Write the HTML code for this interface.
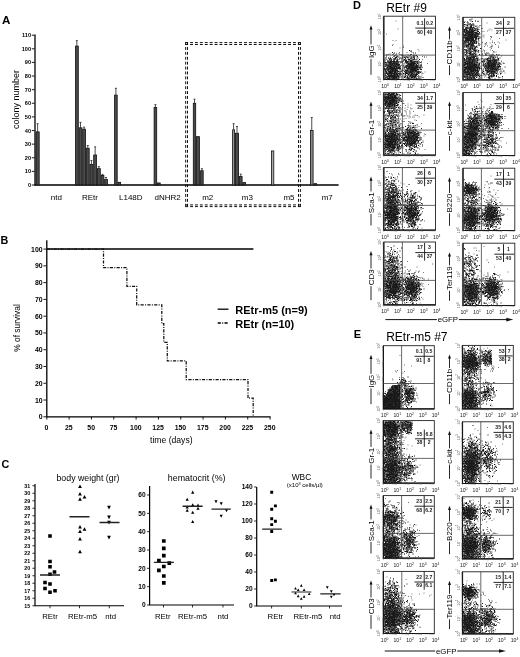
<!DOCTYPE html>
<html><head><meta charset="utf-8"><style>
html,body{margin:0;padding:0;background:#fff;}
body{filter:grayscale(1);}
svg{display:block;font-family:"Liberation Sans",sans-serif;}
</style></head><body>
<svg width="520" height="657" viewBox="0 0 520 657" font-family="Liberation Sans, sans-serif">
<defs><filter id="bl" filterUnits="userSpaceOnUse" x="0" y="0" width="520" height="657"><feGaussianBlur stdDeviation="0.4"/></filter></defs>
<rect width="520" height="657" fill="#fff"/>
<g id="A">
<text x="2" y="23.8" font-size="11.6" font-weight="bold">A</text>
<path d="M35 34.58V185.6" stroke="#000" stroke-width="1.3" fill="none"/>
<path d="M31.8 185h2.8M31.8 171.38h2.8M31.8 157.76h2.8M31.8 144.14h2.8M31.8 130.52h2.8M31.8 116.9h2.8M31.8 103.28h2.8M31.8 89.66h2.8M31.8 76.04h2.8M31.8 62.42h2.8M31.8 48.8h2.8M31.8 35.18h2.8" stroke="#000" stroke-width="0.9"/>
<g font-size="5.6" font-weight="bold" text-anchor="end">
<text x="31" y="187">0</text>
<text x="31" y="173.38">10</text>
<text x="31" y="159.76">20</text>
<text x="31" y="146.14">30</text>
<text x="31" y="132.52">40</text>
<text x="31" y="118.9">50</text>
<text x="31" y="105.28">60</text>
<text x="31" y="91.66">70</text>
<text x="31" y="78.04">80</text>
<text x="31" y="64.42">90</text>
<text x="31" y="50.8">100</text>
<text x="31" y="37.18">110</text>
</g>
<text transform="translate(18.6 99.5) rotate(-90)" font-size="9" text-anchor="middle">colony number</text>
<path d="M34.4 185H338.6" stroke="#000" stroke-width="1.4"/>
<path d="M37.6 131.88V123.71M36.6 123.71h2" stroke="#222" stroke-width="0.8"/>
<rect x="36" y="131.88" width="3.2" height="53.12" fill="#4a4a4a" stroke="#111" stroke-width="0.8"/>
<path d="M76.85 46.08V40.63M75.85 40.63h2" stroke="#222" stroke-width="0.8"/>
<rect x="75.4" y="46.08" width="2.9" height="138.92" fill="#4a4a4a" stroke="#111" stroke-width="0.8"/>
<path d="M80.5 127.8V122.35M79.5 122.35h2" stroke="#222" stroke-width="0.8"/>
<rect x="79.1" y="127.8" width="2.8" height="57.2" fill="#4a4a4a" stroke="#111" stroke-width="0.8"/>
<path d="M84.1 129.16V127.11M83.1 127.11h2" stroke="#222" stroke-width="0.8"/>
<rect x="82.7" y="129.16" width="2.8" height="55.84" fill="#4a4a4a" stroke="#111" stroke-width="0.8"/>
<path d="M87.75 148.23V145.5M86.75 145.5h2" stroke="#222" stroke-width="0.8"/>
<rect x="86.3" y="148.23" width="2.9" height="36.77" fill="#4a4a4a" stroke="#111" stroke-width="0.8"/>
<path d="M91.45 164.57V160.48M90.45 160.48h2" stroke="#222" stroke-width="0.8"/>
<rect x="90" y="164.57" width="2.9" height="20.43" fill="#4a4a4a" stroke="#111" stroke-width="0.8"/>
<path d="M95.15 155.04V146.86M94.15 146.86h2" stroke="#222" stroke-width="0.8"/>
<rect x="93.7" y="155.04" width="2.9" height="29.96" fill="#4a4a4a" stroke="#111" stroke-width="0.8"/>
<path d="M98.85 168.66V166.61M97.85 166.61h2" stroke="#222" stroke-width="0.8"/>
<rect x="97.4" y="168.66" width="2.9" height="16.34" fill="#4a4a4a" stroke="#111" stroke-width="0.8"/>
<path d="M102.5 175.47V174.38M101.5 174.38h2" stroke="#222" stroke-width="0.8"/>
<rect x="101.1" y="175.47" width="2.8" height="9.53" fill="#4a4a4a" stroke="#111" stroke-width="0.8"/>
<path d="M106.05 179.55V177.51M105.05 177.51h2" stroke="#222" stroke-width="0.8"/>
<rect x="104.7" y="179.55" width="2.7" height="5.45" fill="#4a4a4a" stroke="#111" stroke-width="0.8"/>
<path d="M115.9 95.11V88.3M114.9 88.3h2" stroke="#222" stroke-width="0.8"/>
<rect x="114.6" y="95.11" width="2.6" height="89.89" fill="#4a4a4a" stroke="#111" stroke-width="0.8"/>
<rect x="118" y="182.28" width="2.6" height="2.72" fill="#4a4a4a" stroke="#111" stroke-width="0.8"/>
<path d="M155.4 107.37V104.64M154.4 104.64h2" stroke="#222" stroke-width="0.8"/>
<rect x="154.1" y="107.37" width="2.6" height="77.63" fill="#4a4a4a" stroke="#111" stroke-width="0.8"/>
<rect x="157.5" y="182.96" width="2.7" height="2.04" fill="#4a4a4a" stroke="#111" stroke-width="0.8"/>
<path d="M194.5 103.28V99.19M193.5 99.19h2" stroke="#222" stroke-width="0.8"/>
<rect x="193.3" y="103.28" width="2.4" height="81.72" fill="#4a4a4a" stroke="#111" stroke-width="0.8"/>
<rect x="196.5" y="136.65" width="2.9" height="48.35" fill="#4a4a4a" stroke="#111" stroke-width="0.8"/>
<path d="M201.9 170.7V168.66M200.9 168.66h2" stroke="#222" stroke-width="0.8"/>
<rect x="200.6" y="170.7" width="2.6" height="14.3" fill="#4a4a4a" stroke="#111" stroke-width="0.8"/>
<path d="M233.6 129.84V123.71M232.6 123.71h2" stroke="#222" stroke-width="0.8"/>
<rect x="232.6" y="129.84" width="2" height="55.16" fill="#999" stroke="#111" stroke-width="0.8"/>
<path d="M237 133.24V126.43M236 126.43h2" stroke="#222" stroke-width="0.8"/>
<rect x="235.4" y="133.24" width="3.2" height="51.76" fill="#4a4a4a" stroke="#111" stroke-width="0.8"/>
<path d="M240.75 176.42V174.1M239.75 174.1h2" stroke="#222" stroke-width="0.8"/>
<rect x="239.4" y="176.42" width="2.7" height="8.58" fill="#4a4a4a" stroke="#111" stroke-width="0.8"/>
<rect x="242.9" y="182.55" width="2.6" height="2.45" fill="#4a4a4a" stroke="#111" stroke-width="0.8"/>
<rect x="271.4" y="150.95" width="2.4" height="34.05" fill="#aaa" stroke="#111" stroke-width="0.8"/>
<path d="M311.75 130.52V117.58M310.75 117.58h2" stroke="#222" stroke-width="0.8"/>
<rect x="310.4" y="130.52" width="2.7" height="54.48" fill="#888" stroke="#111" stroke-width="0.8"/>
<rect x="313.9" y="183.64" width="2.7" height="1.36" fill="#4a4a4a" stroke="#111" stroke-width="0.8"/>
<path d="M185.2 42.6H301M185.2 44.5H301M185.2 204.9H301M185.2 206.6H301" stroke="#111" stroke-width="1" stroke-dasharray="2.9 2" fill="none"/>
<path d="M185.7 42.1V207M187.5 42.1V207M298.5 42.1V207M300.4 42.1V207" stroke="#111" stroke-width="1" stroke-dasharray="2.9 2" fill="none"/>
<g font-size="8" text-anchor="middle">
<text x="56.3" y="199.5">ntd</text>
<text x="90" y="199.5">REtr</text>
<text x="130.8" y="199.5">L148D</text>
<text x="167.7" y="199.5">dNHR2</text>
<text x="207.7" y="199.5">m2</text>
<text x="247.3" y="199.5">m3</text>
<text x="289" y="199.5">m5</text>
<text x="327.2" y="199.5">m7</text>
</g>
</g>
<g id="B">
<text x="0.6" y="243.6" font-size="10.8" font-weight="bold">B</text>
<path d="M46.8 240.2V416.8H270.55" stroke="#000" stroke-width="1.3" fill="none"/>
<path d="M43.4 416.8h2.8M43.4 400.03h2.8M43.4 383.26h2.8M43.4 366.49h2.8M43.4 349.72h2.8M43.4 332.95h2.8M43.4 316.18h2.8M43.4 299.41h2.8M43.4 282.64h2.8M43.4 265.87h2.8M43.4 249.1h2.8" stroke="#000" stroke-width="0.9"/>
<path d="M46.8 416.8v2.8M69.12 416.8v2.8M91.45 416.8v2.8M113.77 416.8v2.8M136.1 416.8v2.8M158.43 416.8v2.8M180.75 416.8v2.8M203.07 416.8v2.8M225.4 416.8v2.8M247.73 416.8v2.8M270.05 416.8v2.8" stroke="#000" stroke-width="0.9"/>
<g font-size="6.9" font-weight="bold" text-anchor="end">
<text x="42.6" y="419.3">0</text>
<text x="42.6" y="402.53">10</text>
<text x="42.6" y="385.76">20</text>
<text x="42.6" y="368.99">30</text>
<text x="42.6" y="352.22">40</text>
<text x="42.6" y="335.45">50</text>
<text x="42.6" y="318.68">60</text>
<text x="42.6" y="301.91">70</text>
<text x="42.6" y="285.14">80</text>
<text x="42.6" y="268.37">90</text>
<text x="42.6" y="251.6">100</text>
</g>
<g font-size="6.9" font-weight="bold" text-anchor="middle">
<text x="46.5" y="430">0</text>
<text x="68.83" y="430">25</text>
<text x="91.15" y="430">50</text>
<text x="113.47" y="430">75</text>
<text x="135.8" y="430">100</text>
<text x="158.12" y="430">125</text>
<text x="180.45" y="430">150</text>
<text x="202.77" y="430">175</text>
<text x="225.1" y="430">200</text>
<text x="247.43" y="430">225</text>
<text x="269.75" y="430">250</text>
</g>
<text x="171.3" y="443.3" font-size="8.6" text-anchor="middle">time (days)</text>
<text transform="translate(19.9 328) rotate(-90)" font-size="8.4" text-anchor="middle">% of survival</text>
<path d="M46.8 249.1H253.4" stroke="#000" stroke-width="1.5"/>
<path d="M46.8 249.1H103.5V267.71H126.9V286.33H136.7V304.94H161.8V323.56H163.8V342.34H167.3V360.96H186.2V379.57H248V398.19H253.2V416.8" stroke="#111" stroke-width="1.25" fill="none" stroke-dasharray="3.2 1.3 1 1.3"/>
<path d="M217.7 309.2H228.5" stroke="#000" stroke-width="1.3"/>
<path d="M217.7 323H228.5" stroke="#000" stroke-width="1.3" stroke-dasharray="3.2 1.3 1 1.3"/>
<g font-size="11" font-weight="bold">
<text x="235.3" y="313.6">REtr-m5 (n=9)</text>
<text x="235.3" y="327.6">REtr (n=10)</text>
</g>
</g>
<g id="C">
<text x="1.5" y="468" font-size="10.8" font-weight="bold">C</text>
<path d="M35 484V605.75H124" stroke="#000" stroke-width="1.2" fill="none"/>
<path d="M32.4 605.75h2.5M32.4 598.25h2.5M32.4 590.75h2.5M32.4 583.25h2.5M32.4 575.75h2.5M32.4 568.25h2.5M32.4 560.75h2.5M32.4 553.25h2.5M32.4 545.75h2.5M32.4 538.25h2.5M32.4 530.75h2.5M32.4 523.25h2.5M32.4 515.75h2.5M32.4 508.25h2.5M32.4 500.75h2.5M32.4 493.25h2.5M32.4 485.75h2.5" stroke="#000" stroke-width="0.8"/>
<path d="M50 605.75v2.5M79.5 605.75v2.5M109.3 605.75v2.5" stroke="#000" stroke-width="0.8"/>
<g font-size="5.3" font-weight="bold" text-anchor="end">
<text x="30.2" y="607.65">15</text>
<text x="30.2" y="600.15">16</text>
<text x="30.2" y="592.65">17</text>
<text x="30.2" y="585.15">18</text>
<text x="30.2" y="577.65">19</text>
<text x="30.2" y="570.15">20</text>
<text x="30.2" y="562.65">21</text>
<text x="30.2" y="555.15">22</text>
<text x="30.2" y="547.65">23</text>
<text x="30.2" y="540.15">24</text>
<text x="30.2" y="532.65">25</text>
<text x="30.2" y="525.15">26</text>
<text x="30.2" y="517.65">27</text>
<text x="30.2" y="510.15">28</text>
<text x="30.2" y="502.65">29</text>
<text x="30.2" y="495.15">30</text>
<text x="30.2" y="487.65">31</text>
</g>
<text x="88" y="480.6" font-size="8.8" text-anchor="middle">body weight (gr)</text>
<g font-size="7.8" text-anchor="middle">
<text x="50" y="618.6">REtr</text>
<text x="82.5" y="618.6">REtr-m5</text>
<text x="110.6" y="618.6">ntd</text>
</g>
<path d="M48.2 534.2h3.6v3.6h-3.6zM48.2 559.7h3.6v3.6h-3.6zM48.2 564.95h3.6v3.6h-3.6zM52.7 570.2h3.6v3.6h-3.6zM48.2 572.45h3.6v3.6h-3.6zM43.2 580.7h3.6v3.6h-3.6zM48.2 582.2h3.6v3.6h-3.6zM43.2 586.7h3.6v3.6h-3.6zM48.2 590.45h3.6v3.6h-3.6zM53.2 588.95h3.6v3.6h-3.6zM80 484.45l1.9 3.61h-3.8zM80 491.95l1.9 3.61h-3.8zM80 497.2l1.9 3.61h-3.8zM84.5 494.95l1.9 3.61h-3.8zM80 524.95l1.9 3.61h-3.8zM84.5 527.2l1.9 3.61h-3.8zM80 529.45l1.9 3.61h-3.8zM80 536.95l1.9 3.61h-3.8zM80 549.7l1.9 3.61h-3.8zM109 509.4l1.9 -3.61h-3.8zM109 519.15l1.9 -3.61h-3.8zM109 524.4l1.9 -3.61h-3.8zM109 539.4l1.9 -3.61h-3.8z" fill="#000"/>
<path d="M40 575.1H60M69.5 516.8H89.5M99.5 522.5H119.5" stroke="#222" stroke-width="1.5"/>
<path d="M149.6 486V605H234" stroke="#000" stroke-width="1.2" fill="none"/>
<path d="M147 605h2.5M147 586.67h2.5M147 568.34h2.5M147 550.01h2.5M147 531.68h2.5M147 513.35h2.5M147 495.02h2.5" stroke="#000" stroke-width="0.8"/>
<path d="M163.5 605v2.5M192.5 605v2.5M223 605v2.5" stroke="#000" stroke-width="0.8"/>
<g font-size="6.6" font-weight="bold" text-anchor="end">
<text x="145.6" y="607.3">0</text>
<text x="145.6" y="588.97">10</text>
<text x="145.6" y="570.64">20</text>
<text x="145.6" y="552.31">30</text>
<text x="145.6" y="533.98">40</text>
<text x="145.6" y="515.65">50</text>
<text x="145.6" y="497.32">60</text>
</g>
<text x="196.7" y="480.7" font-size="8.9" text-anchor="middle">hematocrit (%)</text>
<g font-size="7.8" text-anchor="middle">
<text x="162.7" y="619.4">REtr</text>
<text x="192.5" y="619.4">REtr-m5</text>
<text x="223" y="619.4">ntd</text>
</g>
<path d="M161.95 539.15h3.7v3.7h-3.7zM161.95 546.45h3.7v3.7h-3.7zM161.95 553.75h3.7v3.7h-3.7zM157.05 558.85h3.7v3.7h-3.7zM167.45 561.25h3.7v3.7h-3.7zM161.95 564.65h3.7v3.7h-3.7zM157.05 568.55h3.7v3.7h-3.7zM161.95 574.15h3.7v3.7h-3.7zM161.95 581.05h3.7v3.7h-3.7zM192.7 490.6l1.6 3.04h-3.2zM187.2 497.8l1.6 3.04h-3.2zM192.7 503.3l1.6 3.04h-3.2zM198 503.6l1.6 3.04h-3.2zM187.2 505.4l1.6 3.04h-3.2zM187.2 508.8l1.6 3.04h-3.2zM198 506.7l1.6 3.04h-3.2zM192.7 510.7l1.6 3.04h-3.2zM192.7 520l1.6 3.04h-3.2zM216 503.2l1.6 -3.04h-3.2zM221.2 505.3l1.6 -3.04h-3.2zM226.5 512.2l1.6 -3.04h-3.2zM221.2 517.8l1.6 -3.04h-3.2z" fill="#000"/>
<path d="M153.9 562.4H173.9M182.6 506.2H202.7M211.5 509.1H230.8" stroke="#222" stroke-width="1.4"/>
<path d="M256.7 487V606H342" stroke="#000" stroke-width="1.2" fill="none"/>
<path d="M254.1 606h2.5M254.1 589h2.5M254.1 572h2.5M254.1 555h2.5M254.1 538h2.5M254.1 521h2.5M254.1 504h2.5M254.1 487h2.5" stroke="#000" stroke-width="0.8"/>
<path d="M271.6 606v2.5M301.3 606v2.5M329.5 606v2.5" stroke="#000" stroke-width="0.8"/>
<g font-size="6.6" font-weight="bold" text-anchor="end">
<text x="252.7" y="608.3">0</text>
<text x="252.7" y="591.3">20</text>
<text x="252.7" y="574.3">40</text>
<text x="252.7" y="557.3">60</text>
<text x="252.7" y="540.3">80</text>
<text x="252.7" y="523.3">100</text>
<text x="252.7" y="506.3">120</text>
<text x="252.7" y="489.3">140</text>
</g>
<text x="301.5" y="479.8" font-size="8.4" text-anchor="middle">WBC</text>
<text x="304.8" y="487.4" font-size="6" text-anchor="middle">(x10<tspan font-size="3.8" dy="-2">3</tspan><tspan dy="2"> cells/µl)</tspan></text>
<g font-size="7.8" text-anchor="middle">
<text x="275.4" y="619">REtr</text>
<text x="307.9" y="619">REtr-m5</text>
<text x="335.1" y="619">ntd</text>
</g>
<path d="M270.25 490.75h2.9v2.9h-2.9zM273.95 504.45h2.9v2.9h-2.9zM270.25 507.75h2.9v2.9h-2.9zM270.25 517.25h2.9v2.9h-2.9zM273.95 519.85h2.9v2.9h-2.9zM270.25 523.15h2.9v2.9h-2.9zM270.25 530.05h2.9v2.9h-2.9zM270.25 579.05h2.9v2.9h-2.9zM273.95 578.45h2.9v2.9h-2.9zM301.3 584l1.4 2.66h-2.8zM295.5 586.9l1.4 2.66h-2.8zM298.2 588.4l1.4 2.66h-2.8zM304.1 588.4l1.4 2.66h-2.8zM309.2 592.4l1.4 2.66h-2.8zM298.2 594.6l1.4 2.66h-2.8zM301.3 597.2l1.4 2.66h-2.8zM304.1 595l1.4 2.66h-2.8zM295.5 591.7l1.4 2.66h-2.8zM327.3 589l1.4 -2.66h-2.8zM331.3 593l1.4 -2.66h-2.8zM334 596.3l1.4 -2.66h-2.8zM331.3 598.5l1.4 -2.66h-2.8z" fill="#000"/>
<path d="M262.2 529.2H281.8M291.5 592H311.4M320.3 593.8H340.6" stroke="#222" stroke-width="1.2"/>
</g>
<g id="D">
<text x="353" y="9.2" font-size="11" font-weight="bold">D</text>
<text x="386.2" y="11.8" font-size="12">REtr #9</text>
<text x="353.8" y="338.3" font-size="11" font-weight="bold">E</text>
<text x="386.2" y="341" font-size="12">REtr-m5 #7</text>
<path d="M395.5 21h1M397.5 29h1M386 34h1M392.5 40.5h1m2 0h1M392.5 44.5h1M392 45.5h1M403 46h1M403 47.5h1M399.5 48h1M417.5 49.5h1M410.5 50.5h1M411 51h1m6.5 0h1M399 52.5h1m6.5 0h1m4 0h1M398.5 53.5h1M392 54.5h1m14.5 0h1m1.5 0h1M395 55h1m6 0h1m2.5 0h1m9 0h1M404.5 55.5h1m4 0h1M406 56.5h1m7 0h1m7 0h1M389.5 57h1m4 0h1m2 0h1m3 0h1m2.5 0h1m4 0h1.5m2 0h1.5m11 0h1M392 57.5h1m15 0h1M400 58h1M410 58.5h1.5M386 59h1m20 0h1m3 0h1m0 0h1m1 0h1M384.5 59.5h1m0.5 0h1m2.5 0h1m1 0h1m1 0h1m19.5 0h1m1.5 0h1m4.5 0h1M384.5 60h1m1.5 0h1m6 0h1m1 0h1m7.5 0h1M418 60.5h1M397.5 61h1m12 0h1m3.5 0h1M387 61.5h1m0 0h1m0.5 0h1m7 0h1m10 0h1m1 0h1m3.5 0h1m5 0h1M384.5 62h1m15.5 0h1M384.5 62.5h1m1 0h1m5 0h1m1 0h1m5 0h1m9 0h1m8.5 0h1M387 63h1m4 0h1m3.5 0h1m2.5 0h1m1 0h1m8 0h1.5m0 0h1M385.5 63.5h1.5m2 0h1m0 0h1m2 0h1m3 0h1m11 0h1m0 0h1m6.5 0h1m8.5 0h1M384.5 64h1m6 0h1m3.5 0h1m0.5 0h1m0.5 0h1m11 0h1m6 0h1m0 0h1m1 0h1M384.5 64.5h1.5m0 0h1m20 0h1m7.5 0h1M387 65h1m3.5 0h1m9 0h1m3 0h1m2 0h1M386 65.5h2m1.5 0h1.5m1 0h1m8 0h1m1 0h1m10.5 0h1m0 0h1M385.5 66h1m0.5 0h1m0.5 0h1m7.5 0h1m8.5 0h1m10.5 0h1M386 66.5h1m0 0h1m5 0h1m0 0h1m3.5 0h1m3 0h1m1 0h1m1 0h1m3.5 0h1m0.5 0h1m0 0h1m3.5 0h1M398 67h1m0 0h1m5 0h1m9 0h1m5.5 0h1M392 67.5h1m0.5 0h1m13.5 0h1m8 0h1m2 0h1m1 0h1M386.5 68h1m13 0h1m2.5 0h1m10 0h1M387.5 68.5h1m11 0h1m5.5 0h1m0 0h1m0.5 0h1m3 0h1m1 0h1m0 0h1.5M386 69h1.5m5.5 0h1m1 0h1m0 0h1m0 0h1m14.5 0h1m6.5 0h1M387.5 69.5h1m4 0h1m2.5 0h1.5m2.5 0h1m6 0h1m7.5 0h1M391 70h1m5 0h1m0.5 0h1m1 0h1.5m6 0h1M388.5 70.5h1m13.5 0h1m0.5 0h1m0 0h1m1.5 0h1.5M392.5 71h1m5 0h1m11 0h1m3.5 0h1m1.5 0h1M386 71.5h1m6.5 0h1m2.5 0h1.5m2.5 0h1m5.5 0h1m8 0h1.5M386.5 72h1m4 0h1m9 0h1m16 0h1m5 0h1M397 72.5h1m11.5 0h1m3 0h1.5m3.5 0h1M385 73h1.5m8 0h1m0.5 0h1m11 0h1.5m0.5 0h1.5M393 73.5h1m3.5 0h1m0.5 0h1m0 0h1m4 0h1m16.5 0h1M387.5 74h1m4 0h1m4.5 0h1.5m13.5 0h1M393 74.5h1m0.5 0h1m8 0h1M394 75h1.5m5 0h1m14.5 0h1m4.5 0h1M389 75.5h1m2.5 0h1m2 0h1m3.5 0h1m3.5 0h1m0.5 0h1m1.5 0h1m4.5 0h1m3 0h1M386.5 76h1m0.5 0h1m11.5 0h1m12 0h1M387 76.5h1m0.5 0h1m1.5 0h1m9 0h1m2 0h1m4 0h1m0 0h1m0 0h1m3.5 0h1m0 0h2m2 0h1M388.5 77h1m0.5 0h1m1 0h1.5m4 0h1m2.5 0h1m2 0h1m7 0h1m5 0h1M387.5 77.5h1m4 0h1m1 0h1m0 0h1m18 0h1M385 78h1m3.5 0h1m7.5 0h1m2 0h1m1 0h1m1 0h1m1 0h1m3 0h1m1.5 0h1m6.5 0h1M389 78.5h1m2 0h1m14.5 0h1m0.5 0h1.5m8 0h1M387 79h1m18 0h1m6 0h1m3.5 0h1" stroke="#777" stroke-width="1" fill="none"/>
<path d="M409 50.5h1M410.5 51.5h1M392 52.5h1M394 53h1m18 0h1m1 0h1M389.5 54h1m2.5 0h1m2 0h1M387.5 54.5h1m11 0h1m10.5 0h1M386 55h1m14.5 0h1m0 0h1m6.5 0h1m2.5 0h1M394.5 55.5h1m6 0h1m11 0h1m1.5 0h1M393.5 56h1m2 0h1m5 0h1m4 0h1m0 0h1m3 0h1m0 0h1m1 0h1M393.5 56.5h1m2 0h1m19.5 0h1M386 57h1m9.5 0h1m1 0h1m2.5 0h1m0.5 0h2m0.5 0h1.5m2 0h1m0.5 0h1m0.5 0h1.5m10 0h1M395 57.5h1m0 0h1m7 0h1.5m1.5 0h1m5 0h1.5M385 58h1m2 0h1m1 0h1m4.5 0h1m3 0h1m1 0h1m0 0h1m7.5 0h1.5m1 0h1.5m1.5 0h1m0 0h1M388.5 58.5h1m0.5 0h1m2.5 0h1m0 0h1.5m5.5 0h1m2.5 0h1m8 0h1M389.5 59h2.5m2 0h1.5m1.5 0h1m1 0h1m8 0h1m0.5 0h1m0 0h1M389 59.5h1m4.5 0h1m2 0h1m5.5 0h1.5m2.5 0h2m3 0h1.5m1 0h1m2.5 0h1M391 60h1m1 0h1m2.5 0h1m3.5 0h1m1 0h1m2 0h1m1 0h1m3 0h1m0.5 0h1M389.5 60.5h1m0.5 0h1m1.5 0h1m2.5 0h1m5.5 0h1m0.5 0h1m0 0h1m2.5 0h1.5m0 0h1M384.5 61h1m1.5 0h1m0 0h1m0.5 0h1m0 0h1.5m1 0h1.5m1.5 0h1m12.5 0h1m0.5 0h1.5m0 0h1m3 0h1M390 61.5h1.5m0.5 0h3m0.5 0h2.5m1.5 0h1m1 0h1m0 0h1m1.5 0h1m0 0h1m0 0h1.5m1.5 0h1m0 0h1m0.5 0h1m0.5 0h1.5m0 0h1m0.5 0h1m0.5 0h1M388 62h1m0 0h1m0 0h1m0 0h1m1 0h1m0 0h2m0 0h1m1 0h1m0.5 0h1m4.5 0h1m0 0h1m0.5 0h1m0 0h1m1 0h1.5m0.5 0h1m0 0h1m0.5 0h1.5m0 0h1M385 62.5h1.5m1.5 0h1m0 0h1m0 0h2m1 0h1.5m1 0h1m1 0h1m3 0h1m3 0h1m0.5 0h1.5m1 0h1m0.5 0h1m0 0h1m0 0h1m0 0h1m1.5 0h1m0 0h1m1 0h1m0 0h1M384.5 63h1m1 0h1m1 0h1m0.5 0h1m0 0h1.5m0.5 0h1m0 0h1m0 0h1.5m0.5 0h1.5m6 0h1m0.5 0h1m3.5 0h1m0.5 0h1m0 0h2m2.5 0h1M388.5 63.5h1m0 0h1m0 0h1m0.5 0h1.5m0 0h2m0.5 0h1.5m0 0h1m8 0h1m0 0h1.5m0.5 0h1m0 0h3.5m0 0h2m0.5 0h1.5M389 64h1.5m0.5 0h1m0 0h2m0 0h2m1 0h1m5.5 0h1m4 0h1.5m0 0h1.5m1 0h1m0 0h1.5M386.5 64.5h1m1 0h1m0 0h1.5m0.5 0h1.5m1 0h1.5m0.5 0h1m0 0h1m0 0h2m8 0h5m0 0h1.5m1.5 0h1M385 65h1m0 0h1m0.5 0h1.5m0 0h2m0 0h1m0.5 0h1.5m0 0h1m0 0h1.5m0.5 0h1m9 0h2m0 0h1.5m0 0h1m0 0h3m0 0h1m0 0h1m1 0h1.5m1 0h1m0 0h1M387.5 65.5h1m0 0h1m1.5 0h1m1 0h1m0.5 0h1m0 0h1m0 0h1m0 0h2m6.5 0h2m1 0h3m0 0h2.5m1.5 0h1m0 0h1M385 66h1m1.5 0h1.5m0 0h2.5m0 0h1m0 0h1m0 0h1.5m0 0h1m3 0h1m0 0h1m2.5 0h1m0.5 0h1m0 0h1m0.5 0h1m0 0h1m0 0h1.5m1.5 0h2.5m0.5 0h1.5m2 0h1m0 0h2M384.5 66.5h1m3 0h3m0 0h1m2 0h1.5m0 0h1m0.5 0h1m7 0h1m1 0h1.5m0 0h2.5m0 0h1.5m0 0h1m0.5 0h1.5m0 0h1m0 0h1.5M387.5 67h1m0 0h1.5m0.5 0h1m0 0h1m0 0h2m0 0h2.5m0.5 0h1m1 0h1.5m4.5 0h2m1 0h1m0 0h2m0 0h1m0 0h1.5m0.5 0h1m0.5 0h1m0 0h1m2.5 0h1M387 67.5h1m0.5 0h1m0 0h1.5m0 0h1.5m0 0h1m0.5 0h1m1 0h1m0.5 0h2.5m3.5 0h1m0 0h1m0.5 0h1m1.5 0h2m0 0h1.5m0 0h1.5m0 0h1.5m0 0h1m0 0h1.5m0 0h1m0 0h2M386 68h1m0 0h1.5m0 0h3m0.5 0h1m0 0h1.5m0 0h1m0.5 0h2m1 0h1m6 0h1m0 0h1m0 0h1.5m0 0h4.5m0.5 0h1m1.5 0h1m0.5 0h2m0 0h1M384 68.5h1m0.5 0h1m2 0h1m0 0h1.5m0 0h3m0 0h2.5m0 0h3.5m0 0h1m6.5 0h1.5m0 0h1.5m0.5 0h2m0 0h1m0 0h1m0 0h1m0.5 0h1M384.5 69h1m1.5 0h1.5m0 0h1m0 0h4m0 0h1m1 0h1m0 0h1m1.5 0h1m2.5 0h1m0.5 0h1m2 0h2m0.5 0h2m0 0h1.5m0.5 0h1m0 0h1.5m0 0h1m0 0h1m0.5 0h1M384.5 69.5h1m0 0h1m0 0h1m0.5 0h1.5m1 0h2.5m0 0h1.5m0 0h2m9 0h1m3 0h1.5m0 0h3m0 0h1m0 0h1m1 0h1m0 0h1m1 0h1m0 0h1M384.5 70h1m1.5 0h1m0.5 0h1m0 0h2m0.5 0h5m5 0h1m4 0h1m0.5 0h1m0.5 0h1.5m0 0h1.5m0 0h1m0.5 0h2m0 0h2M385 70.5h1m1.5 0h1m1.5 0h1.5m0.5 0h1.5m0 0h1m0.5 0h1m0 0h1m0 0h1m4 0h1m2 0h1m0 0h1m0 0h1m2 0h1.5m0 0h2.5m0 0h1m0 0h1m0 0h1M385 71h1m0 0h1m0.5 0h1m1.5 0h1.5m0 0h1.5m0 0h1m0 0h3m0 0h1m2.5 0h1m4.5 0h2.5m1 0h1.5m0 0h1m1 0h1m1.5 0h1.5M385.5 71.5h1m1.5 0h1m0 0h3m0 0h1.5m0.5 0h2m0.5 0h1m0.5 0h1.5m1 0h1m2.5 0h1m0.5 0h1m2 0h1m0.5 0h1.5m0 0h2m0 0h1m0.5 0h1.5m1.5 0h1.5m1 0h1M385 72h1m2 0h1.5m1 0h1.5m0 0h1m0.5 0h2m4 0h1m4 0h1.5m0 0h2m0 0h2.5m0 0h4.5m0 0h1m0 0h2m1 0h1M386 72.5h1m2 0h2m0 0h1.5m1.5 0h2.5m8.5 0h1.5m0 0h1m1 0h1m0.5 0h2.5m4 0h1.5m0 0h1m1 0h1M386 73h1m0 0h3.5m0 0h1.5m0 0h1m0 0h2m0 0h1.5m0 0h1m0 0h1m0.5 0h1m0 0h1m4 0h1m0 0h1m2.5 0h1m0.5 0h1.5m1 0h1.5m3 0h1m2.5 0h1M384.5 73.5h1m0.5 0h1m0.5 0h1m0.5 0h1m0 0h1m0 0h1m0 0h1.5m0 0h2m0.5 0h1m1 0h1m4 0h1m0.5 0h1m0.5 0h1m0 0h1m0.5 0h1m1.5 0h2m3 0h1.5m0.5 0h1.5M385 74h1m1 0h1m0 0h4m0 0h1m0.5 0h2m0 0h1m0.5 0h1m1 0h1m0 0h1m0 0h1m3 0h1m2 0h1.5m0 0h1m1 0h1m0 0h1m0 0h1m0 0h1.5m0.5 0h1M387 74.5h1.5m0 0h1m1 0h1.5m2 0h1m0.5 0h2.5m1.5 0h1m4.5 0h1m2 0h1m1.5 0h1.5m0.5 0h1m0 0h1m0 0h1.5m0 0h1m0 0h1M385 75h1m3.5 0h1m0 0h1.5m1 0h1.5m0.5 0h1m0.5 0h1.5m0.5 0h1m7.5 0h2m0 0h1m0 0h1.5m0.5 0h1.5M384.5 75.5h1m0 0h1m1.5 0h1m0.5 0h2.5m0 0h1m0 0h2.5m1.5 0h1m0.5 0h1m10.5 0h1.5m0 0h1m1 0h1m0.5 0h2M385.5 76h1m1 0h1m0.5 0h1.5m0.5 0h1.5m0 0h1m0 0h2.5m0 0h1.5m0.5 0h1.5m3 0h1m1.5 0h1m4.5 0h1.5m0 0h2m1 0h1m2.5 0h1M386.5 76.5h1m0.5 0h1m0 0h1m0 0h1.5m0 0h3.5m0 0h1m0 0h1m0 0h1m0 0h1m6 0h1m1 0h1m1.5 0h1m1.5 0h2m0 0h1m0 0h1M384.5 77h1.5m5.5 0h1m1 0h1m1 0h1m2 0h2m4 0h1m1 0h1m0 0h1m2.5 0h1.5m2 0h1m4 0h1M385.5 77.5h1m0 0h1m1.5 0h1m0.5 0h1m0 0h1m0.5 0h1m0 0h1m0 0h1m0 0h1m0.5 0h1m5.5 0h1m2 0h1.5m1 0h1m0.5 0h1m0 0h1m1 0h1m0.5 0h1m6 0h1M385.5 78h1.5m0.5 0h1m0.5 0h1m1 0h2m0 0h1m1 0h1.5m2 0h1m7 0h1m1 0h1m3.5 0h1m4 0h1m0.5 0h1M384.5 78.5h1m1.5 0h1m0 0h1m0.5 0h1m2 0h1.5m0 0h1m0.5 0h1m0 0h1m0 0h1m9.5 0h1m5.5 0h1m0.5 0h1.5M388 79h2.5m0 0h1.5m0 0h1.5m1 0h1m0.5 0h1m0.5 0h1m8.5 0h1m1.5 0h1m0 0h1.5m0 0h1m0.5 0h1m5 0h1" stroke="#1a1a1a" stroke-width="1" fill="none"/>
<rect x="383.8" y="16.2" width="51.7" height="63.3" fill="none" stroke="#222" stroke-width="0.9"/>
<path d="M383.8 16.2V79.5H435.5" fill="none" stroke="#111" stroke-width="1.2"/>
<path d="M402.7 16.2V79.5M383.8 55.1H435.5" stroke="#444" stroke-width="0.8"/>
<path d="M424.6 18.3V35.5M415.3 28.1H434.9" stroke="#111" stroke-width="0.9"/>
<g font-size="5.1" font-weight="bold" text-anchor="middle" fill="#222">
<text x="420" y="24.8">0.1</text>
<text x="429.5" y="24.8">0.2</text>
<text x="420" y="33.5">60</text>
<text x="429.5" y="33.5">40</text>
</g>
<g font-size="4" fill="#555">
<text transform="translate(380.8 79.5) rotate(-90)" text-anchor="middle">10<tspan font-size="2.6" dy="-1.2">0</tspan></text>
<text transform="translate(380.8 63.67) rotate(-90)" text-anchor="middle">10<tspan font-size="2.6" dy="-1.2">1</tspan></text>
<text transform="translate(380.8 47.85) rotate(-90)" text-anchor="middle">10<tspan font-size="2.6" dy="-1.2">2</tspan></text>
<text transform="translate(380.8 32.03) rotate(-90)" text-anchor="middle">10<tspan font-size="2.6" dy="-1.2">3</tspan></text>
<text transform="translate(380.8 16.2) rotate(-90)" text-anchor="middle">10<tspan font-size="2.6" dy="-1.2">4</tspan></text>
</g>
<path d="M382.6 79.5h1.8M383.8 79.5v1.8M382.6 74.74h1.2M387.69 79.5v1.2M382.6 71.95h1.2M389.97 79.5v1.2M382.6 69.97h1.2M391.58 79.5v1.2M382.6 68.44h1.2M392.83 79.5v1.2M382.6 67.19h1.2M393.86 79.5v1.2M382.6 66.13h1.2M394.72 79.5v1.2M382.6 65.21h1.2M395.47 79.5v1.2M382.6 64.4h1.2M396.13 79.5v1.2M382.6 63.67h1.8M396.73 79.5v1.8M382.6 58.91h1.2M400.62 79.5v1.2M382.6 56.12h1.2M402.89 79.5v1.2M382.6 54.15h1.2M404.51 79.5v1.2M382.6 52.61h1.2M405.76 79.5v1.2M382.6 51.36h1.2M406.78 79.5v1.2M382.6 50.3h1.2M407.65 79.5v1.2M382.6 49.38h1.2M408.4 79.5v1.2M382.6 48.57h1.2M409.06 79.5v1.2M382.6 47.85h1.8M409.65 79.5v1.8M382.6 43.09h1.2M413.54 79.5v1.2M382.6 40.3h1.2M415.82 79.5v1.2M382.6 38.32h1.2M417.43 79.5v1.2M382.6 36.79h1.2M418.68 79.5v1.2M382.6 35.54h1.2M419.71 79.5v1.2M382.6 34.48h1.2M420.57 79.5v1.2M382.6 33.56h1.2M421.32 79.5v1.2M382.6 32.75h1.2M421.98 79.5v1.2M382.6 32.03h1.8M422.57 79.5v1.8M382.6 27.26h1.2M426.47 79.5v1.2M382.6 24.47h1.2M428.74 79.5v1.2M382.6 22.5h1.2M430.36 79.5v1.2M382.6 20.96h1.2M431.61 79.5v1.2M382.6 19.71h1.2M432.63 79.5v1.2M382.6 18.65h1.2M433.5 79.5v1.2M382.6 17.73h1.2M434.25 79.5v1.2M382.6 16.92h1.2M434.91 79.5v1.2" stroke="#555" stroke-width="0.4"/>
<g font-size="5.1" fill="#1a1a1a" text-anchor="middle">
<text x="385" y="87.8">10<tspan font-size="3.4" dy="-1.8">0</tspan></text>
<text x="397.93" y="87.8">10<tspan font-size="3.4" dy="-1.8">1</tspan></text>
<text x="410.85" y="87.8">10<tspan font-size="3.4" dy="-1.8">2</tspan></text>
<text x="423.77" y="87.8">10<tspan font-size="3.4" dy="-1.8">3</tspan></text>
<text x="436.7" y="87.8">10<tspan font-size="3.4" dy="-1.8">4</tspan></text>
</g>
<path d="M371 28.2V44.4M371 58.9V74.8" stroke="#111" stroke-width="0.9"/>
<path d="M371 25.2l1.5 4.2h-3z" fill="#111"/>
<text transform="translate(373.9 51.65) rotate(-90)" font-size="8" text-anchor="middle">IgG</text>
<path d="M469.5 19.5h1M469 20h1.5M475 20.5h1M477.5 21h1M464.5 21.5h1m1.5 0h1m2.5 0h1m3.5 0h1M466.5 22.5h1M486.5 23h1M465 24.5h1M469 25h1m1.5 0h1M470 25.5h1m1 0h1M475 26h1M464 26.5h1M473 27h1M465.5 27.5h1M465 28h1m2 0h1m2 0h1M469 28.5h1M464.5 29h1m5.5 0h1m17.5 0h1M470 29.5h1m0 0h1m3 0h1m2 0h1.5M472 30h1m2 0h1m12.5 0h1m2 0h1M466.5 30.5h1M467 31h1m8 0h1m10 0h1M465 31.5h1m3 0h1m2.5 0h1m8 0h1m1 0h1M466 32h1m1 0h1m3.5 0h1M464 32.5h1m1 0h1m1 0h1m0.5 0h1m1 0h1M465 33h1m0.5 0h1.5m2 0h1m1.5 0h1m4 0h1M465 33.5h1m3.5 0h1m1 0h1.5m2 0h1.5m1.5 0h1M466 34h1.5m10 0h1M464.5 34.5h1m0.5 0h1m7 0h1m2 0h1m0 0h1M464.5 35h1.5m3.5 0h1m2 0h1m3 0h1m6 0h1M466.5 35.5h1m7.5 0h1M464 36h1m17.5 0h1M466.5 36.5h1m5.5 0h1m16 0h1m0 0h1M464 37h1m5 0h1.5m4.5 0h1m3 0h1m2.5 0h1M464 37.5h1m1 0h1m24 0h1M466 38h1m4.5 0h1m2.5 0h1m3 0h1M463.5 38.5h1m6 0h1m7.5 0h1m19 0h1M464.5 39h1m3.5 0h1m0.5 0h1m18.5 0h1M465 39.5h1m4 0h1m7 0h1M464.5 40h1m40 0h1M475 40.5h1M469 41h1m0.5 0h1m2 0h1m4 0h1m12.5 0h1M466.5 41.5h1M469 42h1m0 0h2m6 0h1m18.5 0h1M482 42.5h1m3 0h1m5 0h1m1 0h1M464 43h1m2 0h1m21.5 0h1m3.5 0h1m4 0h1M468 43.5h1m0 0h1m4 0h1m1 0h1m8 0h1M464 44h1m5.5 0h1m13 0h1m0.5 0h1M464 44.5h1m1 0h1m0.5 0h1m3 0h1m7 0h1m14.5 0h1M463.5 45h1m0.5 0h1m0 0h1m0.5 0h1m1.5 0h1m8 0h1m5 0h1m5.5 0h1M468 45.5h1m1 0h1M465 46h1m4.5 0h1.5m0 0h1m0 0h1m13 0h1m3.5 0h1.5m5 0h1M466.5 46.5h1m2.5 0h1m2 0h1m1 0h1m8 0h1m5.5 0h1.5M466 47h1m24 0h1.5M465.5 47.5h1.5m5 0h1m0.5 0h1m15 0h1m7.5 0h1M473.5 48h1M481 48.5h1m9 0h1M470.5 49h1M466.5 49.5h1m2 0h1m0 0h1M467.5 50h1m2 0h1m11.5 0h1m6 0h1M492 50.5h1M464 51h1m1.5 0h1.5m1.5 0h1m1 0h1m7 0h1M469.5 51.5h1m1.5 0h1m8.5 0h1m10.5 0h1.5M471 52h1m2.5 0h1m2.5 0h1m16.5 0h1M467 52.5h1m5 0h1m0.5 0h1m2.5 0h1m14.5 0h1M466 53h1m0 0h1.5m8 0h1m6.5 0h1m7.5 0h1M472.5 53.5h1m14 0h1M471.5 54h1m2.5 0h1m13 0h1M470 54.5h1m0 0h1m2.5 0h1m16 0h1M466 55h1m5 0h1m2.5 0h1m4.5 0h1m3.5 0h1m1 0h1m0.5 0h1M469.5 55.5h1.5m2.5 0h1M465.5 56h1m16 0h1m8.5 0h1m1 0h1m6 0h1M463.5 56.5h1m28.5 0h1M465.5 57h1m4.5 0h1m4 0h1m11.5 0h1m0.5 0h1m0 0h1m0.5 0h1m1.5 0h1M468 57.5h1m21 0h1m4 0h1M463.5 58h1m6.5 0h1m6 0h1m12.5 0h1m4.5 0h1M463.5 58.5h1m4.5 0h1m1 0h1m9 0h1m0.5 0h1m5 0h1m0.5 0h1M466.5 59h1m6 0h1m1 0h1m1 0h1m0 0h1m1 0h1m3.5 0h1m7.5 0h1M467.5 59.5h1m5.5 0h1m3 0h1m5.5 0h1m4 0h1m1 0h1.5m1 0h1M479 60h1m0.5 0h1m0 0h1m13 0h1M465.5 60.5h1m3.5 0h1m3.5 0h1m9 0h1m12.5 0h1.5M464.5 61h1m0.5 0h1m3.5 0h1m4.5 0h1m19.5 0h1m3.5 0h1M464 61.5h2.5m3.5 0h1.5m13 0h1m2.5 0h1m8.5 0h1m2.5 0h1M468 62h1m2 0h1.5m6 0h1m2.5 0h1m0 0h1m11 0h1m0.5 0h1M466.5 62.5h1m1 0h1m4 0h1m1.5 0h1m0.5 0h1m1 0h1m2 0h1m3 0h1m12 0h1M474 63h1m5.5 0h1m2 0h1m0 0h1m1.5 0h1m10 0h1m2.5 0h1m0.5 0h1M464.5 63.5h1m23.5 0h1m3 0h1m6 0h1M464 64h1m4.5 0h1m3 0h1m1 0h1m2.5 0h1m7 0h1m1 0h1m1.5 0h1m3.5 0h1M465.5 64.5h1m4.5 0h1.5m11.5 0h1m8.5 0h1m0.5 0h1.5m2.5 0h1M470 65h1m0 0h1m0 0h1m10 0h1m1.5 0h1m3 0h1.5m4.5 0h1M463.5 65.5h1m3 0h1.5m2 0h1m1.5 0h1m3.5 0h1m4.5 0h1m0 0h1m7.5 0h1M463.5 66h1m3.5 0h1m0.5 0h1m4.5 0h1m3.5 0h1m5 0h1M480.5 66.5h1m11 0h1m1 0h1m0 0h1M466.5 67h1m3 0h1m14.5 0h1M467 67.5h1m0.5 0h1m4 0h1m15.5 0h1m0.5 0h1M466 68h1m0 0h1m6.5 0h1m8.5 0h1m5 0h1m3 0h1m5 0h1M474.5 68.5h1m2 0h1.5m11 0h1m4.5 0h1m0 0h1M464.5 69h1m7.5 0h1m15 0h1m10.5 0h1m0.5 0h1M467 69.5h1m11 0h1m7.5 0h1M466 70h1m11 0h1m3.5 0h1m1.5 0h1m7 0h1m4 0h1M465 70.5h1m4 0h1m1 0h1.5m1 0h1m7 0h1m6.5 0h1.5M482 71h1m8.5 0h1m2 0h1M463.5 71.5h1m0.5 0h1.5m20 0h1M465.5 72h1m9 0h1.5m5.5 0h1m1 0h1M466 72.5h1m5.5 0h1m17 0h1M487 73h1m0.5 0h1m4.5 0h1m9.5 0h1M467 73.5h2m4 0h1m0.5 0h1m3 0h1m3.5 0h1m2 0h1m8 0h1M469.5 74h1m0 0h1m2.5 0h1m0 0h1.5m0 0h1m0 0h1m1 0h1m4 0h1m7.5 0h1m2.5 0h1M470 74.5h1m1.5 0h1.5m2 0h1m2 0h1M464 75h1m4.5 0h1m0.5 0h1m1.5 0h1m9.5 0h1m5.5 0h1M466 75.5h1m2 0h1m3 0h2m7.5 0h1M470 76h1.5m0.5 0h1m8 0h1m3 0h1m5.5 0h1M465.5 76.5h1m8.5 0h1m14 0h1m1.5 0h1.5M465 77h1m5 0h1m1 0h1m10 0h1M470 77.5h1.5m0 0h1m14 0h1m11 0h2M470 78h1m3 0h1m6.5 0h1m9 0h1m9.5 0h1M469.5 78.5h1m2 0h1.5m0 0h1m3.5 0h1m10.5 0h1M468 79h1m1.5 0h1m6.5 0h1m19.5 0h1M468 79.5h1" stroke="#777" stroke-width="1" fill="none"/>
<path d="M471.5 19h1M470.5 20h1M472 21.5h1m4.5 0h1M464 22.5h1M467 23h1m0 0h1M469.5 23.5h1M470 24h1m1 0h2M464 24.5h1m1.5 0h1m1 0h1m1 0h1M464.5 25h1m2 0h1m2.5 0h1m1 0h1.5M466.5 25.5h1.5m3 0h1m7.5 0h1M471 26h1m1.5 0h1m2 0h1M470 26.5h1m0 0h1m3.5 0h1M465.5 27h1m0.5 0h1m0.5 0h1m1 0h1m7 0h1M466 27.5h1.5m2 0h1.5m0 0h1m0.5 0h1.5M465.5 28h1.5m0 0h1m0.5 0h1m2.5 0h1m0.5 0h1.5m1.5 0h1.5M465.5 28.5h1m1 0h1m1 0h1.5m0.5 0h1.5m1.5 0h1m0 0h1m5 0h1M465.5 29h1m0 0h1m2 0h1m1.5 0h1m0.5 0h2m2 0h1M463.5 29.5h1.5m0 0h2m2 0h1.5m0 0h1m0.5 0h1.5m2 0h1m0.5 0h1M465.5 30h1.5m0.5 0h1m0.5 0h1.5m0 0h1.5m0.5 0h1m3.5 0h1M464 30.5h1m0.5 0h1.5m0 0h1m1 0h1m0.5 0h2m0 0h1m0 0h2m0 0h1M464 31h1m1.5 0h1m0 0h1m0.5 0h1.5m1 0h2m3.5 0h1.5M463.5 31.5h1.5m1 0h1m1 0h1.5m0 0h1m0 0h2.5m0 0h1m3 0h1m0 0h1M465.5 32h1m0.5 0h1.5m0 0h4.5m0 0h2.5M464.5 32.5h1.5m1 0h1.5m0 0h1.5m0 0h2m0 0h1m0.5 0h1m0 0h1.5m0 0h1m2 0h1M466 33h1m0.5 0h1.5m0 0h1.5m0 0h2.5m1 0h2m0.5 0h1.5M466 33.5h2m0.5 0h1.5m1 0h1m0.5 0h1.5m2 0h1m0 0h1m0.5 0h1M463.5 34h1m0.5 0h1m1.5 0h3.5m0 0h1.5m0 0h1m0 0h1m0.5 0h2m0 0h1m0 0h1m0.5 0h1M463.5 34.5h1m0.5 0h1m1.5 0h4.5m0 0h1.5m0 0h1m0.5 0h1.5m2 0h1M465.5 35h3m0 0h1.5m0 0h1.5m0 0h1.5m0 0h4M464 35.5h1.5m0 0h1.5m0.5 0h1m0 0h2m0 0h1.5m0 0h1.5m0.5 0h1.5m1 0h1m0 0h1M463.5 36h1m0 0h2m0.5 0h5.5m0 0h1m0.5 0h1.5m1 0h1.5M467.5 36.5h1m0 0h1.5m0 0h3m1 0h2m0 0h1m0 0h1m0.5 0h1M464.5 37h2m0 0h3m0 0h1m0.5 0h1m0 0h2m0 0h2.5m1.5 0h1M463.5 37.5h1m0.5 0h1m0.5 0h2m0 0h1m0 0h4m0 0h2.5m0 0h1M464.5 38h2m0 0h3m0 0h1m0.5 0h1m1.5 0h1m2 0h1m2 0h1M465 38.5h1.5m0 0h3m0 0h1.5m0 0h2m0 0h1m1 0h1m0 0h1m1 0h1M465 39h1m0 0h1.5m1 0h1m0 0h1m0.5 0h1.5m0 0h1.5m1.5 0h1m0 0h1M466 39.5h2m0 0h1m0 0h1m1 0h3m1 0h1.5M465 40h3.5m0 0h2m0 0h3m0 0h1m3.5 0h1M463.5 40.5h1m0.5 0h5.5m0 0h1.5m0 0h3M465.5 41h1m1.5 0h1m1 0h1m0.5 0h2.5m0 0h2m0 0h1M464 41.5h1m0.5 0h1m1 0h1m1.5 0h1m0 0h1m1 0h1m0.5 0h1m0.5 0h1M465 42h1m0 0h1.5m0.5 0h1m2.5 0h1.5m0.5 0h1.5m1.5 0h1M464.5 42.5h1.5m0.5 0h1m0.5 0h1m1 0h1.5m0.5 0h1m0.5 0h1.5m0.5 0h1.5M464.5 43h1m5 0h1m1.5 0h2m1 0h1M463.5 43.5h1m1 0h1m2 0h1m0 0h2m0.5 0h1.5m1 0h1m0 0h1m2 0h1M468.5 44h1.5m0 0h1m0.5 0h2.5m4 0h1M468 44.5h2.5m0.5 0h1m0.5 0h1M464.5 45h1m0 0h1m0.5 0h1m3.5 0h1.5m0 0h1M466 45.5h1.5m0 0h1m1 0h1m0 0h1.5m0 0h1m0.5 0h1m4 0h1M464 46h1m0.5 0h1m1 0h1m3 0h1m0 0h1m3 0h1M466 46.5h1m0.5 0h2m1 0h1m2 0h1m1.5 0h1M464 47h1m2.5 0h1.5m1.5 0h1m0.5 0h1m1 0h1M469.5 47.5h1m0 0h1m3.5 0h1m0.5 0h1M467 48h1m0.5 0h1m0.5 0h1m0 0h2m2 0h1M468.5 48.5h1m0 0h1m0 0h1m0.5 0h1m1 0h1m5 0h1M468.5 49h1.5m0 0h1m1 0h1m0 0h1m0.5 0h1.5M464 49.5h1m0.5 0h1m2 0h1m0.5 0h1m1.5 0h1m0 0h1M465 50h1.5m7.5 0h1m0.5 0h1m0 0h1M465.5 50.5h1m0 0h1m0 0h1m1 0h1m3 0h1.5m0 0h1m2 0h1M466 51h1m1.5 0h1.5m0.5 0h1m1.5 0h1m0 0h1.5m0.5 0h1m7 0h1M466 51.5h1m1.5 0h1m2 0h1m2.5 0h1m1.5 0h1M465.5 52h1m0 0h1m2.5 0h1M464.5 52.5h1m1 0h1m2 0h1.5M464 53h1m3.5 0h1.5m0 0h1m0 0h1m3 0h1m10 0h1m0.5 0h1M466 53.5h1m1.5 0h1.5m0 0h1m3 0h1M466.5 54h1m2 0h1m1.5 0h1m0 0h1m8 0h1m2 0h1M464.5 54.5h1.5m3.5 0h1m0 0h1m0 0h1m0.5 0h1m1 0h1.5m2.5 0h1m5.5 0h1m6 0h1m2.5 0h1M469.5 55h1m0.5 0h1m0.5 0h1m1.5 0h1m14.5 0h1m6 0h1m0 0h1M465.5 55.5h1m0 0h1m4 0h1m0 0h1m12 0h1m5 0h1m1 0h1M468.5 56h1.5m1.5 0h2m0.5 0h2m13.5 0h1.5m0 0h1M467 56.5h1m2.5 0h1m1 0h2m0 0h1.5m0.5 0h1m14 0h1M466 57h1m1.5 0h1m1 0h1m0 0h1m0.5 0h1m15.5 0h1m4 0h1m1 0h1.5M466.5 57.5h1m1 0h1m0 0h1.5m0.5 0h2.5m0 0h1m17.5 0h1.5M467 58h1.5m0.5 0h1m0 0h1m2.5 0h1.5m1 0h1m0 0h1m10 0h1m0.5 0h1m0 0h1m1 0h1m0 0h1m5 0h1M464 58.5h1m1 0h1.5m0.5 0h1m1 0h1.5m1.5 0h1.5m1.5 0h1.5m4 0h1m4.5 0h2m0.5 0h1m2 0h1m4.5 0h1M466 59h1m0 0h1.5m0.5 0h1.5m0 0h1m0 0h1.5m2 0h1m0 0h1.5m7 0h1m0.5 0h1m3 0h1m3 0h1.5m1.5 0h1M464 59.5h1m0.5 0h1m2 0h2.5m0.5 0h1m0 0h2m2.5 0h1m8.5 0h1.5m5 0h1m1.5 0h1m1.5 0h1M465 60h1.5m1.5 0h1m0 0h2m0 0h1m0.5 0h1m0 0h1m0.5 0h1m7 0h1m0 0h1m1.5 0h1m0 0h1.5m0.5 0h1m0 0h1m1 0h1m0.5 0h1.5m0.5 0h1.5M464 60.5h1m1.5 0h1m0 0h1m0 0h1m0 0h1m1.5 0h1.5m0 0h1m1 0h1m0.5 0h1.5m8.5 0h2m0 0h1m0 0h1.5m0.5 0h1.5m0.5 0h1m0 0h1m0.5 0h1M468 61h2.5m0.5 0h1.5m1 0h1.5m8 0h1m5 0h1m0.5 0h2.5m0 0h1.5m0.5 0h2M466 61.5h1.5m0 0h1m0.5 0h1m2 0h1.5m0 0h1m0 0h1m1 0h1m3.5 0h1m0 0h1m1 0h1m2.5 0h1m0 0h2.5m1.5 0h1m0 0h1.5m0.5 0h1M465.5 62h1m0.5 0h1.5m0 0h1.5m0 0h1.5m1 0h1.5m0.5 0h1.5m0.5 0h1m8.5 0h1m0.5 0h4m0 0h2m0.5 0h1m0.5 0h1.5M464 62.5h1m0 0h1m1 0h1m1 0h1m0 0h1m0 0h2m1.5 0h1m1 0h1.5m9.5 0h2m0.5 0h2m1 0h1.5m0 0h1m0.5 0h1m1.5 0h1M464 63h2m0.5 0h1.5m0 0h1m0 0h4m0.5 0h1m8.5 0h1m3.5 0h2m0 0h1m1.5 0h2m0 0h2m0.5 0h1m0 0h1M465 63.5h2m0 0h1m0 0h1.5m0 0h1m0 0h2m0 0h1m0 0h2m1 0h1m1.5 0h1m5 0h1m1 0h1m0 0h1.5m0 0h1m0 0h1m0 0h2m0 0h2m0 0h1m2.5 0h1m3.5 0h1M465.5 64h2m1 0h1.5m1 0h1m0 0h1.5m0.5 0h1.5m1 0h1m0.5 0h1m4 0h1m1.5 0h1.5m1 0h1.5m0 0h1.5m0 0h1m0.5 0h1.5m0 0h2.5m1 0h1.5M464 64.5h2m0.5 0h2m0 0h2.5m1.5 0h2.5m0 0h1m0 0h1m2 0h1m7.5 0h2.5m0.5 0h3.5m0 0h1.5m2 0h1.5m1.5 0h1M463.5 65h1.5m2 0h1.5m1 0h1m0 0h1m0 0h1m1 0h1m0 0h1m0 0h1m0.5 0h1m0 0h1.5m3 0h1m0 0h1m0.5 0h1m0.5 0h2m0 0h1.5m0.5 0h1.5m0 0h1m0 0h3m0.5 0h1.5M464 65.5h1.5m1 0h1.5m0.5 0h3m0 0h2.5m0 0h1.5m0.5 0h1.5m1 0h1m3.5 0h1m1.5 0h1m0 0h1m0.5 0h5.5m0 0h1.5m0 0h1m3 0h1M464 66h1m4 0h1m0 0h3m0 0h1.5m0 0h1m0 0h1.5m8 0h1m1 0h1m0.5 0h1m0 0h3m0 0h2m0 0h1.5m1 0h1m0 0h1M465.5 66.5h1m0 0h2m0 0h4.5m0.5 0h3m0 0h1m0 0h1m0 0h1m4 0h1m1 0h1.5m1 0h1m0 0h1.5m0 0h2m0.5 0h2m1.5 0h1.5m0 0h1m0 0h1m0 0h1M464.5 67h1m0 0h1m1.5 0h1m0 0h1m0 0h1m0 0h2m0 0h1m0 0h2.5m0 0h1m0.5 0h1m5 0h1m2 0h1m0.5 0h1.5m0 0h3.5m0 0h1m0 0h1.5m0.5 0h1m1 0h1m5 0h1M464 67.5h1m0 0h1m0 0h1.5m0 0h1.5m0 0h1m0 0h2m0 0h2m0 0h1.5m0 0h1.5m0 0h2m0 0h1m4.5 0h1m1 0h2.5m0.5 0h1m0.5 0h1m0 0h1.5m0 0h1m0 0h1m1 0h1m0.5 0h1M464.5 68h2m0 0h1m0 0h3.5m0 0h2m0 0h2m0.5 0h2m0 0h1m2 0h1m4 0h2.5m0 0h1m0 0h1.5m0 0h1m0 0h2.5m0.5 0h2.5m0.5 0h1m1 0h1M464.5 68.5h3m0.5 0h1m0 0h1m0 0h2.5m0 0h2m1 0h1m0.5 0h1m1 0h1m0.5 0h1m3.5 0h1m0.5 0h1m1 0h1m0 0h1m0 0h1m0 0h1.5m0 0h1m0.5 0h1.5m1 0h1.5M465.5 69h1m0 0h5.5m0 0h1.5m0 0h1.5m0 0h1m0.5 0h1m3.5 0h1m1 0h1m3 0h1m0 0h1m2 0h1m1 0h2.5m0 0h1M464 69.5h1m0 0h1.5m1.5 0h2m0 0h2.5m0 0h1.5m0 0h2m1 0h1m7.5 0h1m1.5 0h1m1 0h2m0 0h1m0.5 0h2m0 0h1.5m0.5 0h1m0 0h1m0 0h1M467 70h2.5m0.5 0h2m0 0h5m0 0h1m0.5 0h1.5m5.5 0h1.5m0.5 0h1m1 0h2m0.5 0h1.5m0 0h1m0 0h1.5m0 0h1.5m0 0h1M463.5 70.5h2m1.5 0h1.5m1 0h1m0.5 0h1.5m0.5 0h1.5m0.5 0h1m0 0h2.5m6.5 0h1.5m0 0h2m0 0h1.5m1.5 0h1m2 0h1m0.5 0h1.5M464 71h1m0 0h1m0.5 0h2m0 0h3.5m0 0h1m0.5 0h2.5m0.5 0h1m11.5 0h1.5m0.5 0h1m0 0h2m6.5 0h1m1.5 0h1.5M464.5 71.5h1m1 0h2.5m1 0h4.5m0.5 0h1m1 0h2m4 0h1m3 0h1m0 0h1m0 0h1.5m0 0h3.5m0 0h1.5m1 0h1M463.5 72h1m0.5 0h1m0 0h2.5m0 0h1.5m0.5 0h1m0 0h2.5m2.5 0h1.5m8 0h1.5m0.5 0h1m1 0h1m1.5 0h1m0.5 0h1m0 0h1m1 0h1m1.5 0h1m1 0h1M464 72.5h2.5m0 0h2m0 0h2m0.5 0h1m2 0h1m1 0h1.5m0 0h1m3.5 0h1m4 0h1m0.5 0h1m1.5 0h1m0.5 0h1m0 0h1.5m0.5 0h1M465.5 73h1m1 0h1m1 0h2.5m0.5 0h1.5m1 0h1.5m0 0h1m0 0h1m11.5 0h1.5m0.5 0h1M463.5 73.5h1m0 0h1m1 0h1m1 0h1.5m0.5 0h1m0.5 0h1.5m0 0h1m1 0h1m0 0h1m0 0h1m4 0h1m5.5 0h1m0.5 0h1m0 0h1m0.5 0h1.5m1.5 0h1m3 0h1.5M464.5 74h1m0 0h1m0 0h1m0.5 0h2m0 0h1m0 0h2m1.5 0h1m7.5 0h1m0 0h1m1.5 0h1m1.5 0h1m1 0h1.5m0 0h1m4 0h1m1.5 0h1M465.5 74.5h2.5m0 0h2.5m1.5 0h1m2 0h1m1 0h1.5m9 0h1m0 0h1m3.5 0h1.5M463.5 75h1m0 0h1m1.5 0h1m2.5 0h1m0.5 0h2m0 0h1m0.5 0h1.5m0.5 0h1m7 0h1m1.5 0h1m2 0h1.5M466.5 75.5h1m2.5 0h1.5m0 0h1m0 0h1m1 0h1m0.5 0h1.5m0.5 0h1m0.5 0h1m0.5 0h1m7.5 0h1m0 0h1m1.5 0h1m0 0h1m1 0h1M463.5 76h1m0.5 0h1m1.5 0h1m0 0h1.5m2.5 0h1m0 0h1m0 0h2m0 0h1m2 0h1m7.5 0h1m2 0h1m0 0h1M464 76.5h1m1.5 0h1.5m1.5 0h1m2 0h1m0 0h1m4.5 0h1m9 0h1m1 0h1m1.5 0h1m1.5 0h1m5 0h1M463.5 77h1m0 0h1m0.5 0h1.5m1 0h1m0 0h2m0.5 0h1m4.5 0h1m12 0h1m0 0h1m5.5 0h1M464.5 77.5h1m2 0h1m1 0h1m2.5 0h1m0 0h1m1 0h1m11 0h1m0 0h1M465 78h1m0 0h1m0 0h1m0.5 0h1.5m1 0h1.5m0.5 0h1m5 0h1m0 0h1M467 78.5h1m0.5 0h1m1.5 0h1m2.5 0h1m13 0h1.5M466.5 79h1m2 0h1.5m1.5 0h1m1 0h1m19 0h1" stroke="#1a1a1a" stroke-width="1" fill="none"/>
<rect x="463" y="17.3" width="51.8" height="62.5" fill="none" stroke="#222" stroke-width="0.9"/>
<path d="M463 17.3V79.8H514.8" fill="none" stroke="#111" stroke-width="1.2"/>
<path d="M481.7 17.3V79.8M463 55.3H514.8" stroke="#444" stroke-width="0.8"/>
<path d="M503.5 18.3V36.1M494.3 28.3H514.2" stroke="#111" stroke-width="0.9"/>
<g font-size="5.1" font-weight="bold" text-anchor="middle" fill="#222">
<text x="498.9" y="25">34</text>
<text x="508.4" y="25">2</text>
<text x="498.9" y="33.7">27</text>
<text x="508.4" y="33.7">37</text>
</g>
<g font-size="4" fill="#555">
<text transform="translate(460 79.8) rotate(-90)" text-anchor="middle">10<tspan font-size="2.6" dy="-1.2">0</tspan></text>
<text transform="translate(460 64.17) rotate(-90)" text-anchor="middle">10<tspan font-size="2.6" dy="-1.2">1</tspan></text>
<text transform="translate(460 48.55) rotate(-90)" text-anchor="middle">10<tspan font-size="2.6" dy="-1.2">2</tspan></text>
<text transform="translate(460 32.92) rotate(-90)" text-anchor="middle">10<tspan font-size="2.6" dy="-1.2">3</tspan></text>
<text transform="translate(460 17.3) rotate(-90)" text-anchor="middle">10<tspan font-size="2.6" dy="-1.2">4</tspan></text>
</g>
<path d="M461.8 79.8h1.8M463 79.8v1.8M461.8 75.1h1.2M466.9 79.8v1.2M461.8 72.34h1.2M469.18 79.8v1.2M461.8 70.39h1.2M470.8 79.8v1.2M461.8 68.88h1.2M472.05 79.8v1.2M461.8 67.64h1.2M473.08 79.8v1.2M461.8 66.6h1.2M473.94 79.8v1.2M461.8 65.69h1.2M474.7 79.8v1.2M461.8 64.89h1.2M475.36 79.8v1.2M461.8 64.17h1.8M475.95 79.8v1.8M461.8 59.47h1.2M479.85 79.8v1.2M461.8 56.72h1.2M482.13 79.8v1.2M461.8 54.77h1.2M483.75 79.8v1.2M461.8 53.25h1.2M485 79.8v1.2M461.8 52.02h1.2M486.03 79.8v1.2M461.8 50.97h1.2M486.89 79.8v1.2M461.8 50.06h1.2M487.65 79.8v1.2M461.8 49.26h1.2M488.31 79.8v1.2M461.8 48.55h1.8M488.9 79.8v1.8M461.8 43.85h1.2M492.8 79.8v1.2M461.8 41.09h1.2M495.08 79.8v1.2M461.8 39.14h1.2M496.7 79.8v1.2M461.8 37.63h1.2M497.95 79.8v1.2M461.8 36.39h1.2M498.98 79.8v1.2M461.8 35.35h1.2M499.84 79.8v1.2M461.8 34.44h1.2M500.6 79.8v1.2M461.8 33.64h1.2M501.26 79.8v1.2M461.8 32.92h1.8M501.85 79.8v1.8M461.8 28.22h1.2M505.75 79.8v1.2M461.8 25.47h1.2M508.03 79.8v1.2M461.8 23.52h1.2M509.65 79.8v1.2M461.8 22h1.2M510.9 79.8v1.2M461.8 20.77h1.2M511.93 79.8v1.2M461.8 19.72h1.2M512.79 79.8v1.2M461.8 18.81h1.2M513.55 79.8v1.2M461.8 18.01h1.2M514.21 79.8v1.2" stroke="#555" stroke-width="0.4"/>
<g font-size="5.1" fill="#1a1a1a" text-anchor="middle">
<text x="464.2" y="88.1">10<tspan font-size="3.4" dy="-1.8">0</tspan></text>
<text x="477.15" y="88.1">10<tspan font-size="3.4" dy="-1.8">1</tspan></text>
<text x="490.1" y="88.1">10<tspan font-size="3.4" dy="-1.8">2</tspan></text>
<text x="503.05" y="88.1">10<tspan font-size="3.4" dy="-1.8">3</tspan></text>
<text x="516" y="88.1">10<tspan font-size="3.4" dy="-1.8">4</tspan></text>
</g>
<path d="M449.5 29.3V39.4M449.5 65.3V75.1" stroke="#111" stroke-width="0.9"/>
<path d="M449.5 26.3l1.5 4.2h-3z" fill="#111"/>
<text transform="translate(452.4 52.35) rotate(-90)" font-size="8" text-anchor="middle">CD11b</text>
<path d="M385.5 93.5h1m2 0h1m1 0h1.5m0 0h1.5m0.5 0h1M390 94h1m4 0h1.5M385 94.5h1m9.5 0h1M384.5 95h1.5m6.5 0h1m5 0h1M387.5 96h1m0 0h1m1 0h1m3 0h1M387 96.5h1.5m7 0h1M384.5 97h1.5m2.5 0h1m3.5 0h1.5m1.5 0h1M386 97.5h1m2.5 0h1m3 0h1M389.5 98.5h1m3.5 0h1m4.5 0h1m0 0h1M385.5 99h1m6 0h1.5m0 0h1m3.5 0h1M384 99.5h1m0 0h1m2 0h1m7.5 0h1m1 0h1M386 100h1M388.5 100.5h1m9.5 0h1M396.5 101h1m5.5 0h1M385 101.5h1m4 0h1m0.5 0h1.5m5.5 0h1M396 102h1m1 0h1M387 102.5h1m1 0h1m3 0h1m0 0h1M397.5 103h1M386 103.5h1.5m3 0h1m0.5 0h1m9 0h1m0 0h1.5M386 104h1m2.5 0h1m4.5 0h1.5m11 0h1M388 104.5h1m3 0h1m0 0h1m3 0h1m0 0h1M388.5 105h1m1 0h1m19 0h1M391.5 105.5h1m3 0h1m1 0h1m1.5 0h1m4 0h1M391.5 106h1m0 0h1m4 0h1m9 0h1M387 107h1m0 0h1m3.5 0h1.5m0 0h2.5m0 0h1m1 0h1.5M388 107.5h1m0.5 0h1m4.5 0h1m4 0h1m1 0h1m4.5 0h1M384.5 108h1m2 0h1m6 0h1m4 0h1m4 0h1m4.5 0h1M387 108.5h1m1 0h1m1 0h1m0.5 0h1m18 0h1M385 109h1m7 0h1m1 0h1m14.5 0h1M395.5 109.5h1m0 0h1.5m8.5 0h1M387.5 110h1.5m10.5 0h1M388 110.5h1m0 0h1m0 0h1m3 0h1m1 0h1m7.5 0h1M387.5 111h1m0.5 0h1m14.5 0h1m3.5 0h1M396 111.5h1.5m2 0h1m12.5 0h1M390.5 112h1m2.5 0h1m1.5 0h1m8 0h1.5m2.5 0h1M389 112.5h1m0 0h1m5.5 0h1m0.5 0h1M396.5 113h1m12 0h1M388 113.5h1.5m0 0h1m1 0h1m0.5 0h1m4.5 0h1m1.5 0h1M388.5 114h1m3.5 0h1m7.5 0h1m3.5 0h1m2.5 0h1M394 114.5h1M391.5 115h1.5m0.5 0h1m1.5 0h1m3.5 0h1m13 0h1m8 0h1M385.5 115.5h1m0.5 0h1m0 0h1.5m15 0h1m10 0h1m0.5 0h1M384 116h1m0 0h1m1 0h1m4 0h1m6 0h1m2.5 0h1m3 0h1m0 0h1m0.5 0h1m3.5 0h1M390.5 116.5h1M395 117h1m14 0h1m1 0h1m5.5 0h1M392.5 117.5h1m0 0h2m18 0h1M386 118h1m3 0h1m17.5 0h1M397.5 118.5h1m7 0h1M385.5 119h1m6.5 0h1m4 0h1.5m0.5 0h1m2.5 0h1M387.5 119.5h1m2 0h1m0 0h1M385 120h1m7 0h1m3.5 0h1.5m15.5 0h1M390 120.5h1m25 0h1M387.5 121h1m0.5 0h1m5 0h1m1.5 0h1m3 0h1M385 121.5h1m5.5 0h1m0 0h1m2.5 0h1m11 0h1M388 122h1m0 0h1m8.5 0h1M390.5 122.5h1.5m0.5 0h1m1.5 0h1m1 0h1m13.5 0h1M391 123h1m0.5 0h1m2.5 0h1m1.5 0h1m10 0h1M388.5 123.5h1m0 0h1m3 0h1m2.5 0h1m12 0h1m10 0h1M386.5 124h2m2.5 0h1m0 0h1m0 0h1m4 0h1.5m8.5 0h1M385 124.5h1m0 0h1m1 0h1m3.5 0h1m2 0h1m20 0h1M386 125h1m14.5 0h1m14.5 0h1M395.5 125.5h1m1.5 0h1m10.5 0h1m4.5 0h1M386 126h1m0.5 0h1m3 0h1m0.5 0h1m17.5 0h1m4 0h1M387 126.5h1m5.5 0h1m1.5 0h1m0.5 0h1m3.5 0h1m15.5 0h1M389 127h1.5m2 0h1M386.5 127.5h1m5 0h1m3 0h1m1 0h1m2.5 0h1m7 0h1m3.5 0h1m1 0h1M398 128h1m11 0h1m0 0h1M397 128.5h1m1.5 0h1m11.5 0h1M385.5 129h1m3.5 0h1m6 0h1m12.5 0h1M387.5 129.5h1m9 0h1m6.5 0h1m7.5 0h1M387.5 130h1m2.5 0h1m9.5 0h1m10 0h1M390.5 130.5h1m15.5 0h1m3.5 0h1m0.5 0h1m1 0h1M391 131h1m2 0h1m0.5 0h1m2.5 0h1m1.5 0h1m3 0h1m1.5 0h1m2.5 0h1m1.5 0h1M389 131.5h1m1 0h1m1 0h1m11.5 0h1m0 0h1m2.5 0h1m2.5 0h1m2 0h1.5M389 132h1.5m1 0h1m1.5 0h1m6 0h1m6 0h1M390.5 132.5h1m16.5 0h1m4.5 0h1m2 0h1M388.5 133h1m4 0h1m5 0h1m6 0h1m6.5 0h1m2.5 0h1M389 133.5h1m19.5 0h1m0.5 0h1M386 134h1m7 0h1.5m3 0h1m5.5 0h1m1.5 0h1m6.5 0h1.5m0 0h1m1.5 0h1.5m3.5 0h1M384.5 134.5h1m5 0h1.5m11.5 0h1m5.5 0h1m0 0h1m13 0h1M385.5 135h1m16.5 0h1m6 0h1M387.5 135.5h1.5m7 0h1m5 0h1m0.5 0h1.5m1.5 0h1m1.5 0h1m6.5 0h1m1.5 0h1M393 136h1m4 0h1m0.5 0h1m4 0h1m18 0h1M387.5 136.5h1m0 0h1m6.5 0h1m0 0h1m0.5 0h1m2 0h1m2 0h1m0.5 0h1m6 0h1M385.5 137h1m8 0h1m10.5 0h1m4.5 0h1M384.5 137.5h1m8 0h1m1.5 0h1m2 0h1m7 0h1m6 0h1m0.5 0h1M385 138h1m12.5 0h1m4.5 0h1.5m8.5 0h1.5m0.5 0h1m1.5 0h1M386.5 138.5h1m2 0h1m11.5 0h2m6.5 0h1m3 0h1M388.5 139h1m0 0h1m1 0h1.5m0 0h1m16 0h1m2 0h1m1 0h1M384.5 139.5h1.5m13 0h1m1 0h1m2 0h1m1.5 0h1m4 0h1m1 0h1M385 140h1m0.5 0h1m0.5 0h1m1.5 0h1m1.5 0h1m2 0h1m8.5 0h1m8 0h1M387.5 140.5h1m9.5 0h1m5.5 0h1m4 0h2m7 0h1M386.5 141h1m6.5 0h1m6.5 0h1m13.5 0h1M386.5 141.5h1m3 0h1m4.5 0h1m0 0h1m9 0h1m3.5 0h1m2 0h1M384.5 142h1m2 0h1m1.5 0h1m9 0h1.5m10.5 0h1M390.5 142.5h1m2 0h1m1 0h1m20 0h1m5 0h1M387.5 143h1m5.5 0h1m1.5 0h1m0 0h1m1.5 0h1m6.5 0h1m12.5 0h1M385.5 143.5h1m20 0h1m6 0h1m1 0h1M387 144h1m6.5 0h1m0.5 0h1m4 0h1m5.5 0h1m3 0h1M386.5 144.5h1m9.5 0h1m4 0h1m9 0h1m7 0h1m1 0h1M386.5 145h1m1.5 0h1m0 0h1m2 0h1m2 0h1m1.5 0h1m12.5 0h1m5.5 0h1M391.5 145.5h1m0.5 0h1m0.5 0h1m1.5 0h1m14 0h1M390 146h1.5m1.5 0h1m0 0h1m3 0h1m9.5 0h1m0 0h1m0 0h1M387.5 146.5h1m1.5 0h1m9.5 0h1m2 0h1m9 0h1.5m4.5 0h1M388.5 147h1m23 0h1M394.5 147.5h1m5.5 0h1m7.5 0h1m7 0h1M398 148h1M384.5 148.5h1m1 0h1m1 0h1m2.5 0h1m4 0h1m2 0h1.5m16 0h1M384.5 149h1m6 0h1m4 0h1m15 0h1m5.5 0h1M387 149.5h1m1 0h1m2 0h1m0 0h1m2 0h1m8 0h1m4 0h1m13.5 0h1M385.5 150h1.5m4 0h1m5 0h1m0.5 0h1M384.5 150.5h1m0 0h1m2 0h1m0.5 0h1m0.5 0h1m4 0h1m12.5 0h1M384.5 151h1m20 0h1m2 0h1m6.5 0h1M385 151.5h1m1 0h1m6 0h1m11 0h1m5.5 0h1M398 152h1m0 0h1m8.5 0h1M390 152.5h1m3.5 0h1m19 0h1.5M384.5 153h1.5m2.5 0h2m3.5 0h1m1 0h1m11 0h1m1 0h1M388.5 153.5h1m1.5 0h1m1.5 0h1m9 0h1m13 0h1M391 154h1m0 0h1m5 0h1M395.5 154.5h1" stroke="#777" stroke-width="1" fill="none"/>
<path d="M388 93.5h1m0 0h1m1.5 0h1m0.5 0h1.5m1.5 0h1M385 94h1m0.5 0h1m0 0h1m0 0h1.5m1 0h2m0 0h2m1.5 0h1M384.5 94.5h1m0 0h1m0 0h1.5m0 0h1.5m0.5 0h3m0 0h1m2 0h1m0 0h1m0.5 0h1M388 95h1m1 0h2m0 0h1m0 0h1.5m1.5 0h1m0 0h1M387.5 95.5h1m0.5 0h2.5m0 0h1m1 0h1.5m0 0h1m4 0h1M384.5 96h2m0 0h1m0.5 0h1m1 0h1m0.5 0h1m1 0h1.5m0 0h1m0.5 0h1m1.5 0h1M385.5 96.5h1m0 0h1m0.5 0h1.5m1 0h1.5m0 0h1.5m0.5 0h2M384 97h1m0.5 0h1.5m0.5 0h1.5m0 0h4.5m0.5 0h1m0 0h1m2 0h1M384.5 97.5h2m0.5 0h1m0 0h2m0 0h1.5m0.5 0h2m0 0h2m0 0h1.5M384.5 98h1m0 0h1m0 0h8m0 0h2m0 0h1m0 0h1m0 0h1.5m0 0h1M385 98.5h2.5m0 0h2.5m0 0h2m0 0h2m1 0h1.5m0 0h1.5M384.5 99h1.5m0.5 0h2m1 0h3.5m0.5 0h1m0 0h2m3 0h1M384.5 99.5h1m1.5 0h1.5m0 0h1m1 0h1m0 0h3m0 0h1m2 0h1m2 0h1M384.5 100h2m0 0h1.5m0 0h1m0 0h1m0.5 0h2m0 0h1m0 0h1.5m1 0h1m0.5 0h1m0 0h1.5M384.5 100.5h1m0.5 0h1m2 0h5m0 0h2.5m2 0h1M384 101h1m0 0h8m0 0h2m0.5 0h1m0.5 0h1m2 0h1m0 0h1M385.5 101.5h2.5m1 0h1m0.5 0h1.5m0.5 0h3m0.5 0h1m4 0h1M385 102h1m0.5 0h2m0 0h1.5m0 0h4m0.5 0h2m2 0h1M385 102.5h2m1.5 0h1m0 0h2m0 0h2m0 0h1m1.5 0h1.5m0.5 0h1M385 103h1.5m0 0h1m0.5 0h2.5m0.5 0h1m0 0h2m1 0h1.5M384.5 103.5h1.5m1.5 0h3.5m0 0h1.5m1.5 0h1.5m0 0h1.5M384 104h1m1.5 0h1.5m0 0h1m0 0h1m0 0h1.5m0.5 0h2m3 0h1M385 104.5h1m1.5 0h1m0 0h3m0 0h1m0 0h1m0.5 0h1m2.5 0h1M385 105h1.5m0 0h1m0 0h1.5m1 0h1m0 0h1.5m0 0h1m0.5 0h1m0 0h1M385 105.5h1m1 0h1.5m0.5 0h1m2 0h1m1 0h1m1 0h2M386.5 106h2.5m0 0h1m0 0h2m0 0h1m0 0h1m0.5 0h1.5M386 106.5h1m0.5 0h1m0.5 0h1m0 0h1m3 0h1M389 107h1m0 0h1.5m0 0h1M385.5 107.5h1m7 0h1m1.5 0h1m1 0h1M386 108h2m0.5 0h1.5m1 0h1m0 0h1.5m5 0h1M385 108.5h1.5m1.5 0h1m1.5 0h1m0 0h1m1 0h1m0 0h1M388 109h1m1.5 0h1m2 0h1m4 0h1m1 0h1M388.5 110h1m3.5 0h1m0 0h1M387 110.5h1m3.5 0h1m0 0h1m2 0h1m0 0h1m1 0h1M388.5 111h1m2 0h1m6.5 0h1.5M384.5 111.5h1m1.5 0h1m0.5 0h1m2.5 0h1m1.5 0h1M388 112h1m0 0h1.5m0.5 0h1.5m0 0h1m2 0h1M384 112.5h1m3.5 0h1m1 0h1m2 0h1m0 0h1m0.5 0h1m2.5 0h1M389 113h1.5m2 0h1.5M389 113.5h1M386.5 114h1m3 0h1M389 114.5h1m5.5 0h1M385 115h1m10.5 0h1m0.5 0h1m2 0h1M390.5 115.5h1.5m1 0h1m1.5 0h1M386.5 116h1m0.5 0h1m0 0h1m7 0h1m5.5 0h1M392 116.5h1m1.5 0h1m2 0h1M388 117h1m1 0h1m1.5 0h1m0 0h1m0 0h1M391 117.5h1m3 0h1M385 118h1m4.5 0h1m0 0h1m0 0h1m1 0h1m2.5 0h1M387 118.5h1m2 0h1.5m4 0h1M393.5 119h1M385 119.5h1.5m6 0h1M386 120h1m4.5 0h1m2.5 0h1.5m0 0h1M389.5 120.5h1m1 0h1m1 0h1m0 0h1.5M387 121h1m10.5 0h1M387 121.5h1m2 0h1m0 0h1m2.5 0h1m8 0h1M393 122h1m15.5 0h1M393.5 122.5h1.5m2.5 0h1M391.5 123h1M387.5 123.5h1m1.5 0h1m9.5 0h1m10.5 0h1m0 0h1M386 124h1m1.5 0h1m2 0h1m2.5 0h1M395 124.5h1M385 125h1m4 0h1.5m1 0h1m0.5 0h1m1 0h1m2 0h1.5M384.5 125.5h1m4 0h1m1.5 0h1m14.5 0h1M390.5 126h1m0.5 0h1m2 0h1m12 0h1m0.5 0h1m2.5 0h1m0.5 0h1M388 126.5h1m10 0h1m5 0h1M384 127h1m2.5 0h1m0 0h1m2.5 0h1m16.5 0h1M384.5 127.5h1m4.5 0h1m2.5 0h1m6 0h1m1 0h1m4.5 0h1m3 0h2M385 128h1m4.5 0h1m0.5 0h1.5m1.5 0h1m1.5 0h1m3.5 0h1.5m3.5 0h1m6 0h1.5M387 128.5h1.5m1 0h1.5m5 0h1m1.5 0h1.5m7 0h1m13 0h1M389.5 129h1m1 0h1.5m2.5 0h1m0 0h1m2 0h1m0 0h1m5 0h1m1 0h1.5m0 0h1M389 129.5h1m1.5 0h1m0.5 0h1m1 0h1m10 0h1m0 0h1m1 0h1m4.5 0h1M386 130h1m0 0h1m1 0h1m0 0h1m1 0h1m0.5 0h1.5m1.5 0h1m11 0h1m0 0h1.5m0.5 0h1m0.5 0h1m1 0h2M387 130.5h1m4.5 0h1m0.5 0h1.5m0.5 0h1m9.5 0h1m0.5 0h1.5m0 0h1m0 0h1m1 0h1M389 131h1m0.5 0h1m0 0h1m0.5 0h1.5m1.5 0h1m0 0h1.5m0 0h1m7.5 0h1.5m2.5 0h1m1 0h1.5m1 0h1m0 0h1M384.5 131.5h1m1.5 0h1m1.5 0h1m0 0h1m1 0h1m0.5 0h1m1 0h2m11 0h1m1.5 0h1m0 0h1.5M386 132h1m3.5 0h1.5m0 0h1m0 0h1.5m0.5 0h1m6 0h1m1.5 0h1m0 0h1m0.5 0h1.5m1 0h1m1 0h2m1 0h1.5m2 0h1m0.5 0h1M385 132.5h1m2 0h1m4.5 0h2m0 0h1m6.5 0h1m1.5 0h1m0.5 0h1.5m0.5 0h2m0 0h1.5m0 0h1m0.5 0h1m0 0h1m2.5 0h1m1 0h1M388 133h1m1 0h3m0 0h1m0.5 0h1.5m1 0h1.5m0.5 0h1m1.5 0h1m1 0h1m3 0h1m0.5 0h1.5m0 0h3.5m0.5 0h1m1.5 0h1m0 0h1M384.5 133.5h1.5m1.5 0h1m1 0h1.5m0 0h2m0 0h1m1 0h1.5m1 0h1m1 0h1m1 0h1m2.5 0h1m1 0h1.5m0 0h1m0.5 0h1.5m0 0h2.5m0.5 0h1m0.5 0h1m0 0h2M388.5 134h1m0.5 0h1m0 0h1.5m0 0h1m2 0h1m0.5 0h1m5 0h1m0 0h1.5m1 0h1.5m0 0h1.5m0.5 0h2.5m1 0h2m1.5 0h1m0 0h1.5M385.5 134.5h1.5m1 0h1.5m2.5 0h3m0 0h1m1.5 0h1.5m0.5 0h1m2.5 0h1m0.5 0h1m1.5 0h1m0 0h1.5m3.5 0h1m0 0h1m0 0h1.5m0 0h1M384.5 135h1m0.5 0h1m0 0h1m1 0h1.5m0 0h4m0 0h1.5m0.5 0h1m1.5 0h1m4 0h1m2.5 0h1.5m0 0h1.5m0 0h1m0.5 0h3m0 0h2m0 0h1m0 0h1M385 135.5h1m0.5 0h1.5m1 0h1.5m0 0h2.5m0.5 0h1.5m0 0h1.5m0 0h1m1 0h1m0 0h1m0 0h1m4 0h1m1.5 0h1.5m1 0h1m0.5 0h3m0.5 0h1m1.5 0h1M384.5 136h1m0 0h1m0 0h1m0.5 0h1.5m0 0h1m0 0h1m0 0h2m0 0h3m0 0h1.5m4.5 0h1m1.5 0h2m0.5 0h1m0 0h1m0 0h1m0 0h4.5m0 0h1.5m0.5 0h1.5M384.5 136.5h1.5m0 0h2m0 0h1m0 0h4.5m0.5 0h1m4.5 0h1m5 0h1m0 0h1m0.5 0h1m0 0h1.5m0.5 0h2m0.5 0h1m0 0h1m0 0h1.5m0 0h1M385 137h1m0 0h1m0 0h1m0.5 0h1.5m0 0h1m0 0h3m0 0h1m0 0h1.5m0 0h1.5m0.5 0h1.5m5.5 0h1m0.5 0h2m0 0h3m0 0h1.5m0 0h2.5m0.5 0h1m2 0h1M385 137.5h1m2.5 0h2m0 0h2m0 0h1.5m0.5 0h1m0 0h1m0 0h1m3.5 0h1m0.5 0h1m0.5 0h1m0 0h1m0 0h1m1 0h1m0 0h1.5m0 0h2m0.5 0h1m1 0h1m0 0h1m0 0h2m1.5 0h1M387 138h3m0 0h1.5m0.5 0h1.5m0.5 0h3m0 0h1.5m0.5 0h1m2.5 0h1m0 0h1m2.5 0h3m0 0h2.5m0 0h1.5m1 0h1m0.5 0h2m1 0h1M385 138.5h2m0.5 0h2.5m1 0h2m0.5 0h1.5m0.5 0h1m0.5 0h1m0.5 0h1m4 0h1.5m1.5 0h2.5m0 0h1m0 0h1m0 0h1m0.5 0h2.5m0.5 0h1m0.5 0h1M386.5 139h2.5m0 0h1m0 0h2m0.5 0h1m0 0h2.5m0 0h1m0 0h1m2 0h1m3 0h1.5m1 0h4m0.5 0h2.5m0 0h2m0 0h1m3 0h1m0.5 0h1M385.5 139.5h1m0.5 0h1.5m0 0h1m0 0h4m0 0h3m0.5 0h1m0 0h1m0.5 0h1m2.5 0h1m1.5 0h1m0.5 0h1.5m0 0h1m1 0h1.5m0.5 0h1m0.5 0h1m1 0h1.5m2 0h1M386 140h1m0 0h1.5m0.5 0h2m0 0h1m0 0h1.5m0 0h1m0 0h2m1.5 0h1.5m4.5 0h1m0 0h1m0.5 0h1m0 0h2m0 0h2m0 0h3.5m0 0h3M385 140.5h2m0 0h1m0.5 0h1m0.5 0h1.5m0 0h1m0 0h2m0 0h2.5m1.5 0h1m0 0h1m2 0h1.5m1.5 0h1.5m0 0h1.5m0 0h1.5m1 0h1m0.5 0h2m0 0h1m0 0h3m1 0h1M387 141h1m0 0h1m0.5 0h4m1.5 0h1m0.5 0h1.5m1.5 0h1m3 0h2m0.5 0h1.5m1 0h1.5m0 0h2m0 0h2m1.5 0h1m0 0h1m0 0h1.5m3.5 0h1M385.5 141.5h1.5m0 0h2m0 0h2m0 0h1m0 0h1m0 0h3m1.5 0h1m6 0h1m1 0h1m0 0h1m0 0h2m0 0h1m0.5 0h1.5m0 0h1.5m0 0h1m2 0h1M385.5 142h1m0.5 0h1m0 0h1m0.5 0h1m0 0h3.5m0 0h1m2 0h1m0.5 0h1.5m1 0h1m4 0h1m0 0h1m0.5 0h2m1 0h1m0 0h1.5m0.5 0h1M384.5 142.5h1m1 0h1m0.5 0h1m0 0h2m0 0h2.5m1 0h1.5m0.5 0h1.5m1.5 0h1.5m4 0h1m1 0h1m0.5 0h1.5m0.5 0h2m0 0h1.5m0 0h1m0 0h1m1.5 0h1m2.5 0h1M385.5 143h1m1.5 0h2.5m0 0h1m0 0h1.5m1.5 0h1m14 0h2m0 0h1.5m0 0h1.5m0.5 0h1m2 0h1M385 143.5h1m0.5 0h1m0 0h1m0 0h1.5m0 0h2m0 0h1m0.5 0h1m0 0h1m0 0h1m0 0h1m1 0h1m0 0h1.5m2 0h1m0 0h1.5m0 0h1m0.5 0h1m0.5 0h1.5m0 0h1m0 0h3m0 0h1m1.5 0h1m2 0h1M384.5 144h1m0 0h1m1 0h1.5m0 0h4m0.5 0h1.5m0 0h1m0.5 0h1m8 0h1m0.5 0h1m0 0h1m0 0h1m0 0h1.5m0.5 0h1.5m0 0h1m0 0h1m0 0h1M384 144.5h1.5m0.5 0h1m0 0h1m0 0h1m0 0h4m0 0h1m0 0h2m0.5 0h1m0 0h1m0 0h1m4.5 0h1m1 0h1m0.5 0h1m0.5 0h1m0 0h2.5m2 0h1m0 0h1M385 145h1.5m1 0h1m0 0h1m1 0h3m0 0h2m1.5 0h1.5m3.5 0h1m5.5 0h1m0 0h1m0.5 0h1m4 0h1M385 145.5h1.5m0.5 0h1m0 0h2m0 0h1m1 0h1m0.5 0h1m1 0h1m2.5 0h1m1 0h1m0 0h1m2 0h2m0.5 0h1m1.5 0h1m0 0h1m2 0h1m1 0h1m1 0h1M385 146h1m2 0h1.5m0 0h1m0.5 0h1.5m1 0h1m2 0h1m10 0h1m3.5 0h1m0 0h1m0 0h1m7 0h1M384.5 146.5h1.5m0.5 0h1m1 0h2m0 0h1m0.5 0h1m0 0h2.5m1.5 0h1m0.5 0h1.5m1.5 0h1m3.5 0h1m2 0h1.5m5 0h1.5M386 147h2.5m1.5 0h2m1 0h1m0 0h1m0.5 0h1m1.5 0h1.5m0.5 0h1m14 0h1M385 147.5h1m0 0h1m0 0h1m0 0h1m0.5 0h1m0 0h2.5m0 0h1m0 0h1m0 0h1m1 0h1m0.5 0h1m14.5 0h1m1.5 0h1M386.5 148h1m1.5 0h1m1.5 0h1m1 0h1m0 0h1m1 0h2m4 0h1m5.5 0h1.5m0 0h1.5M384 148.5h1m2.5 0h1m0.5 0h1.5m2 0h2.5m1.5 0h1m0.5 0h1.5m12 0h1.5M385.5 149h1m1 0h1m2 0h1.5m0 0h2m4 0h1m0.5 0h1M385.5 149.5h1m0 0h1m1 0h1m1 0h1m0 0h1m6 0h1m9 0h1.5m1 0h1m1.5 0h1M389 150h1.5m0 0h1m2 0h2m1 0h1m8.5 0h1m7 0h1M388 150.5h1m0 0h1m1 0h1m0 0h1m0 0h1m4 0h1m11.5 0h1M385 151h1m2.5 0h1m1 0h1m0 0h1m2 0h1m2 0h1m17 0h1M387.5 151.5h1m1.5 0h1m2.5 0h1m18.5 0h1M389 152h1m0.5 0h1m0.5 0h1M390.5 152.5h1m8.5 0h1M386.5 153h1m19.5 0h1M385 153.5h1m1.5 0h1m4.5 0h1m15.5 0h1m4.5 0h1M387.5 154h2m3.5 0h1M392.5 154.5h1m3 0h1m17 0h1M393.5 155h1m4.5 0h1m16.5 0h1" stroke="#1a1a1a" stroke-width="1" fill="none"/>
<rect x="383.8" y="92.6" width="51.7" height="62.6" fill="none" stroke="#222" stroke-width="0.9"/>
<path d="M383.8 92.6V155.2H435.5" fill="none" stroke="#111" stroke-width="1.2"/>
<path d="M402.4 92.6V155.2M383.8 130.1H435.5" stroke="#444" stroke-width="0.8"/>
<path d="M424.6 93.4V111.2M415.3 103.2H434.9" stroke="#111" stroke-width="0.9"/>
<g font-size="5.1" font-weight="bold" text-anchor="middle" fill="#222">
<text x="420" y="99.9">34</text>
<text x="429.5" y="99.9">1.7</text>
<text x="420" y="108.6">25</text>
<text x="429.5" y="108.6">39</text>
</g>
<g font-size="4" fill="#555">
<text transform="translate(380.8 155.2) rotate(-90)" text-anchor="middle">10<tspan font-size="2.6" dy="-1.2">0</tspan></text>
<text transform="translate(380.8 139.55) rotate(-90)" text-anchor="middle">10<tspan font-size="2.6" dy="-1.2">1</tspan></text>
<text transform="translate(380.8 123.9) rotate(-90)" text-anchor="middle">10<tspan font-size="2.6" dy="-1.2">2</tspan></text>
<text transform="translate(380.8 108.25) rotate(-90)" text-anchor="middle">10<tspan font-size="2.6" dy="-1.2">3</tspan></text>
<text transform="translate(380.8 92.6) rotate(-90)" text-anchor="middle">10<tspan font-size="2.6" dy="-1.2">4</tspan></text>
</g>
<path d="M382.6 155.2h1.8M383.8 155.2v1.8M382.6 150.49h1.2M387.69 155.2v1.2M382.6 147.73h1.2M389.97 155.2v1.2M382.6 145.78h1.2M391.58 155.2v1.2M382.6 144.26h1.2M392.83 155.2v1.2M382.6 143.02h1.2M393.86 155.2v1.2M382.6 141.97h1.2M394.72 155.2v1.2M382.6 141.07h1.2M395.47 155.2v1.2M382.6 140.27h1.2M396.13 155.2v1.2M382.6 139.55h1.8M396.73 155.2v1.8M382.6 134.84h1.2M400.62 155.2v1.2M382.6 132.08h1.2M402.89 155.2v1.2M382.6 130.13h1.2M404.51 155.2v1.2M382.6 128.61h1.2M405.76 155.2v1.2M382.6 127.37h1.2M406.78 155.2v1.2M382.6 126.32h1.2M407.65 155.2v1.2M382.6 125.42h1.2M408.4 155.2v1.2M382.6 124.62h1.2M409.06 155.2v1.2M382.6 123.9h1.8M409.65 155.2v1.8M382.6 119.19h1.2M413.54 155.2v1.2M382.6 116.43h1.2M415.82 155.2v1.2M382.6 114.48h1.2M417.43 155.2v1.2M382.6 112.96h1.2M418.68 155.2v1.2M382.6 111.72h1.2M419.71 155.2v1.2M382.6 110.67h1.2M420.57 155.2v1.2M382.6 109.77h1.2M421.32 155.2v1.2M382.6 108.97h1.2M421.98 155.2v1.2M382.6 108.25h1.8M422.57 155.2v1.8M382.6 103.54h1.2M426.47 155.2v1.2M382.6 100.78h1.2M428.74 155.2v1.2M382.6 98.83h1.2M430.36 155.2v1.2M382.6 97.31h1.2M431.61 155.2v1.2M382.6 96.07h1.2M432.63 155.2v1.2M382.6 95.02h1.2M433.5 155.2v1.2M382.6 94.12h1.2M434.25 155.2v1.2M382.6 93.32h1.2M434.91 155.2v1.2" stroke="#555" stroke-width="0.4"/>
<g font-size="5.1" fill="#1a1a1a" text-anchor="middle">
<text x="385" y="163.5">10<tspan font-size="3.4" dy="-1.8">0</tspan></text>
<text x="397.93" y="163.5">10<tspan font-size="3.4" dy="-1.8">1</tspan></text>
<text x="410.85" y="163.5">10<tspan font-size="3.4" dy="-1.8">2</tspan></text>
<text x="423.77" y="163.5">10<tspan font-size="3.4" dy="-1.8">3</tspan></text>
<text x="436.7" y="163.5">10<tspan font-size="3.4" dy="-1.8">4</tspan></text>
</g>
<path d="M371 104.6V118.9M371 136.5V150.5" stroke="#111" stroke-width="0.9"/>
<path d="M371 101.6l1.5 4.2h-3z" fill="#111"/>
<text transform="translate(373.9 127.7) rotate(-90)" font-size="8" text-anchor="middle">Gr-1</text>
<path d="M480.5 100h1M481.5 101.5h1M477.5 102h1M478.5 104.5h1m11 0h1M465 105h1M479 107h1m1 0h1M471.5 108.5h1m7.5 0h1m6.5 0h1m0.5 0h1M477 109h1m4.5 0h1m3 0h1M487 110h1M465.5 110.5h1m19.5 0h1M472.5 111h1m5.5 0h1m1 0h1M482.5 111.5h1m1.5 0h1M473.5 112h1m1.5 0h1m0 0h1m7.5 0h1M470 112.5h1m18.5 0h1M478.5 113.5h1m3 0h1m6.5 0h1M481 114h1m5 0h1m7 0h1m1 0h1M477 114.5h1m8 0h1m5.5 0h1M467 115h1m14 0h1m12.5 0h1m4 0h1M468 115.5h1m16 0h1m0.5 0h1m10.5 0h1M474 116h1m4.5 0h1m2.5 0h1m5 0h1m3.5 0h1M469.5 116.5h1m16.5 0h1m0.5 0h1m6 0h1m4.5 0h1m0 0h1M471 117h1m1.5 0h1m0.5 0h1m3.5 0h1m15 0h1M473 117.5h1m0 0h1m0 0h1m2 0h1m5 0h1m5.5 0h1M475.5 118h1m6 0h1m9 0h1m3.5 0h1M468.5 118.5h1m7.5 0h1m0 0h1m0.5 0h1m3.5 0h1.5m1 0h1m9.5 0h1.5m6 0h1M475 119h1m19.5 0h1.5m3 0h1m0.5 0h1M471.5 119.5h1m9.5 0h1m4.5 0h1m3 0h1m2 0h1.5m1 0h1M471.5 120h1m1.5 0h1m1.5 0h1m6 0h1m5 0h1m6 0h1m0 0h1M476.5 120.5h1m8 0h1m7.5 0h1m2.5 0h1.5m1 0h1M468.5 121h1m0.5 0h1m7 0h1m1 0h1m2.5 0h1m0 0h1m0 0h1.5m0.5 0h1m0 0h1.5m4.5 0h1m2 0h1m1.5 0h1M484.5 121.5h1.5m10 0h1M468.5 122h1m3.5 0h1m2.5 0h1m6.5 0h1m2 0h1m0 0h1m4.5 0h1m4.5 0h1M468 122.5h1m0.5 0h1m0.5 0h1m10 0h1m1.5 0h1m2 0h1m0.5 0h1m6 0h1m3 0h1M466.5 123h1m10.5 0h1m4.5 0h1m6.5 0h1m3 0h1M465 123.5h1.5m0.5 0h1m2.5 0h1m2 0h1m1.5 0h1m9.5 0h1m2 0h1m0.5 0h1.5m7 0h1M470 124h1m6.5 0h1m1 0h1m6 0h1m5 0h1M468.5 124.5h1m3.5 0h1.5m4.5 0h1m4 0h1m1 0h1m0.5 0h1.5m14 0h1M463.5 125h1m3 0h1m0 0h1m1 0h1m7.5 0h1m7.5 0h1m8.5 0h1M482.5 125.5h1m6 0h1m3.5 0h1M463.5 126h1m5.5 0h1m18 0h2m0 0h1M471.5 126.5h1m5 0h1m2.5 0h1m0.5 0h1m9.5 0h1m1.5 0h1M464.5 127h1m10 0h1m11 0h1m2.5 0h1.5m0 0h1m5.5 0h1M466 127.5h1m6 0h1m3.5 0h1m4.5 0h1m1.5 0h1m2 0h1m0.5 0h1m3.5 0h1M466.5 128h1m4.5 0h1m8.5 0h1m4.5 0h1m4.5 0h1M467.5 128.5h1m0 0h1m1.5 0h1m0 0h1m8.5 0h1.5m0.5 0h1m0.5 0h1m0.5 0h1m20.5 0h1M475 129h1m2 0h1m6 0h1m1.5 0h1m7.5 0h1M464 129.5h1m16.5 0h1m1 0h1m8 0h1m1 0h1m2.5 0h1M473 130h1m14.5 0h1m1.5 0h1m1 0h1M470 130.5h1m3 0h1m6.5 0h1M464.5 131h1m10 0h1m0.5 0h1m7 0h1m4.5 0h1M468.5 131.5h1m12.5 0h1m4.5 0h1m2.5 0h1M471 132h1m1 0h1m2 0h1m0.5 0h1m2 0h1M467.5 132.5h1m1 0h1m1.5 0h1m12.5 0h1m8.5 0h1M466 133h1m2 0h1m10.5 0h1m1 0h1m8.5 0h1M467.5 133.5h1m8.5 0h1m3 0h1M465.5 134h1m21 0h1M468.5 134.5h1m3 0h1m13.5 0h1M466.5 135h1m0 0h1.5m1 0h1m2 0h1m11 0h1M468.5 136h1m2.5 0h1.5m2.5 0h1m1.5 0h1m0 0h1m15 0h1M463.5 136.5h1m13.5 0h1m2.5 0h1m4 0h1M468 137h1m7.5 0h1m19 0h1M464.5 137.5h1m1.5 0h1m7 0h1m19 0h1.5m3.5 0h1m0 0h1m0.5 0h1M466.5 138h1m3 0h1m6.5 0h1m7.5 0h1m1.5 0h1.5M463.5 138.5h1m0.5 0h1m0 0h1m0.5 0h1m1 0h1m4.5 0h1m4 0h1.5m9.5 0h1m7 0h1M467 139h1m1 0h1m1.5 0h1m5 0h1m1 0h1M465.5 139.5h1m3 0h1m1.5 0h1m3 0h1m1.5 0h1m5.5 0h1m3.5 0h1M465 140h1m2 0h1m4 0h1m1.5 0h1m0 0h1m0.5 0h1m8.5 0h1.5m0 0h1M468 140.5h1m3.5 0h1m2 0h1m0 0h1m0 0h1m11 0h1M465 141h1m6 0h1m2 0h1m7 0h1m16.5 0h1M468 141.5h1m1 0h1m3.5 0h1M465 142h1m3 0h1m13.5 0h1.5M467.5 142.5h1m3 0h1m2.5 0h1m0.5 0h1m10.5 0h1m4 0h1M465 143h1m9.5 0h1m1.5 0h1m1 0h1m5.5 0h1m6.5 0h1m11 0h1M463.5 143.5h1m0.5 0h1m4.5 0h1m20 0h1M464 144h1m0 0h1m22.5 0h1M464 144.5h1m4 0h1m4.5 0h1m0 0h1m9 0h1M467.5 145h1m0.5 0h2m6.5 0h1m7.5 0h1M464 145.5h1m1.5 0h1m6 0h1m0.5 0h1m23.5 0h1M463.5 146h1m1 0h1.5m3 0h1m0 0h1m6 0h1m13 0h1m5.5 0h1M470.5 146.5h1m0.5 0h1m2.5 0h1m7 0h1m6.5 0h1m6.5 0h1M464 147h1m8.5 0h1M466 147.5h1.5M464 148h1m2 0h1.5m29 0h1M466 148.5h1m2.5 0h1M466 149h1m0 0h1m0 0h1m1 0h1m19 0h1M465.5 149.5h1m2.5 0h1m1.5 0h1m1 0h1m0 0h1m2 0h1m0 0h1m3 0h1M475 150h1m3.5 0h1m0 0h1m12.5 0h1m0.5 0h1M465 150.5h1m1 0h1m1 0h1m1.5 0h1m15 0h1M464 151h1m1.5 0h1m1.5 0h1m16.5 0h1m1 0h1M479 151.5h1m0 0h1m6.5 0h1m3.5 0h1M467 152h1m13 0h1m12 0h1M464.5 152.5h1m2.5 0h1m5 0h1m0.5 0h1m5 0h1m5.5 0h1m5.5 0h1M463.5 154h1m9 0h1m2 0h1m18.5 0h1M463.5 154.5h1m3.5 0h1m2 0h1m14.5 0h1M465 155h1m6 0h1m14 0h1" stroke="#777" stroke-width="1" fill="none"/>
<path d="M476 106.5h1M474 107h1m8.5 0h1m5 0h1M476.5 108h1m3 0h1M476 108.5h1m1.5 0h1m13 0h1M472 109h1m2 0h1m14.5 0h1M474 109.5h1M472 110h1M489 110.5h1M474.5 111h1.5m11.5 0h1M475 111.5h1m1 0h1m0.5 0h1m11.5 0h1m0 0h1M482 112h1m5 0h1m2 0h1M491 112.5h1m0 0h1M471 113h1m2 0h1m2 0h1m7.5 0h1m3 0h1m0.5 0h1m0 0h1.5M469.5 113.5h1m5 0h1m4 0h1m4 0h1m0 0h1m3 0h1m0 0h1M469.5 114h1m1 0h1m6 0h1m5 0h1m3.5 0h3m0 0h1.5m0 0h1.5m0.5 0h1M473 114.5h1m1 0h1m0 0h1.5m11 0h1m0 0h1.5m0.5 0h1m1 0h1m1.5 0h1m1.5 0h1m2 0h1M474 115h1m0.5 0h1m11 0h1m0 0h1.5m0 0h1m1 0h1.5m1 0h1m1 0h2.5m0 0h1M474 115.5h1m0 0h1m1.5 0h1m2 0h1m1.5 0h1m4 0h1m0 0h1m0 0h1m0 0h1.5m0 0h1m0 0h1.5M470 116h1.5m2 0h1m0 0h1m1.5 0h1m0 0h1m0 0h1m5.5 0h1m0.5 0h2.5m0.5 0h2m0 0h1m0 0h1m1 0h2m0.5 0h1.5m0 0h1M468.5 116.5h1m4.5 0h1.5m10.5 0h1m2 0h1m0 0h1m0 0h2m0.5 0h1m0 0h1m2 0h1m1 0h1.5m3.5 0h1M476.5 117h1m0 0h1m0.5 0h1m2.5 0h2m1 0h1.5m0.5 0h1.5m0.5 0h1m0 0h1m0 0h1.5m0 0h1.5m0 0h1.5m0.5 0h1m0.5 0h1m0 0h2m0 0h1m0 0h1M469 117.5h1.5m0 0h1m2 0h1m1 0h1m0 0h1m3 0h1m4 0h1m3 0h1.5m0 0h1m0 0h4.5M467.5 118h1m4 0h1m2.5 0h1m0 0h1m1.5 0h1m6 0h3.5m2 0h1m0 0h2.5m0.5 0h1.5m1 0h1m1 0h1M467.5 118.5h1.5m0.5 0h1m0.5 0h2m0.5 0h1m0 0h2.5m0.5 0h1m5 0h1m2.5 0h3m0 0h3m1 0h1m0 0h1m0 0h1m1.5 0h1.5m2 0h1M470 119h1.5m0 0h1.5m0 0h1m1.5 0h1m0.5 0h1m0.5 0h2m1.5 0h1m3 0h2m0.5 0h1.5m1 0h3m0 0h1m0 0h1m2 0h1M468.5 119.5h1m1.5 0h1m1.5 0h1.5m0.5 0h1m8 0h1.5m0 0h1m3.5 0h1.5m0 0h1m0 0h1m1.5 0h2m0 0h1m0 0h1.5M465.5 120h1m7 0h1m0 0h1m0 0h1m1 0h1m2.5 0h1m4.5 0h2m0 0h1.5m0.5 0h3m0 0h1.5m0.5 0h1.5m1 0h1m0 0h1M468.5 120.5h1m0 0h1.5m1 0h1m0 0h1m0.5 0h2m0.5 0h1m1 0h1.5m3.5 0h1m0 0h1m0 0h1m0.5 0h2m0 0h4m0 0h1m1 0h1M472.5 121h1m1.5 0h2m1.5 0h1m0 0h1m0.5 0h1m0.5 0h1m4.5 0h1m0.5 0h1m0 0h1m0 0h2m1.5 0h1m0 0h1m1 0h1M464 121.5h1m1.5 0h1m0.5 0h1.5m0.5 0h1m0.5 0h2.5m0 0h1.5m0.5 0h1.5m2.5 0h1m0 0h1m4 0h1m0.5 0h1.5m0 0h1m0 0h2.5m0 0h4m0.5 0h1.5M470.5 122h2m0 0h1m0 0h1.5m2 0h1m3 0h1m5.5 0h1m0.5 0h1.5m0 0h1.5m0 0h1.5m0.5 0h2m0 0h1M470 122.5h1m0.5 0h1m0 0h1m1 0h1m0.5 0h3m0.5 0h1m5 0h1.5m1 0h1.5m0 0h2.5m0 0h1.5m0 0h1m1 0h1m0 0h1m1 0h1.5m1 0h1M469 123h1m0 0h1m0 0h1.5m0 0h1m0 0h1.5m0.5 0h1.5m0 0h1m3 0h1.5m5 0h2m0 0h1m0 0h1m0 0h1m0 0h2.5m2 0h1M464.5 123.5h1m0.5 0h1m0.5 0h1m0.5 0h1m1 0h1m1 0h1m0 0h1m0 0h1.5m1.5 0h1.5m0.5 0h1m3 0h1m2 0h1.5m0.5 0h1m0.5 0h1m0.5 0h1m0 0h2.5m1.5 0h1M464.5 124h1m2.5 0h1m0.5 0h1m1.5 0h2.5m1 0h1m0.5 0h1m6.5 0h1m0 0h1m1 0h1m0.5 0h1m0 0h3m0.5 0h1m0 0h1.5m1 0h2.5M469.5 124.5h2.5m2.5 0h2m2 0h1m9 0h1m0.5 0h5m0.5 0h1.5M468 125h1m0.5 0h1.5m0.5 0h1.5m0.5 0h1.5m0 0h1m0 0h2m0 0h1m1.5 0h1m0.5 0h1m0.5 0h1m1 0h1.5m1 0h1m0.5 0h2.5m0 0h1.5m1.5 0h1m0 0h1.5m1 0h1m1.5 0h1M466.5 125.5h1m1 0h1m0.5 0h1m0 0h1m0.5 0h2m1.5 0h2m0 0h1m0 0h1.5m7 0h1m2.5 0h1m1 0h1m1 0h1.5m1 0h1m1 0h1M465 126h1m0.5 0h1m0.5 0h1m0.5 0h1m0.5 0h1m0 0h1.5m0 0h1m0 0h1m0 0h3m4.5 0h1m0.5 0h1.5m1 0h1.5m2 0h1m0.5 0h1m0.5 0h1.5m2.5 0h1M464 126.5h1m1.5 0h1m0 0h2m0 0h1.5m0 0h1m0.5 0h2m0.5 0h3m2 0h1m4.5 0h1m0 0h1.5m0.5 0h1m1.5 0h1m5 0h1.5M467 127h1m0 0h3m0 0h2m0 0h1m0 0h1.5m0.5 0h2m0.5 0h1m2 0h1m13 0h1m0 0h1M464 127.5h1m0 0h1m3.5 0h3.5m0.5 0h2.5m0 0h1.5m9 0h1m1.5 0h1m2 0h2m1 0h1m0 0h1m1 0h1M468.5 128h1.5m0 0h1.5m0 0h1m0.5 0h1.5m0 0h2.5m0 0h1m0.5 0h1.5m9 0h1m3 0h1m3 0h1.5M463.5 128.5h1m1 0h2.5m0 0h1m0.5 0h1.5m1.5 0h2.5m0 0h2m0 0h1m0.5 0h1m0 0h1m5 0h1m2 0h1m0 0h1m4.5 0h1m0.5 0h1m4 0h1M466.5 129h1.5m0.5 0h1m0 0h6m0.5 0h1m0 0h1.5m2 0h1m2 0h1m4 0h1.5m2.5 0h1m0 0h1M468.5 129.5h1m1 0h2m0 0h4.5m1 0h1m3.5 0h1.5m6 0h1m0.5 0h1M465 130h1m1 0h1.5m0 0h1m0 0h2.5m0 0h1.5m0 0h1.5m0 0h1m1 0h1m0 0h1.5m5.5 0h1m11 0h1M466.5 130.5h1.5m0 0h1m0 0h1m0.5 0h1.5m0 0h1.5m0 0h1m0 0h1m0.5 0h1m1 0h1m0 0h1.5m2 0h1m8.5 0h1M468.5 131h1.5m0 0h3.5m0 0h1m0 0h1.5m0.5 0h1m0.5 0h1.5m8.5 0h1m1 0h1m1 0h1M467.5 131.5h1.5m0 0h2m0 0h4m2.5 0h1m0 0h1m0 0h1m2 0h1m0 0h1m4.5 0h1M464 132h1.5m0.5 0h1.5m1 0h3m0 0h2m0.5 0h1m0 0h1m0.5 0h1m1 0h1m8 0h1m3.5 0h1M463.5 132.5h1m1 0h1m1.5 0h2m0.5 0h1m1 0h1m0.5 0h1.5m0 0h1m4 0h1m2 0h1m3.5 0h1m0.5 0h1m0 0h1m1.5 0h1M463.5 133h1m0 0h1m1.5 0h1.5m0 0h1m0 0h3m0 0h2m0 0h2.5m0 0h1m3.5 0h1m10.5 0h1m5 0h1M465 133.5h1m0.5 0h1.5m0 0h1m0 0h4m0 0h1.5m0.5 0h2m1.5 0h1m9 0h1M465 134h1m0 0h2.5m0 0h2m0.5 0h1m0 0h3.5m0 0h2m0 0h1m1.5 0h1m2.5 0h1m0 0h1m7 0h1.5M465 134.5h1m0 0h3m0 0h2m0 0h2m0 0h1m0 0h3m0 0h1m2.5 0h1m0 0h1m0 0h1m5 0h1m1 0h1m4 0h1M463.5 135h1m1.5 0h1m2 0h1.5m0 0h1.5m1.5 0h2m4 0h1m3.5 0h1.5m1 0h1.5m0 0h1m0.5 0h1m0 0h1.5m4 0h1M464.5 135.5h1m0 0h1m0 0h1m0 0h1m0.5 0h2m0 0h1m0 0h4.5m1 0h1m0.5 0h1m2.5 0h1m0 0h1m3.5 0h1.5m0 0h1m1.5 0h1.5M465 136h1m1 0h1.5m0.5 0h1m1.5 0h1m1 0h3m0 0h1m5.5 0h1m0 0h1m0.5 0h1m1.5 0h1m2 0h1.5M464 136.5h2m0 0h1.5m1 0h2m0 0h4m0.5 0h1m3.5 0h1m0 0h1m6.5 0h1m1 0h1.5m1 0h1M464 137h1m0.5 0h1.5m0 0h1.5m0 0h2.5m0 0h1.5m0 0h2.5m0.5 0h1m1 0h1m0 0h1m0.5 0h1m0 0h1m6.5 0h1M464 137.5h1m0 0h1.5m0 0h1m0 0h2.5m0.5 0h2m0 0h1m0 0h1m0 0h1m0.5 0h1m4 0h1.5m2 0h1m1 0h1m0.5 0h1m0 0h1m1.5 0h1M463.5 138h1m0 0h1m1.5 0h1m0.5 0h2.5m0 0h1.5m3 0h1m0 0h1m1.5 0h1m7 0h1.5m4 0h1m3 0h1.5M464.5 138.5h1m0 0h1m2 0h1.5m0 0h1.5m0 0h2.5m0 0h1.5m0 0h2m8 0h1m4 0h1m1 0h1m1 0h1m0.5 0h1M465 139h1m0.5 0h1m0.5 0h1.5m0 0h2.5m0 0h2m0.5 0h1.5m2.5 0h1.5m4 0h1m1 0h1m3.5 0h1m0.5 0h1.5M463.5 139.5h1m0.5 0h1m0.5 0h2m0 0h1.5m0 0h1m0.5 0h1m1.5 0h1.5m0 0h1m1 0h1m5 0h1.5m2 0h1m2 0h2m0.5 0h1.5m0.5 0h1M463.5 140h1.5m1 0h1m0 0h1m0.5 0h1.5m2 0h1m0.5 0h1m0 0h1.5m0 0h1m0.5 0h1m3 0h1m2.5 0h2m8 0h1m2.5 0h1M464 140.5h1m1 0h1m0 0h1.5m1 0h3.5m3 0h1m11.5 0h1m1.5 0h1m0 0h1m3.5 0h1M463.5 141h2m1 0h5m1.5 0h2m1.5 0h1m9 0h3m1.5 0h1m0.5 0h1.5M465 141.5h1.5m1 0h1m0 0h1m1 0h3m2.5 0h1.5m0 0h1m5 0h1m1 0h1m1 0h1m3.5 0h1m2 0h1M463.5 142h1m0 0h1m0 0h3.5m1 0h1.5m0 0h2.5m0 0h1.5m0 0h1.5m9 0h1m0 0h1m0.5 0h1.5m0 0h2m0 0h1m1 0h1M463.5 142.5h1m1.5 0h1m0 0h1m0 0h1.5m0 0h1m0 0h1.5m0 0h1m1 0h1m0.5 0h1m7 0h1m0 0h1.5m3 0h1m0 0h1m0.5 0h1m0 0h1m1 0h1M464.5 143h1m0.5 0h2m0.5 0h2.5m0 0h4m0 0h1m0.5 0h1m3.5 0h1.5m5 0h1m7.5 0h1M464 143.5h1m2 0h1.5m0 0h1m3 0h1.5m0 0h1.5m10.5 0h1m0 0h2m1 0h1.5m1.5 0h1m1 0h1m0.5 0h1M464.5 144h1m0 0h3m0.5 0h1.5m1 0h1.5m0 0h1m0 0h1m0.5 0h1m3 0h1m6 0h1m1.5 0h1m1.5 0h1M464.5 144.5h2.5m1.5 0h1m0 0h2m0.5 0h1.5m0 0h1m0.5 0h1m8.5 0h1m2.5 0h1.5m0 0h1m7 0h1M464 145h1m1 0h1.5m1 0h1m1 0h1.5m0 0h1m0.5 0h1.5m0.5 0h1m0.5 0h1m0.5 0h1m2.5 0h1m0 0h1m4 0h1m2.5 0h1M466 145.5h1m1.5 0h1m0 0h2m0 0h1m0 0h1.5m4.5 0h1m0 0h1m2.5 0h1.5m0 0h1.5m1 0h1m2.5 0h1m0.5 0h1M465 146h1m1 0h2m0 0h1.5m1 0h1m3 0h1m2.5 0h1m1 0h1m2 0h1m1 0h1m3.5 0h1m0 0h1m1.5 0h1M465 146.5h2.5m0 0h2m1.5 0h1.5m0 0h1m0 0h1m11 0h1m1.5 0h1m0.5 0h1m2 0h1M464.5 147h1m0.5 0h1.5m0.5 0h1m0 0h2m0 0h1.5m2 0h1m11.5 0h1m3.5 0h1m0 0h1m7.5 0h1M463.5 147.5h3m0.5 0h1m0 0h1m0 0h1m1 0h1.5m0 0h1m1.5 0h1m7 0h1m1 0h1.5m8 0h1m3 0h1M463.5 148h1m0.5 0h1m0 0h1m2.5 0h1m1 0h1m1.5 0h1m0 0h1m0 0h1m3 0h1m1.5 0h1m1 0h1m6.5 0h1m1.5 0h1m0 0h1M465.5 148.5h1m0.5 0h1.5m2 0h1m0 0h1m0 0h1m1 0h1.5m10.5 0h1M463.5 149h1m2 0h1m0 0h1m1 0h1m1 0h1.5m10.5 0h1m1 0h1m1.5 0h1M463.5 149.5h1.5m5 0h1m1.5 0h1m5.5 0h1m6.5 0h1m5 0h1M465 150h1m0 0h1m0 0h1m0 0h1m1 0h1m2 0h1m16.5 0h1m3.5 0h1m1 0h1m0 0h1M463.5 150.5h2m0.5 0h1m0.5 0h2m16 0h1m0 0h1m2 0h1M464.5 151h2m1 0h1m2.5 0h2.5m11 0h1m5.5 0h1m0 0h1M463.5 151.5h1m0.5 0h1m0 0h1m2 0h1.5m0.5 0h1.5m1 0h1m2 0h1m14 0h1M465.5 152h1.5m1.5 0h1m2.5 0h1m7 0h1m0.5 0h1m2 0h1m6 0h1M465.5 152.5h1.5m2.5 0h1m21.5 0h1M464 153h1m0 0h1m0.5 0h1m7.5 0h1m17 0h1M463.5 153.5h1m1.5 0h1m0 0h1m0 0h2.5m0.5 0h1m17 0h1M464 154h2m0 0h1m2 0h1.5m3.5 0h1m12 0h1m2.5 0h1m2 0h1M464 154.5h1.5m0 0h1m2 0h1.5m20 0h1M466 155h2.5m0 0h1" stroke="#1a1a1a" stroke-width="1" fill="none"/>
<rect x="463" y="92.6" width="51.8" height="62.9" fill="none" stroke="#222" stroke-width="0.9"/>
<path d="M463 92.6V155.5H514.8" fill="none" stroke="#111" stroke-width="1.2"/>
<path d="M481.4 92.6V155.5M463 130.7H514.8" stroke="#444" stroke-width="0.8"/>
<path d="M503.5 93.6V111.4M494.3 103.6H514.2" stroke="#111" stroke-width="0.9"/>
<g font-size="5.1" font-weight="bold" text-anchor="middle" fill="#222">
<text x="498.9" y="100.3">30</text>
<text x="508.4" y="100.3">35</text>
<text x="498.9" y="109">29</text>
<text x="508.4" y="109">6</text>
</g>
<g font-size="4" fill="#555">
<text transform="translate(460 155.5) rotate(-90)" text-anchor="middle">10<tspan font-size="2.6" dy="-1.2">0</tspan></text>
<text transform="translate(460 139.78) rotate(-90)" text-anchor="middle">10<tspan font-size="2.6" dy="-1.2">1</tspan></text>
<text transform="translate(460 124.05) rotate(-90)" text-anchor="middle">10<tspan font-size="2.6" dy="-1.2">2</tspan></text>
<text transform="translate(460 108.32) rotate(-90)" text-anchor="middle">10<tspan font-size="2.6" dy="-1.2">3</tspan></text>
<text transform="translate(460 92.6) rotate(-90)" text-anchor="middle">10<tspan font-size="2.6" dy="-1.2">4</tspan></text>
</g>
<path d="M461.8 155.5h1.8M463 155.5v1.8M461.8 150.77h1.2M466.9 155.5v1.2M461.8 148h1.2M469.18 155.5v1.2M461.8 146.03h1.2M470.8 155.5v1.2M461.8 144.51h1.2M472.05 155.5v1.2M461.8 143.26h1.2M473.08 155.5v1.2M461.8 142.21h1.2M473.94 155.5v1.2M461.8 141.3h1.2M474.7 155.5v1.2M461.8 140.49h1.2M475.36 155.5v1.2M461.8 139.78h1.8M475.95 155.5v1.8M461.8 135.04h1.2M479.85 155.5v1.2M461.8 132.27h1.2M482.13 155.5v1.2M461.8 130.31h1.2M483.75 155.5v1.2M461.8 128.78h1.2M485 155.5v1.2M461.8 127.54h1.2M486.03 155.5v1.2M461.8 126.49h1.2M486.89 155.5v1.2M461.8 125.57h1.2M487.65 155.5v1.2M461.8 124.77h1.2M488.31 155.5v1.2M461.8 124.05h1.8M488.9 155.5v1.8M461.8 119.32h1.2M492.8 155.5v1.2M461.8 116.55h1.2M495.08 155.5v1.2M461.8 114.58h1.2M496.7 155.5v1.2M461.8 113.06h1.2M497.95 155.5v1.2M461.8 111.81h1.2M498.98 155.5v1.2M461.8 110.76h1.2M499.84 155.5v1.2M461.8 109.85h1.2M500.6 155.5v1.2M461.8 109.04h1.2M501.26 155.5v1.2M461.8 108.32h1.8M501.85 155.5v1.8M461.8 103.59h1.2M505.75 155.5v1.2M461.8 100.82h1.2M508.03 155.5v1.2M461.8 98.86h1.2M509.65 155.5v1.2M461.8 97.33h1.2M510.9 155.5v1.2M461.8 96.09h1.2M511.93 155.5v1.2M461.8 95.04h1.2M512.79 155.5v1.2M461.8 94.12h1.2M513.55 155.5v1.2M461.8 93.32h1.2M514.21 155.5v1.2" stroke="#555" stroke-width="0.4"/>
<g font-size="5.1" fill="#1a1a1a" text-anchor="middle">
<text x="464.2" y="163.8">10<tspan font-size="3.4" dy="-1.8">0</tspan></text>
<text x="477.15" y="163.8">10<tspan font-size="3.4" dy="-1.8">1</tspan></text>
<text x="490.1" y="163.8">10<tspan font-size="3.4" dy="-1.8">2</tspan></text>
<text x="503.05" y="163.8">10<tspan font-size="3.4" dy="-1.8">3</tspan></text>
<text x="516" y="163.8">10<tspan font-size="3.4" dy="-1.8">4</tspan></text>
</g>
<path d="M449.5 104.6V119.72M449.5 135.98V150.8" stroke="#111" stroke-width="0.9"/>
<path d="M449.5 101.6l1.5 4.2h-3z" fill="#111"/>
<text transform="translate(452.4 127.85) rotate(-90)" font-size="8" text-anchor="middle">c-kit</text>
<path d="M389 173.5h1m8 0h1M391 174h1M398.5 174.5h1M392 175h1M397 176.5h1M385 177h1M386 177.5h1m4 0h1M384.5 178h1m11.5 0h1M392.5 180h1M388 181h1.5m5 0h1M390.5 182.5h1M388.5 183h1m2 0h1m1 0h1m6 0h1M395.5 183.5h1M403.5 184h1M394.5 185h1M391 185.5h1m6.5 0h1M392 186h1m2 0h1.5M406.5 186.5h1M398 187.5h1M388.5 188h1m2 0h1m3.5 0h1M392 188.5h1M384.5 189.5h1m0.5 0h1M385 190h1m5.5 0h1M395.5 190.5h1m2.5 0h1m11.5 0h1M389 191h1m0.5 0h1m8 0h1m18 0h1M395.5 191.5h1m13.5 0h1M389.5 192h1M387 192.5h1m1.5 0h1m0 0h1M400 193h1m9.5 0h1m2 0h1m0 0h1M386.5 193.5h1m4 0h1m0.5 0h1.5m1.5 0h1m5.5 0h1M393.5 194h2.5m2.5 0h1M392 194.5h1M390 195h1m4.5 0h1m0.5 0h1m10 0h1m3.5 0h1m1.5 0h1m1 0h1M384.5 195.5h1.5m7.5 0h1m10.5 0h1M394.5 196h1m0 0h1m4.5 0h1m15 0h1M387 196.5h1.5m6 0h1m8 0h1.5m12.5 0h1M391 197h1m1.5 0h1m0 0h1.5m14 0h1M386.5 197.5h1m0.5 0h1m11.5 0h1m9.5 0h1m0 0h1M393 198h1.5m0.5 0h1M395.5 198.5h1m0.5 0h1m19 0h1M388 199h1m0 0h1m4.5 0h1m0 0h1m1 0h1m4 0h1m4 0h1m2 0h1M390 199.5h1m5.5 0h1m0 0h1m6 0h1m1.5 0h1m0 0h1M391 200h1m4 0h1.5m0.5 0h1m10 0h1m1 0h1M385.5 200.5h2m1 0h1m1 0h1m0.5 0h1m5.5 0h1m15 0h1m0 0h1M386.5 201h1m0.5 0h1m2 0h1m23 0h1M389 201.5h1m6.5 0h1m12 0h1m2 0h1M386.5 202h1m1.5 0h1m5 0h1m12 0h1M393 202.5h1m21 0h1m2 0h1M387.5 203h1m3.5 0h1m0 0h1m3.5 0h1m6 0h1m2 0h1m2.5 0h1m0.5 0h1m2.5 0h1M387.5 203.5h1m1.5 0h1m18 0h1m5 0h1M397 204h1m0.5 0h1m2.5 0h1m0.5 0h1m2 0h1m3.5 0h1m0.5 0h1m3 0h1M385 204.5h1m0.5 0h1.5m2.5 0h1m2.5 0h1m0.5 0h1m4.5 0h1m8.5 0h1M386.5 205h1m3 0h1m1.5 0h1m0 0h1m0 0h1m2.5 0h1.5m0 0h1m3.5 0h1m5 0h1m0 0h1m2.5 0h1M384.5 205.5h1m0 0h1.5m3.5 0h1m8.5 0h1m6 0h1m3 0h1m8.5 0h1M396 206h1m11.5 0h1m0.5 0h1m3.5 0h1m2 0h1M386.5 206.5h1m20 0h1.5M385 207h1m3.5 0h1m3 0h1m3.5 0h1m10 0h1.5m2.5 0h1m0.5 0h1M401.5 207.5h1m2 0h1m1 0h1m1.5 0h1m8 0h1m1 0h1M389 208h1m3.5 0h1m7 0h1m11 0h1m3 0h1M385.5 208.5h1m2.5 0h1m7 0h1m1 0h1m8.5 0h1m0.5 0h1m3 0h1M393.5 209h1m3.5 0h1m6 0h1M386.5 209.5h1m5 0h1m1 0h1m2.5 0h1M387 210h1m1.5 0h1m1.5 0h1m0 0h1m1 0h1.5m3.5 0h1m3 0h1.5m8.5 0h1m0.5 0h1m1 0h1M385.5 210.5h1m1 0h1m11.5 0h1m15 0h1M386 211h1m4 0h1.5m1.5 0h1m12.5 0h1m1 0h1m7.5 0h1M384 211.5h1m3.5 0h1m2 0h1m11.5 0h1m2 0h1m5.5 0h1m1 0h1m5.5 0h1M398.5 212h1m2.5 0h1m6 0h1m7 0h1M388 212.5h1m8 0h1m10 0h1m1 0h1m3.5 0h1m2 0h1M394 213h1.5m1 0h1.5m0.5 0h1.5m14 0h1m6.5 0h1M387 213.5h1m13 0h1m1 0h1m0 0h1M388.5 214h1m1 0h1m4.5 0h1m6.5 0h1m2.5 0h1m1 0h1m5 0h1M394.5 214.5h1m10.5 0h1.5m4.5 0h1m3 0h1M386.5 215h1m1 0h1.5m16.5 0h1m2.5 0h1.5m1 0h1m3 0h1M413.5 215.5h1M404.5 216h1.5m3 0h1m0 0h1M390.5 216.5h1m1 0h1m0 0h1m10 0h1m7 0h1M385 217h1m5.5 0h1.5m3 0h1m3 0h1m1 0h1m7 0h1m0 0h1m3.5 0h1m0.5 0h1m0.5 0h1M384.5 217.5h1m10.5 0h1m2.5 0h1m5 0h1m2 0h1M391 218h1m1 0h1m1.5 0h1m0 0h1m3.5 0h1m0 0h1m6 0h1M385.5 218.5h1m7.5 0h1m5.5 0h1m3.5 0h1m3 0h2M385 219h1m8 0h1m13.5 0h1m3 0h1m5.5 0h1M389.5 219.5h1m0.5 0h1m4 0h1m18 0h1M386 220h1m1 0h1m6 0h1m16 0h1m3 0h1M385.5 220.5h1m4 0h1m1 0h1m1.5 0h1m6.5 0h1m7 0h1m2.5 0h1.5m5 0h1m0 0h1M395 221h1m0.5 0h1m5 0h1m1 0h1m1.5 0h1m4 0h1m1.5 0h1m1.5 0h1m6 0h1M394 221.5h1m4.5 0h1m1 0h1m5 0h1m0.5 0h1m4 0h1M388.5 222h1m4.5 0h1m2.5 0h1m8 0h1m5.5 0h1m2.5 0h1M393 222.5h1m0 0h1m16.5 0h1.5m0.5 0h1M395.5 223h1m3.5 0h1m6.5 0h1M384.5 223.5h1m8.5 0h1m2 0h1m14.5 0h1.5M385 224h1m10.5 0h1m1.5 0h1m0.5 0h1m6 0h1M385.5 224.5h1.5m6.5 0h1m1 0h1m5 0h1m8 0h1M384.5 225h1m0 0h1m28.5 0h1M384.5 225.5h1m2.5 0h1m4.5 0h1m13.5 0h1M388.5 226h1m1 0h1m3.5 0h1.5m0.5 0h1m0 0h1m11.5 0h1M388 226.5h1m0 0h1m0 0h1m7.5 0h1M394.5 227h1m13.5 0h1M387.5 227.5h1m3 0h1m0 0h1m0.5 0h1m1.5 0h1m6.5 0h1M399 228h1.5m11.5 0h1m8.5 0h1M388 228.5h1m5 0h1m4 0h1M387.5 229h1m0 0h1m0.5 0h1m4 0h1m19 0h1M391.5 229.5h1m6.5 0h1" stroke="#777" stroke-width="1" fill="none"/>
<path d="M386.5 171.5h1M388 177h1m1.5 0h1M393 177.5h1M391 178h1m2.5 0h1M390.5 178.5h1M386 179.5h1m0 0h1m7.5 0h1M385.5 180.5h1m5 0h1m1 0h1M391 181h1m2 0h1m3 0h1M388.5 181.5h1m4 0h1M386.5 182h1m1 0h1M391 183h1M385.5 183.5h1m4.5 0h1m0.5 0h1.5M385.5 184h1m1.5 0h1m0.5 0h1m1.5 0h1M384.5 184.5h1m2 0h1m1 0h1m0 0h1m2 0h1m14 0h1M390 185h1m0.5 0h1m1.5 0h1M386.5 185.5h1m4.5 0h1m0 0h1m0.5 0h1M386 186h1.5m0 0h1M387 186.5h1m2 0h1m4 0h1M388.5 187h1m0 0h1m5.5 0h1M385.5 187.5h1m3.5 0h1.5m0 0h1m0.5 0h2m6 0h1M385 188h1m5 0h1m1.5 0h1m0.5 0h1M387.5 188.5h1m0 0h1m0 0h1m6 0h1M385.5 189h1m2.5 0h1m1 0h1m0 0h1m0 0h1m1 0h1m0 0h1M385.5 189.5h1m1 0h1m3.5 0h1.5m0 0h1m1 0h1m0 0h1m9.5 0h1M387 190h1m0 0h2m4.5 0h1m0 0h1m2 0h1m3 0h1M389 190.5h1m1.5 0h1m0.5 0h1m2.5 0h1M387.5 191h1m0 0h1m2 0h1.5m0.5 0h1m1 0h1m4 0h1m9 0h1M386.5 191.5h1m2 0h1m0.5 0h1.5m0 0h1m1 0h1m2 0h1m8 0h1M384.5 192h1m3.5 0h1m1.5 0h1m0.5 0h1m0 0h1m1 0h1m1 0h1m8 0h1M385.5 192.5h1m0 0h1m0.5 0h1m1 0h1m0.5 0h1m0 0h1m0 0h1.5m0 0h1.5m1 0h1m3.5 0h1m12 0h1.5M384.5 193h1m4.5 0h1.5m0 0h1m1 0h1m11.5 0h1M388 193.5h1.5m1.5 0h1m5 0h1m0 0h1m0.5 0h1.5m6 0h1m6.5 0h1M386.5 194h1m0.5 0h1m7 0h1.5m10 0h1m2.5 0h1m1 0h1m0 0h1M385.5 194.5h2m0.5 0h1m0 0h1.5m2.5 0h1m2.5 0h1.5m6 0h1m0.5 0h1.5M389.5 195h1m1.5 0h1.5m1.5 0h1m4 0h1m3.5 0h1m5 0h1M388 195.5h1m0.5 0h1m1 0h1m0.5 0h1m0.5 0h1m0 0h1.5m1 0h1m1 0h1m11 0h1.5M385 196h1m0.5 0h1m1 0h1.5m0 0h1m0.5 0h1m0.5 0h1m0 0h1m2 0h1m9 0h1m2.5 0h1m1 0h1M386.5 196.5h1m1 0h1m1 0h3.5m0 0h1m0 0h1m1 0h1m1 0h1m1 0h1m5 0h1m4 0h1.5m1 0h1m3.5 0h1M385 197h1.5m1.5 0h1.5m0 0h1m0 0h1m0 0h1.5m0 0h1m0 0h1m1.5 0h1m1 0h1.5m4 0h1m7 0h1.5m1 0h1M387.5 197.5h1m0 0h1m0 0h2m0 0h3.5m2 0h1m0.5 0h1m2.5 0h1m6.5 0h1m0 0h1m2 0h1.5m4.5 0h1M385 198h1m2.5 0h1m0.5 0h1m0.5 0h1.5m1.5 0h1m12 0h1m2.5 0h1.5m0 0h1m0.5 0h1m6 0h1M384.5 198.5h1m1 0h1m0 0h3.5m1 0h1m1.5 0h1.5m5 0h1m9.5 0h1m1 0h1M386 199h1m0 0h1m2 0h1m1 0h1m0 0h1m1 0h1m9 0h1m3.5 0h1.5m4.5 0h1m4 0h1.5M387 199.5h1m0 0h1m1.5 0h1m0 0h1m1 0h1m0 0h1m2.5 0h1m2.5 0h1m6.5 0h1m5 0h1M384.5 200h1m0 0h1m2 0h2.5m0.5 0h1m1 0h1m0.5 0h1m1.5 0h1m0 0h1m3 0h1m3.5 0h1m2 0h1m0.5 0h1.5m3 0h1m3 0h1M387 200.5h1.5m0.5 0h1m1 0h1.5m0 0h1m0 0h1m0 0h1.5m9 0h1m0.5 0h1.5m2 0h1m0 0h2m1 0h1M386 201h1m1.5 0h1m0 0h2m1 0h1.5m1 0h1m0 0h1m0 0h1m1 0h1m0.5 0h1m1 0h1m3.5 0h1m3.5 0h1M385.5 201.5h1m1 0h1m2 0h1m0 0h1m0 0h1m0 0h1m1.5 0h1m7.5 0h1m0 0h1m2 0h1.5m0.5 0h1.5m1 0h1.5m3 0h1M388 202h1m1 0h1m0 0h2m0.5 0h1m2 0h1m0.5 0h1m3.5 0h1m1 0h1m4 0h1m3.5 0h1M386.5 202.5h1m0 0h1.5m0 0h2m0 0h1m0 0h1.5m0 0h1m0 0h1m0.5 0h2m0.5 0h1m0 0h1m6 0h1m1.5 0h1m1 0h1m5.5 0h1m1 0h1M386.5 203h1m0.5 0h1m1 0h1m0 0h1.5m4 0h1.5m9 0h1m5 0h1m1.5 0h1m0 0h1M388 203.5h1.5m0 0h1m0 0h1m2.5 0h1m0 0h1m4 0h1m6.5 0h1m2.5 0h1.5m1 0h1m0 0h1m5.5 0h1M385 204h1m0 0h1.5m0 0h1m0 0h1m1 0h1.5m0 0h2m1 0h1m1.5 0h1m11 0h1m1 0h1.5m9 0h1M389.5 204.5h1m1 0h1.5m0 0h1m0.5 0h1m2 0h1m0 0h1m1 0h1m3 0h1m3 0h1.5m0 0h1m3.5 0h2M388.5 205h1.5m0 0h1m0.5 0h1.5m1.5 0h1m0 0h1m6.5 0h1m2.5 0h1m1.5 0h1m2 0h2m0 0h1m1.5 0h1m2 0h1M386.5 205.5h1.5m0.5 0h1.5m0 0h1m0 0h2.5m0 0h2m0 0h1m0.5 0h1m5.5 0h1m1.5 0h1m1.5 0h2m0 0h1m0 0h1.5m0 0h1m1 0h1m2 0h1m2.5 0h1M384.5 206h1m2 0h1m0.5 0h1.5m0.5 0h1m1 0h1m0 0h2.5m0 0h1m7 0h1m1 0h1m0 0h1m0.5 0h1m1 0h1.5m1.5 0h1m0.5 0h1M387 206.5h1m0 0h1m0 0h1m0 0h1m0 0h1.5m0.5 0h1m0 0h1m0 0h2.5m7 0h1m1.5 0h1m2.5 0h2m1.5 0h1m1.5 0h1.5M384.5 207h1m0 0h1.5m0 0h3m0 0h3m0 0h1m0.5 0h1m1 0h1m3 0h1m2.5 0h1m0 0h1m0.5 0h1.5m3 0h1m0 0h1m1 0h1m0.5 0h1.5m1 0h1M384.5 207.5h1m1 0h1.5m0.5 0h4.5m1 0h2m0.5 0h1m1 0h1m5.5 0h1m0 0h1m0.5 0h1m2 0h1.5m1.5 0h1m0.5 0h1.5m4.5 0h1M386 208h1.5m0 0h1m1 0h2m0 0h2.5m0 0h1m0 0h2m3.5 0h1m2 0h1m1.5 0h1.5m2 0h1.5m0.5 0h1.5m2.5 0h1m0 0h1M385 208.5h1m0 0h1m1.5 0h1m0.5 0h3.5m0 0h1m0 0h1.5m0 0h1m4 0h1m4 0h1m0 0h1m0 0h1m0 0h1m0.5 0h2m0.5 0h1m0.5 0h1.5m0 0h1m0.5 0h1m4 0h1M386.5 209h1.5m0 0h3m0 0h1m0 0h1.5m0.5 0h4.5m5 0h1m0 0h1m0.5 0h1m0.5 0h2.5m0 0h2m0 0h1m2 0h1m0 0h1m3.5 0h1M387.5 209.5h1m1.5 0h1.5m1.5 0h1m0 0h1m0 0h1.5m0 0h1m0 0h1m0 0h1m0.5 0h1m5.5 0h1m0 0h1m0 0h2m0.5 0h1.5m1 0h3M386 210h1.5m0 0h1m1.5 0h1m0 0h1m0.5 0h1m1 0h1m0.5 0h1m0 0h1m0 0h1m3.5 0h1m0 0h1m2.5 0h1m0 0h1m0 0h1.5m0 0h4m0.5 0h1m0 0h1M389 210.5h1m0 0h4m0 0h1m1 0h1m1 0h1.5m4.5 0h1m0 0h1m0.5 0h1m0 0h1m0.5 0h2m0 0h1.5m0 0h1.5m1 0h1.5m0.5 0h1m1 0h1M384 211h1m0.5 0h1m0 0h1m1.5 0h1m0 0h1.5m1 0h2m0.5 0h2m0 0h1.5m3 0h1m4 0h1m0.5 0h2m0 0h2.5m0.5 0h1.5m0 0h1.5m2.5 0h1M386.5 211.5h1m1.5 0h2m0 0h1m0.5 0h1m0 0h1m0 0h1.5m0 0h1m0 0h1m8.5 0h1m0 0h1m0.5 0h3m1 0h1m2.5 0h1M385 212h1m0 0h1m0 0h2.5m0.5 0h1.5m0 0h1m0 0h1m0 0h1m0 0h1.5m0 0h1m0.5 0h1m1 0h1m2 0h1m3.5 0h1m0.5 0h1m0 0h2m0 0h1m0 0h2m4 0h1M384 212.5h1m0.5 0h1.5m0 0h1.5m0 0h1m0 0h3m0 0h1.5m0.5 0h1m0.5 0h1m0.5 0h1.5m4 0h1m1.5 0h1.5m0.5 0h1m0 0h1.5m0.5 0h1m0 0h2m0.5 0h1m0 0h1.5m0.5 0h1m0 0h1M384.5 213h1m1 0h1m1.5 0h1.5m0 0h1.5m0.5 0h2m3 0h1m3.5 0h1m0.5 0h1m1.5 0h1m0.5 0h2m0 0h2.5m0 0h2.5m0 0h1m1.5 0h1.5M384.5 213.5h1m2 0h2.5m0 0h1m1 0h2m0 0h2m0.5 0h1.5m0 0h2m2 0h1m2 0h1m0.5 0h2m0.5 0h2m0.5 0h2m0 0h3m0 0h1.5m0 0h1M385 214h1m0 0h1m0 0h2m0 0h2m0 0h1.5m1.5 0h1.5m0 0h1m0.5 0h1.5m0 0h1m5.5 0h1m1.5 0h1m1.5 0h3m0 0h2m0.5 0h1m0.5 0h1m2.5 0h1M385 214.5h1m0.5 0h6m0 0h1.5m0 0h1m0 0h2m0 0h1m6.5 0h1.5m1 0h1.5m0 0h1m0 0h1m0.5 0h1.5m0.5 0h1m0 0h2.5m0 0h1m2 0h1M385 215h1m0 0h1m0 0h1m0 0h1m1 0h1m0 0h2.5m0 0h1m7 0h1m1.5 0h1m0.5 0h1m1 0h3m2.5 0h1.5m0.5 0h1m1 0h1m1.5 0h1.5M384.5 215.5h1.5m0 0h2m0 0h2m0.5 0h5.5m11.5 0h1m0 0h1m0 0h1m0 0h1.5m0 0h2m0 0h1m0 0h1.5m0.5 0h1m1 0h1M386 216h1.5m1 0h7m0.5 0h1m0.5 0h1m13 0h2m0 0h1.5m1 0h1m1 0h1M387 216.5h1.5m0.5 0h1.5m0.5 0h1.5m0.5 0h1m0 0h1.5m0 0h1.5m0 0h1.5m1.5 0h1m1 0h1m1 0h1m3 0h1.5m0 0h3.5m0.5 0h1.5m1 0h1M388.5 217h3.5m1 0h3m0.5 0h1m5 0h1m0.5 0h1m2.5 0h1m0 0h1.5m0.5 0h1m0.5 0h1.5m0 0h1.5m1 0h1m1 0h1M385 217.5h1m0 0h2m0 0h2m0 0h3.5m0 0h3m0 0h1m1.5 0h1m0 0h1m3 0h1m1 0h1m2 0h2.5m0.5 0h2m1 0h2M385 218h1m0 0h1.5m0 0h1.5m0 0h1m0.5 0h1m0 0h1m0 0h1m0 0h1.5m0 0h1m0 0h1m0 0h1m0 0h1m8 0h1.5m1.5 0h2m1 0h1m0.5 0h1M384.5 218.5h1m1 0h1m0 0h1m0.5 0h1m0.5 0h1.5m0.5 0h1m0 0h1m0.5 0h2.5m4 0h1m3.5 0h1.5m0.5 0h1.5m2.5 0h1.5m2 0h1m1 0h1M387 219h1m0 0h1m0.5 0h2.5m0 0h1m0 0h1.5m0.5 0h1m1 0h1.5m1.5 0h1m1.5 0h1m4.5 0h1m0.5 0h1m0 0h1m0.5 0h1m0 0h1m2.5 0h1m0 0h1m0 0h1M385 219.5h1m4.5 0h1m0 0h2m0 0h1.5m0 0h1m0.5 0h1m2 0h1m4.5 0h1m1.5 0h1.5m0.5 0h1m0.5 0h1.5m3.5 0h1m0 0h1.5m3.5 0h1M384 220h1m0 0h1m1 0h1m1.5 0h1m0 0h2m1 0h1m1 0h1m0 0h1m4 0h1m0.5 0h1m4 0h2.5m0.5 0h1m3 0h1m0.5 0h2.5M388 220.5h1m0 0h1.5m1.5 0h1m0 0h1m0 0h1.5m0.5 0h1.5m4.5 0h1m3 0h1m0 0h1m0 0h1.5m0.5 0h1m2 0h1M385 221h1m2 0h1m1.5 0h5m0 0h1m1 0h1m9 0h2m0.5 0h1.5m0 0h1m8 0h1M387.5 221.5h1.5m0 0h1m0.5 0h1m0 0h3m2.5 0h1m12.5 0h1m1.5 0h1M384.5 222h1m2.5 0h1m1 0h1m0.5 0h1.5m0 0h1.5m5.5 0h1m2.5 0h1m1.5 0h1m3 0h1m0.5 0h1m1 0h1m0 0h1M387.5 222.5h1.5m0.5 0h3m0 0h1m0 0h1m2.5 0h1m9 0h1m4.5 0h1m1.5 0h1M388 223h1m0 0h1m1.5 0h1m1 0h1m2 0h1m0.5 0h1m7.5 0h1m5.5 0h1m0 0h1.5M386 223.5h1m0 0h1m0 0h1m1 0h1m0 0h1m3.5 0h2m11.5 0h1m1.5 0h1.5m1 0h1M385.5 224h1m0.5 0h1m1.5 0h1.5m1.5 0h1.5m0.5 0h1m0.5 0h1m1 0h1m9 0h1m1 0h1m0 0h1m3 0h1M388 224.5h2m0 0h2m0.5 0h1.5m1 0h1m0 0h1.5m0.5 0h1m14.5 0h1.5m0 0h1m3.5 0h1M385 225h1m2.5 0h1m0 0h1m0 0h1m0 0h1m0.5 0h1m2 0h1.5m12 0h1m0.5 0h1m0 0h1m0.5 0h1m1 0h1M387 225.5h1m0.5 0h1m2.5 0h1m0 0h1m2 0h1.5m13.5 0h1m2 0h1M387 226h1m2 0h1M389.5 226.5h1m0 0h1.5m2 0h1.5m6.5 0h1m5.5 0h1.5m1 0h2M391 227h1m5.5 0h1m15 0h1.5m2.5 0h1M385.5 227.5h1m0.5 0h1m1.5 0h1m0 0h1m0.5 0h1m5.5 0h1.5m7.5 0h1M388.5 228h1m6 0h1m1.5 0h1m14 0h1M385 228.5h1m6 0h1.5m2.5 0h1m20 0h1M385 229h1m8 0h1m3 0h1M384.5 229.5h1m4.5 0h1m4 0h1m0.5 0h1m5.5 0h1M412.5 230h1" stroke="#1a1a1a" stroke-width="1" fill="none"/>
<rect x="383.8" y="167.6" width="51.7" height="62.6" fill="none" stroke="#222" stroke-width="0.9"/>
<path d="M383.8 167.6V230.2H435.5" fill="none" stroke="#111" stroke-width="1.2"/>
<path d="M402.4 167.6V230.2M383.8 205.4H435.5" stroke="#444" stroke-width="0.8"/>
<path d="M424.6 168.4V186.2M415.3 178.2H434.9" stroke="#111" stroke-width="0.9"/>
<g font-size="5.1" font-weight="bold" text-anchor="middle" fill="#222">
<text x="420" y="174.9">26</text>
<text x="429.5" y="174.9">6</text>
<text x="420" y="183.6">30</text>
<text x="429.5" y="183.6">37</text>
</g>
<g font-size="4" fill="#555">
<text transform="translate(380.8 230.2) rotate(-90)" text-anchor="middle">10<tspan font-size="2.6" dy="-1.2">0</tspan></text>
<text transform="translate(380.8 214.55) rotate(-90)" text-anchor="middle">10<tspan font-size="2.6" dy="-1.2">1</tspan></text>
<text transform="translate(380.8 198.9) rotate(-90)" text-anchor="middle">10<tspan font-size="2.6" dy="-1.2">2</tspan></text>
<text transform="translate(380.8 183.25) rotate(-90)" text-anchor="middle">10<tspan font-size="2.6" dy="-1.2">3</tspan></text>
<text transform="translate(380.8 167.6) rotate(-90)" text-anchor="middle">10<tspan font-size="2.6" dy="-1.2">4</tspan></text>
</g>
<path d="M382.6 230.2h1.8M383.8 230.2v1.8M382.6 225.49h1.2M387.69 230.2v1.2M382.6 222.73h1.2M389.97 230.2v1.2M382.6 220.78h1.2M391.58 230.2v1.2M382.6 219.26h1.2M392.83 230.2v1.2M382.6 218.02h1.2M393.86 230.2v1.2M382.6 216.97h1.2M394.72 230.2v1.2M382.6 216.07h1.2M395.47 230.2v1.2M382.6 215.27h1.2M396.13 230.2v1.2M382.6 214.55h1.8M396.73 230.2v1.8M382.6 209.84h1.2M400.62 230.2v1.2M382.6 207.08h1.2M402.89 230.2v1.2M382.6 205.13h1.2M404.51 230.2v1.2M382.6 203.61h1.2M405.76 230.2v1.2M382.6 202.37h1.2M406.78 230.2v1.2M382.6 201.32h1.2M407.65 230.2v1.2M382.6 200.42h1.2M408.4 230.2v1.2M382.6 199.62h1.2M409.06 230.2v1.2M382.6 198.9h1.8M409.65 230.2v1.8M382.6 194.19h1.2M413.54 230.2v1.2M382.6 191.43h1.2M415.82 230.2v1.2M382.6 189.48h1.2M417.43 230.2v1.2M382.6 187.96h1.2M418.68 230.2v1.2M382.6 186.72h1.2M419.71 230.2v1.2M382.6 185.67h1.2M420.57 230.2v1.2M382.6 184.77h1.2M421.32 230.2v1.2M382.6 183.97h1.2M421.98 230.2v1.2M382.6 183.25h1.8M422.57 230.2v1.8M382.6 178.54h1.2M426.47 230.2v1.2M382.6 175.78h1.2M428.74 230.2v1.2M382.6 173.83h1.2M430.36 230.2v1.2M382.6 172.31h1.2M431.61 230.2v1.2M382.6 171.07h1.2M432.63 230.2v1.2M382.6 170.02h1.2M433.5 230.2v1.2M382.6 169.12h1.2M434.25 230.2v1.2M382.6 168.32h1.2M434.91 230.2v1.2" stroke="#555" stroke-width="0.4"/>
<g font-size="5.1" fill="#1a1a1a" text-anchor="middle">
<text x="385" y="238.5">10<tspan font-size="3.4" dy="-1.8">0</tspan></text>
<text x="397.93" y="238.5">10<tspan font-size="3.4" dy="-1.8">1</tspan></text>
<text x="410.85" y="238.5">10<tspan font-size="3.4" dy="-1.8">2</tspan></text>
<text x="423.77" y="238.5">10<tspan font-size="3.4" dy="-1.8">3</tspan></text>
<text x="436.7" y="238.5">10<tspan font-size="3.4" dy="-1.8">4</tspan></text>
</g>
<path d="M371 179.6V191.45M371 213.95V225.5" stroke="#111" stroke-width="0.9"/>
<path d="M371 176.6l1.5 4.2h-3z" fill="#111"/>
<text transform="translate(373.9 202.7) rotate(-90)" font-size="8" text-anchor="middle">Sca-1</text>
<path d="M490.5 176h1M464 179.5h1M463.5 180h1M485.5 181.5h1m0.5 0h1M487 182h1M476 182.5h1m13.5 0h1M469 183h1m21.5 0h1.5M465 183.5h1m0 0h1m8 0h1m14.5 0h1M467.5 184h1m19.5 0h1m0.5 0h1M465 184.5h1m0.5 0h1m3 0h1m3 0h1M464.5 185h1m8.5 0h1m9.5 0h1M471 185.5h1M466 186h1M468.5 186.5h1M479 187h1M472.5 187.5h1m4.5 0h1m5 0h1m4 0h1M466 188h1m2 0h1m0 0h1m6.5 0h1m10 0h1M466.5 188.5h1m1 0h1m0.5 0h1m1.5 0h1m0.5 0h1m3.5 0h1M464.5 189h1m7.5 0h1m2 0h1m1 0h1M469 189.5h1M473.5 190h1m1.5 0h1m2 0h1m13.5 0h1M472.5 190.5h1m0 0h1m2 0h1m20 0h1M466 191h1m21.5 0h1M466.5 191.5h1m2.5 0h1m0.5 0h1m2.5 0h1m13 0h1M468.5 192h1m0.5 0h1.5m0.5 0h1m14 0h1m2 0h1M465 192.5h1m4 0h1m17.5 0h1M464.5 193h1m0 0h1m5 0h1m23 0h1M463.5 193.5h1m3 0h1m10 0h1M475.5 194h1m2.5 0h1M466.5 194.5h1m3 0h1m0 0h1m3.5 0h1m1.5 0h1m2 0h1m6 0h1m5.5 0h1M469.5 195h1m0.5 0h1m4 0h1m13 0h1M467 195.5h1m16 0h1M465 196h1m2.5 0h1m8 0h1m12.5 0h1m0.5 0h1M468 196.5h1m23 0h1M470 197h1m16.5 0h1M470 197.5h1.5m0 0h1.5m7.5 0h1m11 0h1m4 0h1M478 198h1m15.5 0h1M470.5 198.5h1m11.5 0h1M464 199h1m6 0h1m9 0h1M464.5 199.5h1m5.5 0h1m13.5 0h1m3 0h1M463.5 200h1m1 0h1m1.5 0h1m2 0h1m4.5 0h1m1 0h1m13 0h1M473.5 200.5h1M466.5 201h1m0.5 0h1m1 0h1m17.5 0h1M476.5 201.5h1m6.5 0h1M468.5 202h1m4.5 0h1m1.5 0h1m10 0h1m2.5 0h1M471.5 202.5h1m1.5 0h1m10.5 0h1.5m0.5 0h1m0.5 0h1M465 203h1m1.5 0h1m18.5 0h1M479.5 203.5h1m8 0h1m1 0h1m5 0h1M463.5 204h1m5.5 0h1m9.5 0h1m6 0h1m13 0h1M489 204.5h1M465.5 205h1m1 0h1m2.5 0h1m3.5 0h1m11 0h1.5m1 0h1m1.5 0h1m7 0h1M468.5 205.5h1m4.5 0h1m4 0h1m0.5 0h1m0.5 0h1m6 0h1m1 0h1m2 0h1M484.5 206h1m9.5 0h1M472 206.5h1m12 0h1m2.5 0h1m0.5 0h1m0.5 0h1M468.5 207h1m0 0h1m4.5 0h1m8.5 0h1m1 0h2m6 0h1m2 0h1M473 207.5h1m1 0h1m10 0h1m10.5 0h1M466.5 208h1.5m2.5 0h1.5m5 0h1m0 0h1m0 0h1m5.5 0h1m0.5 0h1m1.5 0h1m2.5 0h1M470.5 208.5h1m1.5 0h1m19.5 0h1m2.5 0h1M464.5 209h1m4.5 0h1m10 0h1m3 0h1.5m1.5 0h1m4 0h1m6 0h1m6 0h1M471.5 209.5h1m0 0h1m1 0h1m1 0h2m7 0h1m2 0h1m2.5 0h1M465 210h1m0 0h1.5m3.5 0h1m10 0h1m2.5 0h1m2.5 0h1m1.5 0h1m2 0h1M468 210.5h1m4.5 0h1m10 0h1m0.5 0h1m0 0h1.5m9.5 0h1M464 211h1.5m0 0h1m0 0h1m2 0h1m2.5 0h1.5m15.5 0h1M463.5 211.5h1m0 0h1m0.5 0h1m0.5 0h1m0.5 0h1M465 212h1m2.5 0h1m4.5 0h1m4 0h1m6 0h1M465 212.5h1m7.5 0h1m2 0h1m15 0h1m0 0h1.5m1 0h1m2 0h1.5M479.5 213h1m3.5 0h1m10.5 0h1.5m0 0h1M464 213.5h1.5m0 0h1m5 0h1m2 0h1m0 0h1m0 0h1m4.5 0h1m0 0h1m0 0h1m11.5 0h1m1 0h1m1.5 0h1M471.5 214h1.5m1 0h1.5m9.5 0h1m0 0h1m0 0h1m3 0h1M464 214.5h1m6.5 0h1m0.5 0h1m3.5 0h1m0 0h1m5 0h1m14 0h1M465.5 215h1m4.5 0h1m12 0h1m0.5 0h1m2.5 0h1m2 0h1M465 215.5h1m0 0h1m5 0h1m0.5 0h1m0.5 0h1m0.5 0h1m2.5 0h1m2.5 0h1m3.5 0h1m4 0h1M470.5 216h1m10.5 0h1m4 0h1m4 0h1M463.5 216.5h1m15.5 0h1m3.5 0h1m3.5 0h1m4 0h1M470 217h1m6 0h1m0.5 0h1m17 0h1m0.5 0h1m1 0h1M469 217.5h1m5.5 0h1m2.5 0h1m6.5 0h1m1.5 0h1m4.5 0h1m0.5 0h1M466.5 218h1m10 0h1m6.5 0h2m5 0h1m2 0h1M464.5 218.5h1m0.5 0h1m9 0h1m1.5 0h1m11.5 0h1m6.5 0h1M464 219h1m0 0h1m1.5 0h1m2 0h1.5M467 219.5h1m8.5 0h1m4 0h1m1 0h1m5.5 0h1m0 0h1m4 0h1M465.5 220h1m8 0h1m3 0h1m4.5 0h1m0.5 0h1m7.5 0h1m1.5 0h1M467 220.5h1m0.5 0h1m7.5 0h1m12 0h1m0.5 0h1m3.5 0h1m1.5 0h1M468 221h1.5m3.5 0h1m11.5 0h1m9 0h1m4 0h1M476.5 221.5h1m6.5 0h1m3.5 0h1M471.5 222h1m0 0h1m6 0h1m0 0h1M476.5 222.5h1m1.5 0h1m8.5 0h1M464.5 223h1.5m0 0h1m5.5 0h1.5m9 0h1m8.5 0h1M470.5 223.5h1m0 0h1m5 0h1m2 0h1m0.5 0h1m6 0h1m3 0h1m1.5 0h1M469.5 224h1m5 0h1m1 0h1.5m1.5 0h1m1.5 0h1m5.5 0h1m8 0h1M464.5 224.5h1m6 0h1.5m4.5 0h1m7 0h1m7.5 0h1M464.5 225h1m6.5 0h1m3.5 0h1m8 0h1m0 0h1m0.5 0h1m2 0h1m4.5 0h1M469 225.5h1m16.5 0h1m4 0h1M465.5 226h1m2.5 0h1m11 0h1m1.5 0h1M475.5 226.5h1M467 227h1m2.5 0h1m6 0h1M474.5 227.5h1m16.5 0h1m6.5 0h1M465 228h1m0 0h1m1 0h1m10 0h1m15 0h1M466.5 228.5h1m8 0h1m4.5 0h1M474 229h1m1.5 0h1m1 0h1m9.5 0h1M465 229.5h1m2.5 0h1m1.5 0h1m15.5 0h1m4.5 0h1m1.5 0h2M469.5 230h1m0.5 0h1m1.5 0h1m1 0h1m3 0h1" stroke="#777" stroke-width="1" fill="none"/>
<path d="M473 182h1M465 182.5h1m8.5 0h1M464.5 183h1m3 0h1m2.5 0h1M466 184h1m1.5 0h1M467.5 184.5h1.5m2 0h1.5M465 185h1.5m0.5 0h1.5m0.5 0h1m1.5 0h1m2.5 0h1M465 185.5h1m0 0h1m0 0h1m0.5 0h2.5m0.5 0h1m1 0h1M465.5 186h1m0 0h1m0 0h1.5m2 0h2m0 0h1m2.5 0h1M463.5 186.5h1m1.5 0h2m0 0h1m0.5 0h1m0 0h1.5m3.5 0h1M464.5 187h1m0 0h1.5m0 0h1m3 0h1m0.5 0h2m1.5 0h1M464.5 187.5h2m0 0h1.5m0 0h1m0.5 0h1m0 0h1m0 0h1.5m0 0h1m1 0h1M464 188h1m0 0h1m0.5 0h3m0 0h1m0 0h1m0 0h1m0 0h2m0.5 0h1m0 0h1M464.5 188.5h1.5m0 0h1m0.5 0h1.5m0 0h1.5m0 0h1m0 0h1.5m0 0h1.5m0 0h1.5m0 0h1M463.5 189h1.5m1 0h1.5m0.5 0h1.5m0 0h2.5m1.5 0h2m2 0h1M466.5 189.5h3m0 0h3m0 0h2m0 0h1m0 0h2.5m1.5 0h1M463.5 190h1.5m0.5 0h1m0 0h7m0.5 0h1m0 0h1m1 0h1M464 190.5h1m0.5 0h3m0 0h1.5m0 0h1.5m0 0h1.5m0 0h1m0 0h1m1 0h1M464 191h1m1.5 0h1m0 0h2.5m0.5 0h2m1 0h1m1 0h1m1 0h1.5M463.5 191.5h2m0 0h1m0.5 0h3.5m0.5 0h1m0.5 0h1m0 0h1m6.5 0h1M463.5 192h1m0.5 0h3.5m1 0h1m0.5 0h1.5m0 0h1m0.5 0h1.5m0 0h1M466 192.5h1m1 0h1m0 0h1.5m0 0h1m1.5 0h2m0.5 0h1M467.5 193h1m0 0h1m0 0h2.5m0.5 0h2.5m0 0h2M465.5 193.5h1.5m0 0h1m0 0h1.5m0.5 0h1.5m0 0h1m0 0h1.5M465 194h1m1.5 0h1m0.5 0h1m1.5 0h1m1 0h1m0 0h1m3 0h1M464.5 194.5h1m3.5 0h1m4 0h1.5m1 0h1M464 195h1.5m3.5 0h1m2 0h1m0 0h1M464 195.5h1m1 0h1m4.5 0h1m3 0h1M467 196h1m2 0h1m1.5 0h1.5M473 196.5h1.5m0.5 0h1.5M464.5 197h1m4 0h1M465.5 197.5h1m6 0h1.5m0 0h1m4 0h1M468 198h1m0.5 0h1m3.5 0h1M464.5 198.5h1m1.5 0h1m4 0h1M467.5 199h1m7.5 0h1m3.5 0h1m9.5 0h1M467.5 199.5h1m6.5 0h1M472.5 200h1m2.5 0h1m0 0h1m17.5 0h1M466 200.5h1m0 0h1m3.5 0h1.5m1.5 0h1m11 0h1m3 0h1M469 201h1m0.5 0h2m0.5 0h1m4.5 0h1M467.5 201.5h2m5 0h1m16 0h1m1.5 0h1M467.5 202h1m3 0h1m1 0h1m1 0h1M470 202.5h1m0 0h1m0.5 0h1m2.5 0h1m13.5 0h1m3.5 0h1m3.5 0h1M464.5 203h1m2.5 0h1m5 0h1m0 0h1m19.5 0h1M464.5 203.5h1m7 0h1.5m3 0h1m15 0h1M467 204h1.5m2.5 0h1.5m1 0h1m3 0h1m9.5 0h1M471 204.5h1m3.5 0h1m11 0h1m2 0h1m3.5 0h1m0 0h1M464 205h1m1 0h1m0 0h1m4.5 0h1m1.5 0h1m13 0h1M465 205.5h1.5m0 0h1m3.5 0h1m0.5 0h1.5m9 0h1m0.5 0h1m2.5 0h1m0.5 0h1m6.5 0h1M467.5 206h1m0 0h1m0 0h1m1 0h1m18.5 0h1M468.5 206.5h1m1 0h1m15 0h1m0.5 0h1m3 0h1M466 207h1m7 0h1m14 0h1.5m0 0h1m1.5 0h1m1.5 0h1M464 207.5h1.5m1 0h1m0 0h1m0 0h1.5m0 0h1m0.5 0h1m0 0h1m5 0h1m6 0h1m0 0h1m1 0h1.5m0.5 0h1.5m0 0h1m0 0h2.5m0.5 0h1m1 0h1m0 0h1M465.5 208h1.5m0.5 0h2.5m0 0h1m1.5 0h1m0.5 0h1m1.5 0h1m2.5 0h1m4 0h1m0.5 0h1m0.5 0h1m0 0h1m0 0h3.5m1 0h1m0.5 0h1m0 0h1M465.5 208.5h1m1.5 0h2.5m0.5 0h1.5m1.5 0h1m0 0h1m1.5 0h1m1 0h1m6.5 0h1.5m0.5 0h1m0 0h1m0 0h1m0.5 0h1m1 0h1.5M463.5 209h1m3.5 0h1.5m1.5 0h1m0 0h1.5m0 0h1m2 0h1m6 0h2m2 0h1m0 0h1m1 0h1m0 0h1.5m1.5 0h1m0 0h1.5M464 209.5h1m3 0h1m1.5 0h1.5m1.5 0h1.5m0.5 0h1m1.5 0h1m2.5 0h1m4.5 0h2m0.5 0h3m1.5 0h1m0.5 0h1M464 210h1.5m1.5 0h1.5m1 0h1m0 0h1m1.5 0h3m0 0h1m2 0h1m6.5 0h1.5m1.5 0h1m0 0h1m1.5 0h1m2.5 0h1.5M464.5 210.5h1m2 0h1m1.5 0h1m0 0h1.5m0.5 0h1m0 0h1.5m1 0h1m0.5 0h1m0 0h1m3.5 0h1m0.5 0h1m2.5 0h1m0 0h2m0 0h1m0 0h1m0 0h1.5m0 0h2m3 0h1M468 211h1m1 0h1.5m1 0h1m1 0h1m0.5 0h1m4 0h1m4 0h1.5m0 0h2.5m0.5 0h2m1 0h1m0 0h1.5m2.5 0h1M465 211.5h1.5m0.5 0h1m0 0h1.5m0 0h1.5m0 0h1.5m0.5 0h1.5m0 0h2m0 0h1m0 0h1m7 0h1m0 0h1.5m0 0h3m1 0h1.5m0.5 0h2m1 0h1M463.5 212h1.5m0.5 0h1m0 0h1m2 0h1m0 0h2m0 0h2m1.5 0h1.5m4.5 0h1m2 0h1.5m0 0h2.5m1.5 0h2m0 0h2m0 0h1m0 0h1m3 0h1M468 212.5h2.5m0.5 0h2m1.5 0h1.5m7.5 0h1m0.5 0h1m0.5 0h1m0 0h1m0 0h1.5m0.5 0h2.5m0 0h1m0.5 0h1m1 0h1.5M465 213h2m0.5 0h3m0.5 0h2m0 0h2.5m0 0h1m0 0h2m3.5 0h1m2.5 0h1m1 0h2.5m0 0h1.5m0 0h2m0 0h1.5M466 213.5h2m1.5 0h2m0.5 0h2.5m0.5 0h1m1 0h1m0.5 0h1m3 0h1m1.5 0h1m0.5 0h3m0.5 0h2m1 0h1m0 0h1.5m0 0h1m0.5 0h1M466 214h1.5m0 0h3m0.5 0h1m0.5 0h1m4 0h1m2.5 0h1m0.5 0h1m0.5 0h1.5m2 0h2m0 0h1m1 0h1.5m0 0h2m0 0h1m0.5 0h1m3 0h1m1 0h1M465.5 214.5h1m0 0h1m1 0h1m0.5 0h2m0 0h1.5m0 0h1m0 0h1m7.5 0h1m0 0h1m1 0h1m0 0h3.5m0 0h1.5m0 0h2m1.5 0h1.5m6.5 0h1M464 215h2m1 0h1m0 0h1m0 0h1m0 0h1.5m0 0h2m0.5 0h1m0 0h2m0 0h1m4.5 0h1m2.5 0h1m0.5 0h2m0 0h2.5m0.5 0h1.5m1 0h1.5m0 0h1M464.5 215.5h1m0 0h1m1.5 0h1m0.5 0h1.5m0 0h1.5m0.5 0h1m0 0h1.5m0 0h1m0.5 0h1m3.5 0h1m0 0h1m1 0h1m0.5 0h1.5m0 0h1m1 0h2.5m0 0h1.5m0 0h2m0.5 0h1m0.5 0h1m0 0h2m1 0h1m0 0h1M464.5 216h1m0.5 0h3.5m0 0h1.5m0 0h1.5m0 0h1m0 0h2.5m0 0h1m0.5 0h2m0 0h1m0 0h1m0 0h1m2.5 0h1m0 0h1.5m0 0h1m0 0h1.5m0 0h2m0.5 0h3m0 0h1m0.5 0h1m0.5 0h1M465 216.5h1m0 0h1m0.5 0h4m0 0h2.5m0 0h2.5m0 0h1m1.5 0h1m1 0h1m0 0h1m1 0h1m1 0h3.5m0 0h5m0 0h2.5m0.5 0h1m1 0h1M464.5 217h4.5m0 0h1m0.5 0h2m0 0h1.5m1.5 0h2m1.5 0h1m5.5 0h2.5m0.5 0h1m0 0h4.5m0 0h1.5m0.5 0h1M464 217.5h1.5m1.5 0h2.5m0.5 0h1.5m0 0h2m0 0h2.5m1 0h1m1.5 0h1m0.5 0h1m4 0h1m0 0h1.5m1 0h1.5m0 0h4M465 218h1m0 0h1m0 0h2m0 0h1.5m0.5 0h2.5m0 0h2m1.5 0h1m4.5 0h1m0 0h1m0 0h1m1.5 0h3.5m0.5 0h1.5m1 0h1m2.5 0h1m0 0h1M464 218.5h1m0.5 0h1m1 0h5.5m0 0h3.5m0 0h1m0 0h1m0.5 0h1m5 0h1m0 0h1m1.5 0h1m0 0h2m0 0h2m2 0h1m0 0h1m0.5 0h1m0.5 0h1.5M464.5 219h1m1.5 0h1m0 0h2m1.5 0h1.5m1 0h1m0 0h1m0 0h1m0 0h1m0.5 0h1m1 0h1m0.5 0h1.5m0.5 0h1m2.5 0h3.5m0.5 0h1.5m1.5 0h1.5m0 0h1.5m3.5 0h1M464 219.5h1.5m0 0h2m0 0h3m0.5 0h3m1 0h1m1 0h1m1 0h1.5m1.5 0h1m0 0h1m1.5 0h2.5m0 0h2m1.5 0h1.5m0 0h1.5m0 0h2m0 0h2.5m1 0h1M465 220h1m0 0h2m0.5 0h4.5m0 0h1m0 0h1m0 0h1.5m6 0h1m1 0h1m2 0h1.5m0.5 0h1m0 0h1m0 0h1m0.5 0h1.5m0 0h1.5m3 0h1m1 0h1M463.5 220.5h1.5m0 0h1.5m0 0h1m0 0h1.5m0.5 0h2m0 0h1m0 0h1.5m1.5 0h1m1 0h1m5.5 0h1m0.5 0h1.5m0 0h1m0.5 0h2m2 0h1m0.5 0h1M463.5 221h1m0.5 0h2m0.5 0h1m1 0h1.5m0.5 0h2m0.5 0h1m0.5 0h1m0 0h1.5m9 0h1m0 0h1m0 0h2.5m1 0h1.5m0 0h1.5m2 0h1M463.5 221.5h1m1.5 0h1.5m1.5 0h1.5m0 0h1.5m0 0h1m1 0h1.5m0 0h1.5m4 0h1m2.5 0h1.5m3.5 0h1m1.5 0h1m0.5 0h1m2.5 0h1m0.5 0h1M464 222h1m0.5 0h1m1 0h1m0.5 0h3m0 0h1m0 0h1m0 0h1m1 0h1m1.5 0h1m3 0h1m5.5 0h1m1 0h2m5 0h1m0 0h1m0 0h1M464.5 222.5h1.5m1 0h2m0 0h2.5m0.5 0h2m0 0h2.5m0.5 0h1m0 0h1m8 0h1.5m1 0h1m2 0h1.5m0.5 0h1m0.5 0h1m1 0h1M464 223h1m1.5 0h2m1.5 0h2m0 0h1m1.5 0h1.5m1 0h1.5m0.5 0h1m5 0h1.5m2 0h1M464 223.5h1.5m1 0h1m0 0h1m0.5 0h1.5m0.5 0h1m1 0h1.5m0 0h1m0 0h1m0 0h1m14 0h1m0 0h1m6 0h1M464 224h1m1 0h1m1 0h2m1 0h4.5m3.5 0h1m4.5 0h1m0.5 0h1m0 0h1m0.5 0h1.5m1 0h1m1.5 0h1M466 224.5h1.5m0 0h1m0.5 0h1m0 0h1m2 0h1m0 0h1.5m11.5 0h1m1.5 0h1.5m1.5 0h1m3.5 0h1m2 0h1M466.5 225h1m0 0h1.5m2 0h1.5m0.5 0h1.5m8 0h1m0.5 0h1m2.5 0h1m3 0h1M466 225.5h1m0.5 0h2m0.5 0h1m0.5 0h3.5m11 0h1m0.5 0h1m2 0h1.5m0 0h1M464 226h1m1.5 0h1m2.5 0h1m0 0h1m0 0h1m0 0h1m1.5 0h2m11 0h1m0.5 0h1m0 0h1m0.5 0h1M464.5 226.5h1m0 0h1m2.5 0h2m1 0h1.5m1.5 0h1m3 0h1m5.5 0h1m0 0h1m0 0h1m1.5 0h1m0 0h1m2.5 0h1m0 0h1M468 227h1.5m1.5 0h1m1.5 0h1m0.5 0h1m16.5 0h1m2.5 0h1M464.5 227.5h1m0.5 0h1m1 0h1m2 0h1m3 0h1m14 0h1M466.5 228h1m1 0h1m0.5 0h1m0 0h1m2 0h1m0 0h1m12 0h1M464.5 228.5h1m2 0h1m0.5 0h2m0 0h1m1.5 0h1m0.5 0h1m9 0h1m1 0h1m0 0h1m9.5 0h1M466 229h1m0 0h1m0.5 0h1.5m1.5 0h1.5M470 229.5h1m3 0h1m13.5 0h1m4.5 0h1M467.5 230h1m0.5 0h1m0.5 0h1m0.5 0h1m10.5 0h1" stroke="#1a1a1a" stroke-width="1" fill="none"/>
<rect x="463" y="168.2" width="51.8" height="62.3" fill="none" stroke="#222" stroke-width="0.9"/>
<path d="M463 168.2V230.5H514.8" fill="none" stroke="#111" stroke-width="1.2"/>
<path d="M481.4 168.2V230.5M463 205.7H514.8" stroke="#444" stroke-width="0.8"/>
<path d="M503.5 169.2V187M494.3 179.2H514.2" stroke="#111" stroke-width="0.9"/>
<g font-size="5.1" font-weight="bold" text-anchor="middle" fill="#222">
<text x="498.9" y="175.9">17</text>
<text x="508.4" y="175.9">1</text>
<text x="498.9" y="184.6">43</text>
<text x="508.4" y="184.6">39</text>
</g>
<g font-size="4" fill="#555">
<text transform="translate(460 230.5) rotate(-90)" text-anchor="middle">10<tspan font-size="2.6" dy="-1.2">0</tspan></text>
<text transform="translate(460 214.93) rotate(-90)" text-anchor="middle">10<tspan font-size="2.6" dy="-1.2">1</tspan></text>
<text transform="translate(460 199.35) rotate(-90)" text-anchor="middle">10<tspan font-size="2.6" dy="-1.2">2</tspan></text>
<text transform="translate(460 183.77) rotate(-90)" text-anchor="middle">10<tspan font-size="2.6" dy="-1.2">3</tspan></text>
<text transform="translate(460 168.2) rotate(-90)" text-anchor="middle">10<tspan font-size="2.6" dy="-1.2">4</tspan></text>
</g>
<path d="M461.8 230.5h1.8M463 230.5v1.8M461.8 225.81h1.2M466.9 230.5v1.2M461.8 223.07h1.2M469.18 230.5v1.2M461.8 221.12h1.2M470.8 230.5v1.2M461.8 219.61h1.2M472.05 230.5v1.2M461.8 218.38h1.2M473.08 230.5v1.2M461.8 217.34h1.2M473.94 230.5v1.2M461.8 216.43h1.2M474.7 230.5v1.2M461.8 215.64h1.2M475.36 230.5v1.2M461.8 214.93h1.8M475.95 230.5v1.8M461.8 210.24h1.2M479.85 230.5v1.2M461.8 207.49h1.2M482.13 230.5v1.2M461.8 205.55h1.2M483.75 230.5v1.2M461.8 204.04h1.2M485 230.5v1.2M461.8 202.81h1.2M486.03 230.5v1.2M461.8 201.76h1.2M486.89 230.5v1.2M461.8 200.86h1.2M487.65 230.5v1.2M461.8 200.06h1.2M488.31 230.5v1.2M461.8 199.35h1.8M488.9 230.5v1.8M461.8 194.66h1.2M492.8 230.5v1.2M461.8 191.92h1.2M495.08 230.5v1.2M461.8 189.97h1.2M496.7 230.5v1.2M461.8 188.46h1.2M497.95 230.5v1.2M461.8 187.23h1.2M498.98 230.5v1.2M461.8 186.19h1.2M499.84 230.5v1.2M461.8 185.28h1.2M500.6 230.5v1.2M461.8 184.49h1.2M501.26 230.5v1.2M461.8 183.77h1.8M501.85 230.5v1.8M461.8 179.09h1.2M505.75 230.5v1.2M461.8 176.34h1.2M508.03 230.5v1.2M461.8 174.4h1.2M509.65 230.5v1.2M461.8 172.89h1.2M510.9 230.5v1.2M461.8 171.66h1.2M511.93 230.5v1.2M461.8 170.61h1.2M512.79 230.5v1.2M461.8 169.71h1.2M513.55 230.5v1.2M461.8 168.91h1.2M514.21 230.5v1.2" stroke="#555" stroke-width="0.4"/>
<g font-size="5.1" fill="#1a1a1a" text-anchor="middle">
<text x="464.2" y="238.8">10<tspan font-size="3.4" dy="-1.8">0</tspan></text>
<text x="477.15" y="238.8">10<tspan font-size="3.4" dy="-1.8">1</tspan></text>
<text x="490.1" y="238.8">10<tspan font-size="3.4" dy="-1.8">2</tspan></text>
<text x="503.05" y="238.8">10<tspan font-size="3.4" dy="-1.8">3</tspan></text>
<text x="516" y="238.8">10<tspan font-size="3.4" dy="-1.8">4</tspan></text>
</g>
<path d="M449.5 180.2V193.01M449.5 213.29V225.8" stroke="#111" stroke-width="0.9"/>
<path d="M449.5 177.2l1.5 4.2h-3z" fill="#111"/>
<text transform="translate(452.4 203.15) rotate(-90)" font-size="8" text-anchor="middle">B220</text>
<path d="M397 248.5h1M393 250h1.5M384.5 251.5h1M386 252h1m0.5 0h1m8.5 0h1M393.5 253h1M392 253.5h1M389 254.5h1m4 0h1m3 0h1M390 255h1M390 255.5h1M387.5 256h1m2 0h1m0 0h1.5m6 0h1M387 256.5h1m7.5 0h1M389.5 257h1m3 0h1M390 257.5h1m0 0h1M393.5 258.5h1M392 259.5h1m4.5 0h1M393 260.5h1M393 261h1m0 0h1M400 261.5h1m6 0h1M395 262h1m4 0h1M384.5 262.5h2m6.5 0h1M385.5 263h1m0 0h1m5.5 0h1M388 263.5h1M401.5 264h1m29.5 0h1M400.5 264.5h1M389.5 265.5h1m0.5 0h1M390.5 266h1m3.5 0h1m3 0h1M385 266.5h1m0 0h1M384.5 267h1m1.5 0h1.5m0.5 0h1m26.5 0h1M396.5 267.5h1m1 0h1M386 268h1m5.5 0h1M388 268.5h1m0 0h1m5 0h1m3.5 0h1M395 269h1m0 0h1M385.5 269.5h1m1 0h1m3.5 0h1m1 0h1m4.5 0h1m6.5 0h1M388.5 270h1m0.5 0h1m6 0h1m12 0h1M390 270.5h1M384.5 271h1.5m12.5 0h1m5.5 0h1m9.5 0h1m2.5 0h1M386.5 271.5h1m4.5 0h1m7.5 0h1m7 0h1M392 272h1M386.5 272.5h1m6 0h1m0 0h1m27.5 0h1M386 273h1m10.5 0h1M397 273.5h1m13 0h1m0 0h1m0.5 0h1M400.5 274h1m2 0h1M385 274.5h1m7.5 0h1.5M384.5 275h1m2 0h1m0.5 0h1m1 0h1m3.5 0h1m17 0h1M385.5 275.5h1m6.5 0h1m3 0h1M391.5 276h1m4 0h1m1 0h1m10 0h1.5M384.5 276.5h1m10 0h2.5m1.5 0h1m10 0h1m3 0h1m1.5 0h1M392 277h1m2.5 0h1m0 0h1m12 0h1m6.5 0h1M387.5 277.5h1m22 0h1m2 0h1m2 0h1m4 0h1M385.5 278h1m4 0h2m4 0h1m2 0h1m0 0h1.5m7.5 0h1m9.5 0h1M393.5 278.5h1m0 0h1m7 0h1m1.5 0h1m2 0h1m13 0h1M388.5 279h1m0.5 0h1m1 0h1m1.5 0h1.5m1 0h1m0.5 0h1m1.5 0h1m0.5 0h1m24.5 0h1M388 279.5h1m2.5 0h1.5m19.5 0h1m4 0h1M389.5 280h1m0.5 0h2m0.5 0h1m2.5 0h1m1.5 0h1m18 0h1M385.5 280.5h1m5 0h1.5m7 0h1m11 0h1m9 0h1M386 281h1m0 0h1m7.5 0h1m4.5 0h1m1 0h1m1 0h1m9.5 0h1m1.5 0h1m0 0h1M391 281.5h1.5m7.5 0h1m8.5 0h1m6 0h1M387 282h1.5m0 0h1m2.5 0h1m15.5 0h1m4 0h1M392.5 282.5h1m8 0h1m2 0h1m5 0h1m3.5 0h1M385.5 283h1m2 0h1m5 0h1m0.5 0h1m3 0h1m2.5 0h1m6 0h1m1.5 0h1m0 0h1m6 0h1M402 283.5h1m6 0h1m7 0h1m0 0h1m0 0h1m2.5 0h1M390 284h1m8 0h1m0.5 0h1m1.5 0h1m2.5 0h1m0.5 0h1m2 0h1M390.5 284.5h1.5m14 0h1m1 0h1m2.5 0h1m15.5 0h1M386 285h1.5m12 0h1M393 285.5h1m7.5 0h1m16.5 0h1M393.5 286h1m3 0h1m3.5 0h1m2 0h1m0 0h1.5m2 0h1m0 0h1M386 286.5h1m0 0h1m6.5 0h1m11 0h1m1 0h1m6 0h1m6 0h1M388.5 287h1m4.5 0h1m0.5 0h1m3 0h1m13 0h1M388.5 287.5h1m10.5 0h1m4.5 0h1m12.5 0h1M385 288h1m9 0h1m0.5 0h1m0 0h1m1.5 0h1m7 0h1m1.5 0h1m6.5 0h1M388 288.5h1m0.5 0h1m0.5 0h1m1 0h1m13 0h1m12.5 0h1M386 289h1m0 0h1m2.5 0h1m5.5 0h1m3 0h1m0 0h1m11.5 0h1m4.5 0h1M389.5 289.5h1m1.5 0h1m0.5 0h1m11 0h1m5.5 0h1M386.5 290h1m11.5 0h1m6 0h1m1 0h1m6.5 0h1M395.5 290.5h1m13 0h1m7.5 0h1M385.5 291h1m4 0h1m1.5 0h1m2 0h1m6.5 0h1.5m1.5 0h1m0 0h1M384.5 291.5h1.5m8 0h1.5m1.5 0h1m0.5 0h1m12 0h1m0 0h1M395 292h1m2.5 0h1m8 0h1m2.5 0h1m0.5 0h1m0.5 0h1m0.5 0h1M388.5 292.5h1m2.5 0h1.5m8 0h1m2.5 0h1m2.5 0h1m0 0h1m2.5 0h1.5m6.5 0h1M393 293h1m0.5 0h1m2 0h1m4.5 0h2m0 0h1m14 0h1M387.5 293.5h1m6 0h1m2.5 0h1m8.5 0h1m10.5 0h1M404.5 294h1m9 0h1M384.5 294.5h1m2 0h2m1.5 0h1m6 0h1m13.5 0h1m1.5 0h1M386 295h1m0 0h1.5m3 0h1m0.5 0h1m9 0h1m2 0h1m5.5 0h1M390 295.5h1m1 0h1m4 0h1m0.5 0h1m11.5 0h1M389.5 296h1m8.5 0h1m2 0h1m2.5 0h1m7 0h1m0 0h1M386 296.5h1m12 0h1m0 0h1m6 0h1m1 0h1m1 0h1m6.5 0h1M388 297h1m0.5 0h1m3.5 0h1m19 0h1M392.5 297.5h1m8.5 0h1m11 0h1m6 0h1M387.5 298h1m1 0h1m5.5 0h1.5m0 0h1m1.5 0h1m2 0h1m4.5 0h1m6 0h1M386 298.5h1m29.5 0h1M389 299h1m0 0h1m1 0h1m13.5 0h1m0 0h1m6.5 0h1m6.5 0h1M385.5 299.5h1m9 0h1m5 0h1m4 0h1m0 0h1m7 0h1M395.5 300h1m0 0h1m0 0h1m5.5 0h1m14.5 0h1M388 300.5h1m10.5 0h1m3 0h1m2 0h1m3 0h1m5.5 0h1M390 301h1m12.5 0h1M391.5 301.5h1m3.5 0h1M385.5 302h1m0 0h1m9 0h1m0 0h1M404 302.5h1m2.5 0h1m1.5 0h1M392.5 303h1m26 0h1M388.5 303.5h1m6 0h1m8 0h1m10.5 0h1M385 304h1m2 0h1m0.5 0h1m11.5 0h1m8.5 0h1M413 304.5h1" stroke="#777" stroke-width="1" fill="none"/>
<path d="M393.5 246h1M387.5 246.5h1M390.5 247.5h1M391 248h1m9 0h1M391 249.5h1M390 251h1m8.5 0h1M394 251.5h1m0 0h1M392 252h1M388.5 253h1.5m6.5 0h1M387.5 253.5h1m1.5 0h1M387.5 254.5h1m3.5 0h1M389.5 255.5h1M385 256h1m3 0h1m1 0h1m5 0h1M391.5 256.5h1M386.5 257h1m0 0h1m4.5 0h1m0.5 0h1m1.5 0h1M384.5 257.5h1m4 0h1m0 0h1m1.5 0h1m2 0h1m2.5 0h1M392.5 258h1m0 0h1m1 0h1M390 258.5h1m1.5 0h1m2 0h1m0 0h1M389 259h1m0 0h1m0.5 0h1m1.5 0h1m1 0h1M389 259.5h1m0 0h1.5m1 0h1M385 260h1m2 0h1m0.5 0h1m0.5 0h1m4.5 0h1M384.5 260.5h1m3 0h1m0.5 0h1m1 0h1m1 0h1m1.5 0h1m0 0h1M385.5 261h1.5m5 0h1m0.5 0h1m0 0h1.5m1.5 0h1M387 261.5h1m0 0h1m0 0h1m1 0h1m0 0h1m8 0h1M386 262h1.5m0 0h2m2.5 0h1.5m0.5 0h1.5m0 0h1m0 0h2M390 262.5h1.5m0 0h1.5M389 263h1m0.5 0h1M387.5 263.5h1m0 0h1m7 0h1m1 0h1M385 264h1m2.5 0h1m0 0h1m2 0h1.5m1 0h1M391 264.5h1m5.5 0h1M386.5 265h1m0 0h1m1 0h1m1 0h2m0.5 0h1.5m2 0h1m2 0h1.5M385.5 265.5h1m3.5 0h1.5m0 0h1m0 0h1m0.5 0h1M386.5 266h1m1 0h1M387.5 266.5h1m4 0h1m0 0h1.5m0.5 0h2M389.5 267h4m0.5 0h1m0 0h1m0.5 0h1m0 0h1m6 0h1M388 267.5h1m1.5 0h1m1.5 0h1.5m1.5 0h1m0 0h1m3.5 0h1M395.5 268h1m1 0h1m2 0h1m0.5 0h1M384.5 268.5h1m1.5 0h1m0.5 0h1m0 0h1m1 0h1.5m1.5 0h1m1 0h1M384.5 269h1m1 0h1.5m0.5 0h1m2.5 0h1.5m0 0h1m2.5 0h1M385 269.5h1m4.5 0h1m1 0h1.5m0.5 0h1m0 0h1m1 0h1M384.5 270h1m5.5 0h1m1.5 0h1M385 270.5h1m2 0h1.5m0 0h1m1.5 0h1m1 0h1m0 0h1M388.5 271h2m0 0h1m0 0h1m0 0h1m0 0h1m2.5 0h1m10.5 0h1M387.5 271.5h1m0 0h1m2 0h1m2 0h1m2.5 0h1M384.5 272h1.5m2 0h1m0 0h1m1 0h1m2 0h1m2.5 0h1m0 0h1m2.5 0h1m15 0h1M386 272.5h1m2 0h1m0 0h1m0 0h1m0.5 0h1.5m2.5 0h1m17 0h1M387 273h1m0.5 0h1m0.5 0h1.5m0 0h2m1 0h1.5m0 0h1m1 0h1m5.5 0h1M386.5 273.5h1m0.5 0h1m1 0h1.5m0.5 0h1m1.5 0h1m0 0h1m0 0h1m3.5 0h1m6.5 0h1.5M385.5 274h1m0.5 0h1m0.5 0h1m0.5 0h1.5m0.5 0h1m0.5 0h1m0.5 0h1m0.5 0h1m1.5 0h1m6.5 0h1m0 0h1m5 0h1M386.5 274.5h1m1 0h1m1 0h1m4.5 0h1m12 0h1M389.5 275h1m0 0h1m2.5 0h1m0 0h1m0 0h1m1.5 0h1M386 275.5h1m1.5 0h1m4 0h1m0 0h2m0 0h1m0 0h1m14.5 0h1M387 276h1m0.5 0h1m2.5 0h2m3.5 0h1m2 0h1m3 0h1m7 0h1m2.5 0h1M387.5 276.5h3.5m0 0h1.5m1 0h1m0.5 0h1m18 0h1M384.5 277h1m0 0h1m0 0h1m0 0h1.5m1.5 0h1.5m1.5 0h1m0.5 0h1m2 0h1m8 0h1m2.5 0h1m0.5 0h1M392 277.5h1m1 0h2m0.5 0h1m0.5 0h1.5m0.5 0h1.5m0 0h1m3.5 0h1m4 0h1m0.5 0h1.5m4.5 0h1M388 278h1.5m3.5 0h2m2 0h1m4.5 0h1m1 0h1m2.5 0h1m1.5 0h1m2 0h1.5M384.5 278.5h1.5m1 0h1m0 0h1m0 0h1m1 0h2.5m0.5 0h1m0 0h1m0.5 0h1.5m8.5 0h1.5m1.5 0h1m0.5 0h1m1.5 0h1m1.5 0h1M385 279h1m2 0h1m3.5 0h1m0 0h1m3.5 0h1m0 0h1m7 0h2m1 0h1m3.5 0h1.5m7.5 0h1M386.5 279.5h1m0 0h1m0 0h1m1 0h1.5m1.5 0h1m0 0h1m0 0h1m2.5 0h1m2.5 0h1m0 0h1m0.5 0h1m1.5 0h1m0 0h1m0 0h1m1 0h1m0.5 0h1m1 0h1.5m1.5 0h1M384.5 280h1.5m4 0h1.5m1 0h1m1.5 0h1m0 0h1.5m0 0h1m2 0h1m3 0h1m2.5 0h2m0 0h1m0.5 0h1m1 0h1m1.5 0h1m1 0h1M388 280.5h1m0 0h1.5m0 0h1m1 0h1.5m1 0h1m0 0h2.5m6 0h1m1 0h1m1 0h1m0 0h1m0.5 0h1m4 0h1m1.5 0h1M384.5 281h1.5m0.5 0h1m0 0h1m0 0h3.5m0 0h3.5m1 0h1m0 0h1.5m0 0h1m7 0h1m1.5 0h1.5m0 0h1m1 0h1.5M384.5 281.5h1m0.5 0h1m0 0h1m2 0h1.5m0.5 0h4m0.5 0h1.5m0 0h1m4 0h1m1 0h1.5m0.5 0h1.5m0 0h1.5m1.5 0h1m0 0h2M385.5 282h1.5m1 0h1m0 0h1m0 0h2.5m0 0h2.5m0.5 0h1m0 0h1m1.5 0h2m5.5 0h1.5m0 0h1m0.5 0h2m1.5 0h1m2.5 0h1M387 282.5h1m0.5 0h1m0 0h2.5m1.5 0h2m1.5 0h1m2.5 0h1m3.5 0h1.5m2 0h1m0 0h1m0.5 0h1m0 0h1m0 0h1m0.5 0h1m2 0h1.5M384.5 283h1m1.5 0h1m1 0h1m1.5 0h1m0.5 0h1m0 0h1m0 0h1.5m0 0h1m0 0h1.5m0 0h1m4.5 0h1m0.5 0h1.5m1 0h1m0.5 0h1m0 0h1m0.5 0h1m1 0h1m0.5 0h1m0 0h1m1 0h1M385.5 283.5h1.5m1.5 0h3.5m0.5 0h2m0.5 0h2.5m1 0h1.5m6 0h1m1 0h1m2 0h2.5m1 0h1.5M384 284h1m0 0h2m2.5 0h1m1 0h2.5m0 0h1m0 0h1.5m0.5 0h1m4.5 0h1m3.5 0h1m0.5 0h1m0 0h2m0 0h1m0.5 0h1.5m3 0h1m1.5 0h1M385.5 284.5h1m0 0h1m0 0h1m0.5 0h1.5m2 0h3.5m0 0h1.5m0 0h3m0 0h1m2.5 0h1.5m0 0h1m1 0h1m0 0h2.5m0 0h1m0 0h2.5m1 0h2m0 0h1m0 0h1m0 0h1M384.5 285h1m1.5 0h1m2 0h1.5m0.5 0h1.5m0 0h3m0 0h1.5m1 0h1m0.5 0h1m0.5 0h1m1.5 0h1m0 0h1m1 0h1m0.5 0h3.5m0 0h1.5m0.5 0h1m0 0h1.5m0.5 0h1m3 0h1M386 285.5h2m0 0h3.5m0 0h1m0 0h1m0 0h1m0 0h1.5m0 0h1m0.5 0h1m0 0h1m1.5 0h1m5 0h1m0 0h1m0 0h1.5m0 0h3m0 0h1m0 0h1m0.5 0h1.5m0.5 0h1M384.5 286h1.5m0.5 0h1m0 0h1m0 0h2.5m0.5 0h2m0.5 0h2m1 0h1m0.5 0h1m8.5 0h2m1 0h1m0.5 0h3.5m0 0h1m1.5 0h1m0 0h1M384.5 286.5h1m1 0h1m0 0h1m0 0h1m0 0h1.5m0.5 0h3.5m0 0h3.5m0.5 0h2.5m3.5 0h1.5m0.5 0h1m1 0h1m0.5 0h2m0 0h2m1.5 0h1m0 0h2.5M385 287h1m0 0h1m3 0h1.5m1.5 0h1.5m0 0h1.5m0 0h3m0 0h1m1 0h2m2 0h1m0 0h3m0 0h3m0 0h2m0 0h2m0.5 0h1.5M386.5 287.5h1.5m0 0h1m0 0h2.5m0.5 0h5m0 0h1.5m0 0h1m3.5 0h1m2 0h1m0 0h2m0.5 0h1.5m0.5 0h1.5m0 0h2m0 0h2M386.5 288h1m0 0h1.5m0 0h3m0 0h3.5m0 0h1.5m0 0h1m0 0h1.5m3 0h1m0 0h1m1 0h1m0.5 0h1.5m0.5 0h1.5m0.5 0h1m0 0h2m0 0h1.5m0.5 0h1m1.5 0h1M385 288.5h1.5m1 0h1m1.5 0h1.5m0 0h1m0 0h1m1 0h1m0 0h1.5m0.5 0h1.5m0.5 0h1m1 0h1m3.5 0h1m1 0h2m0 0h4m0 0h1.5m0.5 0h1m0 0h1m1 0h1M384.5 289h1m2 0h1m0 0h1m0.5 0h1m0.5 0h1m0 0h3m0 0h1m0 0h1m1 0h2m2 0h1.5m0 0h1m0.5 0h1m0 0h1m0.5 0h2m0 0h5m0 0h1m0.5 0h1m2 0h1m3 0h1M390 289.5h1.5m0 0h1m0.5 0h1m0 0h1m0 0h1.5m1 0h1.5m1 0h1m2 0h1m3 0h1m0 0h3m0.5 0h1m0 0h2m1 0h1.5m2 0h1m1 0h1M388 290h1.5m0 0h1m0 0h2m0 0h4m0 0h1.5m0 0h1m1 0h1.5m1 0h1m0 0h1m2 0h1m3 0h1m0 0h1m0 0h1.5m0 0h1.5m2 0h1.5m1 0h1M385 290.5h1.5m0 0h3m0 0h2m0 0h1m0 0h3m0.5 0h1.5m1.5 0h1.5m1 0h1m2.5 0h1m0 0h1m3 0h1m0 0h2.5m0 0h3M386 291h1m0 0h1m0 0h2m0 0h1m0 0h2m0.5 0h1.5m0 0h1m1 0h1m0.5 0h1m1 0h1m4 0h1m2 0h1m0.5 0h1m0.5 0h3m2 0h1m1 0h1.5M387 291.5h1m1 0h5.5m0.5 0h2.5m0.5 0h1m0 0h1m4 0h1m0 0h1.5m0.5 0h1.5m1.5 0h2m1 0h2m1 0h1m0 0h1M384.5 292h1.5m0.5 0h1m1 0h1m0.5 0h1m0.5 0h1m0 0h1.5m0 0h1m0.5 0h2.5m0 0h1m1.5 0h1m0.5 0h1m5 0h2m0 0h1.5m0 0h1.5m0 0h1.5m0.5 0h1m0 0h1.5m1 0h1M384.5 292.5h1m0 0h1m3 0h3m0.5 0h1m0 0h1m0 0h1.5m1 0h1m1 0h1m3 0h1m1.5 0h2.5m0.5 0h1m0 0h2m0 0h1.5m1 0h2.5m0.5 0h1m1.5 0h1M386 293h1m0 0h1m0 0h1m0 0h1m1 0h1m0 0h1.5m0 0h1m0.5 0h2m2.5 0h1.5m7 0h1m0 0h1m0.5 0h3m1.5 0h2M384.5 293.5h1m1 0h1m2 0h1m1 0h3.5m0 0h1m4 0h1m0 0h2m0.5 0h1m1.5 0h1m1 0h1.5m0 0h1m0 0h1.5m2.5 0h1m1 0h1M384.5 294h1m0.5 0h1m0 0h1m0 0h1.5m1 0h2m0.5 0h1m0.5 0h1m1 0h1m2.5 0h1m4 0h1m1 0h1m1 0h5m1 0h1m3 0h1M385.5 294.5h1m0.5 0h1m1 0h1m0 0h1m2 0h1.5m0 0h1m3.5 0h1.5m3.5 0h1m0.5 0h1.5m1.5 0h2m0.5 0h2m1 0h1.5m0 0h1m0.5 0h1M390.5 295h1m2 0h1m0.5 0h1m2 0h1m5 0h1m2.5 0h1m0 0h1m2 0h1m3 0h1m1 0h1M384.5 295.5h1m0.5 0h1m1 0h1m0 0h1m0.5 0h1.5m0.5 0h3m0 0h2m6 0h1m2.5 0h2m3 0h1m1 0h1m0 0h1M387.5 296h1m4 0h1m0.5 0h1m0 0h1m13 0h1m1.5 0h2.5m2 0h1M384.5 296.5h1.5m0.5 0h1m0.5 0h1m0 0h1m2 0h1m1.5 0h2m1 0h1.5m1.5 0h1m1 0h1m9.5 0h1m0 0h1m0.5 0h1.5M390 297h1m1.5 0h1m3 0h1m0 0h1m3 0h1m5.5 0h1.5m0 0h1m1 0h1m0 0h1m0 0h1M386 297.5h1m0 0h1m0 0h2m0.5 0h1m0 0h1.5m2 0h1m0 0h1m0.5 0h1m0.5 0h1m4.5 0h1m1 0h1m3 0h1m2 0h1m0 0h1m0 0h1m2 0h1M392.5 298h1m0.5 0h1m10.5 0h1.5m0.5 0h1m1.5 0h1m0.5 0h1.5m1 0h1M388.5 298.5h1m0 0h1.5m1.5 0h1m0 0h1m2.5 0h1m0 0h1m1.5 0h1m2 0h1m5.5 0h1.5m1 0h1m3.5 0h1m1 0h1M385.5 299h1m7.5 0h1m3.5 0h1m0 0h1m0.5 0h1m9.5 0h1m0.5 0h1m0.5 0h1M397 299.5h1m6 0h1m0.5 0h1m3.5 0h1m0 0h1m6.5 0h1M386 300h1m16.5 0h1m1.5 0h1m5 0h1.5M398 300.5h1m2.5 0h1m1.5 0h1m4 0h1m0 0h1m1.5 0h1m0.5 0h1m1 0h1M395 301h1m15 0h1m3.5 0h1M393 301.5h1m0 0h1m1.5 0h1M393.5 302h1.5m17 0h1M389 302.5h1m0.5 0h1m3 0h1m10.5 0h1M390 303h1m4.5 0h1m16.5 0h1M392 303.5h1m2 0h1m16 0h1M387 304h1.5m7 0h1m0.5 0h1M392 304.5h2m0.5 0h1" stroke="#1a1a1a" stroke-width="1" fill="none"/>
<rect x="383.8" y="242" width="51.7" height="62.9" fill="none" stroke="#222" stroke-width="0.9"/>
<path d="M383.8 242V304.9H435.5" fill="none" stroke="#111" stroke-width="1.2"/>
<path d="M402.4 242V304.9M383.8 280.4H435.5" stroke="#444" stroke-width="0.8"/>
<path d="M424.6 242.8V260.6M415.3 252.6H434.9" stroke="#111" stroke-width="0.9"/>
<g font-size="5.1" font-weight="bold" text-anchor="middle" fill="#222">
<text x="420" y="249.3">17</text>
<text x="429.5" y="249.3">3</text>
<text x="420" y="258">44</text>
<text x="429.5" y="258">37</text>
</g>
<g font-size="4" fill="#555">
<text transform="translate(380.8 304.9) rotate(-90)" text-anchor="middle">10<tspan font-size="2.6" dy="-1.2">0</tspan></text>
<text transform="translate(380.8 289.17) rotate(-90)" text-anchor="middle">10<tspan font-size="2.6" dy="-1.2">1</tspan></text>
<text transform="translate(380.8 273.45) rotate(-90)" text-anchor="middle">10<tspan font-size="2.6" dy="-1.2">2</tspan></text>
<text transform="translate(380.8 257.73) rotate(-90)" text-anchor="middle">10<tspan font-size="2.6" dy="-1.2">3</tspan></text>
<text transform="translate(380.8 242) rotate(-90)" text-anchor="middle">10<tspan font-size="2.6" dy="-1.2">4</tspan></text>
</g>
<path d="M382.6 304.9h1.8M383.8 304.9v1.8M382.6 300.17h1.2M387.69 304.9v1.2M382.6 297.4h1.2M389.97 304.9v1.2M382.6 295.43h1.2M391.58 304.9v1.2M382.6 293.91h1.2M392.83 304.9v1.2M382.6 292.66h1.2M393.86 304.9v1.2M382.6 291.61h1.2M394.72 304.9v1.2M382.6 290.7h1.2M395.47 304.9v1.2M382.6 289.89h1.2M396.13 304.9v1.2M382.6 289.17h1.8M396.73 304.9v1.8M382.6 284.44h1.2M400.62 304.9v1.2M382.6 281.67h1.2M402.89 304.9v1.2M382.6 279.71h1.2M404.51 304.9v1.2M382.6 278.18h1.2M405.76 304.9v1.2M382.6 276.94h1.2M406.78 304.9v1.2M382.6 275.89h1.2M407.65 304.9v1.2M382.6 274.97h1.2M408.4 304.9v1.2M382.6 274.17h1.2M409.06 304.9v1.2M382.6 273.45h1.8M409.65 304.9v1.8M382.6 268.72h1.2M413.54 304.9v1.2M382.6 265.95h1.2M415.82 304.9v1.2M382.6 263.98h1.2M417.43 304.9v1.2M382.6 262.46h1.2M418.68 304.9v1.2M382.6 261.21h1.2M419.71 304.9v1.2M382.6 260.16h1.2M420.57 304.9v1.2M382.6 259.25h1.2M421.32 304.9v1.2M382.6 258.44h1.2M421.98 304.9v1.2M382.6 257.73h1.8M422.57 304.9v1.8M382.6 252.99h1.2M426.47 304.9v1.2M382.6 250.22h1.2M428.74 304.9v1.2M382.6 248.26h1.2M430.36 304.9v1.2M382.6 246.73h1.2M431.61 304.9v1.2M382.6 245.49h1.2M432.63 304.9v1.2M382.6 244.44h1.2M433.5 304.9v1.2M382.6 243.52h1.2M434.25 304.9v1.2M382.6 242.72h1.2M434.91 304.9v1.2" stroke="#555" stroke-width="0.4"/>
<g font-size="5.1" fill="#1a1a1a" text-anchor="middle">
<text x="385" y="313.2">10<tspan font-size="3.4" dy="-1.8">0</tspan></text>
<text x="397.93" y="313.2">10<tspan font-size="3.4" dy="-1.8">1</tspan></text>
<text x="410.85" y="313.2">10<tspan font-size="3.4" dy="-1.8">2</tspan></text>
<text x="423.77" y="313.2">10<tspan font-size="3.4" dy="-1.8">3</tspan></text>
<text x="436.7" y="313.2">10<tspan font-size="3.4" dy="-1.8">4</tspan></text>
</g>
<path d="M371 254V268.45M371 286.05V300.2" stroke="#111" stroke-width="0.9"/>
<path d="M371 251l1.5 4.2h-3z" fill="#111"/>
<text transform="translate(373.9 277.25) rotate(-90)" font-size="8" text-anchor="middle">CD3</text>
<path d="M483.5 246.5h1M473.5 248h1m1 0h1M476 250.5h1M478.5 251h1M473.5 254h1M465 254.5h1M465.5 255.5h1m1.5 0h1m0.5 0h1M467 257h1M464 259h1m3 0h1m1.5 0h1M466 260h1m7.5 0h1m11 0h1M465 261.5h1m0 0h1M467.5 262h1M488 262.5h1M464 263h1M467 263.5h1m7 0h1M470.5 264h1M469 265h1M470 265.5h1M474.5 266h1M468 267h1m25 0h1M464 267.5h1m7 0h1M471 268.5h1M471 269h1M466.5 269.5h1m10.5 0h1M465.5 270h1m5.5 0h1M479.5 271h1M469.5 271.5h1m1.5 0h1M507.5 272h1M487 273h1.5M466.5 273.5h1m27 0h1M465 274h1M466.5 274.5h1m4.5 0h1M469 275h1m3.5 0h1m9 0h1m9 0h1m5 0h1M477.5 275.5h1m13.5 0h1M469 276.5h1.5m7 0h1m9 0h1M464.5 277h1m21 0h1m11.5 0h1M471.5 277.5h1m20 0h1M472.5 278h1M475.5 278.5h1m8.5 0h1m3.5 0h1M494.5 279h1M465.5 279.5h1m24 0h1m5 0h1m3 0h1M489.5 280h1m2.5 0h1.5m7 0h1M466 280.5h1m2.5 0h1M468.5 281h1m8.5 0h1m0 0h1m8 0h1m0.5 0h1m8 0h1M470.5 281.5h1M465.5 282h1m5 0h1m0.5 0h1m14 0h1m4.5 0h1m1.5 0h1M464 282.5h1m2.5 0h1m2 0h1m19 0h1M478 283h1m11.5 0h1m10.5 0h1M493 283.5h1m0.5 0h1m6.5 0h1M467.5 284h1m0 0h1m3 0h1m0.5 0h1m1.5 0h1m7.5 0h1m3.5 0h1m0.5 0h1m10 0h1M464 284.5h1m1 0h1m1 0h1m2 0h1m6.5 0h1m6 0h1m7 0h1m1 0h1M465.5 285h1m5 0h1m0.5 0h1m2.5 0h1m12 0h1m3.5 0h1m3.5 0h1M473.5 285.5h1m1 0h1m4.5 0h1m0 0h1m3.5 0h1m1.5 0h1m3.5 0h1m1.5 0h1M464.5 286h1m1.5 0h1m3.5 0h1m2 0h1m1.5 0h1m0.5 0h1m3.5 0h1m0.5 0h1.5m2 0h1m5 0h1m0 0h1M467 286.5h1m3.5 0h1m0 0h1m13 0h1m5.5 0h1m5.5 0h1M466.5 287h1m1 0h1m3 0h1m4 0h1m0 0h1m11.5 0h1M476.5 287.5h1m2 0h1m3.5 0h1M466 288h1m0.5 0h1m0 0h1m10.5 0h1m10 0h1m0 0h1m0 0h1m3 0h1m3.5 0h1M464.5 288.5h1m5 0h1m0.5 0h1m5.5 0h1m0.5 0h1m1 0h1.5m6 0h1m2 0h1m0 0h1m1 0h1M471 289h1m2 0h1m8.5 0h1m3 0h1m3 0h1m6.5 0h1M465.5 289.5h1m4 0h1m0.5 0h2m12.5 0h1m0.5 0h1m12 0h1m6 0h1M467.5 290h1m3 0h1m0 0h1m1 0h1m14 0h1.5M469 290.5h1m3.5 0h1.5m0 0h1m8 0h1m7.5 0h1m10 0h1M463.5 291h1m5.5 0h1.5m11.5 0h2m1.5 0h1m2.5 0h1M468 291.5h1m7.5 0h1m1.5 0h1m0 0h1m6 0h1m1 0h1m0 0h1.5m2 0h1m2 0h1m3 0h1M471.5 292h1m0 0h1m0.5 0h1m9.5 0h1m3 0h1m5 0h1m0 0h1m1.5 0h1M464.5 292.5h1m0.5 0h1m4 0h1m3 0h1m2 0h1m0 0h1m15 0h1.5m0.5 0h1M475.5 293h1m7.5 0h1m4.5 0h1m1.5 0h1m1 0h1m0.5 0h1m2 0h1M463.5 293.5h1m3 0h1m3.5 0h1m1.5 0h1m0 0h1m3 0h1m3.5 0h1m12.5 0h1M470.5 294h1m11.5 0h1m4.5 0h1m1 0h1m7.5 0h1M464 294.5h1m2 0h1m2 0h1m2 0h1m5 0h1m0.5 0h1m1.5 0h1m3 0h1m5.5 0h1m4.5 0h1M464 295h1m0.5 0h1m0.5 0h1m6.5 0h1m19 0h1M466 295.5h1m0.5 0h1m1 0h1m5.5 0h1m10 0h1m6 0h1m2 0h1m2.5 0h1M473.5 296h1.5m12 0h1m12 0h1M464 296.5h1m1 0h1m8 0h1m0 0h1m4 0h1m6.5 0h1.5m5.5 0h1M464 297h1m0.5 0h1m6 0h1.5m0 0h1m3 0h1m11.5 0h1M469.5 297.5h1m10 0h1m12.5 0h1m1.5 0h1m1 0h1M477 298h1m10 0h1m4 0h1m2 0h1M467 298.5h1m0.5 0h1.5m4 0h1m1 0h1m11 0h1m6.5 0h1M464.5 299h1m3 0h1m0 0h1m1.5 0h1m16.5 0h1m1 0h1m4 0h1M467 299.5h1m10 0h1m8 0h1m3.5 0h1M464.5 300h1m7.5 0h1.5M470 300.5h1m0.5 0h1m14 0h1m4 0h1M464.5 301h1m4.5 0h1m8.5 0h1m12.5 0h1M463.5 301.5h1m7.5 0h1.5m19 0h1m1 0h1M466 302h1m7.5 0h1m0.5 0h1m1 0h1m11.5 0h1m5 0h1M468.5 302.5h1m1 0h1m0 0h1m2 0h1m18.5 0h1M465 303h1m9 0h1m7 0h1m1.5 0h1m2 0h1m6 0h1M470 303.5h1m3.5 0h1m8.5 0h1M465 304h1m4.5 0h1m21.5 0h1m2 0h1M464.5 304.5h1m1 0h1m1.5 0h1m8 0h1m12 0h1M464.5 305h1m5.5 0h1" stroke="#777" stroke-width="1" fill="none"/>
<path d="M464 248.5h1M464.5 249.5h1M468.5 253h1M476.5 255h1M476.5 255.5h1M471 256.5h1M468 257h1m1 0h1m1 0h1M465.5 257.5h1.5m1.5 0h1.5m7.5 0h1M464.5 258h1m4 0h1m4.5 0h1M464.5 258.5h1m7 0h1m2.5 0h1M465 259h1m2.5 0h1M470 259.5h1m2.5 0h1m0.5 0h1M465.5 260h1m3 0h1m5 0h1M470.5 260.5h1M466.5 261h1m1 0h1m2 0h1m1 0h1m2.5 0h1M469 261.5h1.5m0 0h1M464 262h1m5 0h1m1 0h1M465.5 262.5h1m0 0h1M468.5 263h1m0 0h1.5m2.5 0h1.5M464 263.5h1m0.5 0h1m0 0h1m0 0h1m0 0h1m5 0h1M467 264h1.5m0 0h1m1.5 0h1M464 264.5h1m4 0h1m4 0h1M465.5 265h1m3.5 0h1m4 0h1M468 265.5h1m7.5 0h1m1.5 0h1M463.5 266h1m6.5 0h1M466.5 266.5h1m1.5 0h1m6.5 0h1M471 267h1.5m3.5 0h1M475.5 267.5h1M465.5 268h1m6 0h1M464.5 268.5h1m8 0h1M469 269h1M470.5 269.5h1m4.5 0h1m0 0h1M467 270h1M464 270.5h1m4 0h1m0 0h1m0 0h1m0 0h1m0.5 0h1M464 271h1.5m3 0h2m1 0h2.5M464.5 271.5h1M474 272h1M465.5 272.5h1m6.5 0h1M469.5 273h1m4 0h1M466 273.5h1m1.5 0h1m0 0h1m4 0h1m17.5 0h1m0 0h1M465.5 274h1m0 0h1m1 0h1m1.5 0h1m1 0h1M465.5 274.5h1m0.5 0h1m3 0h1.5m1 0h1m19.5 0h1m0.5 0h1M466 275h1m0 0h1m4 0h1m0 0h1m13.5 0h1M466 275.5h1m1 0h1m2.5 0h1m25 0h1M468.5 276.5h1m16 0h1M465 277h1m0 0h1m1 0h1m4 0h1m16 0h1m1 0h1M493.5 277.5h1m0.5 0h1M464 278h1m0 0h1m0 0h1m9.5 0h1m5 0h1m0 0h1m4.5 0h1m0 0h1M469 278.5h1m1.5 0h1.5m0.5 0h1m12 0h1m0 0h1m4.5 0h1M467.5 279h1m10.5 0h1m2.5 0h1m1.5 0h1m3 0h1m0.5 0h1m3.5 0h1M464 279.5h1.5m6 0h1m1.5 0h1m0 0h1m0 0h1.5m12.5 0h1m0.5 0h1m0 0h1m1 0h1.5M469 280h1m1 0h1m0 0h1.5m2 0h1m1 0h1m1.5 0h1.5m1 0h1m4 0h1m0.5 0h1m1 0h1m2 0h2M463.5 280.5h1m0 0h1m3 0h1m0.5 0h1m1.5 0h1m11 0h1m0.5 0h1m0.5 0h1m0.5 0h1.5m1 0h1M469 281h1m0 0h1.5m15.5 0h1.5m4.5 0h2m2 0h1M465.5 281.5h1.5m0.5 0h1m1.5 0h1m1.5 0h1.5m1 0h1m12.5 0h1m0 0h1m0.5 0h1.5m0 0h1m5.5 0h1m0.5 0h1M470 282h1m2.5 0h1m11 0h1m1 0h1m0 0h1.5m0 0h1m1 0h1m1 0h1m2 0h2M465 282.5h1m0.5 0h1m3.5 0h1m1 0h1.5m16.5 0h1m0.5 0h3.5m2 0h1M464 283h1m0.5 0h1m3 0h1m0 0h1m1.5 0h1.5m1 0h1m2.5 0h1m4 0h1.5m0 0h1m0.5 0h1m0.5 0h1.5m0 0h1m0.5 0h2m0 0h1.5m2 0h1m0 0h1M466 283.5h1m0.5 0h1m0 0h1m4 0h3.5m0 0h1m1.5 0h1m1.5 0h1m3 0h1m0 0h1m0 0h1m0.5 0h1.5m0.5 0h1.5m1 0h1m1 0h1m0.5 0h1M469 284h1.5m0 0h2m1 0h1m0.5 0h1m13 0h1m1.5 0h2m0.5 0h1.5m0.5 0h1m3.5 0h1M469.5 284.5h1.5m0.5 0h1.5m0 0h2m0.5 0h1m4.5 0h1m1 0h1m2 0h1.5m0 0h1.5m0.5 0h1m0.5 0h1m0.5 0h1.5m0.5 0h1m1 0h1.5M464 285h1m0 0h1m1 0h1m0.5 0h1m0 0h1.5m0 0h1m0 0h1m1 0h1.5m0 0h1m1.5 0h1m3 0h1m4 0h1.5m0.5 0h1m0 0h2m1 0h1.5m0.5 0h2m1 0h1m0 0h1m0.5 0h1M463.5 285.5h1m0 0h1.5m0 0h2.5m1 0h3m0 0h1m2.5 0h1m0 0h1m0.5 0h1m3 0h1m3.5 0h1.5m0 0h1m0 0h1m0 0h2m0.5 0h1m0.5 0h2M463.5 286h1m1.5 0h1m0.5 0h2.5m0.5 0h1.5m0 0h1m0 0h1m0 0h1m0.5 0h1m1 0h1.5m2.5 0h1m1.5 0h1m1 0h1.5m0 0h1m0 0h1.5m0 0h1m0 0h1m0 0h1.5m0 0h1m0 0h1m0.5 0h1M465 286.5h1.5m0 0h1m0 0h1.5m0 0h2m0 0h1m1.5 0h1m0.5 0h1m0 0h1m9 0h1m0 0h1m0 0h1.5m0.5 0h1.5m0 0h2m0 0h3.5m0 0h1.5m2.5 0h1m0.5 0h1M464 287h1m0 0h1m0 0h1m0.5 0h1.5m0.5 0h3.5m0 0h1.5m1.5 0h1.5m4 0h1m0.5 0h1m1 0h1m0 0h1m1.5 0h1m0.5 0h1.5m0 0h2.5m0.5 0h1m1.5 0h1m0 0h1m0.5 0h1M464.5 287.5h2m0.5 0h4.5m0 0h1m0.5 0h1.5m0.5 0h1.5m1 0h1m2.5 0h1m1.5 0h1m0 0h3m0 0h3m0 0h1.5m0 0h1.5m0 0h1.5m0 0h2m1 0h1m0.5 0h1M464.5 288h2m0.5 0h1m0 0h1m1.5 0h1.5m0 0h1m0 0h3.5m0 0h1.5m0 0h1m5 0h1.5m1 0h1.5m0 0h2m0.5 0h1m0 0h1m0 0h1m1 0h1m0 0h1.5m0.5 0h1M465.5 288.5h1m1 0h1m0 0h1m0.5 0h1m0 0h1.5m0 0h2m0.5 0h1m0.5 0h2.5m0.5 0h1m1 0h1m2.5 0h1.5m1 0h2.5m1 0h2m1 0h2m0 0h1m0 0h1m1.5 0h1M464 289h1m0 0h1m1 0h4.5m0 0h1m0 0h2m1.5 0h1m0 0h2.5m1.5 0h1m4.5 0h1m1 0h3.5m1.5 0h2m1.5 0h2m0.5 0h1M464.5 289.5h1m0.5 0h1m0.5 0h2m0 0h1.5m0 0h1.5m1 0h1m0 0h1m0.5 0h1m3 0h1.5m2 0h1m1 0h1m1 0h1m0 0h2.5m0 0h3m0 0h2.5m2 0h1M465 290h1m0 0h2m0 0h1.5m0 0h2m0.5 0h1m0 0h2m0 0h1m0.5 0h1.5m1.5 0h1.5m0 0h1m4 0h1m0.5 0h2.5m1 0h2m0 0h2.5m1 0h1m0.5 0h1m1 0h1m3 0h1M464.5 290.5h1m0 0h1m0.5 0h1.5m1 0h2.5m1 0h1m0.5 0h1m0 0h1m0 0h1m7.5 0h2m0.5 0h5m0.5 0h2.5m0.5 0h1.5m2.5 0h1M464.5 291h1m0.5 0h1m0 0h1m0.5 0h1.5m1.5 0h4m0 0h1m0.5 0h1m0 0h1m2 0h1m0.5 0h1m2 0h1.5m0 0h1m0 0h2m0.5 0h2.5m1 0h1m3.5 0h1M464.5 291.5h1.5m0 0h2.5m0.5 0h1.5m0 0h3m0 0h1m0.5 0h1m1 0h2m3 0h2m0.5 0h1m3 0h1m0 0h1m1.5 0h2m0.5 0h2.5m0 0h1m3.5 0h1M464 292h1m0.5 0h3m0 0h2m0.5 0h1m1 0h1.5m0 0h1.5m0 0h2m0 0h1m0 0h1m0 0h1m4 0h1m0 0h1m1 0h1m0 0h1m1.5 0h3.5m0 0h1m1 0h1m1 0h1m1 0h1M464 292.5h1m3.5 0h1.5m0 0h1.5m0 0h2.5m1.5 0h1.5m5 0h1m0 0h1m1 0h1m0 0h1m0 0h1.5m0 0h1m0.5 0h1m0 0h2.5m0 0h1m3 0h1m2.5 0h1M464.5 293h4.5m0 0h4.5m0 0h1m0.5 0h1m0 0h1m0 0h2m4 0h1m1 0h1m1.5 0h1m1.5 0h2m1 0h1.5m1.5 0h1.5m4.5 0h1M464 293.5h1m1.5 0h1.5m0 0h4.5m0 0h1m0 0h1.5m2.5 0h1m5 0h1m0.5 0h1m2 0h2m0.5 0h1.5m0.5 0h1m0.5 0h2m0 0h1m0 0h1M464 294h1m1 0h1.5m0 0h2m0.5 0h1m0 0h3.5m0 0h1.5m0 0h1m0.5 0h1m3.5 0h1m1 0h1m2.5 0h1.5m1 0h1m0.5 0h3.5m0 0h1m0 0h1.5m0.5 0h1M464.5 294.5h1m2.5 0h2m0.5 0h1m0.5 0h1.5m0 0h1.5m0 0h3m11 0h1.5m0 0h1m0 0h2.5m0.5 0h2m0 0h1M463.5 295h1m0.5 0h1m0 0h1.5m0.5 0h1.5m1 0h1.5m0.5 0h2.5m12.5 0h1m0.5 0h1m0 0h1m1 0h1.5m2 0h1.5m0.5 0h1M463.5 295.5h1m0.5 0h1m2 0h2m0 0h1.5m0 0h1m1 0h2m0 0h1m0 0h1m0 0h1m2 0h1m3 0h1m0.5 0h1m3 0h2m0.5 0h1m0 0h1M467 296h1m0.5 0h2m0 0h1m0 0h1.5m2.5 0h1.5m8 0h1.5m3 0h1.5m1 0h1m0 0h1.5m2 0h1M465 296.5h1m1 0h1.5m0.5 0h1.5m0 0h1m0 0h1.5m0.5 0h1m0 0h1m0 0h1m0 0h1m7 0h1.5m0.5 0h1m2.5 0h1m6 0h1.5M463.5 297h1m1.5 0h1.5m0.5 0h1m0 0h1.5m0 0h2.5m0.5 0h1m0.5 0h1.5m1 0h1m0 0h1m0 0h1m7 0h1m0.5 0h2m5.5 0h1.5M465.5 297.5h1m0 0h1m0 0h2m1 0h1.5m0 0h1m0.5 0h1.5m0 0h2.5m10 0h2.5m2 0h1m0 0h1.5m1 0h1.5M463.5 298h1m5 0h1m0.5 0h1m0.5 0h1m1 0h1m0.5 0h1m15.5 0h1m0.5 0h1m0 0h1m1 0h1M463.5 298.5h1m2 0h1m0.5 0h1m1 0h2m0 0h2.5m3.5 0h1m8.5 0h1m5 0h1m0.5 0h1m1.5 0h1M463.5 299h1m3 0h1m0.5 0h1m5 0h2m0 0h1m0.5 0h1m15 0h1m1.5 0h1M463.5 299.5h1.5m0.5 0h1.5m1 0h1m0 0h1m0 0h1m0.5 0h1m2 0h1m4 0h1m8.5 0h1m3.5 0h1M466.5 300h1m1.5 0h1m0 0h2m0 0h1m1 0h1.5m1 0h1.5m2.5 0h1m11.5 0h1M466 300.5h1m1.5 0h2m0 0h1m1 0h1.5m0.5 0h1m0.5 0h1m1.5 0h1m14.5 0h1M465.5 301h1.5m2.5 0h1m0.5 0h1m0.5 0h1m0 0h1m5.5 0h1M464 301.5h1m0 0h1m2.5 0h1m1.5 0h1m1.5 0h1m1.5 0h1m2 0h1M464 302h1.5m1.5 0h1m0.5 0h1m4.5 0h1m19 0h1M464 302.5h1m2 0h1m4.5 0h1m5.5 0h1m13.5 0h1M467.5 303h1m9.5 0h1m5 0h1m15.5 0h1M466.5 303.5h1m0.5 0h1.5m1 0h1m0.5 0h1m0 0h1m1 0h1m2.5 0h1m6 0h1M468.5 304h1m0 0h1m26.5 0h1M465 304.5h1m0 0h1m3 0h1m1 0h1m3 0h1.5M475 305h1m11 0h1" stroke="#1a1a1a" stroke-width="1" fill="none"/>
<rect x="463" y="243.2" width="51.8" height="62.3" fill="none" stroke="#222" stroke-width="0.9"/>
<path d="M463 243.2V305.5H514.8" fill="none" stroke="#111" stroke-width="1.2"/>
<path d="M481.4 243.2V305.5M463 281.1H514.8" stroke="#444" stroke-width="0.8"/>
<path d="M503.5 244.2V262M494.3 254.2H514.2" stroke="#111" stroke-width="0.9"/>
<g font-size="5.1" font-weight="bold" text-anchor="middle" fill="#222">
<text x="498.9" y="250.9">5</text>
<text x="508.4" y="250.9">1</text>
<text x="498.9" y="259.6">53</text>
<text x="508.4" y="259.6">40</text>
</g>
<g font-size="4" fill="#555">
<text transform="translate(460 305.5) rotate(-90)" text-anchor="middle">10<tspan font-size="2.6" dy="-1.2">0</tspan></text>
<text transform="translate(460 289.93) rotate(-90)" text-anchor="middle">10<tspan font-size="2.6" dy="-1.2">1</tspan></text>
<text transform="translate(460 274.35) rotate(-90)" text-anchor="middle">10<tspan font-size="2.6" dy="-1.2">2</tspan></text>
<text transform="translate(460 258.77) rotate(-90)" text-anchor="middle">10<tspan font-size="2.6" dy="-1.2">3</tspan></text>
<text transform="translate(460 243.2) rotate(-90)" text-anchor="middle">10<tspan font-size="2.6" dy="-1.2">4</tspan></text>
</g>
<path d="M461.8 305.5h1.8M463 305.5v1.8M461.8 300.81h1.2M466.9 305.5v1.2M461.8 298.07h1.2M469.18 305.5v1.2M461.8 296.12h1.2M470.8 305.5v1.2M461.8 294.61h1.2M472.05 305.5v1.2M461.8 293.38h1.2M473.08 305.5v1.2M461.8 292.34h1.2M473.94 305.5v1.2M461.8 291.43h1.2M474.7 305.5v1.2M461.8 290.64h1.2M475.36 305.5v1.2M461.8 289.93h1.8M475.95 305.5v1.8M461.8 285.24h1.2M479.85 305.5v1.2M461.8 282.49h1.2M482.13 305.5v1.2M461.8 280.55h1.2M483.75 305.5v1.2M461.8 279.04h1.2M485 305.5v1.2M461.8 277.81h1.2M486.03 305.5v1.2M461.8 276.76h1.2M486.89 305.5v1.2M461.8 275.86h1.2M487.65 305.5v1.2M461.8 275.06h1.2M488.31 305.5v1.2M461.8 274.35h1.8M488.9 305.5v1.8M461.8 269.66h1.2M492.8 305.5v1.2M461.8 266.92h1.2M495.08 305.5v1.2M461.8 264.97h1.2M496.7 305.5v1.2M461.8 263.46h1.2M497.95 305.5v1.2M461.8 262.23h1.2M498.98 305.5v1.2M461.8 261.19h1.2M499.84 305.5v1.2M461.8 260.28h1.2M500.6 305.5v1.2M461.8 259.49h1.2M501.26 305.5v1.2M461.8 258.77h1.8M501.85 305.5v1.8M461.8 254.09h1.2M505.75 305.5v1.2M461.8 251.34h1.2M508.03 305.5v1.2M461.8 249.4h1.2M509.65 305.5v1.2M461.8 247.89h1.2M510.9 305.5v1.2M461.8 246.66h1.2M511.93 305.5v1.2M461.8 245.61h1.2M512.79 305.5v1.2M461.8 244.71h1.2M513.55 305.5v1.2M461.8 243.91h1.2M514.21 305.5v1.2" stroke="#555" stroke-width="0.4"/>
<g font-size="5.1" fill="#1a1a1a" text-anchor="middle">
<text x="464.2" y="313.8">10<tspan font-size="3.4" dy="-1.8">0</tspan></text>
<text x="477.15" y="313.8">10<tspan font-size="3.4" dy="-1.8">1</tspan></text>
<text x="490.1" y="313.8">10<tspan font-size="3.4" dy="-1.8">2</tspan></text>
<text x="503.05" y="313.8">10<tspan font-size="3.4" dy="-1.8">3</tspan></text>
<text x="516" y="313.8">10<tspan font-size="3.4" dy="-1.8">4</tspan></text>
</g>
<path d="M449.5 255.2V265.42M449.5 290.88V300.8" stroke="#111" stroke-width="0.9"/>
<path d="M449.5 252.2l1.5 4.2h-3z" fill="#111"/>
<text transform="translate(452.4 278.15) rotate(-90)" font-size="8" text-anchor="middle">Ter119</text>
<path d="M399.5 355.5h1M404 365h1M411 366h1M397 370.5h1M395 371h1M404 371.5h1M396 372h1M402.5 373h1M407.5 376.5h1M399 377.5h1m7.5 0h1M392 379h1M392.5 380h1m8.5 0h1M400 381h1M406 381.5h1M405 382.5h1M403.5 383h1M403.5 383.5h1.5M402.5 384h1M398.5 384.5h1M405.5 385h1m1 0h1M403.5 385.5h1M406 387h1.5M412.5 387.5h1m2 0h1M389 388h1m12.5 0h1m5 0h1m0.5 0h1M406 388.5h1M389 389h1m19.5 0h1m2 0h1m0.5 0h1M388 389.5h1m15.5 0h1m0.5 0h1m2.5 0h1m0.5 0h1m1.5 0h1M387 390h1M410 390.5h1m4 0h1M392 391h1m2.5 0h1.5M385 391.5h1m16.5 0h1m3 0h1M404.5 392h1m3 0h1m1.5 0h1M387 392.5h1m5 0h1.5m8 0h1m1.5 0h1m1.5 0h1m3 0h1M384.5 393h1m3.5 0h1m19 0h1m2.5 0h1m0 0h1.5m1 0h1M384 393.5h1m28 0h1M385 394h1m5.5 0h1m4 0h1m6.5 0h1m2 0h1m8.5 0h1M412.5 394.5h1M388 395h1m4.5 0h1m9.5 0h1m2 0h1m4.5 0h1M391.5 395.5h1m1.5 0h1m1.5 0h1m0 0h1m9.5 0h1M405 396h1M400 396.5h1m0.5 0h1m5 0h1m4.5 0h1M394.5 397h1m4.5 0h1m6.5 0h1m3.5 0h1.5M385 397.5h1m6 0h1m1.5 0h1M384 398h1m0 0h1m14.5 0h1m4 0h1m11 0h1M399 398.5h1M386.5 399h1M401 399.5h1m9 0h1m0.5 0h1m0 0h1M394 400h1m6 0h1m3 0h1m1.5 0h1m1 0h1m0.5 0h1m0.5 0h1m0.5 0h1M405 400.5h1M398 401h2m5.5 0h1m1 0h1m6 0h1M414.5 401.5h1M387.5 402h1m6.5 0h1m14 0h1m5 0h1M392.5 402.5h1m14 0h1m0 0h1M387.5 403h1m2.5 0h1m18 0h1M397 403.5h1m7 0h1M384.5 404h1m3 0h1m9 0h1m8.5 0h1M404 404.5h1M400 405h1m4 0h1M386.5 405.5h1m13 0h1M402.5 406h1M385.5 406.5h1M388 408.5h1" stroke="#777" stroke-width="1" fill="none"/>
<path d="M402.5 377.5h1M403.5 378.5h1M399 379.5h1m1 0h1m0 0h1.5M403.5 380h1m0 0h1M401 380.5h1m1 0h1.5m0.5 0h1M410.5 381h1M401.5 381.5h1m2.5 0h1m2.5 0h1M400 382h1m1.5 0h1m0.5 0h1M397 382.5h1m1.5 0h1m0.5 0h1m0 0h1m0.5 0h1.5M400.5 383h1m1 0h1m6.5 0h1M404.5 383.5h1m0 0h2.5m5 0h1M400.5 384h1m1.5 0h1m0 0h1m0 0h1.5m1.5 0h1M401 384.5h1M397.5 385h1.5m0 0h1.5m1 0h1m1 0h1m0 0h1M392.5 385.5h1m0.5 0h2.5m0 0h4m4 0h1.5m0.5 0h1M392 386h3m0.5 0h2m0 0h1.5m0.5 0h1m1.5 0h1m1 0h1m0 0h1m5 0h1m0.5 0h1M391.5 386.5h2m0 0h1m0 0h3m0 0h1m0.5 0h1m5.5 0h1m2 0h1.5m0.5 0h1.5M391 387h1.5m1 0h1m0 0h4.5m0 0h1.5m0 0h1m2.5 0h1m2.5 0h1M391 387.5h2.5m0.5 0h1m0 0h2m0 0h1.5m0.5 0h1.5M390.5 388h1.5m0 0h2m0.5 0h1.5m0 0h1m1 0h1m0 0h1.5m3 0h1m0.5 0h1M391.5 388.5h3m0 0h1.5m0 0h2m1 0h1.5m3.5 0h1m2.5 0h1m1.5 0h2m1 0h1M390 389h1m0.5 0h3m0.5 0h2.5m0 0h1.5m0 0h1.5m4 0h1m0 0h1m1 0h1m0.5 0h1m0.5 0h1m0.5 0h1m2.5 0h1M389.5 389.5h2.5m0 0h2.5m0 0h1.5m0 0h2.5m0 0h2m1.5 0h1m3.5 0h1m1.5 0h1m0 0h1m0.5 0h1m0 0h1M388.5 390h6.5m0.5 0h5m1.5 0h1m3 0h1.5m0 0h1m0 0h1m2 0h1M388.5 390.5h3.5m0.5 0h1.5m0 0h1m0 0h1m0.5 0h1m0.5 0h1m0 0h1m3.5 0h1m0.5 0h1m0 0h1.5m0 0h1m0.5 0h1.5m1 0h1m1 0h1m0 0h1M388 391h4m1 0h1.5m0.5 0h1m0.5 0h3m0 0h1m1 0h1m3.5 0h1m0 0h1.5m0 0h1m0 0h1m0 0h1M388.5 391.5h1.5m0.5 0h1m0.5 0h4.5m0 0h4m1.5 0h1m2 0h2m1 0h2m0.5 0h1m1 0h1M387.5 392h4m0 0h4m0 0h1.5m0 0h3.5m6 0h2m0.5 0h1m1.5 0h1.5M387.5 392.5h2m1 0h1m0 0h1m0 0h1m0.5 0h1m0 0h2.5m0 0h1m0.5 0h1.5m5 0h1m0 0h1.5m0 0h1.5m1 0h1.5m0.5 0h2M387.5 393h2m0 0h1m0 0h4m0 0h2.5m0 0h1m0.5 0h2m4 0h1m0.5 0h2.5m0 0h1m0 0h1m0 0h1m0 0h1m0.5 0h1M384.5 393.5h1.5m1 0h1.5m0 0h1m0 0h1.5m0 0h1.5m0 0h3.5m0 0h3m0 0h1.5m4 0h1.5m0 0h1m0 0h1m0 0h1.5m0.5 0h2m0 0h1m0.5 0h1M386.5 394h1.5m0 0h1.5m0 0h2.5m0.5 0h2.5m0 0h2m0 0h2m0.5 0h1m4 0h1m1 0h1m0 0h2.5m0 0h1m1 0h1m0.5 0h1M386 394.5h1.5m0 0h11.5m0 0h1m0.5 0h1m0.5 0h1m1 0h1m1 0h2m0.5 0h1.5M386 395h1.5m0 0h1m0.5 0h3.5m0 0h1.5m0 0h3m0 0h2.5m0 0h1m0.5 0h1m3 0h1m2.5 0h1.5m0.5 0h1m1.5 0h1M384 395.5h1m1 0h1.5m0 0h4.5m0 0h2.5m0 0h2m0.5 0h1m0 0h1m0 0h1m2.5 0h1m3.5 0h1m0.5 0h1m0 0h1m3 0h1m2 0h1M385 396h1.5m0 0h1.5m0 0h2.5m0 0h1m0 0h4m0 0h3m0 0h1m0 0h1m0.5 0h1.5m5 0h1m0 0h2.5m0 0h1m0.5 0h1M384 396.5h1m0.5 0h1m0 0h1m0 0h5m0 0h4.5m0 0h2.5m2.5 0h1m2.5 0h1m1.5 0h2m2 0h1.5M384 397h2m0 0h3m0.5 0h3m0 0h1.5m0 0h1m0 0h5.5m1 0h1.5m1 0h1m0.5 0h2.5m0 0h1m0 0h1m0 0h1.5M384.5 397.5h1m0 0h2.5m0.5 0h3.5m0.5 0h2.5m0 0h3m0.5 0h2m1 0h1m3 0h1m0 0h2m1 0h1m2.5 0h1M384.5 398h1m0 0h8.5m0 0h3m0 0h1m0.5 0h2m5.5 0h1m2.5 0h1.5m0 0h1m0.5 0h1M384 398.5h4m0 0h2m0 0h8.5m1 0h1m2.5 0h1m2 0h1.5m0.5 0h1.5m0.5 0h1m0 0h1m0 0h1.5m0 0h1M384 399h3m0.5 0h4.5m0 0h3m0 0h5.5m2.5 0h1m1.5 0h1m0 0h1.5m0 0h2.5m4.5 0h1M384 399.5h12m0 0h4m2 0h1m2.5 0h1m2 0h1m1 0h1m0 0h1M384 400h1m0 0h7m0 0h2.5m0.5 0h3m0 0h2.5m5 0h1.5m0 0h1m0 0h1m3 0h1M384 400.5h4.5m0 0h3m0 0h3.5m0 0h1m0 0h4.5m5.5 0h1m0 0h1m1 0h1M384 401h4.5m0 0h9.5m1.5 0h1m3.5 0h2m1 0h1m5.5 0h1M384 401.5h16m0 0h1m2 0h1m3 0h1m2.5 0h1.5m0.5 0h1M384 402h3m0 0h1m0 0h7.5m0 0h5m0.5 0h1m0 0h1m1.5 0h1m0 0h1M384 402.5h4.5m0 0h1m0 0h1m0 0h2.5m0.5 0h4m0 0h3m2 0h1m3.5 0h1m0 0h1m0.5 0h1m0.5 0h1M384 403h3.5m0.5 0h3m0.5 0h9m1.5 0h1m5.5 0h1M384 403.5h3.5m0 0h10m0.5 0h1m0 0h2m7.5 0h1M384 404h1m0 0h1.5m0 0h2.5m0 0h2m0 0h6m1 0h1m0 0h1.5m2 0h1m1 0h1M384 404.5h2.5m0 0h1.5m0 0h2m0 0h2m0 0h1.5m0.5 0h2m0 0h4.5M384 405h2.5m0 0h2m0 0h1m0 0h1m0 0h4.5m0 0h2.5m0 0h1.5m0 0h1.5m5.5 0h1m0.5 0h2M384 405.5h3m0 0h4m0 0h2m0.5 0h1m0 0h1.5m0 0h1.5m0 0h1m0 0h2m2 0h1M384 406h2.5m0.5 0h2.5m0 0h1.5m0 0h1.5m0 0h4m0 0h1m0 0h3m0 0h1M384.5 406.5h1.5m0 0h6m0 0h2m0 0h1m0 0h5.5m5.5 0h1m4 0h1M384 407h5.5m0 0h7m0 0h2m0 0h2M384 407.5h1m0 0h3m0 0h2.5m0 0h2.5m0 0h3.5m0 0h1m0 0h1.5m0 0h1.5m2 0h1m3.5 0h1M384 408h14.5m0 0h2m10 0h1M384 408.5h4.5m0 0h2.5m0 0h9.5m6.5 0h1" stroke="#1a1a1a" stroke-width="1" fill="none"/>
<rect x="383.4" y="345.7" width="50.9" height="63.2" fill="none" stroke="#222" stroke-width="0.9"/>
<path d="M383.4 345.7V408.9H434.3" fill="none" stroke="#111" stroke-width="1.2"/>
<path d="M401.6 345.7V408.9M383.4 383.5H434.3" stroke="#444" stroke-width="0.8"/>
<path d="M424.2 345.7V364M414.5 356.3H433.7" stroke="#111" stroke-width="0.9"/>
<g font-size="5.1" font-weight="bold" text-anchor="middle" fill="#222">
<text x="419.2" y="353">0.1</text>
<text x="428.8" y="353">0.5</text>
<text x="419.2" y="361.7">91</text>
<text x="428.8" y="361.7">8</text>
</g>
<g font-size="4" fill="#555">
<text transform="translate(380.4 408.9) rotate(-90)" text-anchor="middle">10<tspan font-size="2.6" dy="-1.2">0</tspan></text>
<text transform="translate(380.4 393.1) rotate(-90)" text-anchor="middle">10<tspan font-size="2.6" dy="-1.2">1</tspan></text>
<text transform="translate(380.4 377.3) rotate(-90)" text-anchor="middle">10<tspan font-size="2.6" dy="-1.2">2</tspan></text>
<text transform="translate(380.4 361.5) rotate(-90)" text-anchor="middle">10<tspan font-size="2.6" dy="-1.2">3</tspan></text>
<text transform="translate(380.4 345.7) rotate(-90)" text-anchor="middle">10<tspan font-size="2.6" dy="-1.2">4</tspan></text>
</g>
<path d="M382.2 408.9h1.8M383.4 408.9v1.8M382.2 404.14h1.2M387.23 408.9v1.2M382.2 401.36h1.2M389.47 408.9v1.2M382.2 399.39h1.2M391.06 408.9v1.2M382.2 397.86h1.2M392.29 408.9v1.2M382.2 396.61h1.2M393.3 408.9v1.2M382.2 395.55h1.2M394.15 408.9v1.2M382.2 394.63h1.2M394.89 408.9v1.2M382.2 393.82h1.2M395.54 408.9v1.2M382.2 393.1h1.8M396.12 408.9v1.8M382.2 388.34h1.2M399.96 408.9v1.2M382.2 385.56h1.2M402.2 408.9v1.2M382.2 383.59h1.2M403.79 408.9v1.2M382.2 382.06h1.2M405.02 408.9v1.2M382.2 380.81h1.2M406.03 408.9v1.2M382.2 379.75h1.2M406.88 408.9v1.2M382.2 378.83h1.2M407.62 408.9v1.2M382.2 378.02h1.2M408.27 408.9v1.2M382.2 377.3h1.8M408.85 408.9v1.8M382.2 372.54h1.2M412.68 408.9v1.2M382.2 369.76h1.2M414.92 408.9v1.2M382.2 367.79h1.2M416.51 408.9v1.2M382.2 366.26h1.2M417.74 408.9v1.2M382.2 365.01h1.2M418.75 408.9v1.2M382.2 363.95h1.2M419.6 408.9v1.2M382.2 363.03h1.2M420.34 408.9v1.2M382.2 362.22h1.2M420.99 408.9v1.2M382.2 361.5h1.8M421.57 408.9v1.8M382.2 356.74h1.2M425.41 408.9v1.2M382.2 353.96h1.2M427.65 408.9v1.2M382.2 351.99h1.2M429.24 408.9v1.2M382.2 350.46h1.2M430.47 408.9v1.2M382.2 349.21h1.2M431.48 408.9v1.2M382.2 348.15h1.2M432.33 408.9v1.2M382.2 347.23h1.2M433.07 408.9v1.2M382.2 346.42h1.2M433.72 408.9v1.2" stroke="#555" stroke-width="0.4"/>
<g font-size="5.1" fill="#1a1a1a" text-anchor="middle">
<text x="384.6" y="417.2">10<tspan font-size="3.4" dy="-1.8">0</tspan></text>
<text x="397.32" y="417.2">10<tspan font-size="3.4" dy="-1.8">1</tspan></text>
<text x="410.05" y="417.2">10<tspan font-size="3.4" dy="-1.8">2</tspan></text>
<text x="422.77" y="417.2">10<tspan font-size="3.4" dy="-1.8">3</tspan></text>
<text x="435.5" y="417.2">10<tspan font-size="3.4" dy="-1.8">4</tspan></text>
</g>
<path d="M371 357.7V373.85M371 388.35V404.2" stroke="#111" stroke-width="0.9"/>
<path d="M371 354.7l1.5 4.2h-3z" fill="#111"/>
<text transform="translate(373.9 381.1) rotate(-90)" font-size="8" text-anchor="middle">IgG</text>
<path d="M472.5 347.5h1M487 348h1M463.5 348.5h1M483.5 349h1M468 349.5h1m2 0h1m1.5 0h1M464 350h1m11 0h1m1.5 0h1m1 0h1M467.5 350.5h1m5 0h1m5 0h1m1 0h1M463.5 351h1.5m2 0h1m1.5 0h1m0.5 0h1m3 0h1m13.5 0h1M465.5 351.5h1m14 0h1m0 0h1m2.5 0h1m0 0h1M464.5 352h1m16.5 0h1M465 352.5h1m8.5 0h1m12 0h1M463.5 353h1m1.5 0h1M466 353.5h1m5 0h1m6 0h1m7 0h1M465 354h1m2 0h1m1.5 0h1m2.5 0h1m8.5 0h1m2.5 0h1M468 354.5h1m4.5 0h1m14 0h1M470.5 355h1m3 0h1m6.5 0h1m1.5 0h1M464 355.5h1m7.5 0h1M474.5 356h1m0 0h1m2.5 0h1m4 0h1m2 0h1m2 0h1M463.5 356.5h1.5m2.5 0h1m1.5 0h1m11 0h1m3 0h1M470 357h1m9 0h1m2.5 0h1m5 0h1M488 357.5h1M465 358h1m4 0h1m5 0h1m11.5 0h1M465 358.5h1m6 0h1m4 0h1m0.5 0h1M469 359h1m3.5 0h1m4.5 0h1m10.5 0h1M475.5 359.5h1.5m13 0h1M465 360h1.5m0.5 0h1m10.5 0h1m0.5 0h1m0 0h1M468 360.5h1m2 0h1m3.5 0h1m1.5 0h1m4 0h1m2.5 0h1m1.5 0h1M464 361h1m6.5 0h1m0.5 0h1m10.5 0h1m3.5 0h1M465.5 361.5h1.5m3.5 0h1m2.5 0h1.5m1.5 0h1.5m7 0h1m3.5 0h1M465 362h1m7.5 0h1m2 0h1m0 0h1m4.5 0h1M463.5 362.5h1m3.5 0h1m5.5 0h1m8.5 0h1M465 363h1m0.5 0h1m6.5 0h1m3 0h1M474.5 363.5h1m2.5 0h1m0 0h1m0.5 0h1.5M464 364h1m13 0h1m6.5 0h1m2.5 0h1M464.5 364.5h1m2.5 0h1m1 0h1m8 0h1.5m0 0h1m9.5 0h1M464.5 365h1m8 0h1m11 0h1m0 0h1m1.5 0h1M464.5 365.5h1m3.5 0h1m3 0h1m2.5 0h1m7 0h1m1.5 0h1M464 366h1m2 0h1m11.5 0h1m10.5 0h1m0.5 0h1M469 366.5h1m10 0h1m5.5 0h1m0.5 0h1M464 367h1m2 0h1.5m4 0h1m20 0h1M463.5 367.5h1m0 0h1m1.5 0h1m0.5 0h1.5m2 0h1m25 0h1M470 368h1m1 0h1m0.5 0h1M466 368.5h1m10.5 0h1M464.5 369h1m5.5 0h1m1.5 0h1m1 0h1m14.5 0h1M463.5 369.5h1.5m2 0h1m5 0h1m3.5 0h1M463.5 370h1m1 0h1m0 0h1m0 0h1m1 0h1m0 0h1m0 0h1m3.5 0h1M475.5 370.5h1M466.5 371h1m11 0h1m1.5 0h1m8 0h1M464.5 371.5h1m2 0h1.5M471 372h1m9 0h1M464 372.5h1m0.5 0h1M478 373h1M463 373.5h1m6.5 0h1m1.5 0h1.5m6.5 0h1M463 374h1m3.5 0h1m0.5 0h1m0 0h1M463 374.5h1m7.5 0h1M465.5 375h1m11 0h1M469 375.5h1.5m6 0h1M475 376h1M464.5 376.5h1M467 377h1m8 0h1M475.5 377.5h1m1 0h1M464 378h1m4.5 0h1M463.5 379h1m6 0h1m5 0h1M465.5 379.5h1m0 0h1M465 380h1m9 0h1m9 0h1M470 380.5h1M464.5 381h1M471.5 381.5h1M471.5 382h1M467.5 382.5h1m3 0h1m3 0h1m6.5 0h1m1 0h1m1 0h1m5 0h1M473 383h1m1.5 0h1m12.5 0h1M468 383.5h1m0.5 0h1m3.5 0h1.5M469.5 384h1m0.5 0h1M466 384.5h1m7.5 0h1m1 0h1m5 0h1m1 0h1m2.5 0h1m0.5 0h1m0.5 0h1M476 385h1m11 0h1M467.5 385.5h1m3 0h1m18 0h1M467.5 386h1.5m7 0h1M466.5 386.5h1M463.5 387h1m4 0h1m3 0h1m6.5 0h1m6.5 0h1.5M467.5 387.5h1m4 0h1m1 0h1M463 388h1m13.5 0h1m5.5 0h1M463.5 388.5h1m25.5 0h1m1 0h1M464 389h1m4.5 0h1m7.5 0h1m9.5 0h1m0.5 0h1M465 390h1m0.5 0h1m0 0h1m1 0h1m1.5 0h1M464 390.5h1m8 0h1m14 0h1m0.5 0h1m1.5 0h1M466.5 391h1m4 0h1m1 0h1m12 0h1M466 391.5h1m1 0h1m0.5 0h1m3.5 0h1m2 0h1M466.5 392h1.5m0.5 0h1m0.5 0h1m2 0h1m16 0h1M465 392.5h1m13 0h1M468 393h1m3.5 0h1m3 0h1m5.5 0h1m7 0h1M467 393.5h1m1.5 0h1m2 0h1m0 0h1m0 0h1m0.5 0h1M464 394h1m0.5 0h1m1.5 0h1m3.5 0h1m4.5 0h1m1 0h1m1.5 0h1m4 0h1M463.5 394.5h1m0.5 0h1m8.5 0h1m0.5 0h1m0 0h1m0 0h1M463 395h1m2 0h1m3.5 0h1m4.5 0h1M467.5 395.5h1m1 0h1m9 0h1m1.5 0h1m1.5 0h1M463.5 396h1m0.5 0h1.5m5.5 0h1m5 0h1m3 0h1m2 0h1m9 0h1M471.5 396.5h1m0 0h1m1 0h1m7 0h1m2 0h1M465 397h1m6 0h1m1.5 0h1m4 0h1m4.5 0h1M474.5 397.5h1m7.5 0h1M466 398h1m5 0h1m3 0h1m5.5 0h1m8.5 0h1M463.5 398.5h1m4.5 0h1m15.5 0h1m2.5 0h1M468 399h1m0.5 0h1.5m5 0h1m3 0h1M473 399.5h1m5 0h1m0.5 0h1m2.5 0h1M463.5 400h1m1 0h1M469 400.5h1M463 401h1m11 0h1m0 0h1m2.5 0h1M466 401.5h1m1 0h1M468 402.5h1m2.5 0h1m2 0h1m1 0h1m0.5 0h1M463.5 403h1m5.5 0h1m0 0h1m4.5 0h1m1.5 0h1m3 0h1M463.5 403.5h1m8.5 0h1m3 0h1m4.5 0h1M473 404h1m7.5 0h1m8 0h1M468 404.5h1m3 0h1m1.5 0h1m5.5 0h1M463.5 405h1m2 0h1m1.5 0h1m2.5 0h1M466 405.5h1m1 0h1.5m2 0h1M463 406h1m0 0h1.5m0.5 0h1m0.5 0h1m23 0h1M466 406.5h1m2 0h1m1 0h1m1 0h1m1 0h1M467 407h1m0 0h1m2.5 0h1M463 407.5h1m0 0h1m0 0h1m9.5 0h1m3 0h1M463.5 408h1m0.5 0h1m3 0h1m10.5 0h1M464.5 408.5h1" stroke="#777" stroke-width="1" fill="none"/>
<path d="M468 346.5h1m5 0h1M472 347h1M469.5 348h1m1 0h1M471 348.5h1m1.5 0h1m2.5 0h1M463.5 349h1m9.5 0h1M477 349.5h1M471.5 350h1m0.5 0h1m15.5 0h1M467 350.5h1m0 0h1m0 0h1m0 0h1.5m1 0h1m11.5 0h1m5 0h1M464.5 351h1m3 0h1m2 0h1.5m13 0h1m1 0h1M470 351.5h1.5m3 0h1m8 0h1m4 0h1m0.5 0h1M467.5 352h1m1.5 0h1m1.5 0h1m1.5 0h1m5.5 0h1m4.5 0h1m1.5 0h1M464.5 352.5h1m2.5 0h1m1.5 0h1m1.5 0h1m1.5 0h1m5 0h1m5.5 0h1m0 0h1M464 353h1m0 0h1m0.5 0h1m1.5 0h2m2 0h1.5m2.5 0h1m3.5 0h1m2 0h1m2.5 0h1m1.5 0h1M465.5 353.5h1m2 0h1m0 0h1m0.5 0h1m1.5 0h1.5m9.5 0h1m2.5 0h1m0.5 0h1M463.5 354h1m1 0h1m4.5 0h1.5m1 0h1m0.5 0h1m6.5 0h1m2 0h1m1 0h1m0 0h1m1 0h1M467.5 354.5h1m0.5 0h3m0 0h1.5m2.5 0h1m6 0h2m1 0h1.5m2 0h1M463 355h1.5m3 0h1m0 0h1m0.5 0h1m0 0h1m0 0h1.5m0 0h1m1 0h1m6 0h1m7.5 0h1M463.5 355.5h1m0 0h1m0.5 0h1.5m0 0h1m2 0h2.5m0 0h1.5m0 0h1m5 0h1m3 0h1m0.5 0h1m0.5 0h1m1 0h1.5M465.5 356h2.5m0 0h1.5m2 0h1m1 0h1.5m2.5 0h1m1.5 0h1m0.5 0h1m2.5 0h2.5m3 0h1M467 356.5h1m0 0h1m0 0h1.5m0 0h1.5m1 0h2.5m2.5 0h1m1 0h1.5m1.5 0h1m1 0h1m1 0h1.5m0.5 0h1m0 0h1.5M463 357h1m0 0h1m0.5 0h1m0 0h3.5m0.5 0h1m0 0h2m0 0h2m9 0h1m0 0h1m0.5 0h1m0.5 0h1.5m0 0h1.5M463.5 357.5h1.5m0 0h2.5m0 0h1m1 0h1m0 0h1m0 0h2m0 0h3m1.5 0h1m0.5 0h1m3 0h2m1 0h1.5m2 0h1M463 358h1m0 0h1m0.5 0h2.5m1 0h1.5m0 0h1.5m0 0h2.5m0 0h1.5m0.5 0h1m3 0h1m1 0h1.5m1.5 0h1m0.5 0h1.5m0.5 0h1m0 0h1M463.5 358.5h1m3 0h2m0 0h1.5m0.5 0h1m0 0h2.5m0 0h1m0 0h1m5.5 0h1.5m0.5 0h2m2.5 0h1m0 0h2M464 359h4m0 0h1.5m0 0h1m0 0h1.5m0 0h1.5m0.5 0h1.5m0.5 0h1m1.5 0h1m3 0h1.5m2 0h1.5m0 0h1m0 0h1m0 0h1.5M464 359.5h1m1 0h1.5m0 0h1m0.5 0h1.5m0 0h2.5m0.5 0h1.5m0 0h1m4.5 0h1m0 0h1m1 0h1m0 0h1.5m0 0h2m2.5 0h1M463 360h1m0.5 0h1m0.5 0h1.5m0 0h1.5m0 0h1m0 0h1.5m0 0h1.5m0 0h1m0 0h1.5m0 0h1m0 0h1m0 0h1m0.5 0h1m2 0h1m0.5 0h1m0.5 0h1m0.5 0h1.5m0.5 0h1m0 0h2.5M463 360.5h1.5m0 0h1m0 0h2m0 0h1m0.5 0h2.5m0.5 0h1m0.5 0h1.5m0 0h1m6.5 0h1m0 0h1m0 0h1m1.5 0h1.5m0 0h1m0 0h1.5M464.5 361h1.5m0.5 0h3m0 0h2.5m0.5 0h1m0 0h1m0 0h1m0.5 0h1m2 0h1.5m1 0h1.5m0 0h1m0 0h1m0 0h1.5m0 0h1m0 0h1.5m1.5 0h1M463 361.5h2.5m1 0h1.5m0 0h1m0 0h2m0 0h3.5m1 0h1m3 0h1m0 0h1m3 0h1.5m1.5 0h1m0.5 0h1.5m0 0h1.5M463.5 362h1m0 0h1m0 0h2m0 0h3m0 0h1m0 0h1m0 0h1.5m0 0h1m1 0h1m3.5 0h1m3.5 0h1m1.5 0h1.5m0.5 0h1m0.5 0h1M465 362.5h1.5m0 0h1m0 0h1m1 0h4m0 0h1.5m0 0h2m0 0h1m0.5 0h1m0 0h1m5.5 0h1m2.5 0h1m0 0h1M463.5 363h1m1 0h1m0.5 0h1.5m0 0h1.5m0 0h1.5m0 0h3m1 0h1m0.5 0h1.5m0 0h1m4.5 0h2m0 0h1m1.5 0h1.5m0 0h1m0 0h1M463 363.5h1.5m0 0h1m0 0h1m0 0h2.5m0 0h2.5m0.5 0h1.5m0 0h1m0.5 0h2m0 0h1m1.5 0h1.5m2 0h1m1.5 0h1m1 0h1m2.5 0h1M463 364h1.5m1 0h5m0 0h1m0 0h1.5m0 0h2m0 0h1m0 0h1m0 0h1m0.5 0h1m4.5 0h1m0 0h1m3.5 0h1m0 0h1M463 364.5h1m1.5 0h3m0 0h2m0.5 0h1m0 0h1m0 0h2.5m0.5 0h1m0 0h1m9 0h1.5M463 365h2m0.5 0h3m0 0h1.5m0 0h2.5m1.5 0h2.5m0 0h1.5M464 365.5h1m0.5 0h1m1.5 0h1.5m1 0h2.5m0.5 0h1m0 0h2.5m0 0h1m0 0h1m6 0h1M463.5 366h1m0 0h2m0 0h1m0 0h1m0 0h1.5m0 0h1.5m0 0h2.5m1 0h2M463 366.5h1m0.5 0h1m0 0h1m0 0h3m0 0h2m0.5 0h3m1 0h1.5m2 0h1M463.5 367h1m0 0h1m0 0h2m0.5 0h2m0.5 0h1m3 0h1.5m2 0h1m0 0h1M465 367.5h1.5m0 0h1m0 0h1.5m0.5 0h1m0.5 0h1.5m0 0h1m1.5 0h1m1 0h1.5M465 368h1m0 0h2m0 0h2.5m0 0h1.5m0.5 0h1.5m0.5 0h1m16.5 0h1M465.5 368.5h1m0 0h2m1.5 0h1m1 0h1m0 0h1m0.5 0h1m0 0h1.5M465.5 369h1.5m1.5 0h1m0.5 0h1.5m3 0h1.5m0.5 0h1m0 0h1m14.5 0h1M464.5 369.5h1m2 0h1.5m1.5 0h1.5m0.5 0h1m1 0h1m0 0h1m0 0h1m2 0h1m0 0h1m3 0h1M467 370h1m3 0h1m0.5 0h1.5m0 0h1m0.5 0h1m0 0h1M464 370.5h1m1.5 0h1m2 0h1.5m2.5 0h1M463 371h1m5.5 0h1m0 0h1m1.5 0h1m0.5 0h1m16.5 0h1M466.5 371.5h1m1.5 0h1m1 0h1m2 0h1m1 0h1M464 372h1m0.5 0h1m1 0h1m0 0h1m0 0h1m1 0h1m0 0h1m0.5 0h1m0.5 0h1M466 372.5h1m0.5 0h1m2 0h1m1 0h1M465 373h1m1 0h1m0.5 0h1m0 0h1m1.5 0h1m1.5 0h1M465 373.5h1m1.5 0h1m0.5 0h1m6 0h1M464 374h1m3 0h1M467 374.5h1m1 0h1m4 0h1M468 375h1m7.5 0h1M472.5 375.5h1m0.5 0h1M463.5 376h1m2.5 0h1m0.5 0h1m1.5 0h1m2 0h1M467 376.5h1m6.5 0h1M469 377h1m0.5 0h1M466 377.5h1m1.5 0h1m1 0h1m0 0h1M465 378h1m3 0h1m0 0h1m0.5 0h1m0.5 0h1m3 0h1m2.5 0h1M465 378.5h1.5m1 0h1m0.5 0h1m4 0h1M464.5 379h1m0 0h1.5m0 0h1m2 0h1m7 0h1M475.5 379.5h1m1.5 0h1M464.5 380h1m1 0h1M463.5 380.5h1m2 0h1m1.5 0h1m2 0h1M465 381h2m1 0h1m0 0h1.5m0 0h1M464.5 381.5h1m3.5 0h1.5m2 0h1m5 0h1M469.5 382h1m1.5 0h1m12.5 0h1M468 382.5h1m2 0h1m13.5 0h1m1 0h1m5 0h1M466 383h1M464.5 383.5h1m0 0h1.5m0.5 0h1m4 0h1M467 384h1m2.5 0h1M467 384.5h1m0 0h1m1 0h1m1 0h1m14.5 0h1M464 385h1m2.5 0h1m4.5 0h1M464.5 385.5h1m0 0h1m1.5 0h1m6.5 0h1M470 386h1m0 0h1m11 0h1m2.5 0h1M473 386.5h1m10 0h1m1 0h1m3 0h1M468 387h1m0 0h1m0 0h1m1 0h1m18 0h1M469.5 387.5h1m11 0h1m5 0h1m4.5 0h1M466.5 388h1m0 0h1m2.5 0h1m0 0h1.5m7 0h1m4.5 0h1m0.5 0h1m4.5 0h1M467 388.5h1m1.5 0h1m0.5 0h1m1.5 0h1m1.5 0h1m10 0h1m0.5 0h1m2 0h1M465.5 389h1m0.5 0h1m0.5 0h1m1 0h1.5m0 0h1m6 0h1m4 0h1m2.5 0h1m4 0h1M464.5 389.5h1m1.5 0h1m3.5 0h2m12 0h1m1 0h1.5m2 0h1.5M463 390h1.5m1.5 0h1m0 0h1m1 0h1m0 0h1.5m6.5 0h1m5 0h1m4 0h1m1 0h1m1 0h1M464.5 390.5h1m0 0h1.5m0 0h1.5m1.5 0h1m1.5 0h1m2 0h1m10.5 0h1m4.5 0h1m2.5 0h1M465 391h1m3 0h2m0 0h1m0 0h1m0 0h1m0.5 0h1m8.5 0h1.5m0 0h1m2 0h1m0 0h1M463.5 391.5h1m0.5 0h1m0.5 0h1m0 0h1m0 0h1m1.5 0h1m0 0h1m1.5 0h1.5m6.5 0h1m0 0h1.5m0 0h2m0 0h1m0 0h1m4.5 0h1M464 392h1.5m0 0h1m2.5 0h1.5m1 0h2m0 0h1m0 0h1m0.5 0h1m2.5 0h1.5m0 0h1.5m2.5 0h1.5m0 0h1m6 0h1M464 392.5h1m0.5 0h2.5m0 0h1m0 0h2m1 0h1.5m1 0h1.5m3.5 0h1m0 0h1m1.5 0h1m0 0h1m0 0h1m0.5 0h1m0 0h2m4 0h1M463 393h1m1 0h2.5m1.5 0h1.5m0 0h2m2.5 0h1m1 0h1.5m2 0h1m0 0h1.5m1.5 0h1m1.5 0h1m2.5 0h1M463.5 393.5h2.5m0.5 0h1m0 0h1m0 0h1m0.5 0h1m0 0h1m0 0h1m0 0h1m1 0h1m5 0h1.5m3 0h1M463 394h1.5m0 0h1.5m0.5 0h1m1 0h1m0 0h1.5m0 0h2m1 0h1m0 0h1.5m1 0h1m0.5 0h1m4 0h1m3.5 0h1m0 0h1m2.5 0h1.5M464.5 394.5h1m0 0h3.5m0 0h1.5m0 0h1.5m0.5 0h2m10 0h1.5m0 0h1m1.5 0h1M463.5 395h2.5m1 0h4m0 0h1m0 0h2m9.5 0h2m0.5 0h1m2 0h1m4.5 0h1M463.5 395.5h1m0 0h1.5m0 0h1.5m0.5 0h2m0 0h1m0.5 0h1.5m0 0h3m2 0h1m4.5 0h1.5m0 0h1m1.5 0h1m0.5 0h1m0 0h1.5M463 396h1m2 0h1m0.5 0h1m1 0h1m0.5 0h1m0.5 0h1m0.5 0h2m0 0h1.5m11 0h1M463.5 396.5h1m0 0h1.5m0 0h1m0 0h1m0.5 0h1m0 0h1.5m1 0h1m0 0h1m5 0h1m3 0h1.5m1.5 0h1m1 0h1M463.5 397h1m0 0h1m0 0h2.5m0 0h1m1 0h2.5m0 0h1m0 0h1m10 0h1m1 0h1m2.5 0h1m0.5 0h1m1 0h1M463.5 397.5h1m0 0h1m0 0h2m0 0h1m0 0h3.5m0 0h1m0 0h2m0 0h1.5m0 0h2m2 0h1M463 398h1.5m0 0h2m0 0h2.5m0 0h3.5m0 0h1m0 0h1.5m0 0h1m4 0h1m1 0h1m1 0h1m0 0h1m1 0h1M465 398.5h1m0 0h2m0 0h1.5m0 0h2.5m0 0h1.5m0 0h1m0 0h1m0.5 0h1m1.5 0h1m8 0h1m1 0h1M463.5 399h1.5m0 0h2.5m1 0h1.5m0.5 0h1m0 0h1m0 0h2m0.5 0h1m0.5 0h1m7 0h1m1.5 0h1M464 399.5h1.5m0 0h1m0.5 0h1m0.5 0h1m0 0h1m0 0h2.5m3 0h1.5m4 0h1m2.5 0h1m4 0h1M463 400h1m1 0h1m0 0h1m1.5 0h1m0 0h4m0 0h1m1 0h1m10 0h1M463 400.5h1.5m0 0h2.5m0.5 0h2m0 0h1m0 0h2m0 0h2.5m0 0h1m0 0h1m0.5 0h1m0 0h1m3 0h1m0 0h1m4.5 0h1m1 0h1m0 0h1M463.5 401h1.5m0 0h1.5m0 0h1.5m0 0h1m0 0h3.5m0 0h2m1 0h1m1.5 0h1m2 0h1m0.5 0h1m2.5 0h1M463.5 401.5h1m0 0h1m0 0h1m0 0h2m0.5 0h1m0 0h2m0 0h1.5m1.5 0h1m0 0h1m2 0h1M463 402h3.5m0 0h5m0.5 0h1m0 0h1m0 0h2M463 402.5h1m1.5 0h1m0 0h1m0 0h1m0.5 0h1m0 0h1m0 0h1m0 0h1.5m3.5 0h1m0.5 0h1m0 0h1M464 403h1m0 0h1m1 0h1.5m0.5 0h1.5m1 0h1.5m0 0h2m0 0h1.5M463 403.5h1m1 0h3m0 0h1m0.5 0h1.5m0 0h1.5m0 0h1m0 0h1.5m0.5 0h1m2 0h1M463 404h1m1 0h1m1.5 0h1m0.5 0h2m0 0h1.5m2 0h1m0 0h1m2.5 0h1m6 0h1M464 404.5h2.5m0.5 0h1.5m0 0h1.5m1 0h1m1.5 0h1m0.5 0h1m0.5 0h1.5m0.5 0h1M464 405h3m1.5 0h1m0 0h2.5m1 0h1m1 0h2.5M463 405.5h1m0 0h1m0 0h1.5m2.5 0h2m0 0h1m0.5 0h1m0 0h3m0 0h1m12.5 0h1M463.5 406h1m2.5 0h1m0.5 0h1m0.5 0h1m0 0h1m0 0h1m1.5 0h1m0.5 0h1M463.5 406.5h1m0.5 0h1.5m0 0h1m1 0h1m0 0h1m0 0h1m1 0h1m0 0h1.5m2 0h1M466.5 407h1m0 0h1m1 0h1.5m0 0h1m2.5 0h1.5m1 0h1M464.5 407.5h1m1.5 0h2m0.5 0h1.5m0.5 0h1.5m0.5 0h1M464 408h1.5m0 0h1m1 0h1.5m1.5 0h1.5m1 0h1m0.5 0h1m0.5 0h1.5m0.5 0h1M467 408.5h1m1 0h2m0 0h1m0 0h2.5m0.5 0h1m1 0h1m1.5 0h1" stroke="#1a1a1a" stroke-width="1" fill="none"/>
<rect x="462.5" y="345.4" width="50.8" height="63.5" fill="none" stroke="#222" stroke-width="0.9"/>
<path d="M462.5 345.4V408.9H513.3" fill="none" stroke="#111" stroke-width="1.2"/>
<path d="M480.3 345.4V408.9M462.5 383.5H513.3" stroke="#444" stroke-width="0.8"/>
<path d="M505.6 345.4V363.8M498.7 355.9H512.7" stroke="#111" stroke-width="0.9"/>
<g font-size="5.1" font-weight="bold" text-anchor="middle" fill="#222">
<text x="501.8" y="352.6">53</text>
<text x="509.2" y="352.6">7</text>
<text x="501.8" y="361.3">38</text>
<text x="509.2" y="361.3">2</text>
</g>
<g font-size="4" fill="#555">
<text transform="translate(459.5 408.9) rotate(-90)" text-anchor="middle">10<tspan font-size="2.6" dy="-1.2">0</tspan></text>
<text transform="translate(459.5 393.02) rotate(-90)" text-anchor="middle">10<tspan font-size="2.6" dy="-1.2">1</tspan></text>
<text transform="translate(459.5 377.15) rotate(-90)" text-anchor="middle">10<tspan font-size="2.6" dy="-1.2">2</tspan></text>
<text transform="translate(459.5 361.27) rotate(-90)" text-anchor="middle">10<tspan font-size="2.6" dy="-1.2">3</tspan></text>
<text transform="translate(459.5 345.4) rotate(-90)" text-anchor="middle">10<tspan font-size="2.6" dy="-1.2">4</tspan></text>
</g>
<path d="M461.3 408.9h1.8M462.5 408.9v1.8M461.3 404.12h1.2M466.32 408.9v1.2M461.3 401.33h1.2M468.56 408.9v1.2M461.3 399.34h1.2M470.15 408.9v1.2M461.3 397.8h1.2M471.38 408.9v1.2M461.3 396.55h1.2M472.38 408.9v1.2M461.3 395.48h1.2M473.23 408.9v1.2M461.3 394.56h1.2M473.97 408.9v1.2M461.3 393.75h1.2M474.62 408.9v1.2M461.3 393.02h1.8M475.2 408.9v1.8M461.3 388.25h1.2M479.02 408.9v1.2M461.3 385.45h1.2M481.26 408.9v1.2M461.3 383.47h1.2M482.85 408.9v1.2M461.3 381.93h1.2M484.08 408.9v1.2M461.3 380.67h1.2M485.08 408.9v1.2M461.3 379.61h1.2M485.93 408.9v1.2M461.3 378.69h1.2M486.67 408.9v1.2M461.3 377.88h1.2M487.32 408.9v1.2M461.3 377.15h1.8M487.9 408.9v1.8M461.3 372.37h1.2M491.72 408.9v1.2M461.3 369.58h1.2M493.96 408.9v1.2M461.3 367.59h1.2M495.55 408.9v1.2M461.3 366.05h1.2M496.78 408.9v1.2M461.3 364.8h1.2M497.78 408.9v1.2M461.3 363.73h1.2M498.63 408.9v1.2M461.3 362.81h1.2M499.37 408.9v1.2M461.3 362h1.2M500.02 408.9v1.2M461.3 361.27h1.8M500.6 408.9v1.8M461.3 356.5h1.2M504.42 408.9v1.2M461.3 353.7h1.2M506.66 408.9v1.2M461.3 351.72h1.2M508.25 408.9v1.2M461.3 350.18h1.2M509.48 408.9v1.2M461.3 348.92h1.2M510.48 408.9v1.2M461.3 347.86h1.2M511.33 408.9v1.2M461.3 346.94h1.2M512.07 408.9v1.2M461.3 346.13h1.2M512.72 408.9v1.2" stroke="#555" stroke-width="0.4"/>
<g font-size="5.1" fill="#1a1a1a" text-anchor="middle">
<text x="463.7" y="417.2">10<tspan font-size="3.4" dy="-1.8">0</tspan></text>
<text x="476.4" y="417.2">10<tspan font-size="3.4" dy="-1.8">1</tspan></text>
<text x="489.1" y="417.2">10<tspan font-size="3.4" dy="-1.8">2</tspan></text>
<text x="501.8" y="417.2">10<tspan font-size="3.4" dy="-1.8">3</tspan></text>
<text x="514.5" y="417.2">10<tspan font-size="3.4" dy="-1.8">4</tspan></text>
</g>
<path d="M449.5 357.4V368M449.5 393.9V404.2" stroke="#111" stroke-width="0.9"/>
<path d="M449.5 354.4l1.5 4.2h-3z" fill="#111"/>
<text transform="translate(452.4 380.95) rotate(-90)" font-size="8" text-anchor="middle">CD11b</text>
<path d="M388 421.5h1.5m1 0h1.5m0.5 0h1M384 422h1m6 0h1m8.5 0h1m2 0h1m1.5 0h1M388 422.5h1m1.5 0h1m9 0h1m3 0h1.5m3 0h1M385 423h1.5m2 0h1m2 0h1m1 0h1M387 423.5h1m0.5 0h1m11 0h1m0.5 0h1m2.5 0h1m1 0h1M385 424h1m2 0h1m10 0h1m0.5 0h1m1 0h1M389.5 424.5h1m5.5 0h1m8 0h1M384.5 425h1m8.5 0h1m4 0h1.5m0.5 0h1M390.5 425.5h1m4 0h1m1.5 0h1M387 426h1m4.5 0h1m9 0h1m3.5 0h1M384 426.5h1m22 0h1M388 427h1m5 0h1m2.5 0h1M406 427.5h1m0 0h1M386 428h1m6.5 0h1.5m1.5 0h1m0.5 0h1m0 0h1m6.5 0h1M386.5 428.5h1.5m6.5 0h1m1 0h1m0 0h1m10.5 0h1M385 429h1.5m3.5 0h1m7 0h1m3.5 0h1m6 0h1M385.5 429.5h1.5m11.5 0h1m2 0h1m5.5 0h1M388.5 430h1m3 0h1m2.5 0h1m7.5 0h1m3 0h1m0.5 0h1M385 430.5h1m7 0h1m0.5 0h1m3.5 0h1M386 431h1m4 0h1m1.5 0h1m2 0h1m0 0h1.5m6.5 0h1M385.5 431.5h1m2.5 0h1m5 0h1m1 0h1M384 432h1m12 0h1m1.5 0h1m0 0h1m8 0h1m0 0h1M386.5 432.5h1m0.5 0h1m19.5 0h1M400 433h1M393.5 433.5h1.5m0.5 0h1M384 434h1m0 0h1m0 0h1m2.5 0h1M392 434.5h1m3 0h1.5M384 435h1m1 0h1m11 0h1m1.5 0h1m0 0h1M385 435.5h1.5m1.5 0h1m2.5 0h1m2 0h1m0 0h1m1.5 0h1m1.5 0h1M386 436h1m2.5 0h1m4 0h1m2.5 0h1M386 436.5h1m3 0h1m3.5 0h1m3 0h1m1 0h1M385 437h1m3 0h1m1.5 0h1m0.5 0h1m11.5 0h1M389.5 437.5h1m2 0h2m4.5 0h1M387 438h1m1 0h1m4.5 0h1m9 0h1M396.5 438.5h1M395 439h1M386 439.5h1.5m4.5 0h1m2.5 0h1M387 440h1m2.5 0h1m0 0h1M385.5 440.5h1.5m3.5 0h1m4 0h1m7 0h1M385 441h1.5m0 0h1m0.5 0h1.5m4.5 0h1m4 0h1M384 441.5h1m1 0h1m4.5 0h1m1.5 0h1M391.5 442h1m0 0h1m7 0h1M388 442.5h1m3 0h1m9.5 0h1M384.5 443.5h1m0 0h1.5m0 0h1m0.5 0h1m6.5 0h1M396.5 444h1m2.5 0h1M386 444.5h1m0 0h1m3.5 0h1m0.5 0h1m4 0h1M384 445h1m0 0h1m1 0h1m5.5 0h1m13 0h1M384 445.5h1m2 0h1m9.5 0h1m2 0h1M385 446h1m0 0h1m12 0h1m11.5 0h1M397 446.5h1M384.5 447h1m12 0h1M384 447.5h1m10.5 0h1M397 448h1m1 0h1M388 448.5h1.5m2 0h1M385 449h1m2 0h1m5 0h1.5m11 0h1M384.5 449.5h1m0 0h1m2.5 0h1m6 0h1m3.5 0h1M384 450h1M388 450.5h1m3.5 0h1M390.5 451h1m9.5 0h1m0 0h1M385 451.5h1.5m7.5 0h1.5m3 0h1M384 452h1m3.5 0h1m7 0h1M396 452.5h1M385 453h1m12.5 0h1M391 453.5h1m1 0h1m0 0h1m3.5 0h1m1 0h1m2 0h1M390 454h1m2 0h1M386.5 454.5h1m4.5 0h1m10.5 0h1M387 455h1m5.5 0h1m1.5 0h1m0.5 0h1.5m7 0h1M387 455.5h1m0 0h1m7 0h1M384.5 456h1m2 0h1m1.5 0h1m4 0h1M393 456.5h1m1.5 0h1m0.5 0h1m6 0h1m3 0h1M386.5 457h1m4 0h1m1.5 0h1m0 0h1m0 0h1m2 0h1m0.5 0h1m0.5 0h1M386.5 457.5h1m0 0h1m3 0h1m1.5 0h1M384 458h1m1 0h1m5 0h1m0.5 0h1m10.5 0h1M386 458.5h1m2.5 0h1m0.5 0h1m4 0h1M388.5 459h1m0 0h1m5.5 0h1m8.5 0h1M388 459.5h1m12 0h1M388 460h1m0.5 0h1m2 0h1m2 0h1m2 0h1m2 0h1m4.5 0h1M386.5 460.5h1m5 0h1m5 0h1M392 461h1m7.5 0h1m7.5 0h1M390.5 461.5h1m3.5 0h1m0.5 0h1M389.5 462h1m4 0h1m3 0h1m1 0h1m3.5 0h1M392.5 462.5h1m2 0h1M401.5 463h1M408.5 463.5h1M387 464h1m4 0h1m0.5 0h1m2 0h1m4.5 0h1m2 0h1M384 464.5h1m0.5 0h1m6.5 0h1.5m16 0h1M385.5 465h1m3.5 0h1m2 0h1m1 0h1m1.5 0h1m2 0h1m3.5 0h1.5m8 0h1m4 0h1M385 465.5h1m3.5 0h1m6 0h1M393 466h1m2.5 0h1m1.5 0h1m2.5 0h1m4 0h1m1 0h1m2.5 0h1M384 466.5h1.5m22 0h1m2 0h1M384 467h1m26.5 0h1M391.5 467.5h1m0.5 0h1m1.5 0h1.5m11.5 0h1m6.5 0h1m0.5 0h1M386 468h1m0.5 0h1m0 0h1m3 0h1m5.5 0h1.5m1.5 0h1m1 0h1m0 0h1m4 0h1m1 0h1M391.5 468.5h1m0 0h1M385.5 469h1m6 0h1m5.5 0h1M395.5 469.5h1m1.5 0h1m2.5 0h1m7 0h1m4 0h1M384.5 470h1m7.5 0h1m4.5 0h1m1 0h1m8 0h1M386 470.5h1m3.5 0h1m0.5 0h1m2 0h1m0.5 0h1m1 0h1.5m0.5 0h1m4 0h1m0 0h1.5M384 471h1m0 0h1.5m4.5 0h1m0 0h1m0 0h1m0.5 0h1m0 0h1m14.5 0h1M384.5 471.5h1m0 0h1.5m0 0h1m3 0h1M384.5 472h1m6 0h1.5m12.5 0h1m1 0h1m8.5 0h1M384 472.5h1m9.5 0h1m0.5 0h1.5m9 0h1m0 0h1m1 0h1m0 0h1M385 473h1.5m12.5 0h1m8 0h1M384.5 473.5h1m1 0h1m2 0h1.5m3 0h1.5m3.5 0h1m0.5 0h1m0 0h1M385 474h1m3.5 0h1m10.5 0h1m4.5 0h1M384 474.5h1m15 0h1m0 0h2m2 0h1m1.5 0h1M394.5 475h1M386 475.5h1m0.5 0h1m0 0h1m0.5 0h1.5m0 0h1m10.5 0h1m5 0h1M387.5 476h1m1 0h1m0.5 0h1.5m0.5 0h1m0 0h1.5m4.5 0h1m0 0h1M388.5 476.5h1.5m12 0h1M384.5 477h1m5.5 0h1m0.5 0h1m8 0h1M386 477.5h1.5m1 0h1m1.5 0h1m19 0h1M385 478h1m3.5 0h1m2.5 0h1m0.5 0h1m13.5 0h1M385 478.5h1m4 0h1m0.5 0h1m2 0h1m0.5 0h1M387.5 479h1m6.5 0h1m2 0h1m0 0h1m2 0h1m0 0h1M392 479.5h1m5 0h1m5 0h1M394.5 480h1m0 0h1m0 0h1M385 480.5h1m2.5 0h1m1.5 0h1m7 0h1m2 0h1m1 0h1M393.5 481h1m3.5 0h1M384 481.5h1m3.5 0h1m2 0h1m0 0h1m0.5 0h1m4.5 0h1M386 482h1m1 0h1m7 0h1M384.5 482.5h1m9.5 0h1m0.5 0h1M405 483h1" stroke="#777" stroke-width="1" fill="none"/>
<path d="M385.5 421.5h1m3 0h1.5m2 0h2.5m2 0h1.5m6 0h2m0.5 0h1M385.5 422h1m0 0h1m0 0h1m0 0h1.5m0.5 0h1m0 0h3m2 0h1m0.5 0h1m1 0h1m0.5 0h1m0 0h1.5m0 0h1m1.5 0h1.5m0 0h1m0 0h2m0.5 0h1M385 422.5h3.5m0 0h1.5m0 0h1m0.5 0h1m1 0h2m1.5 0h1.5m2.5 0h1m0 0h1m1 0h1m1.5 0h3m1 0h1M384.5 423h1m1 0h1m1.5 0h1m0 0h2m0 0h1m0 0h1m0.5 0h1m0 0h1m1 0h1m0 0h1m4 0h1.5m3 0h1m1 0h1M384.5 423.5h2m1 0h1m1 0h2m0 0h2.5m0.5 0h1.5m6.5 0h1m1.5 0h1m4 0h1.5m0 0h1M385.5 424h1m0.5 0h1.5m0.5 0h2m0 0h2m0 0h1m1 0h1m0 0h1.5m2 0h1m1.5 0h1m0.5 0h1.5m0 0h1.5m0 0h2m0.5 0h2m0.5 0h1.5M384 424.5h2.5m0 0h3m0.5 0h2.5m0.5 0h1m0 0h2.5m5 0h1m0 0h1m0 0h1m1 0h1m0.5 0h1m0.5 0h1.5m0 0h1.5M386.5 425h1m1.5 0h2m0 0h3m1 0h1m0.5 0h1.5m0 0h1m1.5 0h1m1 0h2m0 0h1m0 0h1m0 0h1m0.5 0h1m0 0h1.5m0.5 0h1M384 425.5h1m0 0h1m0 0h1m0 0h1m0 0h1m0 0h2m0.5 0h4.5m1.5 0h1m0.5 0h1m1 0h2.5m1 0h1m0 0h1m0 0h1m1 0h2.5m0 0h1.5M384.5 426h1.5m0 0h1.5m0 0h2m1 0h2m0.5 0h1m0 0h1m0.5 0h1.5m1.5 0h1m1.5 0h1.5m1 0h1m0.5 0h2.5m0 0h2m0 0h1m0 0h1M385.5 426.5h1.5m0 0h2m0 0h2.5m0 0h1m0 0h1m0 0h3m0 0h1.5m0 0h1.5m0 0h1m1 0h2m2 0h1m1 0h1m0 0h1m0 0h1m0 0h1M384 427h1m0 0h2.5m0 0h1m0 0h1m0 0h3m0 0h1.5m2 0h1.5m1 0h1m1.5 0h1m1.5 0h1m4 0h1m1.5 0h1M384 427.5h1.5m0.5 0h1m0.5 0h3.5m0 0h7m3 0h1.5m0 0h1m1 0h1m1 0h1m0 0h2m0 0h1.5m0.5 0h1M384 428h1m0 0h1m0.5 0h1m1 0h2.5m0 0h2m0 0h1m3 0h1.5m1 0h1m1 0h1.5m1 0h1m0 0h2m0.5 0h1m1 0h1m0 0h1M384.5 428.5h2m1 0h2m0 0h1.5m1.5 0h2.5m0 0h2m2 0h1m2 0h1m0 0h1m0 0h1m0.5 0h2m0 0h1m2.5 0h1M384 429h1m1 0h1m0 0h1m0 0h1m0 0h1.5m0 0h2m0 0h3m0.5 0h1m0 0h1m5 0h1m0 0h1m2.5 0h1m2 0h1M386.5 429.5h1m0 0h1m0 0h2m0 0h3m0 0h1m0 0h3.5m2 0h1.5m1 0h1m0.5 0h1m2 0h1.5m1.5 0h1m0.5 0h1M384 430h1m0.5 0h1m1 0h1m1 0h3.5m0.5 0h2m7 0h2.5m1.5 0h1.5m1 0h1.5M384 430.5h1m1 0h2m0 0h1m0 0h1m0.5 0h3m0 0h1.5m0 0h1.5m1 0h1m1.5 0h1m0 0h1m1 0h1.5m3 0h1m1.5 0h1.5M384.5 431h1m1 0h3m0 0h1m0 0h1m0 0h2.5m1 0h2m0 0h1m6.5 0h1.5m0.5 0h1.5M384 431.5h1m1.5 0h3m0 0h1m0 0h3.5m0 0h1m1.5 0h1m3 0h1m0 0h1m3 0h1m0.5 0h1m0.5 0h1M384.5 432h1m0 0h1m1 0h1.5m0 0h1.5m0.5 0h3m0 0h1.5m0 0h2m3.5 0h1m0 0h1m2 0h1M384 432.5h1m0.5 0h1m1 0h1m0 0h1m0 0h1m0.5 0h1.5m0 0h1m0 0h2.5m0.5 0h1.5m4.5 0h1m3.5 0h1m0 0h1m0 0h1.5M384 433h1m0 0h1.5m0 0h4.5m0 0h1.5m0 0h1m0 0h2m0 0h1.5m2 0h1m0.5 0h1m5.5 0h1m2.5 0h1M384.5 433.5h1m1.5 0h1m0.5 0h1.5m0 0h1.5m0.5 0h2m2.5 0h2m0 0h2m5.5 0h1m0.5 0h1m2.5 0h1M384.5 434h1m1 0h2.5m0 0h1m0 0h1m1 0h2m0 0h1m0 0h1m12.5 0h1M384 434.5h1m0 0h1m0.5 0h2m0 0h1m0 0h3m0 0h1.5m0 0h2m2 0h1m3.5 0h1M385.5 435h1m0 0h2m1.5 0h1m0 0h1m0 0h1m0 0h1m0 0h2m0.5 0h1M384 435.5h1.5m3 0h1m0 0h2.5m0 0h1.5m0.5 0h1m0 0h1m1.5 0h1M384.5 436h1m1.5 0h2m1.5 0h1.5m0 0h1m0 0h2m2.5 0h1m1 0h1m1 0h1M385 436.5h1m1.5 0h1m0.5 0h1.5m0.5 0h1.5m3 0h1M385.5 437h1m0.5 0h1m0 0h1m0.5 0h1m0 0h1m0.5 0h1m2.5 0h1.5m0 0h1m4.5 0h1M387.5 437.5h1m1.5 0h1.5m0 0h1m9 0h1M388.5 438h1m0 0h1m0 0h1m1.5 0h1m0 0h1m0.5 0h1m2.5 0h1m0 0h1M386 438.5h1.5m0 0h1m2.5 0h1m2 0h1.5m0 0h1m2 0h1M385.5 439h1.5m0 0h1.5m0 0h1m0.5 0h1m0 0h1.5m0.5 0h1m0 0h1m0.5 0h1M387.5 439.5h1.5m0 0h1m0 0h1.5m0 0h1m0 0h1m1 0h1M385 440h1m2.5 0h1m2.5 0h1m1 0h1m1 0h1M384 440.5h1m0 0h1m1.5 0h1m0 0h1m0 0h1m0.5 0h1m0 0h1m1.5 0h1m4 0h1M389.5 441h1m0 0h1m1 0h1.5m0.5 0h1m1 0h1M384.5 441.5h1.5m1.5 0h1m0 0h1m3.5 0h1m1 0h1m0.5 0h1m0 0h1.5M385.5 442h2m0.5 0h1m6 0h1m0.5 0h1M387.5 442.5h1m0 0h1.5m0 0h1m0.5 0h1m0.5 0h1m0.5 0h2m2 0h1m1 0h1M385.5 443h1m2.5 0h1m1 0h1.5m2 0h1m1 0h1M386.5 443.5h1m0.5 0h1m1 0h1.5m0 0h1m1.5 0h1M387.5 444h1m0 0h1m0 0h1m3.5 0h2m3 0h1.5m1 0h1M385.5 444.5h1m1 0h1.5m0.5 0h1m2 0h1m6.5 0h1m1.5 0h1M386.5 445h1m0 0h1m1 0h1m1 0h1m3.5 0h1.5M385.5 445.5h1m2 0h1m0 0h1.5m0 0h1m2 0h1m2 0h1M387 446h1.5m2 0h2m2 0h1M384 446.5h1m0 0h1m2.5 0h1m0 0h2m0 0h1.5m0.5 0h2M384 447h1m1 0h1.5m1 0h2.5m1 0h1m0 0h1m0.5 0h1m1.5 0h1M387 447.5h1.5m0 0h2m0.5 0h1m0 0h1m0.5 0h1m0.5 0h1m1 0h1m0.5 0h1.5M385 448h2m0 0h1m1 0h1m2 0h1m1 0h1.5m0 0h2m2 0h1M386 448.5h1.5m2 0h2.5m0 0h2m0 0h1m0 0h1m0.5 0h1m1.5 0h1m2.5 0h1m0.5 0h1M384 449h1m1 0h1.5m1 0h1m0 0h1m0 0h1.5m0 0h1m0 0h1.5m1 0h1.5M384 449.5h1m1.5 0h1m0 0h1m1 0h5m0 0h1m3 0h1M384.5 450h1m1.5 0h1m1.5 0h4m1 0h2.5m0 0h1m2 0h1M384.5 450.5h1m2 0h1m0 0h3m0 0h1m0.5 0h2m0.5 0h1M384 451h1m0.5 0h1.5m0 0h1m0 0h1m0.5 0h1m1 0h1m0 0h1M387.5 451.5h1.5m0 0h1m0.5 0h1m0 0h1m0 0h1m1.5 0h1M385 452h1m3 0h2m1 0h1m0.5 0h1.5m2 0h1m1 0h1m0 0h1M384.5 452.5h1m0.5 0h1.5m0.5 0h2m0.5 0h1m2 0h1.5m2 0h1.5M387.5 453h1.5m1.5 0h2.5m2.5 0h1.5M384.5 453.5h1m0 0h2m2 0h1.5m1 0h1m0.5 0h1m0 0h1m1 0h1.5m1.5 0h1M384 454h1m2.5 0h1m0 0h1m1 0h1m2 0h1M386 454.5h1m0.5 0h1.5m0 0h1m0.5 0h1m1 0h1m1 0h2.5m1 0h1M385.5 455h1m0 0h1m1.5 0h1.5m0.5 0h1m0 0h1.5m0.5 0h1.5m4.5 0h1m0.5 0h1m6.5 0h1M385 455.5h1m0 0h1.5m1 0h2m1.5 0h1.5m0 0h1.5m0 0h1.5m1 0h1m4 0h1M386 456h1m5 0h1.5m2 0h1m0.5 0h1m0.5 0h1m14.5 0h1M388 456.5h1m0.5 0h1.5m0 0h1.5m0 0h1m15 0h1m2.5 0h1M384 457h1m2.5 0h2m0.5 0h1m1.5 0h1m2 0h1m0 0h1m1 0h1m2 0h1m6.5 0h1m0.5 0h1M385 457.5h1m0 0h1m1.5 0h1m3 0h1.5m0.5 0h1m0 0h2m11 0h1M387.5 458h1m0 0h1m0.5 0h1m0 0h1m0.5 0h1.5m2 0h1.5m10.5 0h1M384.5 458.5h1m0 0h1m0.5 0h1.5m0.5 0h1m0.5 0h1m1 0h2.5m0.5 0h1m5 0h1.5M384 459h1m0 0h1m5 0h3m1.5 0h1m0.5 0h1m0.5 0h1.5m4.5 0h1M384.5 459.5h1m0 0h1m1 0h1m0 0h2m0 0h1m0 0h1m0.5 0h1.5m12.5 0h1m4 0h1.5M384 460h1m1.5 0h1.5m3 0h1.5m2 0h1.5m0.5 0h1m0 0h1m0.5 0h1m2.5 0h1m0.5 0h1m10.5 0h1M384.5 460.5h1.5m1 0h1m1 0h2.5m0 0h1.5m1 0h1m0 0h2.5m2.5 0h1.5m0 0h1m1 0h1M384 461h1m0 0h1m0.5 0h2m0.5 0h2m1.5 0h2m0.5 0h1.5m6.5 0h1m0.5 0h1m1.5 0h1m6 0h1M386 461.5h1.5m0 0h2m0 0h1m1 0h3.5m0.5 0h1m1 0h1m0 0h1.5m6.5 0h1m0 0h1m1 0h1.5m1.5 0h1M384 462h1m0 0h1m0 0h1m1.5 0h1m0.5 0h1.5m0 0h1m0 0h1m0 0h1.5m1 0h1m0 0h1m9 0h1M384 462.5h1m0 0h1m0 0h1m0.5 0h1m2 0h1m0 0h1.5m1 0h2m1.5 0h3m3 0h1m3.5 0h1M386.5 463h1.5m0 0h1m0 0h2m0 0h1.5m0.5 0h1m1.5 0h1m3 0h1.5m8 0h1.5m0.5 0h1M384 463.5h1m2 0h1m1 0h1m0 0h2.5m0 0h1m0.5 0h2m0 0h1m1 0h1m0 0h1m1.5 0h1m1.5 0h1m2 0h1.5M385.5 464h2m0 0h1m0 0h2.5m0 0h1m0.5 0h1.5m1.5 0h1.5m0 0h1m3 0h1.5m3.5 0h2.5m0 0h1M386 464.5h3m0 0h1.5m0 0h1m0 0h2m0.5 0h2m0 0h1m10.5 0h1M385 465h1m1.5 0h3m0 0h2.5m0.5 0h1.5m2 0h1m1 0h1m2 0h1m1 0h1m2 0h1m0 0h1m0.5 0h1M386 465.5h1.5m0 0h2m0.5 0h1m0 0h1m0 0h1m0 0h2m0 0h1m0 0h1m0.5 0h1m6 0h1m1 0h1m0 0h1m0 0h2.5m0 0h1m0 0h1m1 0h1M384.5 466h2m0 0h1m0.5 0h1m0.5 0h4m0 0h1.5m1 0h1m0 0h2m1.5 0h1m3.5 0h1m2 0h1m6.5 0h1M385 466.5h1.5m0 0h1m0.5 0h1.5m0 0h1.5m0 0h2m0 0h1m1.5 0h1m1.5 0h1m1 0h1m1 0h1.5m0.5 0h1m0.5 0h1m3 0h1.5m1 0h1M384.5 467h1m0 0h1m0 0h1m0 0h1m0 0h4m0 0h1m0.5 0h1.5m0 0h1.5m0 0h1m0.5 0h1.5m0 0h1m0.5 0h1m0 0h1m0 0h1.5m0 0h2m0.5 0h1m1.5 0h1m0 0h1m5 0h1M384 467.5h1m0.5 0h1m0 0h1.5m0 0h1m1 0h2m0 0h1m0.5 0h1m0 0h1m1 0h1m0 0h1m0 0h1.5m0 0h1m0 0h1m0 0h1m0.5 0h1m3 0h1m3 0h1m0 0h1m1 0h1M384.5 468h1.5m0.5 0h1.5m0 0h1m0 0h1m0 0h3m0 0h2.5m0 0h1m0.5 0h1m0 0h1m3.5 0h1m4 0h1m4.5 0h1M384.5 468.5h1m2 0h3m0 0h1.5m0 0h1m0 0h1.5m0 0h1m0 0h1.5m0.5 0h1m0.5 0h1m2 0h2m1 0h1m2.5 0h1.5m0 0h1m0.5 0h1m2 0h1M387 469h1.5m0 0h3.5m0 0h1m0 0h2m0.5 0h1m0 0h1m2.5 0h2m1.5 0h1.5m0 0h1.5m0 0h1.5m0 0h1M384 469.5h1.5m1.5 0h1m0 0h1m0 0h2m0 0h3.5m0 0h1m0.5 0h1m0.5 0h1m0.5 0h1m1 0h1m3.5 0h1m0 0h1M385.5 470h1m0 0h2.5m0 0h4.5m0 0h1.5m0 0h1m2 0h1m0 0h1m0 0h1m1 0h1.5m0 0h1m1.5 0h1m1 0h1.5m0.5 0h1m0 0h2m0 0h1M384 470.5h1m0 0h1m0.5 0h1.5m0 0h1m1 0h1m0 0h1.5m0.5 0h2m1 0h1m0 0h1.5m4 0h1m1.5 0h1M386 471h1m0.5 0h2m0 0h1m0 0h1m0 0h1m0 0h1m0 0h1m2 0h1m1.5 0h1m4.5 0h1m0.5 0h1m3 0h1m2 0h1M385 471.5h1m0.5 0h1m0.5 0h1m0 0h1.5m0 0h1m0 0h2m0 0h1m0 0h1.5m0 0h1m0.5 0h1m2.5 0h2m6 0h1m1.5 0h1M384 472h1m0.5 0h2.5m0.5 0h1m0 0h1m0 0h1m1 0h1m0 0h1.5m0 0h1.5m0 0h1.5m0 0h2m1 0h1.5m4 0h1m5 0h1M388.5 472.5h1m0 0h2.5m0.5 0h1.5m1 0h1m1 0h1.5m0 0h1.5m0 0h1m0 0h1.5m1.5 0h1M384 473h1.5m1.5 0h1.5m0 0h1.5m2 0h2.5m0.5 0h1m1 0h1m0 0h1.5m2 0h1.5m0.5 0h1m1 0h1m0.5 0h1.5m0.5 0h1m0 0h1M384 473.5h1m4 0h1m0.5 0h3m0 0h1m1 0h1m0 0h1m6.5 0h1m0.5 0h1m2 0h1.5m0.5 0h1M386 474h1.5m0 0h1.5m1 0h4m0 0h4.5m1.5 0h1m0.5 0h1m2 0h1m0.5 0h1m6 0h1m0 0h1.5M385.5 474.5h2.5m0 0h1m0 0h2m0 0h1m0 0h1m0 0h1.5m0 0h1m0 0h1.5m0 0h1m5 0h1m0 0h1m0.5 0h1m0 0h1m5.5 0h1M384.5 475h1m0 0h1m1 0h1m0 0h1m0 0h3m0 0h2.5m0.5 0h1m0 0h2m0.5 0h1.5m4.5 0h1m1.5 0h1m1 0h1M384 475.5h1m2 0h1m0 0h1m0 0h1m2.5 0h1m0 0h1m0.5 0h2.5m0 0h1m0 0h1m1 0h1m2.5 0h1m1 0h1m1 0h1.5M384 476h1m1 0h1m1.5 0h1.5m0 0h1.5m1 0h1m0 0h1m1 0h1m0.5 0h1m6 0h1.5M385.5 476.5h1.5m0 0h1m1.5 0h4m0 0h1m0 0h2.5m3 0h1m4.5 0h1M384 477h1m0.5 0h1m0 0h1m1 0h1m0 0h2m0.5 0h1m1 0h1m0 0h1.5m0 0h1m0.5 0h1.5m0 0h1m3 0h1m3 0h1M387.5 477.5h1.5m0 0h1.5m0 0h1m0.5 0h1m0 0h2.5m2 0h1m6 0h1m0.5 0h1M384 478h1m1.5 0h1m4 0h1m1 0h1m1.5 0h1m0 0h1m0.5 0h1M384 478.5h1m0.5 0h1m1.5 0h1m0.5 0h1m0 0h1.5m0.5 0h1m0 0h1.5m1.5 0h1m0 0h1m0.5 0h1.5m0 0h1m0 0h1m5 0h1m0 0h1m1 0h1m0 0h1M384 479h2m0.5 0h1m2 0h1m0 0h2m0 0h1.5m0 0h1.5m0 0h1m7 0h1m1.5 0h1M384 479.5h2m0 0h2m0 0h1m0 0h3.5m1 0h1m1.5 0h2m2 0h1m2.5 0h1M384 480h1m0 0h2m0.5 0h1.5m0.5 0h1m0 0h1m1.5 0h1.5m0.5 0h1m3 0h1m6.5 0h1m4 0h1M384.5 480.5h1m1.5 0h1m1.5 0h1m0 0h1m0 0h1m0 0h3m0 0h1.5m2.5 0h1.5m3.5 0h1M385 481h1m2.5 0h1m0.5 0h1m0 0h1.5m0 0h1.5m0 0h1.5m9 0h1M385 481.5h2.5m1.5 0h1m0.5 0h1m2 0h1m0.5 0h1m1 0h1m0 0h1m0 0h1m14.5 0h1M386.5 482h1m2 0h1m2 0h2m2.5 0h1M384 482.5h1m0 0h1m1.5 0h1m0 0h1m0 0h1m0.5 0h2.5m0.5 0h1m0.5 0h1.5m1.5 0h1m0.5 0h1M386 483h1m4.5 0h1m14 0h1" stroke="#1a1a1a" stroke-width="1" fill="none"/>
<rect x="383.4" y="420.6" width="50.9" height="62.6" fill="none" stroke="#222" stroke-width="0.9"/>
<path d="M383.4 420.6V483.2H434.3" fill="none" stroke="#111" stroke-width="1.2"/>
<path d="M401.2 420.6V483.2M383.4 458.4H434.3" stroke="#444" stroke-width="0.8"/>
<path d="M424.3 429.5V446.8M415 438.8H433.7" stroke="#111" stroke-width="0.9"/>
<g font-size="5.1" font-weight="bold" text-anchor="middle" fill="#222">
<text x="419.5" y="435.5">55</text>
<text x="429.1" y="435.5">6.8</text>
<text x="419.5" y="444.2">38</text>
<text x="429.1" y="444.2">2</text>
</g>
<g font-size="4" fill="#555">
<text transform="translate(380.4 483.2) rotate(-90)" text-anchor="middle">10<tspan font-size="2.6" dy="-1.2">0</tspan></text>
<text transform="translate(380.4 467.55) rotate(-90)" text-anchor="middle">10<tspan font-size="2.6" dy="-1.2">1</tspan></text>
<text transform="translate(380.4 451.9) rotate(-90)" text-anchor="middle">10<tspan font-size="2.6" dy="-1.2">2</tspan></text>
<text transform="translate(380.4 436.25) rotate(-90)" text-anchor="middle">10<tspan font-size="2.6" dy="-1.2">3</tspan></text>
<text transform="translate(380.4 420.6) rotate(-90)" text-anchor="middle">10<tspan font-size="2.6" dy="-1.2">4</tspan></text>
</g>
<path d="M382.2 483.2h1.8M383.4 483.2v1.8M382.2 478.49h1.2M387.23 483.2v1.2M382.2 475.73h1.2M389.47 483.2v1.2M382.2 473.78h1.2M391.06 483.2v1.2M382.2 472.26h1.2M392.29 483.2v1.2M382.2 471.02h1.2M393.3 483.2v1.2M382.2 469.97h1.2M394.15 483.2v1.2M382.2 469.07h1.2M394.89 483.2v1.2M382.2 468.27h1.2M395.54 483.2v1.2M382.2 467.55h1.8M396.12 483.2v1.8M382.2 462.84h1.2M399.96 483.2v1.2M382.2 460.08h1.2M402.2 483.2v1.2M382.2 458.13h1.2M403.79 483.2v1.2M382.2 456.61h1.2M405.02 483.2v1.2M382.2 455.37h1.2M406.03 483.2v1.2M382.2 454.32h1.2M406.88 483.2v1.2M382.2 453.42h1.2M407.62 483.2v1.2M382.2 452.62h1.2M408.27 483.2v1.2M382.2 451.9h1.8M408.85 483.2v1.8M382.2 447.19h1.2M412.68 483.2v1.2M382.2 444.43h1.2M414.92 483.2v1.2M382.2 442.48h1.2M416.51 483.2v1.2M382.2 440.96h1.2M417.74 483.2v1.2M382.2 439.72h1.2M418.75 483.2v1.2M382.2 438.67h1.2M419.6 483.2v1.2M382.2 437.77h1.2M420.34 483.2v1.2M382.2 436.97h1.2M420.99 483.2v1.2M382.2 436.25h1.8M421.57 483.2v1.8M382.2 431.54h1.2M425.41 483.2v1.2M382.2 428.78h1.2M427.65 483.2v1.2M382.2 426.83h1.2M429.24 483.2v1.2M382.2 425.31h1.2M430.47 483.2v1.2M382.2 424.07h1.2M431.48 483.2v1.2M382.2 423.02h1.2M432.33 483.2v1.2M382.2 422.12h1.2M433.07 483.2v1.2M382.2 421.32h1.2M433.72 483.2v1.2" stroke="#555" stroke-width="0.4"/>
<g font-size="5.1" fill="#1a1a1a" text-anchor="middle">
<text x="384.6" y="491.5">10<tspan font-size="3.4" dy="-1.8">0</tspan></text>
<text x="397.32" y="491.5">10<tspan font-size="3.4" dy="-1.8">1</tspan></text>
<text x="410.05" y="491.5">10<tspan font-size="3.4" dy="-1.8">2</tspan></text>
<text x="422.77" y="491.5">10<tspan font-size="3.4" dy="-1.8">3</tspan></text>
<text x="435.5" y="491.5">10<tspan font-size="3.4" dy="-1.8">4</tspan></text>
</g>
<path d="M371 432.6V446.9M371 464.5V478.5" stroke="#111" stroke-width="0.9"/>
<path d="M371 429.6l1.5 4.2h-3z" fill="#111"/>
<text transform="translate(373.9 455.7) rotate(-90)" font-size="8" text-anchor="middle">Gr-1</text>
<path d="M487 427.5h1M474.5 429h1M477.5 430.5h1M472.5 434h1M469.5 435.5h1M475.5 436.5h1M474 437h1M468 437.5h1M476.5 438h1M464.5 438.5h1M471.5 439h1M463 439.5h1m7 0h1m6.5 0h1M466.5 440h1.5m5.5 0h1m2.5 0h1M474 440.5h1M471.5 441h1m0 0h1m8.5 0h1M464 441.5h1m4.5 0h1M469.5 442h1m17 0h1M467.5 442.5h1m3 0h1M470.5 443h1m3 0h1m0 0h1m9.5 0h1M468 443.5h1m0.5 0h1m2 0h1m2 0h1M477.5 444h1m3.5 0h1m19 0h1M475.5 444.5h1m8.5 0h1M466 445h1m7 0h1m2.5 0h1M468.5 445.5h1m8 0h1M463 446h1m0 0h1m4 0h1m10.5 0h1m6 0h1m6.5 0h1M468 446.5h1m5.5 0h1m12.5 0h1M466.5 447h1M466.5 447.5h1m3.5 0h1m0 0h1m9.5 0h1M463.5 448h1m2.5 0h1m4 0h1m3 0h1m0 0h1m3.5 0h1M467.5 448.5h1m20.5 0h1m6 0h1M466 449h1m0.5 0h1m20 0h1M466 449.5h1m2.5 0h1m7.5 0h1.5M476.5 450h1m2.5 0h1m2.5 0h1m4.5 0h1m3 0h1M469.5 450.5h1m8 0h1m7 0h1m1.5 0h1M475 451h1m4 0h1M464 451.5h1m6 0h1m5.5 0h1m1.5 0h1m2 0h1m2 0h1M464.5 452h1m1.5 0h1m0 0h1m5.5 0h1.5m3.5 0h1m1.5 0h1m2 0h1.5M470.5 452.5h1m4 0h1M463 453h1m0.5 0h1m4.5 0h1m1 0h1m6 0h1m9 0h1m1 0h1m3 0h1M465 453.5h1m0.5 0h1m0.5 0h1.5m8.5 0h1m0.5 0h1m3 0h1M473.5 454h1M465.5 454.5h1m6.5 0h1.5m2.5 0h1m9.5 0h1m8.5 0h1M465.5 455h1m0 0h1m3 0h1m6 0h1m9.5 0h1M467 455.5h1m2 0h1m11.5 0h1m2 0h1m3 0h1M466 456h1m9.5 0h1m0.5 0h1m0 0h1M470.5 456.5h1m0 0h1m1 0h1m1.5 0h1m2 0h1m6 0h1m0.5 0h1M463.5 457h1.5m1.5 0h1.5m21 0h1M465.5 457.5h1m3 0h1m1.5 0h1m12 0h1M463.5 458h1m0.5 0h1m5.5 0h1m2 0h1m1.5 0h1m4 0h1m3 0h1m3 0h1m0.5 0h1M482.5 458.5h1m0.5 0h1m0 0h1m9.5 0h1M478 459h1M463.5 459.5h1m0.5 0h1m3.5 0h1m2 0h1m5 0h1m4.5 0h1M468 460h1m3.5 0h1m0.5 0h1m10 0h1m7.5 0h1M466 460.5h1m10 0h1m3 0h1.5M465.5 461h1m1 0h1m13 0h1M463 461.5h1m1.5 0h1.5m2 0h1m0 0h1m1 0h1M466.5 462h1m22 0h1m3.5 0h1.5M465.5 462.5h1m0.5 0h1m5.5 0h1m1 0h1m3.5 0h1m2.5 0h1M465.5 463h1.5m23 0h1M470.5 463.5h1m2.5 0h1m6 0h1M466.5 464h1m0.5 0h1m9.5 0h1M464.5 464.5h1m1.5 0h1m7.5 0h1m13.5 0h1m3.5 0h1M464.5 465h1m0 0h1m0.5 0h1m7.5 0h1.5m11.5 0h1m1 0h1M467.5 465.5h1m4.5 0h1m2 0h1m1 0h1m6 0h1M477.5 466h2m1.5 0h1m13.5 0h1M463 466.5h1m9.5 0h1m0 0h1m0 0h1m3.5 0h1m5 0h1M464.5 467h1.5m3.5 0h1m4 0h1.5m3.5 0h1m0.5 0h1m3.5 0h1M463.5 467.5h1m1.5 0h1m1.5 0h1m3 0h1m7.5 0h1M464 468h1m1 0h1m2 0h1m3.5 0h1M464 468.5h1m5 0h1m0.5 0h1m2 0h1.5m0.5 0h1.5m2.5 0h1m12.5 0h1M465 469h1m2 0h1m3.5 0h1M475.5 469.5h1m0 0h1m0.5 0h1m1 0h1M467.5 470h1m10.5 0h1m15 0h1M471.5 470.5h1m9.5 0h1m9 0h1M463 471h1m1.5 0h1m2 0h1m3 0h1m4 0h2M467 471.5h1m0.5 0h1M470.5 472h1m1.5 0h1m2.5 0h1m5.5 0h1M464.5 472.5h1m1 0h2m1 0h1m0.5 0h1M464 473h1m0.5 0h1m1 0h1.5m9 0h1M466 473.5h1m0 0h1m4 0h1m6 0h1M464 474h1m1.5 0h1m4.5 0h1m4.5 0h1M464 474.5h1m8 0h1M486 475h1M472 475.5h1m19.5 0h1M464 476h1m6.5 0h1m0.5 0h1m1 0h1M488 476.5h1m0.5 0h1M464 477h1m3 0h1m0 0h1m5 0h1m3 0h1M465 477.5h1m1.5 0h1m3 0h1m3 0h1m0.5 0h1m11 0h1M469.5 478h1m10 0h1m8 0h1M467 478.5h1.5m1.5 0h1m0 0h1m4 0h1M468.5 479h1M467 479.5h1m0 0h1m2 0h1M464.5 480h1M471.5 480.5h1m2 0h1m4 0h1m4 0h1M471.5 481h1m24.5 0h1M464.5 481.5h1m0.5 0h1m0 0h1m12.5 0h1m7.5 0h1M466.5 482h1m3 0h1m16 0h1M473 482.5h1M465 483h1m3 0h1m0.5 0h1m4.5 0h1" stroke="#777" stroke-width="1" fill="none"/>
<path d="M472.5 425.5h1M479.5 434h1M470 435h1m16.5 0h1M470 436h1M476 437.5h1M468.5 438h1m1 0h1M470.5 438.5h1M478.5 439h1M463.5 439.5h1m3 0h1M469.5 440h1M477 440.5h1M480.5 441h1M470 441.5h1m5 0h1M468.5 442h1m2.5 0h1.5m11.5 0h1m4.5 0h1M463 442.5h1m7 0h1m0 0h1m6.5 0h1m5 0h1M471.5 443h1M471.5 443.5h1m1 0h1m0.5 0h1M468 444h1m0 0h1m1 0h1m1.5 0h1m13.5 0h1M470.5 444.5h1m0.5 0h1m0.5 0h1m4.5 0h1M471.5 445h1.5m2.5 0h1m8.5 0h1m0.5 0h1M468 445.5h1m0 0h1m1 0h1m1 0h1.5m8 0h1m3 0h1.5M468.5 446h1m0.5 0h1m5 0h2M463.5 446.5h1m4.5 0h1m0 0h1m0.5 0h1m11.5 0h1m4.5 0h1M469 447h1m1 0h1m2.5 0h1m1 0h1m0 0h1M465 447.5h1m4 0h1.5m1 0h1m0.5 0h1m0 0h1m0 0h1m6 0h1M466.5 448h1m2.5 0h1m0 0h1m2 0h1m0 0h1m4 0h1m7 0h1m1 0h1M463.5 448.5h1m0.5 0h1.5m3 0h1m2 0h1m0 0h2m1.5 0h1m7 0h1m2 0h1m4 0h1M471 449h2m0 0h1m0 0h1m0 0h1m0.5 0h1m10 0h1M469 449.5h1m0.5 0h1m5.5 0h1m4.5 0h1.5m4.5 0h1.5m1.5 0h1M464 450h1m3 0h1m0 0h1.5m1 0h1.5m1 0h1m2.5 0h1m4.5 0h1M466 450.5h2m0 0h1.5m2 0h1m2.5 0h1.5m0.5 0h1m1 0h1m2 0h1m0 0h1m5.5 0h1m0.5 0h1M464.5 451h2m0 0h1m0 0h1m0.5 0h3m0.5 0h1.5m2 0h1m6 0h1m3 0h1m8.5 0h1M463.5 451.5h1m3 0h1m6 0h1m0 0h1m2 0h1m1.5 0h1.5m2.5 0h1m3.5 0h1m0.5 0h1.5M465 452h1.5m1 0h1m0 0h3m0 0h1m0.5 0h1m0 0h1m0.5 0h2m3.5 0h1m2.5 0h1m1.5 0h1m0 0h1m6 0h1M464 452.5h1m2 0h1m1.5 0h1m0.5 0h1m1 0h1m0 0h2m1 0h1m3 0h1m2 0h1m1 0h1m3 0h1m2 0h1m0.5 0h1M467.5 453h1m0.5 0h1m1 0h1.5m0.5 0h1m0.5 0h1.5m4.5 0h1m2.5 0h1m7 0h1M466 453.5h1m0 0h1m2.5 0h1m0 0h2m0.5 0h2m1 0h1.5m1.5 0h1m0 0h1m2 0h1m0 0h1m2 0h1.5m1 0h1m0.5 0h1M464.5 454h1m1 0h1m0 0h1m0.5 0h1m0 0h1m0.5 0h1m0 0h1.5m0.5 0h1m1 0h1m0.5 0h1m0 0h1m1 0h1.5m4.5 0h1.5m0 0h1M466 454.5h1m0 0h1.5m0 0h2m0 0h1m0 0h1.5m2 0h1m0 0h1m0.5 0h1m1.5 0h1m1.5 0h1m1 0h1.5m2.5 0h1.5m4.5 0h1M466 455h1m0.5 0h2m0 0h1m0.5 0h1m0.5 0h1m0 0h1m1 0h1m0.5 0h1m1 0h2m5.5 0h1m0 0h1M466 455.5h1m1 0h1.5m0 0h1m0.5 0h1.5m0.5 0h1m0 0h1m0 0h1m0 0h1m5 0h1m3 0h1m1 0h1m3 0h1m1.5 0h1M463.5 456h1m0 0h1.5m0.5 0h1m0 0h4m0 0h2m0 0h1m0 0h1m0 0h1m1 0h1m1 0h1m0 0h1.5m4.5 0h1M463.5 456.5h1m0.5 0h1m0 0h1m1.5 0h1m0 0h1.5m1 0h1m0 0h1m0.5 0h1m0 0h1m0 0h1.5m8.5 0h1m3 0h1M465.5 457h1m1 0h1m0 0h2m0 0h5m1 0h1m0 0h1m1 0h1m6.5 0h1m1.5 0h1.5m5 0h1M467 457.5h1m1 0h1m0 0h2m1 0h1.5m0 0h1m1.5 0h1m0 0h1m0 0h1m3.5 0h1m0 0h1m0.5 0h1m0 0h1m2 0h1m0.5 0h1M464 458h1m0.5 0h2m1 0h1.5m1 0h1m0 0h2m0 0h1m0 0h1m0 0h1.5m12 0h1M463 458.5h1.5m0.5 0h1.5m0 0h2m0 0h1.5m0.5 0h1.5m0 0h2m0 0h2.5m0 0h1m0 0h1m0.5 0h1.5m1 0h1.5m4 0h2m0.5 0h1m1.5 0h1.5M465 459h1m1 0h1.5m0 0h2.5m1 0h1.5m0 0h1.5m0 0h2m0 0h1.5m1 0h1m0.5 0h1m3 0h1m1.5 0h1m0 0h1m0 0h1m0 0h2M464.5 459.5h1m1 0h1m0 0h1m0.5 0h1m0 0h1.5m0 0h1.5m0.5 0h2.5m0.5 0h2m0.5 0h1m3 0h1m1 0h1m1 0h1m2.5 0h1m0 0h1m2.5 0h1M464 460h1m0.5 0h1.5m0.5 0h1m0.5 0h1m0 0h1.5m0 0h1.5m0 0h1.5m0 0h3m1.5 0h1.5m5 0h2.5m0.5 0h1m1 0h1.5m2 0h1m0.5 0h1m3.5 0h1M463.5 460.5h1.5m1.5 0h2m0.5 0h1m0 0h3m0 0h2.5m0 0h1m6.5 0h1m0 0h1m2.5 0h1m1 0h1.5m0.5 0h1M463.5 461h2m0.5 0h1m0 0h1m0 0h5.5m0 0h1.5m0 0h2.5m0.5 0h1m1 0h1m2.5 0h1m0 0h1m0 0h1m1.5 0h1m8 0h1M464 461.5h1m0 0h1m0.5 0h3m1 0h2m1 0h1m1 0h1.5m0 0h1m6 0h1m0 0h1m1.5 0h1m3.5 0h1M463 462h1m1.5 0h1m1.5 0h3m0.5 0h1.5m0 0h2.5m0 0h1.5m0 0h1.5m0.5 0h1m0 0h1m0 0h1m0.5 0h1m0 0h1m0 0h1m0.5 0h1m3 0h1m0 0h1M464.5 462.5h1.5m0 0h1m1 0h2.5m0 0h3.5m0.5 0h1m0.5 0h1m1 0h1m0 0h1m4 0h1.5m3 0h1m0.5 0h1m7.5 0h1M463.5 463h1m0.5 0h1m0.5 0h8.5m1 0h1m0 0h2.5m6.5 0h1.5m0 0h1m9 0h1M463 463.5h1.5m0 0h1.5m0 0h2.5m0 0h2.5m0 0h3.5m0 0h1m0.5 0h1m0 0h3m3 0h1m0.5 0h1.5m0 0h1m4.5 0h1M463 464h1.5m0 0h1m1.5 0h1m0.5 0h1m0 0h1m0 0h1m0.5 0h3m1.5 0h1.5m4.5 0h1.5m2 0h1m0.5 0h1m0 0h1M466 464.5h1.5m0 0h2m0 0h3m0 0h2m0.5 0h1m0 0h1.5m11.5 0h1.5m3.5 0h1m3.5 0h1M463.5 465h1m3.5 0h2m0.5 0h1.5m0 0h1m1 0h1.5m2 0h1m1.5 0h1m4.5 0h1.5M464 465.5h2m1 0h1m0.5 0h3.5m0 0h1.5m0.5 0h2.5m0.5 0h1m3.5 0h1m3.5 0h1m2.5 0h1m1.5 0h1M464.5 466h1m1 0h2.5m0 0h2.5m0 0h2m0 0h1.5m0.5 0h1m10.5 0h1m0 0h1m0 0h1M463.5 466.5h1.5m0 0h2.5m0 0h2.5m0 0h1m0 0h3m0 0h1m1 0h1m0 0h1m6 0h1m1.5 0h1m0 0h1m0 0h1m5.5 0h1M463 467h1m0 0h1m1.5 0h1m0 0h1m0 0h1.5m0 0h3m0 0h1m1.5 0h2.5m0 0h1m1 0h1m6.5 0h1m3.5 0h1m1.5 0h1M464.5 467.5h1m0 0h1m0.5 0h2m0 0h1m0 0h1.5m0 0h1.5m0 0h2m0 0h1m2.5 0h1m7.5 0h1m1.5 0h1m5.5 0h1M465 468h1m0.5 0h1m0.5 0h1.5m0.5 0h2m0 0h1m0 0h1m0 0h1m0 0h2m0 0h1.5m0.5 0h1m8.5 0h1m2.5 0h1m1 0h1M465 468.5h1m0.5 0h3m0 0h1m0 0h1.5m0.5 0h1.5m2 0h1m1 0h1.5m6.5 0h1.5m1.5 0h1m0.5 0h1M464 469h1.5m0.5 0h2.5m0 0h1m0 0h2m0.5 0h1m0 0h1.5m1 0h1m9.5 0h1m5.5 0h1M463 469.5h2.5m0 0h1m0 0h1.5m0 0h1.5m0 0h5.5m0 0h1m1 0h1M463 470h1m2 0h1m0 0h1m0 0h2.5m1.5 0h1m0 0h1.5m0 0h1m0.5 0h1m1 0h1m10 0h1M465 470.5h1m1 0h2.5m0 0h1m0 0h1.5m0 0h1m0.5 0h1.5m0 0h1m0 0h1m0.5 0h1m4 0h1m5.5 0h1m6 0h1M463.5 471h1m0 0h1m1 0h1m0 0h1.5m0 0h1.5m0.5 0h2m0 0h1.5m1 0h1M463 471.5h1m2 0h1.5m0 0h1.5m0 0h1m0.5 0h2.5m1 0h1.5m2.5 0h1m2.5 0h1m4.5 0h1m1.5 0h1.5m3.5 0h1M464 472h1.5m0 0h1m1.5 0h3m0.5 0h1m0 0h1m0.5 0h1m0 0h1.5m2 0h1.5m6.5 0h1M465.5 472.5h1m1.5 0h1m0 0h1m0.5 0h1m0 0h1.5m0 0h2m4.5 0h1.5M466 473h2m0.5 0h1m2 0h2m1.5 0h1.5m8 0h1m8 0h1M466.5 473.5h1m0 0h1m1 0h1m0 0h2m0 0h1m0.5 0h2.5M463.5 474h1m0 0h1m0.5 0h1m1 0h1m0 0h1m0 0h2.5m1 0h2m0.5 0h1m1.5 0h1M464.5 474.5h1m1 0h1m1.5 0h1m2 0h1.5m0 0h1.5m0 0h1m0 0h1m0 0h1m0.5 0h1M464.5 475h1.5m0 0h1m0 0h1m1.5 0h2m0 0h1m0 0h2m1.5 0h1m3.5 0h1m5 0h1M463 475.5h1m2.5 0h1m0 0h1.5m1.5 0h2m0.5 0h1m0 0h1m1.5 0h1m11 0h1.5M465 476h1m1 0h2m0 0h3m0 0h1.5m0 0h1m4 0h1M463.5 476.5h1m1 0h1m0.5 0h1m3 0h2.5m0 0h1m2 0h1m14.5 0h1M463 477h1.5m3 0h1m2.5 0h1m1 0h1m1.5 0h1M464 477.5h1.5m1 0h1.5m0.5 0h1m0 0h1m0 0h1.5m0.5 0h1m0 0h1M463.5 478h1m3 0h1m0 0h1m1 0h2m0 0h1.5m1 0h1M463 478.5h1.5m0 0h2m0 0h1m0.5 0h2.5m0 0h1m1 0h1m0 0h1m3.5 0h1M465 479h1m0 0h1.5m0 0h1m2 0h1m0.5 0h1.5m0.5 0h1m0.5 0h1m2.5 0h1M465.5 479.5h1m0 0h1m1 0h1.5m0.5 0h1m0 0h2m2.5 0h1M465.5 480h1m3 0h2m0 0h1m0 0h2M464 480.5h1.5m1 0h1m2 0h1m0.5 0h1m1 0h1m1 0h1m2.5 0h1M465.5 481h1m0 0h2m1 0h1m0 0h1m3 0h1m0.5 0h1M465 481.5h1.5m0 0h1m1 0h1m1.5 0h1.5m1 0h1m4.5 0h1M469.5 482h1.5m3 0h1.5M465 482.5h1m2 0h1.5m1 0h1m0 0h1m0 0h1M465.5 483h1m1 0h1m1 0h1m1.5 0h1m1 0h1.5" stroke="#1a1a1a" stroke-width="1" fill="none"/>
<rect x="462.5" y="421.8" width="50.8" height="61.7" fill="none" stroke="#222" stroke-width="0.9"/>
<path d="M462.5 421.8V483.5H513.3" fill="none" stroke="#111" stroke-width="1.2"/>
<path d="M480.8 421.8V483.5M462.5 459.3H513.3" stroke="#444" stroke-width="0.8"/>
<path d="M503.2 421.8V440.1M493.5 432.4H512.7" stroke="#111" stroke-width="0.9"/>
<g font-size="5.1" font-weight="bold" text-anchor="middle" fill="#222">
<text x="498.2" y="429.1">35</text>
<text x="507.8" y="429.1">4.6</text>
<text x="498.2" y="437.8">56</text>
<text x="507.8" y="437.8">4.3</text>
</g>
<g font-size="4" fill="#555">
<text transform="translate(459.5 483.5) rotate(-90)" text-anchor="middle">10<tspan font-size="2.6" dy="-1.2">0</tspan></text>
<text transform="translate(459.5 468.07) rotate(-90)" text-anchor="middle">10<tspan font-size="2.6" dy="-1.2">1</tspan></text>
<text transform="translate(459.5 452.65) rotate(-90)" text-anchor="middle">10<tspan font-size="2.6" dy="-1.2">2</tspan></text>
<text transform="translate(459.5 437.23) rotate(-90)" text-anchor="middle">10<tspan font-size="2.6" dy="-1.2">3</tspan></text>
<text transform="translate(459.5 421.8) rotate(-90)" text-anchor="middle">10<tspan font-size="2.6" dy="-1.2">4</tspan></text>
</g>
<path d="M461.3 483.5h1.8M462.5 483.5v1.8M461.3 478.86h1.2M466.32 483.5v1.2M461.3 476.14h1.2M468.56 483.5v1.2M461.3 474.21h1.2M470.15 483.5v1.2M461.3 472.72h1.2M471.38 483.5v1.2M461.3 471.5h1.2M472.38 483.5v1.2M461.3 470.46h1.2M473.23 483.5v1.2M461.3 469.57h1.2M473.97 483.5v1.2M461.3 468.78h1.2M474.62 483.5v1.2M461.3 468.07h1.8M475.2 483.5v1.8M461.3 463.43h1.2M479.02 483.5v1.2M461.3 460.72h1.2M481.26 483.5v1.2M461.3 458.79h1.2M482.85 483.5v1.2M461.3 457.29h1.2M484.08 483.5v1.2M461.3 456.07h1.2M485.08 483.5v1.2M461.3 455.04h1.2M485.93 483.5v1.2M461.3 454.14h1.2M486.67 483.5v1.2M461.3 453.36h1.2M487.32 483.5v1.2M461.3 452.65h1.8M487.9 483.5v1.8M461.3 448.01h1.2M491.72 483.5v1.2M461.3 445.29h1.2M493.96 483.5v1.2M461.3 443.36h1.2M495.55 483.5v1.2M461.3 441.87h1.2M496.78 483.5v1.2M461.3 440.65h1.2M497.78 483.5v1.2M461.3 439.61h1.2M498.63 483.5v1.2M461.3 438.72h1.2M499.37 483.5v1.2M461.3 437.93h1.2M500.02 483.5v1.2M461.3 437.23h1.8M500.6 483.5v1.8M461.3 432.58h1.2M504.42 483.5v1.2M461.3 429.87h1.2M506.66 483.5v1.2M461.3 427.94h1.2M508.25 483.5v1.2M461.3 426.44h1.2M509.48 483.5v1.2M461.3 425.22h1.2M510.48 483.5v1.2M461.3 424.19h1.2M511.33 483.5v1.2M461.3 423.29h1.2M512.07 483.5v1.2M461.3 422.51h1.2M512.72 483.5v1.2" stroke="#555" stroke-width="0.4"/>
<g font-size="5.1" fill="#1a1a1a" text-anchor="middle">
<text x="463.7" y="491.8">10<tspan font-size="3.4" dy="-1.8">0</tspan></text>
<text x="476.4" y="491.8">10<tspan font-size="3.4" dy="-1.8">1</tspan></text>
<text x="489.1" y="491.8">10<tspan font-size="3.4" dy="-1.8">2</tspan></text>
<text x="501.8" y="491.8">10<tspan font-size="3.4" dy="-1.8">3</tspan></text>
<text x="514.5" y="491.8">10<tspan font-size="3.4" dy="-1.8">4</tspan></text>
</g>
<path d="M449.5 433.8V448.32M449.5 464.58V478.8" stroke="#111" stroke-width="0.9"/>
<path d="M449.5 430.8l1.5 4.2h-3z" fill="#111"/>
<text transform="translate(452.4 456.45) rotate(-90)" font-size="8" text-anchor="middle">c-kit</text>
<path d="M385 498.5h1M408 502.5h1M384 503h1m14 0h1M390.5 504.5h1m6.5 0h1M386.5 505h1M384 505.5h1m6 0h1M392 506h1M384 506.5h1m3.5 0h1m4 0h1M396.5 507h1M385.5 508h1m0.5 0h1m7.5 0h1M394.5 508.5h1M386 509h1M399 510h1M390 510.5h1M401.5 511h1M395 511.5h1M392.5 512h1M393.5 512.5h1M384.5 513h1m0.5 0h1M388.5 513.5h1m0 0h1m1 0h1m2 0h1M385.5 514h1m0.5 0h1m3.5 0h1M385 514.5h1m1.5 0h1m8.5 0h1M386.5 515h1.5M393 515.5h1m10 0h1M384.5 516h1m1 0h1m3 0h1m4 0h1m0.5 0h1M391 516.5h1m3 0h1m0 0h1m2 0h1M388 517h1m3.5 0h1m1 0h1M386 517.5h1m0 0h1m6.5 0h1m6.5 0h1M386.5 518h1m2.5 0h1m1.5 0h1m2.5 0h1m0 0h1.5M384.5 518.5h1m13 0h1M396 519h1M391 519.5h1M389.5 520h1m0.5 0h1m3.5 0h1m9 0h1M388.5 520.5h1m0.5 0h1m11 0h1M387.5 521h1m2 0h2m10 0h1M384 521.5h1m3 0h1.5m0 0h1m11 0h1M385 522h1.5M384.5 523h1m4.5 0h1m2.5 0h1M387.5 524h1m7.5 0h1M393.5 524.5h1M392 525h1m16.5 0h1m5 0h1M384 525.5h1m3 0h1m6.5 0h1M384 526h1m2 0h1m0.5 0h1.5m1 0h1M384.5 526.5h1m1.5 0h1m1.5 0h1m11.5 0h1M385 527h1m6 0h1m8 0h1M385 527.5h1m3.5 0h1m1.5 0h1m1 0h1m0 0h1m1 0h1m1 0h1.5m0 0h1m7.5 0h1.5M385.5 528h1m9 0h1m3 0h1m11 0h1M391 528.5h1.5M384.5 529h1m5 0h1M388 529.5h1m0 0h1m3 0h1m2.5 0h1m0 0h1m9 0h1m4.5 0h1M400.5 530h1M386 530.5h1m1 0h1m2 0h1m1 0h1.5m9.5 0h1m14 0h1M397 531h1M385 531.5h1m3.5 0h1m0 0h1m7.5 0h1m10 0h1M384.5 532h1m0.5 0h1M385.5 532.5h1m11 0h1m2.5 0h1m9 0h1M390.5 533h1m1 0h1m3 0h1m4 0h1m0 0h1m5.5 0h1M387.5 534h1M390 534.5h1m1.5 0h1m18.5 0h1M384 535h1m2 0h1m3 0h1m0.5 0h1m4 0h1m0.5 0h1.5m1 0h1m1.5 0h1m4 0h1M388.5 535.5h1m12 0h1m12 0h1m3 0h1M395 536h1m8.5 0h1M393 536.5h1.5m2 0h1m12.5 0h1m5.5 0h1M384 537h1m3 0h1m0 0h1m16.5 0h1M386.5 537.5h1m3.5 0h1m3 0h1m5.5 0h1M385.5 538h1m1.5 0h1m3.5 0h1m1.5 0h1m0 0h1m7 0h1m5.5 0h1M386.5 538.5h1m4 0h1m2.5 0h1m2 0h1m2.5 0h1M384.5 539h1.5m2 0h1m6 0h1m0.5 0h1m7 0h1m1 0h1M384 539.5h1m3 0h1m17.5 0h1m3.5 0h1M384 540h1m1 0h1m0.5 0h1m0.5 0h1m18 0h1M385 540.5h1m8.5 0h1.5m1 0h1m1.5 0h1m1.5 0h1m10 0h1M384 541h1m1 0h1m7 0h1m3.5 0h1m6.5 0h1M386.5 541.5h1m0.5 0h1.5m0.5 0h1m4.5 0h1m0.5 0h1m1 0h1m5.5 0h1m4.5 0h1m0.5 0h1.5M386.5 542h1m2 0h1m4.5 0h1m3 0h1m7.5 0h1m2 0h1m3.5 0h1M386.5 542.5h1m18.5 0h1m4.5 0h1M388.5 543h1m1.5 0h1m0 0h1m10 0h1m0.5 0h2M386 543.5h1m0 0h1m25 0h1M385 544h1m6.5 0h1m5 0h1m8 0h1m5 0h1M388 544.5h1m4 0h1.5m1.5 0h1m3 0h1m0 0h1.5m0 0h1m4 0h1m8 0h1M390 545h1m2 0h1m0 0h1m0.5 0h1m1 0h1m10.5 0h1M386.5 545.5h1m2 0h1m0.5 0h1m1 0h1m6 0h1m12 0h1m2 0h1M408 546h1M390 546.5h1m2.5 0h1m10 0h1m1 0h1m0 0h1M387.5 547h1m4 0h1m1.5 0h1m1 0h1m9 0h1m6 0h1M385 547.5h1m0 0h1m3 0h1m3 0h1m0 0h1m7 0h1m1.5 0h1m3 0h1M389.5 548h1m1.5 0h1m0.5 0h1m2 0h1m4.5 0h1m6.5 0h1m0.5 0h1m3.5 0h1M390.5 548.5h1m14.5 0h1m0 0h1m6.5 0h1M392.5 549h1m1 0h1m1 0h1m3 0h1m5.5 0h1m0.5 0h1m1.5 0h1M385.5 549.5h1m5 0h1m8 0h1M385 550h1m4.5 0h1m5.5 0h1.5M389 550.5h1m11 0h1m8 0h1M387.5 551h1m2 0h1m0.5 0h1m0 0h1.5m1 0h1m2 0h1m13.5 0h1M388.5 551.5h1m0.5 0h1m1 0h1m11 0h1m3.5 0h1M388 552h1m2 0h1m2 0h1m1 0h1m2.5 0h1M385 552.5h1m9 0h1m3 0h1m7 0h1m1.5 0h1m0.5 0h1M385 553h1m6.5 0h1m3 0h1m0.5 0h1m2 0h1M385.5 553.5h1m2.5 0h1m8 0h1m0.5 0h1m3.5 0h1M386.5 554h1.5m0 0h1.5m0.5 0h1m5 0h1m4.5 0h1m9.5 0h1m0 0h1M386 554.5h1m9.5 0h1m1 0h1m0.5 0h1m3 0h1M386.5 555h1m5.5 0h1m0 0h1m1.5 0h1M408 555.5h1M384.5 556h1m3 0h1.5m5 0h1M387.5 556.5h1m3 0h1m1 0h1m1 0h1m3 0h1m17.5 0h1M386.5 557h1m0 0h1m1 0h1m16 0h1m7.5 0h1M399.5 557.5h1M385 558h1.5" stroke="#777" stroke-width="1" fill="none"/>
<path d="M389.5 501h1M388.5 502h1M397.5 502.5h1M384 504.5h1m2.5 0h1M386 505h1M385 505.5h1m6.5 0h1M385 506h1m8 0h1M387.5 506.5h1M394 507h1M392.5 507.5h1m2.5 0h1M392.5 508h1m7.5 0h1M386.5 508.5h1M387.5 509h1m8 0h1M386 510h1.5m0 0h1m7 0h1M394.5 510.5h1m3 0h1M385 511h1m0 0h1m2 0h1m4 0h1.5M387.5 511.5h1.5m1 0h1.5m0 0h1m3 0h1M388.5 512h1m0 0h1M385 512.5h1.5m0.5 0h1m0 0h1m1 0h2m0 0h1m0 0h1m0 0h1m0.5 0h1m6.5 0h1M387.5 513h1m3.5 0h1.5m3 0h1.5m0 0h1m2.5 0h1M394 513.5h1m5 0h1M385 514h1m1.5 0h2.5m4.5 0h1m0.5 0h1m3.5 0h1M384.5 514.5h1m0 0h1m0 0h1m1.5 0h1m0 0h1m1.5 0h1.5m2.5 0h1M385.5 515h1.5m1 0h1m0 0h1m0 0h4.5m2.5 0h1M384.5 515.5h1m0 0h1m0 0h1.5m0 0h1m0 0h1.5m0 0h1.5m0 0h1m1.5 0h1m2 0h1m0 0h1M387.5 516h1m0.5 0h1.5m0.5 0h1.5m0 0h1m2.5 0h1m0.5 0h1m4 0h1M384 516.5h2.5m0 0h1.5m0.5 0h1m0 0h1m0 0h1m0.5 0h1m0.5 0h1.5m2 0h2M386.5 517h1m3 0h1.5m1.5 0h1m1 0h1m1 0h1M384 517.5h2m1.5 0h1.5m0 0h1m0.5 0h1m0 0h1m0 0h1m0 0h1.5m0.5 0h2M385.5 518h1.5m0 0h1.5m0.5 0h1.5m0 0h1m0 0h1m0.5 0h1m0 0h1.5m1 0h1m1 0h1m0 0h1m0 0h1M385 518.5h1m1 0h1m0.5 0h1.5m2.5 0h1m0 0h2m0.5 0h1m5.5 0h1M384 519h2m2 0h1m1.5 0h1.5m1.5 0h1m1 0h1m0 0h1M384 519.5h1m0.5 0h1m0 0h1.5m1 0h1.5m0 0h1m0 0h1m0 0h1m0 0h1m0 0h1.5M384.5 520h1m1 0h2m0 0h1.5m0 0h1m1 0h1.5m0 0h1m0 0h1.5m0 0h1.5M384 520.5h1m1.5 0h1m0 0h1m0.5 0h1m0.5 0h2m0.5 0h1.5m0 0h1.5m4.5 0h1M385.5 521h1.5m5.5 0h1m0 0h1.5m1 0h1m0 0h1.5m0.5 0h1M385 521.5h1.5m0 0h1m3 0h2m0.5 0h2m0 0h1M384 522h1m1.5 0h1.5m3 0h1.5m0 0h1.5m0.5 0h1m3.5 0h1m3.5 0h1m3 0h1M384 522.5h1m1.5 0h1m0 0h1m0 0h1.5m0.5 0h2m0 0h1m5 0h1m1 0h1M384 523h1m1.5 0h1m0 0h1m0.5 0h1.5m0 0h1.5m0 0h1m0 0h1m0 0h1m2 0h1m0.5 0h1m5.5 0h1M384 523.5h1m2.5 0h1.5m0.5 0h1m0 0h1.5m1 0h1m0 0h1.5m0 0h1m0.5 0h1m4.5 0h1M384 524h1m0 0h1m0.5 0h1.5m0 0h1m0.5 0h1.5m0 0h1m2.5 0h1m1.5 0h1m1.5 0h1m1 0h1M387 524.5h1m0.5 0h1m0 0h1m0.5 0h1m1 0h1m1 0h1m0 0h1m0.5 0h1m15.5 0h1M384 525h1m2 0h1.5m0 0h1.5m1 0h1m1.5 0h1m0.5 0h1m0.5 0h1M385.5 525.5h1m0.5 0h1.5m0 0h1m0 0h1m2 0h1m2.5 0h1m2 0h1M384.5 526h1m5 0h1m0.5 0h1m1.5 0h1m1.5 0h1m1.5 0h1m12.5 0h1M389 526.5h1m0.5 0h1m0 0h1m3 0h1m2 0h1M386 527h1.5m0 0h1m2 0h1m0 0h1m0 0h1M389 527.5h1m0.5 0h1.5m1 0h1.5M386 528h1m4 0h1.5m0.5 0h1m2.5 0h1m9.5 0h1m1 0h1M384.5 528.5h1m3.5 0h1m0 0h1m2.5 0h1m1 0h1.5m0 0h1M387.5 529h1m2.5 0h1.5m0 0h1m2 0h1m8 0h1M386 529.5h1m4.5 0h1.5m0.5 0h1m1 0h1m0.5 0h1m0.5 0h1m6 0h1m2.5 0h1M386.5 530h1.5m1.5 0h1m1 0h1.5m1 0h1m22 0h1M384.5 530.5h1m1 0h1m6.5 0h1m8.5 0h1m9 0h1M391 531h1m2 0h1m3.5 0h1m3.5 0h1m1 0h1m3.5 0h1m1 0h1M387 531.5h1m0 0h1m0 0h1m3 0h1m15.5 0h1m1 0h1m2.5 0h1M387 532h1.5m0 0h1m0 0h1m1.5 0h1m0.5 0h1m17 0h1m1 0h1M386 532.5h1m0 0h1m15 0h1.5m1.5 0h1m5 0h1m1 0h1M389 533h1m2 0h1m1 0h1m11 0h1m3 0h1.5m1 0h1m0 0h1M387.5 533.5h1m2 0h1m1 0h1m0.5 0h1m1.5 0h1.5m6 0h1m1.5 0h1.5m2.5 0h1m1 0h1M385 534h1m6 0h1m4 0h1m2 0h1m5.5 0h1.5m1 0h1m0.5 0h1m2.5 0h1M385.5 534.5h1.5m2 0h1m9.5 0h1m3.5 0h1m0 0h1m0 0h1m3 0h1M386 535h1m1 0h1m0 0h1m1.5 0h1m10.5 0h1m0.5 0h1m0.5 0h1m1 0h1m1 0h1m0.5 0h1.5M384.5 535.5h1.5m6 0h1m11.5 0h1m0.5 0h1m1.5 0h1m1.5 0h1M386 536h1m0.5 0h1m2 0h1m0.5 0h1m0.5 0h1m9 0h1m2.5 0h1.5m0 0h1m0.5 0h1M384 536.5h1m0.5 0h1m0 0h1m0 0h1m15 0h1.5m1.5 0h1m1.5 0h1m2 0h1.5M385 537h1.5m2 0h1m0 0h1m1.5 0h1m0.5 0h1m0.5 0h1m0 0h1m3.5 0h1m1 0h1m0.5 0h1m0 0h1m1 0h1.5m3 0h1.5M384 537.5h1m0.5 0h1m0.5 0h1m2.5 0h1m1.5 0h1m0 0h1.5m2 0h1m4 0h1m2.5 0h1m2 0h2m0.5 0h1m0.5 0h2m0 0h1M389 538h1m0 0h1.5m0 0h1m3 0h1m1 0h1m4 0h1m1 0h1m0.5 0h1.5m1.5 0h2m0 0h1M384 538.5h1m3.5 0h1m0 0h1m0.5 0h1m0.5 0h1m0 0h1.5m1.5 0h1m1 0h1.5m4.5 0h1m0.5 0h1.5m0 0h1m0 0h1m5 0h1M386.5 539h1.5m2 0h1.5m0.5 0h1.5m0.5 0h1m0.5 0h1.5m3 0h1m4.5 0h1m1.5 0h1.5m1 0h1m0 0h1m0 0h1m0.5 0h1.5M384.5 539.5h1m0.5 0h2.5m0.5 0h2.5m1 0h1.5m0 0h1.5m1 0h1m0.5 0h1m3.5 0h1m2 0h1m1 0h1m0 0h1m0 0h1m1 0h1m0 0h1.5M386.5 540h1m1 0h1m1 0h1.5m1 0h1m0 0h1m1.5 0h1m4.5 0h1m3 0h1m0 0h1.5m0.5 0h1.5m2.5 0h1M384 540.5h1.5m1.5 0h1m0.5 0h2m0 0h2m0.5 0h2m1 0h1.5m3.5 0h1m4 0h1m0 0h1.5m0 0h1.5m0 0h1m0.5 0h1m0 0h1M386.5 541h5m0 0h1m0 0h1.5m9 0h1.5m2 0h1m1 0h1.5m0 0h1m3 0h1M384.5 541.5h1.5m0 0h1m0 0h1.5m0.5 0h1.5m0 0h1m0.5 0h2m0 0h1m0 0h1m9 0h1m1 0h1m0.5 0h1.5m0 0h1m1 0h1m3.5 0h1M385 542h1.5m1.5 0h2m1 0h1m0 0h1m1 0h1.5m1.5 0h1m3.5 0h1m1.5 0h1m0.5 0h1.5m2 0h1m0 0h1m0.5 0h1.5m2.5 0h1M385 542.5h1m2.5 0h2m0 0h1m0.5 0h1m0 0h4m0 0h1m0 0h1m0 0h1m0.5 0h1m2.5 0h1m2.5 0h1m0 0h1m1.5 0h1m0.5 0h1m0 0h1M385 543h2.5m0.5 0h1m0 0h2.5m1 0h1m0.5 0h2m0.5 0h1m0 0h1.5m1.5 0h1m5 0h2m1 0h1.5m0 0h1m0.5 0h1M384 543.5h1m0 0h1.5m0 0h1m0 0h1m0 0h1m0 0h1m0 0h3m0 0h2.5m1 0h1m0.5 0h1m2 0h1m1.5 0h1m2 0h3.5M384 544h1.5m0 0h1m0 0h1m0 0h1.5m0.5 0h3m0.5 0h1m0 0h1m0 0h1.5m1.5 0h1m7 0h1m0 0h1m0 0h1m3 0h1m0 0h1m4.5 0h1M384 544.5h1m0.5 0h3m0 0h2m0 0h1.5m0 0h1m1 0h1m0.5 0h1m0.5 0h1m4 0h1m3.5 0h1m1 0h1m0 0h1.5m1 0h1m1 0h1M385.5 545h2m0 0h2.5m0.5 0h3m1.5 0h1m2 0h1m1.5 0h1m1 0h1m0 0h1m0.5 0h1m1 0h2m4 0h1m1 0h1M384 545.5h1m0 0h2m0 0h1.5m0.5 0h1m0 0h1.5m0 0h2m0 0h1.5m0 0h1m7.5 0h1.5m0.5 0h1m2 0h1.5m4 0h1M384.5 546h2m0 0h1.5m0 0h1m1 0h2m0 0h5.5m0 0h1m0.5 0h1m1 0h1m0 0h1m1 0h1m2 0h1m1 0h2M386 546.5h1.5m0 0h1.5m0 0h1.5m0 0h1.5m0.5 0h1.5m0 0h1.5m0 0h1m4.5 0h1m2 0h1m3.5 0h1m1 0h1M384 547h1.5m0 0h2m0.5 0h1.5m0 0h2m0 0h1.5m0 0h1.5m0 0h1m2 0h1m1 0h1m7 0h3m2.5 0h1M384 547.5h1m1.5 0h1m0.5 0h2.5m0 0h2m0 0h1m2 0h1m0.5 0h1m0 0h1.5m6.5 0h1m0.5 0h1m0 0h1.5m1.5 0h1.5m1.5 0h1m1.5 0h1M385 548h1m0 0h1.5m0 0h2.5m0 0h2m1 0h1m0 0h1.5m0 0h1.5m1 0h2m4 0h1m1 0h1m7.5 0h1M384 548.5h1m0 0h1.5m0 0h1m0 0h3.5m1 0h1m0 0h2m0.5 0h2m0 0h1m4.5 0h1m1.5 0h1m5 0h1M384 549h7m1 0h1m0.5 0h1.5m3.5 0h1m3.5 0h1m3.5 0h1.5m0 0h1m0 0h1M384 549.5h1m0 0h1m0.5 0h1m0 0h2m0.5 0h2m0 0h5m0 0h1m5 0h1m1.5 0h1m4.5 0h1.5m4.5 0h1M384 550h1.5m0 0h2.5m0 0h3m0 0h1m0 0h1.5m0 0h1m0.5 0h2.5m1 0h1m0.5 0h1m2.5 0h1m1.5 0h2.5M384.5 550.5h2.5m0.5 0h1m1 0h1.5m0.5 0h1m0.5 0h1.5m0 0h2m0 0h1m0 0h3m7 0h1m3 0h1M384 551h1.5m0 0h1.5m0 0h1m0 0h3m0 0h1.5m0 0h1m1 0h1.5m0.5 0h1.5m0 0h1m1 0h1m5 0h1m4 0h1m4 0h1M384.5 551.5h1.5m0 0h3m0 0h1.5m0 0h2m0 0h3m1 0h1m1.5 0h2m4 0h1m0 0h1m0 0h1M384 552h4.5m0 0h1m0 0h2m0 0h1.5m1.5 0h1m0 0h1m0 0h1.5m0.5 0h1m1.5 0h1m7.5 0h1m0 0h1M384.5 552.5h1m0 0h1m0 0h1m0 0h1.5m0 0h1m0 0h1m0 0h4m0.5 0h1.5m0 0h1.5m2.5 0h1m0 0h1.5m4 0h1m0.5 0h1m0 0h1m0.5 0h1M384 553h1.5m1 0h2.5m0.5 0h1m0 0h2m1.5 0h2m0 0h1m1.5 0h1m6.5 0h1M384.5 553.5h1m0.5 0h1m0 0h1m0 0h1.5m0.5 0h1m0 0h1m0 0h1m0.5 0h1m0 0h1.5m1 0h1M384 554h1.5m3.5 0h1.5m0 0h1m0 0h1.5m0.5 0h1m0 0h1.5m0.5 0h1.5m0 0h1m9.5 0h1M384.5 554.5h1m0 0h1m0 0h2m0.5 0h1.5m0.5 0h1.5m0.5 0h1.5m1 0h1m0.5 0h1M384 555h1m0.5 0h1.5m0 0h1m0 0h1.5m0.5 0h3m0.5 0h1m0 0h2m0.5 0h1m0.5 0h1.5M384 555.5h1m0.5 0h1m0 0h1m1 0h5.5m0 0h1m0 0h1.5m0.5 0h1M385 556h1m0 0h1.5m2 0h2m0.5 0h3.5m0.5 0h1m1 0h1.5M385 556.5h2m0 0h1m0 0h1m0 0h2m0 0h1m0 0h1m2 0h1m1.5 0h1.5m1.5 0h1m7.5 0h1M385 557h2m1.5 0h1.5m0 0h1m0 0h1m0.5 0h1.5m0 0h1m0 0h1.5m0.5 0h1m1.5 0h1m1 0h1M385 557.5h2.5m0 0h1m0 0h1.5m0 0h2m0.5 0h2m0.5 0h1m0 0h1m0.5 0h1.5M389.5 558h1m2 0h1m3 0h1" stroke="#1a1a1a" stroke-width="1" fill="none"/>
<rect x="383.4" y="495.6" width="50.9" height="62.6" fill="none" stroke="#222" stroke-width="0.9"/>
<path d="M383.4 495.6V558.2H434.3" fill="none" stroke="#111" stroke-width="1.2"/>
<path d="M401.6 495.6V558.2M383.4 533.4H434.3" stroke="#444" stroke-width="0.8"/>
<path d="M424.2 495.6V513.9M414.5 506.2H433.7" stroke="#111" stroke-width="0.9"/>
<g font-size="5.1" font-weight="bold" text-anchor="middle" fill="#222">
<text x="419.2" y="502.9">23</text>
<text x="428.8" y="502.9">2.5</text>
<text x="419.2" y="511.6">68</text>
<text x="428.8" y="511.6">6.2</text>
</g>
<g font-size="4" fill="#555">
<text transform="translate(380.4 558.2) rotate(-90)" text-anchor="middle">10<tspan font-size="2.6" dy="-1.2">0</tspan></text>
<text transform="translate(380.4 542.55) rotate(-90)" text-anchor="middle">10<tspan font-size="2.6" dy="-1.2">1</tspan></text>
<text transform="translate(380.4 526.9) rotate(-90)" text-anchor="middle">10<tspan font-size="2.6" dy="-1.2">2</tspan></text>
<text transform="translate(380.4 511.25) rotate(-90)" text-anchor="middle">10<tspan font-size="2.6" dy="-1.2">3</tspan></text>
<text transform="translate(380.4 495.6) rotate(-90)" text-anchor="middle">10<tspan font-size="2.6" dy="-1.2">4</tspan></text>
</g>
<path d="M382.2 558.2h1.8M383.4 558.2v1.8M382.2 553.49h1.2M387.23 558.2v1.2M382.2 550.73h1.2M389.47 558.2v1.2M382.2 548.78h1.2M391.06 558.2v1.2M382.2 547.26h1.2M392.29 558.2v1.2M382.2 546.02h1.2M393.3 558.2v1.2M382.2 544.97h1.2M394.15 558.2v1.2M382.2 544.07h1.2M394.89 558.2v1.2M382.2 543.27h1.2M395.54 558.2v1.2M382.2 542.55h1.8M396.12 558.2v1.8M382.2 537.84h1.2M399.96 558.2v1.2M382.2 535.08h1.2M402.2 558.2v1.2M382.2 533.13h1.2M403.79 558.2v1.2M382.2 531.61h1.2M405.02 558.2v1.2M382.2 530.37h1.2M406.03 558.2v1.2M382.2 529.32h1.2M406.88 558.2v1.2M382.2 528.42h1.2M407.62 558.2v1.2M382.2 527.62h1.2M408.27 558.2v1.2M382.2 526.9h1.8M408.85 558.2v1.8M382.2 522.19h1.2M412.68 558.2v1.2M382.2 519.43h1.2M414.92 558.2v1.2M382.2 517.48h1.2M416.51 558.2v1.2M382.2 515.96h1.2M417.74 558.2v1.2M382.2 514.72h1.2M418.75 558.2v1.2M382.2 513.67h1.2M419.6 558.2v1.2M382.2 512.77h1.2M420.34 558.2v1.2M382.2 511.97h1.2M420.99 558.2v1.2M382.2 511.25h1.8M421.57 558.2v1.8M382.2 506.54h1.2M425.41 558.2v1.2M382.2 503.78h1.2M427.65 558.2v1.2M382.2 501.83h1.2M429.24 558.2v1.2M382.2 500.31h1.2M430.47 558.2v1.2M382.2 499.07h1.2M431.48 558.2v1.2M382.2 498.02h1.2M432.33 558.2v1.2M382.2 497.12h1.2M433.07 558.2v1.2M382.2 496.32h1.2M433.72 558.2v1.2" stroke="#555" stroke-width="0.4"/>
<g font-size="5.1" fill="#1a1a1a" text-anchor="middle">
<text x="384.6" y="566.5">10<tspan font-size="3.4" dy="-1.8">0</tspan></text>
<text x="397.32" y="566.5">10<tspan font-size="3.4" dy="-1.8">1</tspan></text>
<text x="410.05" y="566.5">10<tspan font-size="3.4" dy="-1.8">2</tspan></text>
<text x="422.77" y="566.5">10<tspan font-size="3.4" dy="-1.8">3</tspan></text>
<text x="435.5" y="566.5">10<tspan font-size="3.4" dy="-1.8">4</tspan></text>
</g>
<path d="M371 507.6V519.45M371 541.95V553.5" stroke="#111" stroke-width="0.9"/>
<path d="M371 504.6l1.5 4.2h-3z" fill="#111"/>
<text transform="translate(373.9 530.7) rotate(-90)" font-size="8" text-anchor="middle">Sca-1</text>
<path d="M463.5 498.5h1M472.5 500h1M470.5 500.5h1M469 501.5h1m8 0h1M469 502h1M464.5 502.5h1M468 503.5h1M467 504h1m3.5 0h1M466.5 504.5h1m5 0h1M467 505h1.5m1 0h1m5 0h1M468.5 505.5h1m0 0h1m10.5 0h1M463 506h1m8.5 0h1m0.5 0h1.5M465.5 506.5h1m1.5 0h1.5m0 0h1m2.5 0h1m0 0h1m9 0h1M466 507h1m6 0h1m3 0h1m0 0h1M464 507.5h1m3.5 0h1m12.5 0h1M468.5 508h1.5m2 0h1m8.5 0h1M482.5 508.5h1M464.5 509h1m3 0h1m1.5 0h1M466.5 509.5h1m0 0h1M463 510h1m6.5 0h1m1.5 0h1m0 0h1m10 0h1m3 0h1M469 510.5h1m0 0h1m1 0h1m12 0h1M464 511h1m0 0h1m0.5 0h1M468 511.5h1.5m7 0h1M491 512h1M465 512.5h1m1.5 0h1m4 0h1M470.5 513h1m1.5 0h1M471 513.5h1m2 0h1m2.5 0h1M463.5 514h1m0.5 0h1m18.5 0h1M463.5 514.5h1m7.5 0h1m0.5 0h1m11 0h1M463 515h1m0 0h1m4.5 0h1m4.5 0h1.5m7.5 0h1M474 515.5h1m2 0h1m5.5 0h1M463.5 516h1m3 0h1m1.5 0h1m0 0h1.5M473 516.5h1M465 517h1m3 0h1m0.5 0h1.5M466 517.5h1.5m0.5 0h1m3 0h1m1 0h1m1 0h1M467.5 518h1m2 0h1m10 0h1m7.5 0h1M464 518.5h1m1.5 0h1m0.5 0h1M468.5 519h1m1.5 0h1m1.5 0h1m1.5 0h1m11.5 0h1m4 0h1M469.5 519.5h1m13.5 0h1M468 520h1m0 0h1M468.5 520.5h1.5m21.5 0h1M464.5 521h1m2 0h1m9 0h1M470.5 521.5h1M465 522h1m20 0h1M464 522.5h1m0 0h1M470 523h1m2.5 0h1M472 523.5h1M475.5 524h1M463.5 524.5h1m1.5 0h1m14 0h1M464 525h1m2 0h1M471 525.5h1.5M469 526h1M467.5 526.5h1m5 0h1m1.5 0h1M467 527h1M464.5 527.5h1m8 0h1m12.5 0h1M472 528h1M465 528.5h1m0.5 0h1m7 0h1M467.5 529h1m1.5 0h1M474.5 529.5h1M464 530h1m2 0h1m1.5 0h1m5.5 0h1m6 0h1M469 530.5h1m13 0h1M463.5 531h1.5m26 0h1M464 532.5h1m1 0h1m17 0h1M463 533h1m4.5 0h1m8.5 0h1m1.5 0h1m1 0h1M483.5 533.5h1m1 0h1m6 0h1m3 0h1M464 534h1m6 0h1m11 0h1M479 534.5h1M466 535.5h1m1 0h1.5m1.5 0h1m2 0h1m1 0h1m5 0h1m3.5 0h1m2 0h1M464 536h1m2 0h1m1.5 0h1m10 0h1m5 0h1M490 536.5h1M465 537h1m0.5 0h1m1.5 0h1m15 0h1M465 537.5h1m1 0h1.5m9 0h1m7.5 0h1m4.5 0h1M467.5 538h1m4 0h1.5m3 0h1m0.5 0h1m13.5 0h1M464 538.5h1m1 0h1.5m2.5 0h1m2.5 0h1m3.5 0h1m6 0h1m3.5 0h1.5M465.5 539h1m3 0h1m0 0h1m4.5 0h1m12.5 0h1M482.5 539.5h1m2 0h1M464.5 540h1m0.5 0h1m3 0h1m1 0h1m13.5 0h1m0 0h1M466 540.5h1m11 0h1m4.5 0h1m6 0h1M465.5 541h1m1.5 0h1m8 0h1m4.5 0h1.5M463 541.5h1.5m1 0h1m8 0h1M465.5 542h1m7.5 0h1m0 0h1.5m2.5 0h1.5m1.5 0h1m0 0h1M463 542.5h1.5m5 0h1m8 0h1.5m7 0h1M482.5 543h1m7 0h1M464 543.5h1.5m7.5 0h1m5 0h1m1 0h1m0 0h1m3 0h1M464.5 544h1m10 0h1m6 0h1m9 0h1M463.5 544.5h1m2 0h1m18 0h1M465 545h1m22 0h1m3.5 0h1M473 545.5h2m10 0h1.5M464.5 546h1m1 0h1m8.5 0h1M468 546.5h1m5.5 0h1m3 0h1m11 0h1M469.5 547h1m3.5 0h1m0 0h1m0.5 0h1m0 0h1m2 0h1m11 0h1M469.5 547.5h1m3 0h1m8.5 0h1M463 548h1.5m0.5 0h1m13.5 0h1m0 0h1M467 548.5h1.5m13.5 0h1m2.5 0h1m5 0h1M466.5 549h1m0 0h1m1.5 0h1m2 0h1m6 0h1m6 0h1m5 0h1m0 0h1M464.5 549.5h1m8 0h1m2.5 0h1m0.5 0h1m3 0h1M475 550h1m4.5 0h1m0.5 0h1m1.5 0h1M474.5 550.5h1m4.5 0h1.5m0 0h1m0 0h1M464 551h1m0.5 0h1m0 0h1m0 0h1m2 0h1m4 0h1m7.5 0h1m10 0h1M466.5 551.5h1m3 0h1m4.5 0h1.5m2 0h1M463.5 552h1m2 0h1m6 0h1m0.5 0h1m0 0h1m14.5 0h1M463.5 552.5h1.5m8 0h1m1 0h1m1.5 0h1M463 553h1m0 0h1m4 0h1m2 0h1m3 0h1m5 0h1M466.5 553.5h1m2 0h1.5m0.5 0h1m14 0h1m3.5 0h1M478.5 554h1m3.5 0h1.5M466.5 554.5h1m5 0h1m3.5 0h1m0 0h1m1.5 0h1m2 0h1m2.5 0h1M463 555h1m8.5 0h1m2 0h1m2 0h2m2 0h1M470 555.5h1.5m5.5 0h1.5m5.5 0h1M463.5 556h1m0.5 0h1m1 0h1m1.5 0h1m1 0h1m1 0h1m1 0h1.5m0.5 0h1m13 0h1M464.5 556.5h1m4.5 0h1m1 0h1m3.5 0h1m1 0h1m3.5 0h1m0.5 0h1M465.5 557h1m0.5 0h1m1.5 0h1m1 0h1.5m3 0h1m1.5 0h1m0 0h1.5m7.5 0h1M463.5 557.5h1m0.5 0h1.5m2 0h1m3 0h1.5m2 0h1m7 0h1m7 0h1M472 558h1m2.5 0h1m7.5 0h1m6.5 0h1M464 558.5h1m1 0h1m2 0h1.5m0 0h1m0 0h1m3.5 0h1m4 0h1" stroke="#777" stroke-width="1" fill="none"/>
<path d="M469 501h1M470 502h1M466 502.5h1M473 503h1m14.5 0h1M465 503.5h1m0 0h1M463.5 504h1m6.5 0h1m0.5 0h1M463.5 505h1m7 0h1m6.5 0h1M463.5 505.5h1m3 0h1.5m5.5 0h1m9 0h1M469.5 506h1m0.5 0h1M466 506.5h1M465 507h1m0.5 0h1m0.5 0h2m0.5 0h1.5m16.5 0h1M463 507.5h1.5m1.5 0h1m0.5 0h1m2 0h1m0 0h1m1.5 0h1m11 0h1M463 508h2m0.5 0h1.5m0 0h2m1.5 0h1m0 0h1m0 0h1m1.5 0h1m4.5 0h1m3 0h1M463 508.5h1m0.5 0h1m0.5 0h1m0.5 0h2m0 0h1.5m0.5 0h1m1 0h1m2 0h1m2 0h1m1.5 0h1M463.5 509h1m1 0h2.5m0 0h1m0 0h1m0 0h1.5m0 0h1m0.5 0h1m2.5 0h1.5m5 0h1M463 509.5h1m0 0h1.5m0.5 0h1m0 0h1m0 0h1m0 0h4.5m0.5 0h1.5m0 0h1m0.5 0h1m0.5 0h1m9.5 0h1M464 510h1m0.5 0h1m0.5 0h1m0 0h2m0 0h1m2.5 0h1m1.5 0h1m11 0h1M464 510.5h1m0 0h1m0 0h1m0 0h2.5m0 0h1m0 0h2m0.5 0h1m0 0h2m7 0h2.5m1.5 0h1M463 511h1.5m2.5 0h2.5m0 0h3m0.5 0h1m1.5 0h1m11.5 0h1m0 0h1m0 0h1.5M464 511.5h1.5m1 0h2m0.5 0h2.5m0 0h1m0 0h2m1 0h1m8 0h1.5m1.5 0h1M463 512h2.5m0 0h1m0 0h1m0 0h1.5m0 0h4.5m0 0h1.5m0 0h1m0 0h1m0.5 0h1m7 0h1M463 512.5h2.5m0 0h2.5m0 0h2.5m0 0h2m0.5 0h1.5m7.5 0h1m1 0h1m4 0h1M463.5 513h2m0 0h1.5m0.5 0h1.5m0 0h2m0 0h2.5m0 0h1m0.5 0h1m7 0h1m1 0h1m1 0h1M463 513.5h5m0.5 0h1.5m0.5 0h1m0.5 0h1m0 0h1.5m0 0h1.5m5 0h1m1.5 0h1m0.5 0h1m0 0h1M463 514h1m2 0h2.5m0 0h3.5m0 0h2.5m5.5 0h1m6 0h1M463 514.5h1m0 0h1.5m0.5 0h4.5m0 0h1m1 0h1m13.5 0h1m0.5 0h1m0 0h1M463.5 515h1m0 0h1m0 0h4.5m0.5 0h3m0.5 0h1m14.5 0h1.5M463.5 515.5h1m0.5 0h3m0 0h3m0 0h3m2 0h1.5m10 0h1.5M464.5 516h2m1.5 0h2.5m2.5 0h1m0 0h2m6.5 0h1M465 516.5h1m0 0h1.5m0 0h3m0 0h1m0.5 0h1m0.5 0h1m1.5 0h1m9 0h1m2 0h1M463.5 517h1m0 0h1m0.5 0h1.5m0 0h2m0 0h1.5m4 0h1m2 0h1m6.5 0h1M464 517.5h1m2 0h1.5m0 0h1.5m0.5 0h1m0 0h1m2.5 0h1M463.5 518h1m2 0h1m0.5 0h2m1 0h1m0.5 0h1m1 0h1.5M463 518.5h1m0.5 0h1m1.5 0h1m0.5 0h1.5m0 0h1.5m1 0h1m0.5 0h1m1.5 0h1m12 0h1M463.5 519h1.5m0 0h1m3 0h1.5m1 0h1.5m4 0h1m6.5 0h1M470 519.5h1m0 0h1m0 0h1m1.5 0h1M463.5 520h1m4 0h1m0 0h1m9.5 0h1m1 0h1M463.5 520.5h1m2 0h1m6.5 0h1M465.5 521h1M466 521.5h1m0.5 0h1m1 0h1M467 522h1.5m0.5 0h1.5m0 0h1M466 523h1m2 0h1m0.5 0h1M467 523.5h1m2.5 0h1M469 524h1m0 0h1m3 0h1M475 524.5h1M465.5 525h1m6 0h1M463.5 525.5h1m0.5 0h1m2.5 0h1m4.5 0h1M463.5 526h1m0.5 0h1.5m0.5 0h1m4.5 0h1M465 527h1m4.5 0h1M467.5 527.5h1m3.5 0h1m0 0h1m2 0h1M464 528h1m2 0h1m2 0h1m0.5 0h1m4.5 0h1m1.5 0h1M468 528.5h1.5m1.5 0h2m0.5 0h1m0.5 0h1.5M465.5 529h1m1.5 0h1m1.5 0h1m0 0h1.5m4.5 0h1M468 529.5h2m0 0h1m0 0h1m2 0h1m3 0h1m7.5 0h1M465 530h1m0 0h1m2 0h1m0 0h1m0 0h2.5m9 0h1m6.5 0h1M465 530.5h2m0 0h1m0.5 0h1m6 0h1.5M464.5 531h1m2 0h1m0 0h2m1.5 0h1m0.5 0h1M466 531.5h1m2 0h1m0.5 0h2m0 0h1m0 0h1m0.5 0h1m0.5 0h1.5m9.5 0h1M466 532h1m1.5 0h1.5m0 0h1.5m0.5 0h1m4.5 0h1m2 0h1M467 532.5h1m0.5 0h1m1 0h1m1.5 0h1M465.5 533h1m0 0h1m0 0h1.5m1 0h1.5m8 0h1m8.5 0h1m3.5 0h1M467 533.5h2.5m0 0h1.5m0.5 0h1m1.5 0h1m0.5 0h1m1.5 0h1m0 0h1m4 0h1m2.5 0h1m6 0h1M469.5 534h1m2.5 0h1m0 0h1m1 0h1m0 0h1m6 0h1M463 534.5h1m3 0h1m0 0h1m0 0h1m2.5 0h1m1 0h2m0 0h1m0 0h1M466 535h1.5m1.5 0h1m0.5 0h1.5m11 0h1m1.5 0h1m5 0h1M463.5 535.5h2m1.5 0h1m1 0h1m2 0h1.5m0 0h1m0 0h1m0 0h1m4 0h1m2.5 0h1m6 0h1M463.5 536h1m0.5 0h1m0 0h1.5m4 0h2m0 0h1m0.5 0h1m0 0h1m0 0h1m3.5 0h1M463 536.5h1m1 0h1m3.5 0h1m1 0h1m0 0h1m2.5 0h1m0 0h1m2.5 0h1m4 0h1.5M463 537h1m2 0h1m0 0h2m0.5 0h1m0.5 0h1.5m1.5 0h1m1 0h1m13.5 0h1M466.5 537.5h1m2 0h1.5m0.5 0h1.5m0 0h1m1.5 0h1.5m3 0h1m0.5 0h1m1.5 0h1m0.5 0h1m3 0h1m0 0h1m1 0h1M463 538h2m0.5 0h1.5m0 0h1m0 0h1.5m0 0h2m0 0h1m1 0h1m0 0h1m3.5 0h1m5.5 0h2m0 0h1m0.5 0h1m0 0h1M463 538.5h1m1 0h1.5m0.5 0h1m0.5 0h2m0.5 0h2m1 0h1m0 0h1m3 0h1m0.5 0h1m5 0h1M463.5 539h1m0 0h1m1 0h1m0 0h1m0 0h1m0.5 0h1m0 0h1m0.5 0h1m0.5 0h1m4.5 0h1m2.5 0h1m0 0h1m0 0h2m12 0h1M464 539.5h1m1.5 0h1.5m0 0h1.5m2 0h2m0 0h1m0.5 0h1.5m0 0h1m3.5 0h1m2.5 0h1m1 0h1M463 540h1m0 0h1m0 0h1.5m0 0h1m0 0h1m2 0h1.5m0.5 0h1m0 0h1.5m0.5 0h1m2 0h1m0 0h1m0.5 0h1m1 0h1.5M463.5 540.5h1.5m0 0h1.5m1 0h1m0.5 0h2.5m0 0h1.5m1.5 0h1m9 0h1.5m1 0h1m0 0h2M463.5 541h1.5m1 0h2.5m0 0h1m0 0h1m0.5 0h2m0 0h1.5m0 0h1.5m0.5 0h1m0.5 0h1m2 0h1m2 0h1.5m0.5 0h1m1 0h2m3 0h1m2 0h1M464 541.5h2m0 0h1m0.5 0h1m0 0h4m0.5 0h1m0 0h1m0 0h1m0.5 0h1.5m2.5 0h1m1 0h1m1 0h1.5m0.5 0h1m0 0h1m1.5 0h1m3.5 0h1M463.5 542h2.5m0.5 0h2m1 0h3m0 0h1m1 0h1m2.5 0h1m6 0h2m0 0h1m0 0h1m0.5 0h1m1 0h1m0 0h1M464 542.5h1.5m0.5 0h2m0.5 0h1.5m0 0h2m0 0h1m0 0h1m0 0h1m0 0h1m0 0h1m0 0h1m2.5 0h1m1.5 0h2m0 0h1m0 0h1.5m2.5 0h1m2 0h1M464.5 543h1m0 0h2m0.5 0h1m0 0h2.5m0 0h1m0.5 0h1.5m0 0h1m0 0h1m0.5 0h1m6 0h1.5m0.5 0h1.5m0.5 0h2m2.5 0h1m1.5 0h1M463 543.5h1.5m1.5 0h2.5m0.5 0h3m0.5 0h1m0.5 0h2m0.5 0h1.5m4.5 0h2.5m5.5 0h1m1 0h1m3.5 0h1M463 544h2m0 0h6m0.5 0h1m0 0h1m0.5 0h1.5m1.5 0h1m1 0h1m0 0h1m1 0h1m1.5 0h1.5m0.5 0h1m0 0h1.5m0 0h1m3.5 0h1M464.5 544.5h2.5m0.5 0h1.5m0.5 0h1m0 0h1m0 0h5m0 0h1.5m1 0h1m1.5 0h1m0 0h1m0 0h1.5m1 0h2.5m2 0h1m3 0h1M463 545h1m0 0h1m0.5 0h2.5m0 0h3m0 0h3m0 0h1.5m1.5 0h1m0 0h1m0 0h1m2 0h1.5m0 0h1m0.5 0h3m1 0h1m0.5 0h1m2.5 0h1M463 545.5h10.5m1.5 0h1m0 0h1m0.5 0h1.5m2.5 0h1.5m3.5 0h1m0 0h1.5m0 0h1m1.5 0h1M464 546h1m0 0h2m0 0h5m0.5 0h1m0 0h2.5m0.5 0h1m4.5 0h1m1 0h1m0.5 0h1m2 0h1m0 0h1m0.5 0h1m1 0h1M463.5 546.5h1m0 0h1.5m1 0h1m0.5 0h1.5m0 0h3m0 0h1m0 0h1m0 0h1m0 0h1m0 0h1m2 0h1m1 0h1.5m0 0h2m0 0h2m2.5 0h1M463 547h3.5m0 0h2m0 0h1.5m0.5 0h3m1 0h1m0 0h1m0.5 0h1m1 0h1m2.5 0h1m0 0h1.5m0 0h1m1.5 0h1.5m0 0h1m1 0h1M463.5 547.5h1m0.5 0h5m0 0h1m0.5 0h2.5m0 0h1m0.5 0h1m0.5 0h1m4.5 0h1m0 0h1.5m0.5 0h1m0.5 0h1m0.5 0h1.5M464 548h1.5m0 0h2m0 0h2.5m0 0h5m0 0h1m0 0h1m0 0h1.5m3 0h1.5m1.5 0h1m0 0h1m1 0h2M463 548.5h1m1 0h1m0 0h1.5m0.5 0h1m0 0h3m0.5 0h1.5m0 0h1m0 0h1m0 0h1m2.5 0h1m2 0h1m1.5 0h1m2 0h2.5M463 549h1.5m0.5 0h2m1 0h1m0 0h1.5m0 0h2.5m0.5 0h1m0 0h1.5m2 0h1m0 0h1m3 0h1m0.5 0h1m0 0h1m1 0h1.5m0 0h1m2 0h1.5M463.5 549.5h1.5m0.5 0h3m1 0h1m0 0h2m0 0h1.5m1.5 0h1m7 0h2m0 0h1m0 0h1m0 0h1m1.5 0h1M463.5 550h3.5m0 0h1m0 0h3m0 0h1.5m0 0h2m3 0h1m0.5 0h2m1.5 0h1.5m5 0h1m5 0h1M465 550.5h1.5m0 0h2.5m0 0h3.5m0 0h1m0 0h1.5m1 0h1.5m6.5 0h3m0.5 0h1M463 551h1.5m0.5 0h1m0 0h1m0 0h1m0 0h3m0 0h1.5m0 0h2m1.5 0h1.5m2.5 0h1m2 0h1m2 0h1M463 551.5h2m0 0h2m0 0h1.5m0 0h1.5m1 0h2m0.5 0h1.5m0.5 0h1m4 0h1m1.5 0h1m1 0h1m2 0h1.5M464.5 552h1m0 0h1.5m0 0h3m0 0h2m0.5 0h1.5m1.5 0h1m0 0h1m0.5 0h1m0 0h1m0 0h1m4 0h1m0.5 0h1.5m0 0h1m1 0h1.5M464.5 552.5h1m0 0h1m0 0h2.5m0.5 0h2m0 0h2m3.5 0h1m6 0h1m0 0h1M465 553h1m0 0h1m0 0h2m0.5 0h1m0.5 0h1.5m0.5 0h3.5m1 0h1.5m1.5 0h1M464.5 553.5h1m0.5 0h1m0 0h2m3.5 0h1m1 0h1m0 0h1m2.5 0h1m9.5 0h1M463.5 554h1m0 0h1m0 0h1.5m0.5 0h2.5m0.5 0h2.5m0 0h1m1.5 0h1.5m0 0h1M467 554.5h1.5m0 0h1m0 0h1m0.5 0h1m1 0h2m0.5 0h1m1 0h1m0.5 0h1m1 0h1m2 0h1M463.5 555h1.5m1.5 0h1.5m0 0h2.5m1 0h1.5m0 0h1m0.5 0h1m1.5 0h1.5m13.5 0h1M463 555.5h1m0 0h1m0 0h1m0.5 0h1.5m0.5 0h1.5m1.5 0h1m0.5 0h1m17 0h1M465.5 556h1.5m1.5 0h1.5m2 0h1m1.5 0h1.5m4 0h1m3 0h1.5M463.5 556.5h1m1 0h1m1 0h3m0.5 0h1.5m1 0h1m1.5 0h1m0.5 0h1m0.5 0h1m0.5 0h1M463.5 557h2m0.5 0h1m0.5 0h1m0.5 0h1m0 0h2m0.5 0h1m0 0h1m3 0h1m4 0h1M464 557.5h1m1.5 0h1m0 0h1m1.5 0h1m0 0h1m0 0h1m2 0h1m2 0h1M463.5 558h1m0 0h2.5m0 0h1m0 0h1m2 0h1m0.5 0h1m0 0h2.5m0 0h1.5m15 0h1.5M471 558.5h1m1.5 0h1.5m0 0h1" stroke="#1a1a1a" stroke-width="1" fill="none"/>
<rect x="462.5" y="496.8" width="50.8" height="62" fill="none" stroke="#222" stroke-width="0.9"/>
<path d="M462.5 496.8V558.8H513.3" fill="none" stroke="#111" stroke-width="1.2"/>
<path d="M480.5 496.8V558.8M462.5 535.3H513.3" stroke="#444" stroke-width="0.8"/>
<path d="M503.2 496.8V515.1M493.5 507.4H512.7" stroke="#111" stroke-width="0.9"/>
<g font-size="5.1" font-weight="bold" text-anchor="middle" fill="#222">
<text x="498.2" y="504.1">21</text>
<text x="507.8" y="504.1">2</text>
<text x="498.2" y="512.8">70</text>
<text x="507.8" y="512.8">7</text>
</g>
<g font-size="4" fill="#555">
<text transform="translate(459.5 558.8) rotate(-90)" text-anchor="middle">10<tspan font-size="2.6" dy="-1.2">0</tspan></text>
<text transform="translate(459.5 543.3) rotate(-90)" text-anchor="middle">10<tspan font-size="2.6" dy="-1.2">1</tspan></text>
<text transform="translate(459.5 527.8) rotate(-90)" text-anchor="middle">10<tspan font-size="2.6" dy="-1.2">2</tspan></text>
<text transform="translate(459.5 512.3) rotate(-90)" text-anchor="middle">10<tspan font-size="2.6" dy="-1.2">3</tspan></text>
<text transform="translate(459.5 496.8) rotate(-90)" text-anchor="middle">10<tspan font-size="2.6" dy="-1.2">4</tspan></text>
</g>
<path d="M461.3 558.8h1.8M462.5 558.8v1.8M461.3 554.13h1.2M466.32 558.8v1.2M461.3 551.4h1.2M468.56 558.8v1.2M461.3 549.47h1.2M470.15 558.8v1.2M461.3 547.97h1.2M471.38 558.8v1.2M461.3 546.74h1.2M472.38 558.8v1.2M461.3 545.7h1.2M473.23 558.8v1.2M461.3 544.8h1.2M473.97 558.8v1.2M461.3 544.01h1.2M474.62 558.8v1.2M461.3 543.3h1.8M475.2 558.8v1.8M461.3 538.63h1.2M479.02 558.8v1.2M461.3 535.9h1.2M481.26 558.8v1.2M461.3 533.97h1.2M482.85 558.8v1.2M461.3 532.47h1.2M484.08 558.8v1.2M461.3 531.24h1.2M485.08 558.8v1.2M461.3 530.2h1.2M485.93 558.8v1.2M461.3 529.3h1.2M486.67 558.8v1.2M461.3 528.51h1.2M487.32 558.8v1.2M461.3 527.8h1.8M487.9 558.8v1.8M461.3 523.13h1.2M491.72 558.8v1.2M461.3 520.4h1.2M493.96 558.8v1.2M461.3 518.47h1.2M495.55 558.8v1.2M461.3 516.97h1.2M496.78 558.8v1.2M461.3 515.74h1.2M497.78 558.8v1.2M461.3 514.7h1.2M498.63 558.8v1.2M461.3 513.8h1.2M499.37 558.8v1.2M461.3 513.01h1.2M500.02 558.8v1.2M461.3 512.3h1.8M500.6 558.8v1.8M461.3 507.63h1.2M504.42 558.8v1.2M461.3 504.9h1.2M506.66 558.8v1.2M461.3 502.97h1.2M508.25 558.8v1.2M461.3 501.47h1.2M509.48 558.8v1.2M461.3 500.24h1.2M510.48 558.8v1.2M461.3 499.2h1.2M511.33 558.8v1.2M461.3 498.3h1.2M512.07 558.8v1.2M461.3 497.51h1.2M512.72 558.8v1.2" stroke="#555" stroke-width="0.4"/>
<g font-size="5.1" fill="#1a1a1a" text-anchor="middle">
<text x="463.7" y="567.1">10<tspan font-size="3.4" dy="-1.8">0</tspan></text>
<text x="476.4" y="567.1">10<tspan font-size="3.4" dy="-1.8">1</tspan></text>
<text x="489.1" y="567.1">10<tspan font-size="3.4" dy="-1.8">2</tspan></text>
<text x="501.8" y="567.1">10<tspan font-size="3.4" dy="-1.8">3</tspan></text>
<text x="514.5" y="567.1">10<tspan font-size="3.4" dy="-1.8">4</tspan></text>
</g>
<path d="M449.5 508.8V521.46M449.5 541.74V554.1" stroke="#111" stroke-width="0.9"/>
<path d="M449.5 505.8l1.5 4.2h-3z" fill="#111"/>
<text transform="translate(452.4 531.6) rotate(-90)" font-size="8" text-anchor="middle">B220</text>
<path d="M386.5 577h1M393 578.5h1M405.5 579.5h1M389 580h1M385 582h1m6 0h1M389.5 583h1M392.5 584h1M394 584.5h1M391.5 585h1M391.5 585.5h1m1 0h1m3.5 0h1M385 586h1m10.5 0h1M390.5 587h1m4 0h1m2 0h1M388 588.5h1M386.5 589.5h1M385.5 590h1M385 590.5h1m5 0h1M388.5 591.5h1m4.5 0h1M384.5 592h1m14.5 0h1M390 592.5h1m4.5 0h1M389 593h1m33.5 0h1M395 593.5h1m0 0h1.5m5.5 0h1m0 0h1M385.5 594h1m7 0h1m3.5 0h1m12.5 0h1m6.5 0h1M384 594.5h1m1.5 0h1m9 0h1M390.5 595h1m7 0h1m31 0h1M385 595.5h1m2.5 0h1m0.5 0h1m0 0h1m7 0h1m5 0h1M397.5 596h1m5 0h1m24.5 0h1M386 596.5h1m0.5 0h1m19.5 0h1m1.5 0h1M387 597h2m4.5 0h1m0.5 0h1M385 597.5h1m5.5 0h1.5m5 0h1M385 598h1m8.5 0h1m7.5 0h1m7 0h1M384.5 598.5h1m0 0h1m0.5 0h1m2 0h1.5m2 0h1m0.5 0h1m0 0h1m2 0h1M402 599h1.5M388 599.5h1m2 0h1M390.5 600h1.5m19.5 0h1M385.5 600.5h1m3 0h1.5m3.5 0h1m0.5 0h1m6 0h1M403 601h1M384.5 601.5h1m16 0h1M386.5 602h1m0.5 0h1m0.5 0h1m8 0h1m0.5 0h1M390 602.5h1m2.5 0h1m4 0h1m0 0h1.5M398.5 603h1.5M392 603.5h1m3.5 0h1m11.5 0h1M389.5 604h1m2 0h1m0.5 0h1M387.5 604.5h1.5m6 0h1M389.5 605h1m1.5 0h1m4.5 0h1m1 0h1m13 0h1M385.5 605.5h1m0.5 0h1m0.5 0h1m6 0h1m0 0h1.5m1 0h1m1.5 0h1m5.5 0h1M384 606.5h1m7.5 0h1M386 607h1m7 0h1M385 607.5h1m2.5 0h1m3.5 0h1m5.5 0h1M385.5 608h1m5.5 0h1m4 0h1m0.5 0h1M386 608.5h1m2.5 0h1m0.5 0h1m6.5 0h1m1.5 0h1m9 0h1M385 609h1m0.5 0h1m1.5 0h1m20.5 0h1m0 0h1M384 609.5h1m8.5 0h1m0.5 0h1m2 0h1m0.5 0h1M385 610h1m11 0h1.5m4 0h1m5 0h1M390 610.5h1m1.5 0h1m1.5 0h1m0 0h1m5.5 0h1m2 0h1m0 0h1M391 611h1m2.5 0h1m1.5 0h1m12.5 0h1M385 611.5h1m0 0h1m6.5 0h1m2 0h2m1.5 0h1m4 0h1M384.5 612h1m18 0h1m11 0h1M385.5 612.5h1m22 0h1m5.5 0h1M384 613h1m5.5 0h1m0.5 0h1m6.5 0h1m3 0h1M384 613.5h1m2 0h1m3.5 0h1m1 0h1m2 0h1m6.5 0h1m7 0h1m1.5 0h1M385.5 614h1m6.5 0h1m3 0h1m11 0h1m2.5 0h1M391.5 614.5h1m1 0h1.5m0.5 0h1m13.5 0h1m0 0h1M385.5 615h1m9 0h1m3.5 0h1.5m10.5 0h1m6.5 0h1M391.5 615.5h1m1 0h1m1.5 0h1m4.5 0h1m0.5 0h1m1 0h1m2 0h1.5m1 0h1m0.5 0h1M390 616h1.5m3.5 0h1m10.5 0h1m4 0h1M394 616.5h1m13 0h1M387 617h1m3 0h1m3 0h1m12 0h1m2.5 0h1M384.5 617.5h1m13.5 0h1m1.5 0h1m2.5 0h1m10 0h1M385.5 618h1.5m3 0h1m0 0h1m0 0h1m2 0h1m0 0h1m10.5 0h1M385 618.5h1m2 0h1m3.5 0h1m0 0h1m1.5 0h1m12 0h1m2 0h1m0.5 0h1M384.5 619h1m2.5 0h1m14 0h1.5m9 0h1M386.5 619.5h1m11.5 0h1m4.5 0h1m12.5 0h1M398 620h1m14 0h1m4 0h1M387.5 620.5h1m1.5 0h1m4 0h1m6.5 0h1m2 0h1m1.5 0h1m1 0h1m3 0h1M387 621h1m9 0h1m0.5 0h1m0 0h1M386.5 621.5h1m6 0h1m1.5 0h1m0 0h1.5m1 0h1m0.5 0h1m0.5 0h1m1.5 0h1M384.5 622h1m6.5 0h1m1 0h1m1 0h1m1 0h1m0 0h1m1.5 0h1m10.5 0h1M394.5 622.5h1.5m0.5 0h1m4.5 0h1m2 0h1m7.5 0h1M385.5 623h1m3.5 0h1m0 0h1m7 0h1m2.5 0h1m0.5 0h1.5m5.5 0h1m0.5 0h1M396.5 623.5h1m0.5 0h1.5m3 0h1M384.5 624h1m1.5 0h1m2.5 0h1m3.5 0h1m2 0h1m1 0h1m6.5 0h1m6.5 0h1M389 624.5h1m3.5 0h1m2.5 0h1m3.5 0h1m3 0h1M384 625h1.5m5.5 0h1m20.5 0h1M384.5 625.5h1m1.5 0h1m1.5 0h1m1.5 0h1m1 0h1m1.5 0h1m1 0h1M384.5 626h1m2 0h1m0.5 0h1m13.5 0h1M387.5 626.5h1m6 0h1m5 0h1m6 0h1M385 627h1m0 0h1m18.5 0h1m5 0h1m7 0h1M389.5 627.5h1.5m10 0h1m17.5 0h1M386 628h1m1.5 0h1m10.5 0h1m3 0h1m1 0h1m1 0h1M384 628.5h1m0.5 0h1m8 0h1m10 0h1M395.5 629h1m5.5 0h1m9.5 0h1M387.5 629.5h1.5m3 0h1m4.5 0h1m1.5 0h1M385 630h1m0.5 0h1m1.5 0h2m2 0h1m2 0h1m11.5 0h1M384.5 630.5h2m1 0h1m0 0h1.5m17 0h1M384.5 631h1m1.5 0h1.5m0 0h1m0 0h1m3 0h1m4 0h1M384 631.5h1m3 0h1m5.5 0h1m2.5 0h1M387 632h1m2.5 0h1.5m5 0h1m0 0h1m2.5 0h1M386 632.5h1m0 0h1m3 0h1m0 0h1m16.5 0h1M384 633h2m5.5 0h1" stroke="#777" stroke-width="1" fill="none"/>
<path d="M390 578h1M393 579h1M389.5 580.5h1M392.5 581h1M389.5 581.5h1M389.5 582h1m5.5 0h1M388.5 582.5h1m4 0h1m2.5 0h1M387 583.5h1m1.5 0h1m3 0h1.5M388.5 584h1m17 0h1M389.5 584.5h1M387.5 585h1m4 0h1M391 585.5h1m2.5 0h1m1 0h1M394.5 586h1m0 0h1m7.5 0h1M384.5 586.5h1m5 0h1M392 587h1.5m0.5 0h1m0 0h1M387.5 587.5h1m0 0h1m0.5 0h1m3.5 0h1M386.5 588h1m1.5 0h1m0 0h1m0.5 0h1M385 588.5h1m6 0h1m0.5 0h1m1 0h2.5M384.5 589h1m4.5 0h1M388 589.5h1m5 0h1m2 0h1M384 590h1.5m0.5 0h1m0 0h1.5m1 0h1m5 0h1M385.5 590.5h1m0.5 0h1m1 0h1m0 0h1m2 0h1M394.5 591h1m1 0h1.5M389 591.5h1m7 0h1M387.5 592h1m0 0h1m0 0h1m0 0h1.5m0 0h1m2.5 0h1.5M385.5 592.5h1m4.5 0h1.5m0.5 0h1m0 0h1M385 593h1m0 0h1m1.5 0h1m1.5 0h1.5m0.5 0h1m2.5 0h1m0.5 0h1m0.5 0h1m1.5 0h1M384.5 593.5h1m0.5 0h1m0 0h1m6.5 0h1M386.5 594h1m0 0h1m0.5 0h1.5m0 0h1m2.5 0h1m1.5 0h1M385 594.5h1m4 0h1.5m0 0h1m2 0h2.5M387.5 595h1m1 0h1m1 0h1m1.5 0h1m1 0h1m1 0h1M389 595.5h1m2 0h1m1.5 0h1m0 0h1.5m4 0h1M386.5 596h1.5m1.5 0h2m0.5 0h1M384.5 596.5h1m0 0h1m2.5 0h1m0.5 0h1m1.5 0h1m1 0h1m1.5 0h1.5M386 597h1m1.5 0h1m0 0h1m4 0h1M386.5 597.5h1m0 0h1m0 0h1m0.5 0h1m3 0h1m1 0h1m1.5 0h1M390.5 598h1m6 0h1m1.5 0h1.5M387.5 598.5h3m0.5 0h1m1 0h1m1.5 0h1m0.5 0h1M384.5 599h1m0.5 0h1.5m0.5 0h1m2 0h1m0 0h1m1 0h1m1.5 0h1m1 0h1M384 599.5h1.5m0 0h1m0 0h1m4 0h1m0 0h2m3 0h1M387 600h1.5m4.5 0h1m3 0h1m1.5 0h1.5M384 600.5h1m2 0h1.5m0.5 0h1m1 0h2.5m2 0h1m1.5 0h1m8 0h1M387 601h1m0 0h2m0.5 0h2m0 0h1m0.5 0h1m3 0h1m1 0h1m0.5 0h1M386.5 601.5h1m2.5 0h1m0 0h1m0.5 0h1m0.5 0h1m0.5 0h1m3 0h1m5.5 0h1M386 602h1m2 0h1m2 0h2m4 0h1m8 0h1M388 602.5h1m1.5 0h2.5m1.5 0h1m1 0h2m3.5 0h1m1 0h1M384.5 603h1m0.5 0h1m0.5 0h1m1.5 0h1m0 0h1.5m1 0h1m0 0h1M385.5 603.5h1m0 0h1.5m0 0h1m2.5 0h1m0 0h1.5m0 0h1m4.5 0h1M385 604h1m2.5 0h1m0.5 0h1m0.5 0h1.5m0.5 0h1m0 0h1m0 0h2m0 0h1m0 0h1m0.5 0h1m0 0h1m1.5 0h1m8 0h1m0.5 0h1M385 604.5h1m3.5 0h1.5m1 0h1.5m0 0h1.5m1 0h1M387 605h1m0 0h2m1.5 0h1m1.5 0h1m0.5 0h1.5m0 0h1m0.5 0h1m1.5 0h1m7 0h1M384.5 605.5h1.5m0.5 0h1m0 0h1m1 0h1m0 0h2.5m0 0h1.5m3.5 0h1m15 0h1M384.5 606h2m0.5 0h1.5m0 0h1m0.5 0h1m0 0h3.5m0.5 0h1m1 0h2.5m1.5 0h1M384.5 606.5h1m0 0h1m1 0h1m0.5 0h1m0 0h1.5m0 0h1.5m0 0h1m0.5 0h1m2 0h1m0.5 0h1.5m6 0h1M384.5 607h1m2 0h1m0 0h1.5m1.5 0h2.5m1 0h1m1 0h1m0 0h1m4.5 0h1m5 0h1M384.5 607.5h1m0 0h1m0 0h1m0.5 0h1m0 0h1m0 0h1.5m0.5 0h1m1.5 0h1.5m0 0h1.5m2.5 0h1m4.5 0h1m3.5 0h1m0.5 0h1M384.5 608h1m1.5 0h1m0 0h4.5m0.5 0h1.5m0 0h1.5m0 0h1.5m0 0h1m1 0h1m3.5 0h1m2.5 0h1m0 0h1M384 608.5h1m0 0h1.5m1 0h1m0 0h1m0.5 0h1.5m1.5 0h1m0 0h2m0.5 0h1m0 0h1.5m0.5 0h1m0 0h1m5 0h1M384 609h1.5m1.5 0h1.5m0 0h1m0 0h2m0.5 0h3m0 0h1.5m5.5 0h1m3.5 0h1m2.5 0h1m0 0h1M384.5 609.5h1m0 0h1m0.5 0h1m1 0h1m0 0h2m0 0h1.5m0.5 0h1.5m0.5 0h1.5m3.5 0h2m3.5 0h1m0 0h1m7 0h1M384.5 610h1m0 0h2m0.5 0h3m0.5 0h2m0.5 0h1m0 0h1.5m0 0h1m1 0h2.5m1 0h1m3 0h1m2.5 0h1m3 0h1M385 610.5h1m0 0h1.5m0 0h3m0 0h1m0.5 0h1m1 0h1.5m0 0h1m0 0h1.5m1 0h1m8 0h1m0.5 0h1.5m5 0h1M384 611h1m0 0h1.5m0 0h5m0 0h2.5m2.5 0h1m0 0h1m0.5 0h1m2.5 0h1m1 0h2m1 0h1m0 0h1.5m1.5 0h1m0 0h1m0 0h1.5M384.5 611.5h1m1 0h1m0 0h2m0 0h1m0.5 0h1m0.5 0h1.5m0 0h3m4 0h1m0.5 0h1m0.5 0h1m1.5 0h1.5m2 0h1.5M386 612h1m0 0h3.5m0 0h3.5m0 0h1m0 0h1m0.5 0h1m0.5 0h2m0 0h1m4.5 0h1m2 0h1m0 0h1m1.5 0h1M384.5 612.5h1.5m0 0h1.5m1.5 0h1.5m0 0h1m0.5 0h3.5m0.5 0h2m0 0h3m2.5 0h1m1.5 0h1m0 0h1.5m0.5 0h1m3 0h1m0.5 0h1M384.5 613h1.5m0 0h1m1 0h3m0 0h1m0.5 0h1.5m0 0h1m0.5 0h3m0.5 0h1m0.5 0h1m0.5 0h1m5.5 0h1m0.5 0h1m1 0h1M385.5 613.5h2m0 0h2.5m0.5 0h1.5m0 0h2m0 0h2.5m1 0h1m0 0h2m0.5 0h2.5m3 0h2m0.5 0h1m3.5 0h1.5M387.5 614h3.5m0 0h2.5m0.5 0h3.5m0.5 0h1m0 0h1.5m0.5 0h1m4.5 0h1m0.5 0h1m0.5 0h1.5m0 0h2m0 0h1M384 614.5h2m0 0h1m0.5 0h4m0.5 0h1m0 0h1m0.5 0h1.5m0 0h2m0 0h1m0.5 0h1.5m0.5 0h1m1.5 0h1m0.5 0h1m0 0h1m0 0h1m0.5 0h1m0.5 0h1m0.5 0h1m0 0h1m0 0h1M384 615h1m1 0h1m0.5 0h1m0.5 0h2m0.5 0h1m0 0h1.5m0 0h1.5m0.5 0h1.5m0.5 0h1.5m0 0h1m1 0h1m0 0h1m1 0h1m0.5 0h1m2 0h1.5m0.5 0h1m0.5 0h1M384 615.5h1m1.5 0h2m0 0h2m2 0h1.5m0 0h1.5m0 0h1m0.5 0h1m0 0h1.5m0.5 0h1m5 0h1.5m1.5 0h1m0 0h1m0 0h1.5m3.5 0h1m1.5 0h1M384 616h1.5m0.5 0h2.5m0 0h1m0 0h1m0.5 0h1m0 0h2.5m0 0h1m0.5 0h1m0 0h2m0.5 0h1.5m0 0h1m1 0h1m0.5 0h1.5m1.5 0h1m0.5 0h1m0 0h1m1 0h1m2.5 0h1.5m0 0h1M384.5 616.5h3.5m1 0h2m0 0h2m0 0h1.5m0 0h2.5m0 0h1m0.5 0h2m2 0h2.5m0 0h1m0 0h1m0 0h1m1 0h1.5m0 0h1m1.5 0h1.5m1.5 0h1m1 0h1M384 617h2m0 0h1.5m0.5 0h3.5m0 0h4m0 0h2.5m1.5 0h1.5m0.5 0h1m1.5 0h1m0 0h2m0 0h1m0.5 0h1m1.5 0h1m0.5 0h1m1.5 0h1m2 0h1m0 0h1M385 617.5h2m1 0h4m0 0h2m0 0h1.5m1 0h1m0 0h1m2 0h1.5m0.5 0h1m0.5 0h1m1 0h1m1 0h1m0 0h2m3 0h1M384.5 618h1m1 0h4m0 0h1m0 0h1m0 0h2.5m0.5 0h1m1.5 0h1m0 0h1m0.5 0h1m0 0h1m8 0h1M384 618.5h1.5m0 0h3m0 0h2m0 0h2.5m1 0h1m1.5 0h1m2 0h2m0.5 0h1m2 0h1.5m0 0h1.5m2 0h1m0 0h1m2 0h1M384 619h1m1.5 0h2m0 0h1.5m0 0h2.5m0.5 0h1.5m0 0h1m0 0h1m0 0h1m0 0h1.5m0.5 0h1m2 0h1m1.5 0h2m2.5 0h1m1 0h1M384.5 619.5h1m1.5 0h3.5m0 0h1m0 0h1.5m0 0h4.5m0.5 0h1m0.5 0h1m1.5 0h1m0 0h2m0 0h1m0.5 0h2m0 0h2m4.5 0h1M384 620h1m0 0h4m0 0h1m0 0h4m0 0h2.5m1 0h1m0 0h2m1 0h1m0.5 0h1.5m1 0h2.5m1.5 0h1m0 0h1.5m0 0h1m0.5 0h1m3 0h1M385.5 620.5h2m0.5 0h1.5m1 0h3.5m0 0h1.5m1 0h3.5m0.5 0h2m1.5 0h1m2 0h1m0.5 0h1m2 0h1m0 0h1m1 0h1m0.5 0h1M384 621h1m1.5 0h1m0.5 0h4m0 0h2.5m0 0h1m0.5 0h1m3.5 0h1m2 0h1.5m0 0h1.5m0 0h1m0.5 0h1m0 0h1m0 0h1M385 621.5h2m0 0h1m0.5 0h1.5m0.5 0h3.5m0 0h1.5m1 0h1m1 0h1.5m0 0h1.5m0.5 0h1m0 0h1m0 0h1m0.5 0h1m0 0h2m2.5 0h1.5m4.5 0h1M384 622h1m0 0h1m2 0h1.5m0.5 0h1m0 0h1.5m0 0h2m0 0h1.5m0.5 0h1.5m2 0h1.5m5 0h1m0 0h1m4 0h1M385 622.5h1m0 0h1m0 0h1.5m0 0h2m0 0h2.5m0 0h1m0 0h1m1 0h1m4.5 0h1m0 0h1m2.5 0h1.5m1 0h1m0 0h1.5m0.5 0h1m2 0h1M384.5 623h1m1.5 0h1.5m0 0h2m1 0h2.5m0 0h1m0 0h1m1 0h1.5m0 0h1m0 0h1.5m6 0h1m0.5 0h1.5m2 0h1M384.5 623.5h1m1.5 0h1m0 0h1.5m0 0h1.5m1 0h1.5m0 0h1.5m2.5 0h1m0.5 0h1m1.5 0h1.5m0 0h2m1 0h2m1 0h1m1 0h1m1 0h1M385 624h1m1.5 0h2m1.5 0h1m0 0h3m1 0h1m2 0h1m1.5 0h1m1 0h1m2.5 0h1m2.5 0h1M384.5 624.5h1.5m0 0h2.5m0 0h1m0 0h1m0 0h2.5m0 0h1m0 0h1m0 0h1m0.5 0h1m0 0h1m0 0h1m0 0h1m0.5 0h1M385 625h1.5m0.5 0h1m0 0h1m0 0h1.5m0 0h1m0 0h2.5m0.5 0h1m0 0h2.5m0 0h1m7 0h1.5m3 0h1m2.5 0h1m2 0h1M385 625.5h2m0.5 0h1m0.5 0h1m0.5 0h2m0 0h2m0 0h2m2.5 0h1m5 0h1m4.5 0h1M384 626h1m0 0h1.5m0.5 0h1m2 0h1.5m0 0h1.5m1 0h1.5m0 0h1m2.5 0h1m6 0h1m0.5 0h1m0.5 0h1m0.5 0h1m0.5 0h2M384 626.5h1m3 0h3m1.5 0h1m0 0h1.5m5 0h1m6 0h1m2.5 0h1m0.5 0h1M384.5 627h1m1 0h2m0 0h2m0 0h1.5m2 0h1m0 0h1m0 0h1M385.5 627.5h1m4 0h1m1 0h1m1 0h1m0 0h1m9 0h1m0 0h1M385.5 628h1m4.5 0h3.5m0.5 0h1m0.5 0h1m3 0h1m0 0h1m2.5 0h1m6.5 0h1m0 0h1M388 628.5h1m0 0h1.5m2.5 0h1.5m3 0h1m2.5 0h1.5m7 0h1m2 0h1M384.5 629h1.5m1 0h1m0.5 0h1m1 0h2.5m0.5 0h1.5m2 0h1m0 0h1.5m8.5 0h1M384 629.5h1m1 0h1m2 0h1.5m0.5 0h1.5m0 0h1m0 0h1m1.5 0h1m6.5 0h1M386 630h1m0.5 0h1m3 0h1m0 0h1m1 0h1.5m0.5 0h1m0.5 0h1m3.5 0h1m2 0h1M390.5 630.5h1m0 0h1.5m0.5 0h1m0 0h1m2.5 0h1m6 0h1m9 0h1M390 631h1m1.5 0h1m1 0h1.5m1 0h1m0 0h1m10.5 0h1m0.5 0h1M384.5 631.5h1m4.5 0h2m3 0h1m0 0h1.5m12.5 0h1M389.5 632h1.5m1.5 0h1m2.5 0h1m12.5 0h1M385.5 632.5h1m0 0h1m0.5 0h1m1.5 0h1m1 0h1m0 0h1.5m0 0h1m0.5 0h1.5m1 0h1M388 633h1m7 0h1m0 0h1m0 0h2m6 0h1" stroke="#1a1a1a" stroke-width="1" fill="none"/>
<rect x="383.4" y="571.4" width="50.9" height="62.1" fill="none" stroke="#222" stroke-width="0.9"/>
<path d="M383.4 571.4V633.5H434.3" fill="none" stroke="#111" stroke-width="1.2"/>
<path d="M401.8 571.4V633.5M383.4 609.3H434.3" stroke="#444" stroke-width="0.8"/>
<path d="M424.2 571.4V589.7M414.5 582H433.7" stroke="#111" stroke-width="0.9"/>
<g font-size="5.1" font-weight="bold" text-anchor="middle" fill="#222">
<text x="419.2" y="578.7">22</text>
<text x="428.8" y="578.7">2.7</text>
<text x="419.2" y="587.4">69</text>
<text x="428.8" y="587.4">6.1</text>
</g>
<g font-size="4" fill="#555">
<text transform="translate(380.4 633.5) rotate(-90)" text-anchor="middle">10<tspan font-size="2.6" dy="-1.2">0</tspan></text>
<text transform="translate(380.4 617.98) rotate(-90)" text-anchor="middle">10<tspan font-size="2.6" dy="-1.2">1</tspan></text>
<text transform="translate(380.4 602.45) rotate(-90)" text-anchor="middle">10<tspan font-size="2.6" dy="-1.2">2</tspan></text>
<text transform="translate(380.4 586.92) rotate(-90)" text-anchor="middle">10<tspan font-size="2.6" dy="-1.2">3</tspan></text>
<text transform="translate(380.4 571.4) rotate(-90)" text-anchor="middle">10<tspan font-size="2.6" dy="-1.2">4</tspan></text>
</g>
<path d="M382.2 633.5h1.8M383.4 633.5v1.8M382.2 628.83h1.2M387.23 633.5v1.2M382.2 626.09h1.2M389.47 633.5v1.2M382.2 624.15h1.2M391.06 633.5v1.2M382.2 622.65h1.2M392.29 633.5v1.2M382.2 621.42h1.2M393.3 633.5v1.2M382.2 620.38h1.2M394.15 633.5v1.2M382.2 619.48h1.2M394.89 633.5v1.2M382.2 618.69h1.2M395.54 633.5v1.2M382.2 617.98h1.8M396.12 633.5v1.8M382.2 613.3h1.2M399.96 633.5v1.2M382.2 610.57h1.2M402.2 633.5v1.2M382.2 608.63h1.2M403.79 633.5v1.2M382.2 607.12h1.2M405.02 633.5v1.2M382.2 605.89h1.2M406.03 633.5v1.2M382.2 604.85h1.2M406.88 633.5v1.2M382.2 603.95h1.2M407.62 633.5v1.2M382.2 603.16h1.2M408.27 633.5v1.2M382.2 602.45h1.8M408.85 633.5v1.8M382.2 597.78h1.2M412.68 633.5v1.2M382.2 595.04h1.2M414.92 633.5v1.2M382.2 593.1h1.2M416.51 633.5v1.2M382.2 591.6h1.2M417.74 633.5v1.2M382.2 590.37h1.2M418.75 633.5v1.2M382.2 589.33h1.2M419.6 633.5v1.2M382.2 588.43h1.2M420.34 633.5v1.2M382.2 587.64h1.2M420.99 633.5v1.2M382.2 586.92h1.8M421.57 633.5v1.8M382.2 582.25h1.2M425.41 633.5v1.2M382.2 579.52h1.2M427.65 633.5v1.2M382.2 577.58h1.2M429.24 633.5v1.2M382.2 576.07h1.2M430.47 633.5v1.2M382.2 574.84h1.2M431.48 633.5v1.2M382.2 573.8h1.2M432.33 633.5v1.2M382.2 572.9h1.2M433.07 633.5v1.2M382.2 572.11h1.2M433.72 633.5v1.2" stroke="#555" stroke-width="0.4"/>
<g font-size="5.1" fill="#1a1a1a" text-anchor="middle">
<text x="384.6" y="641.8">10<tspan font-size="3.4" dy="-1.8">0</tspan></text>
<text x="397.32" y="641.8">10<tspan font-size="3.4" dy="-1.8">1</tspan></text>
<text x="410.05" y="641.8">10<tspan font-size="3.4" dy="-1.8">2</tspan></text>
<text x="422.77" y="641.8">10<tspan font-size="3.4" dy="-1.8">3</tspan></text>
<text x="435.5" y="641.8">10<tspan font-size="3.4" dy="-1.8">4</tspan></text>
</g>
<path d="M371 583.4V597.45M371 615.05V628.8" stroke="#111" stroke-width="0.9"/>
<path d="M371 580.4l1.5 4.2h-3z" fill="#111"/>
<text transform="translate(373.9 606.25) rotate(-90)" font-size="8" text-anchor="middle">CD3</text>
<path d="M466.5 581h1M473 583.5h1M466 584h1m9.5 0h1m1.5 0h1M473 584.5h1M471 585h1M468 585.5h1M466 586.5h1m3 0h1m0 0h1M463.5 587h1m12 0h1M463 587.5h1m0.5 0h1m0 0h1m7 0h1m1 0h1M473.5 588h1M465 588.5h1M464 589h1m0.5 0h1M464 589.5h1.5m4.5 0h1m2 0h1m3 0h1m0 0h1M466 590h1m0 0h1m1.5 0h1.5M464.5 590.5h1m6.5 0h1M463.5 591h1m0.5 0h1m13 0h1M463.5 591.5h1.5m9.5 0h1M467.5 592h1m8.5 0h1m4.5 0h1M467 592.5h1m4.5 0h1m1.5 0h1m6.5 0h1M464.5 593h1m8 0h1M465 593.5h1m7 0h1.5M467 594h1m9.5 0h1M465.5 594.5h2m3.5 0h1m4 0h1M468 595h1m1 0h1M466.5 595.5h1m5 0h1m3 0h1m7 0h1M464.5 596h1.5m1 0h1m3.5 0h1M471 596.5h1m5.5 0h1M464 597h1m2 0h1m0.5 0h1m3 0h1m0.5 0h1M469 597.5h1m6.5 0h1m0 0h1M465 598h1m1.5 0h1m0.5 0h1m0.5 0h1m4 0h1.5M467.5 598.5h1m4 0h1M488 599.5h1M465.5 600h1m5.5 0h1M480.5 601h1M467.5 601.5h1m6.5 0h1M464 602.5h1m4.5 0h1m25 0h1M468 603.5h1M464.5 604h1m10.5 0h1M469 604.5h1m6 0h1m8 0h1m3.5 0h1M477.5 605h1m10 0h1M465 606h1M468.5 606.5h1m11.5 0h1M465.5 607h1m21 0h1M471 607.5h1M474 608h1M470 608.5h1m3.5 0h1m7.5 0h1m7 0h1m2.5 0h1M481.5 609h1m8.5 0h1M487.5 609.5h1M473.5 610h1m10.5 0h1m1 0h1M476 610.5h1m0 0h1m3.5 0h1m2 0h1M471 611h1m7 0h1m5 0h1m0.5 0h1M469 611.5h1m2.5 0h1m8.5 0h1m0 0h1M466.5 612h1m0 0h1m2 0h1m0.5 0h1m0.5 0h1m20.5 0h1M468 612.5h1m4.5 0h1m13.5 0h1M481.5 613h1m9 0h1M464 613.5h1m1 0h1M465.5 614h1m0.5 0h1m0.5 0h1m1 0h1.5M474.5 614.5h1m0.5 0h1m7.5 0h1m0.5 0h1m7 0h1M463 615h1m0 0h1m0.5 0h1m1 0h1m4.5 0h1m2.5 0h1M466 615.5h1m8 0h1m0.5 0h1m0.5 0h1m2 0h1m13.5 0h1M466.5 616h1m3 0h1m11.5 0h1m0 0h1m1.5 0h1m2 0h1m0.5 0h2M471.5 616.5h1m2.5 0h1m0 0h1m9.5 0h1M471 617h1m6.5 0h1M472 617.5h1m1 0h1m1 0h1m10.5 0h1M463 618h1m4.5 0h1m5 0h1m1 0h1.5m5 0h1m4.5 0h1M463.5 618.5h1m1.5 0h1m7 0h1m3 0h1m2.5 0h1m1.5 0h1m4.5 0h1M468 619h1m2 0h1m8 0h1m5.5 0h1m1 0h1.5m1 0h1M463 619.5h1.5m2.5 0h1m0 0h1.5m11.5 0h1m5 0h1m3.5 0h1m7.5 0h1M465 620h1.5m0.5 0h1m5 0h1m10 0h1m2.5 0h1.5m5.5 0h1M464.5 620.5h1m2 0h1.5m15.5 0h1m11.5 0h1M484 621h1m3 0h1M468 621.5h1m3.5 0h1m8.5 0h1M467 622h1m0.5 0h1m0 0h1m1.5 0h1m3 0h1m0.5 0h1m0 0h1.5m5.5 0h1m1 0h1m0.5 0h1M464 622.5h1m5.5 0h1m1 0h1m13 0h1M466 623h1.5m4.5 0h1m1.5 0h1m16.5 0h1m6 0h1M464 623.5h1m0.5 0h1m1.5 0h1m2.5 0h1m5 0h1m0.5 0h1.5m5 0h1M483 624h1M465.5 624.5h1m1.5 0h1m5.5 0h1m3 0h1m2 0h1m13.5 0h1M463 625h1m8 0h1m3 0h1M463.5 625.5h1m6 0h1m4 0h1m10 0h1M466.5 626h1m0.5 0h1m3.5 0h1m16 0h1m3 0h1M464 626.5h1.5m0 0h1m1.5 0h1m16 0h1M468.5 627h1M473.5 627.5h1m0 0h1m0.5 0h1m2 0h1m13 0h1M463 628h1m0.5 0h1m3 0h1m11.5 0h1M465 628.5h1.5m6.5 0h1.5m3.5 0h1m10.5 0h1m2 0h1M467 629h1m1.5 0h1m0.5 0h1m0 0h1m2.5 0h1m3.5 0h1m5 0h1M465 629.5h1m6 0h1m6 0h1m10.5 0h1m3.5 0h1M466 630h1m2.5 0h1m1 0h1m5 0h1m14 0h1M463 630.5h1m6.5 0h1m4 0h1m3 0h1M465 631h1m3 0h2m3 0h1m6 0h1m12.5 0h1M463 631.5h1m8 0h1m1.5 0h1m4.5 0h1m4 0h1M465 632h1.5m1 0h1m1 0h1m0 0h1m5 0h1m14 0h1M467 632.5h1m0.5 0h1M465.5 633h1.5m4 0h1m0 0h1m0.5 0h1m2 0h1m5 0h1M474 633.5h1" stroke="#777" stroke-width="1" fill="none"/>
<path d="M463 584.5h1m7 0h1M473.5 585h1M465.5 585.5h1m2 0h1M464.5 586h1m3.5 0h1m1.5 0h1M463 586.5h1M464 587h1m0 0h1m3.5 0h1.5m2 0h1M465 587.5h1m3 0h1m0 0h1m0 0h2.5M463 588h1m1 0h1m0 0h1m0 0h1.5m2 0h1.5m2 0h1M464 588.5h1.5m0 0h1.5m0 0h1m0 0h1m0 0h1m0 0h1M464.5 589h1m0.5 0h1m1.5 0h4m3 0h1M463 589.5h1m1 0h1.5m0 0h1m0 0h3m0.5 0h1m0.5 0h1m0.5 0h1m0 0h1M464 590h2.5m0 0h1m0.5 0h1m0 0h1m0.5 0h3m1 0h1m3 0h1M463 590.5h1m1 0h4m0 0h1m0 0h2m0.5 0h1m1.5 0h2M465.5 591h1.5m0 0h3m0 0h1.5m0 0h2m1 0h1M463 591.5h1m1.5 0h1m0 0h1m0 0h3m0 0h3.5m2 0h1M463 592h1.5m0 0h1m0.5 0h2m0 0h3m0 0h1m0 0h1m0 0h1m1.5 0h1M464 592.5h1m0 0h1m0.5 0h1m0 0h5.5m1 0h1m1.5 0h1m0 0h1M464 593h1m0.5 0h1m0.5 0h5m0 0h2M463 593.5h1m1.5 0h1.5m0 0h3.5m0 0h1m2.5 0h1m0 0h1M463 594h1m1 0h1.5m0 0h1m0 0h1.5m0 0h1.5m1.5 0h1m0.5 0h1.5m1.5 0h1m5.5 0h1M463.5 594.5h1.5m2 0h2m0 0h1m1.5 0h2m0 0h1m2 0h1M463 595h1m1 0h2.5m0 0h1m0 0h2m0.5 0h2m1 0h1m0 0h1m4.5 0h1M464 595.5h1m2 0h4m0 0h1m0 0h1m0 0h1M465.5 596h2m0 0h1m0.5 0h1.5m0 0h1.5m0 0h1m4 0h1M465 596.5h1.5m0.5 0h1.5m0 0h1m0 0h1.5m0.5 0h1m1 0h1m0 0h1M465 597h1.5m0 0h1m0.5 0h1m1 0h1.5M464 597.5h1m0 0h1m1 0h1m3.5 0h1M464.5 598h1m1.5 0h1m0.5 0h1m4 0h1m0.5 0h1M468 598.5h1.5m0 0h1m0 0h1M466.5 599h1m1 0h1m0.5 0h1M465.5 599.5h1m1.5 0h1m0 0h1.5M465 600h1m2 0h1m0.5 0h1M465 600.5h1m3 0h1M464 601h1m24 0h1m1.5 0h1M465.5 601.5h1M471 602h1m2.5 0h1M490.5 602.5h1M465 603h1.5m1.5 0h1m0.5 0h1m2.5 0h1m2 0h1m13.5 0h1M463.5 603.5h1m2 0h1m2.5 0h1m5 0h1m5 0h1M470.5 604h1m4 0h1M466 604.5h1m2.5 0h1m3.5 0h1m2 0h1M480.5 605h1M467.5 605.5h1m1 0h1m16 0h1m1.5 0h1.5M473 606h1m0.5 0h1m2 0h1m10 0h1M482 606.5h1m3 0h1m4.5 0h1M464.5 607h1m0.5 0h1m0.5 0h1m6.5 0h1M464 607.5h1m1 0h1m4.5 0h1.5m19 0h1M477 608h1M465 608.5h1m3 0h1m1 0h1m1 0h1m1.5 0h1m4 0h1m3 0h1m1 0h1m3 0h1M468 609h1m0.5 0h1m10 0h1.5m0 0h1m6 0h1.5m2 0h1.5M466 609.5h1m1 0h1.5m0.5 0h1m2.5 0h1m1 0h1m14.5 0h1M465 610h1m3 0h1m10.5 0h1m0 0h1m1.5 0h1m5 0h1m2.5 0h1M469 610.5h1m2.5 0h1m8.5 0h1m7 0h1m3 0h1M463.5 611h1m0 0h1m0.5 0h1m1.5 0h1m3.5 0h1m4.5 0h1m5 0h1m0 0h1m3 0h1M463 611.5h1m3 0h1.5m1 0h1m4 0h1m3.5 0h1m4.5 0h1m1 0h1m0 0h1m0.5 0h1m1 0h1m2 0h1M468 612h1m0 0h2m2 0h1m5 0h1m4 0h1m2 0h1m2 0h1m0.5 0h1m1.5 0h1M463 612.5h1m0.5 0h1m3 0h1m6 0h1m3 0h1m1 0h1m3.5 0h1m0 0h1m6 0h1M463 613h1m5.5 0h1m0 0h1m1.5 0h1.5m1.5 0h1m4 0h1m0.5 0h1.5m1 0h1m0 0h1m3 0h2m0.5 0h1M463.5 613.5h1m2.5 0h2m0.5 0h1m1 0h2.5m0 0h1m1 0h1m5 0h1m1 0h1m1 0h1m0.5 0h1m4.5 0h1M464.5 614h1m2 0h1.5m0 0h1m0 0h1m2.5 0h1m1 0h1m10 0h1m1 0h2m1.5 0h1.5M467.5 614.5h1m1 0h1m1 0h1m0.5 0h1m4.5 0h1.5m5.5 0h1m0 0h1m0 0h1m0 0h1m0 0h1m1.5 0h1M463.5 615h1m0 0h1.5m1 0h1m1.5 0h1m0 0h1m0 0h1m0 0h1m4 0h1.5m4.5 0h1m0 0h1m0.5 0h1m0 0h1m1 0h1m0.5 0h2M463.5 615.5h2m0 0h1m0.5 0h1.5m0 0h4m0 0h1m0 0h1.5m7.5 0h1m0 0h1m1.5 0h1m0 0h1m0 0h1.5m1 0h1m0 0h1M463 616h1m0.5 0h1.5m0 0h1m2 0h1.5m0.5 0h1m0 0h1.5m0 0h1m0 0h1m1 0h1m0 0h1m10.5 0h1m0.5 0h1m1 0h1.5M463.5 616.5h1.5m0 0h1m1 0h1.5m0 0h1.5m0 0h1.5m1 0h1m0 0h1m1 0h1m4 0h1m3.5 0h1m2 0h1m0 0h1.5m1 0h1m2 0h1.5m1.5 0h1M464 617h2.5m1 0h1m0 0h2.5m3 0h1m1 0h1m0.5 0h1m0.5 0h2m0 0h1.5m2 0h1m0.5 0h1m0 0h1.5m0 0h2.5m0 0h1m0 0h1m0 0h1M463.5 617.5h2m0 0h1.5m0 0h2m0 0h3.5m0 0h2m2 0h1m2.5 0h1m0 0h1m2 0h1m1.5 0h1m4 0h1m0 0h1m0.5 0h1M463.5 618h1m2.5 0h1.5m1 0h1m1 0h1m0.5 0h2m0 0h1m0 0h1m1 0h1m0.5 0h1m2 0h1m0 0h1m0 0h1m3.5 0h1.5m0.5 0h1m1 0h1m0 0h1m0.5 0h1M464 618.5h2m0.5 0h1.5m0 0h3m0.5 0h1m0 0h1.5m2 0h1.5m2.5 0h1m1 0h2.5m0.5 0h1m0 0h1m0 0h1m0.5 0h1m7 0h1M463.5 619h1m0.5 0h3m0.5 0h3m0.5 0h2m0 0h2m0 0h1m3.5 0h1m0 0h1m4.5 0h1m0 0h1m0.5 0h1m0 0h1m0.5 0h1m1.5 0h1M464 619.5h3.5m0 0h1m0.5 0h3m0 0h1m1 0h1.5m6.5 0h1m2.5 0h1.5m1.5 0h1m0 0h1.5m0 0h1m2.5 0h1m0.5 0h1m2 0h1M463.5 620h1.5m1.5 0h1m0 0h1m0 0h1.5m0 0h3.5m1 0h1m0 0h1m2 0h1m4 0h1m0 0h2m0.5 0h1m0.5 0h1m3.5 0h1M463 620.5h1m0 0h1m0 0h1m0 0h1.5m1.5 0h1m0 0h1m0 0h2.5m0 0h1m2.5 0h1m1 0h1m2 0h1m0.5 0h1m0.5 0h1m0.5 0h1m0 0h1.5m0 0h1m0 0h1.5M463.5 621h5m0 0h3m0 0h1.5m0 0h1.5m0 0h1m0 0h1m0 0h1.5m2 0h1m4 0h1m3 0h1m4.5 0h1M463.5 621.5h1.5m0.5 0h1m0.5 0h1m0.5 0h3.5m2 0h1m0 0h1m0 0h1m6.5 0h1m0 0h1m0.5 0h1m0.5 0h1m0 0h1.5m0.5 0h1m4 0h1M463.5 622h2.5m0.5 0h1m0 0h1m1.5 0h1.5m0 0h1m0 0h2m0 0h1m0 0h1m0 0h1m0.5 0h1m0.5 0h1m3 0h1.5m1.5 0h1m0.5 0h1m1.5 0h1M463 622.5h1.5m0.5 0h2.5m0 0h3m0.5 0h2m0 0h1m0.5 0h3.5m0.5 0h1.5m1 0h1m0.5 0h1m0.5 0h1m0 0h1.5m0.5 0h1m0.5 0h1m1 0h1.5m5.5 0h1M463.5 623h1.5m0 0h1.5m1 0h1m0 0h1m0 0h3m0 0h2.5m1 0h1m0 0h1m1 0h1m4.5 0h1.5m1.5 0h1m1.5 0h1M463.5 623.5h1m0 0h1.5m0 0h1.5m1 0h1.5m1 0h1m0 0h1m0 0h2m2 0h1m2.5 0h1.5m0 0h1m1 0h1m1 0h1.5m2.5 0h1m2.5 0h1M463 624h2m0.5 0h2.5m0 0h2.5m0 0h3m0 0h2m0.5 0h1.5m4.5 0h1m0.5 0h1m0 0h1m0 0h2.5m0 0h1m0 0h1m2 0h1.5M464 624.5h1m0 0h1m0 0h1m0 0h1m0.5 0h2.5m0 0h1.5m0 0h1.5m1 0h1m0 0h1m2 0h1m1 0h1m3 0h1m0.5 0h1.5m0.5 0h1m1 0h1m1 0h1m0.5 0h1M464 625h1m1 0h1m0 0h3m0 0h2.5m0 0h1.5m0.5 0h1m0 0h1m0.5 0h1m2 0h1m0.5 0h1m1 0h1m0 0h1.5m0.5 0h1m0 0h1M464.5 625.5h1m0 0h1.5m0 0h4m0 0h2m0 0h1.5m0 0h1.5m0.5 0h1m1 0h1m0.5 0h1m0 0h1m0 0h1m2 0h1m3.5 0h1m3 0h1m0 0h2M463 626h1.5m0 0h2m0.5 0h1.5m0 0h3m1.5 0h2m2.5 0h1.5m5 0h1m3 0h1.5m1 0h1M463 626.5h1.5m0.5 0h1m0 0h1m0 0h1.5m0.5 0h1m0.5 0h1m0 0h1m0.5 0h1m0.5 0h2m0.5 0h1m0 0h1m0 0h1m0 0h1m7 0h1m1.5 0h1m0 0h1M463.5 627h2m0 0h1m0 0h1m0 0h1m0.5 0h1.5m0 0h1m0.5 0h1m1.5 0h1m3 0h1m4.5 0h1m3.5 0h1M463 627.5h1m0.5 0h1m0 0h1m0 0h4.5m0.5 0h1m0.5 0h1m1.5 0h1m3 0h1M464 628h1m0.5 0h3.5m0.5 0h1.5m1 0h3m4 0h1m6 0h1m4.5 0h1M464 628.5h1m1 0h1m0 0h1m0 0h1m0 0h3m3 0h2.5m1 0h1M463 629h1m0.5 0h2.5m0.5 0h1m0.5 0h1m0 0h1m0.5 0h1m0 0h1.5m0 0h1.5m1.5 0h1.5m6 0h1m5.5 0h1M463.5 629.5h1m1 0h1m0 0h2m1.5 0h2.5m0.5 0h1m0.5 0h1.5m1.5 0h1m0 0h1m2.5 0h1M463.5 630h1m0.5 0h1m0.5 0h2m0.5 0h1m0 0h2m0.5 0h2m1 0h1m0.5 0h1m0 0h1M464 630.5h1m0.5 0h1m0.5 0h2m1 0h1m0 0h2m1 0h2m0 0h1m0 0h1m4 0h1m3.5 0h1m2 0h1m2.5 0h1M463 631h1m0 0h1m1 0h1m1 0h1m1.5 0h2.5m0 0h1.5m1 0h1m0 0h1m2.5 0h1m7 0h1.5m1.5 0h1m0.5 0h1M468 631.5h1m0 0h1m0 0h1.5m0 0h1m0 0h2.5m1.5 0h1m0 0h1m7.5 0h1M464.5 632h1m3.5 0h1m1 0h1.5m0 0h1m0.5 0h1m6.5 0h1m2.5 0h1m3 0h1M463 632.5h1m3.5 0h1m1 0h1m0.5 0h1.5m0 0h1m0 0h1m0 0h1m0 0h1m2.5 0h1m0 0h1m2.5 0h1M463.5 633h1m3.5 0h1m0 0h1.5m0 0h1m0 0h1m0 0h1.5m0 0h1m3 0h1m3 0h1m8 0h1m1 0h1M464.5 633.5h1.5m0.5 0h1m2 0h1m2 0h1.5m13.5 0h1" stroke="#1a1a1a" stroke-width="1" fill="none"/>
<rect x="462.5" y="571.8" width="50.8" height="62" fill="none" stroke="#222" stroke-width="0.9"/>
<path d="M462.5 571.8V633.8H513.3" fill="none" stroke="#111" stroke-width="1.2"/>
<path d="M480.8 571.8V633.8M462.5 609.3H513.3" stroke="#444" stroke-width="0.8"/>
<path d="M503.2 571.8V590.1M493.5 582.4H512.7" stroke="#111" stroke-width="0.9"/>
<g font-size="5.1" font-weight="bold" text-anchor="middle" fill="#222">
<text x="498.2" y="579.1">15</text>
<text x="507.8" y="579.1">1.4</text>
<text x="498.2" y="587.8">77</text>
<text x="507.8" y="587.8">7.1</text>
</g>
<g font-size="4" fill="#555">
<text transform="translate(459.5 633.8) rotate(-90)" text-anchor="middle">10<tspan font-size="2.6" dy="-1.2">0</tspan></text>
<text transform="translate(459.5 618.3) rotate(-90)" text-anchor="middle">10<tspan font-size="2.6" dy="-1.2">1</tspan></text>
<text transform="translate(459.5 602.8) rotate(-90)" text-anchor="middle">10<tspan font-size="2.6" dy="-1.2">2</tspan></text>
<text transform="translate(459.5 587.3) rotate(-90)" text-anchor="middle">10<tspan font-size="2.6" dy="-1.2">3</tspan></text>
<text transform="translate(459.5 571.8) rotate(-90)" text-anchor="middle">10<tspan font-size="2.6" dy="-1.2">4</tspan></text>
</g>
<path d="M461.3 633.8h1.8M462.5 633.8v1.8M461.3 629.13h1.2M466.32 633.8v1.2M461.3 626.4h1.2M468.56 633.8v1.2M461.3 624.47h1.2M470.15 633.8v1.2M461.3 622.97h1.2M471.38 633.8v1.2M461.3 621.74h1.2M472.38 633.8v1.2M461.3 620.7h1.2M473.23 633.8v1.2M461.3 619.8h1.2M473.97 633.8v1.2M461.3 619.01h1.2M474.62 633.8v1.2M461.3 618.3h1.8M475.2 633.8v1.8M461.3 613.63h1.2M479.02 633.8v1.2M461.3 610.9h1.2M481.26 633.8v1.2M461.3 608.97h1.2M482.85 633.8v1.2M461.3 607.47h1.2M484.08 633.8v1.2M461.3 606.24h1.2M485.08 633.8v1.2M461.3 605.2h1.2M485.93 633.8v1.2M461.3 604.3h1.2M486.67 633.8v1.2M461.3 603.51h1.2M487.32 633.8v1.2M461.3 602.8h1.8M487.9 633.8v1.8M461.3 598.13h1.2M491.72 633.8v1.2M461.3 595.4h1.2M493.96 633.8v1.2M461.3 593.47h1.2M495.55 633.8v1.2M461.3 591.97h1.2M496.78 633.8v1.2M461.3 590.74h1.2M497.78 633.8v1.2M461.3 589.7h1.2M498.63 633.8v1.2M461.3 588.8h1.2M499.37 633.8v1.2M461.3 588.01h1.2M500.02 633.8v1.2M461.3 587.3h1.8M500.6 633.8v1.8M461.3 582.63h1.2M504.42 633.8v1.2M461.3 579.9h1.2M506.66 633.8v1.2M461.3 577.97h1.2M508.25 633.8v1.2M461.3 576.47h1.2M509.48 633.8v1.2M461.3 575.24h1.2M510.48 633.8v1.2M461.3 574.2h1.2M511.33 633.8v1.2M461.3 573.3h1.2M512.07 633.8v1.2M461.3 572.51h1.2M512.72 633.8v1.2" stroke="#555" stroke-width="0.4"/>
<g font-size="5.1" fill="#1a1a1a" text-anchor="middle">
<text x="463.7" y="642.1">10<tspan font-size="3.4" dy="-1.8">0</tspan></text>
<text x="476.4" y="642.1">10<tspan font-size="3.4" dy="-1.8">1</tspan></text>
<text x="489.1" y="642.1">10<tspan font-size="3.4" dy="-1.8">2</tspan></text>
<text x="501.8" y="642.1">10<tspan font-size="3.4" dy="-1.8">3</tspan></text>
<text x="514.5" y="642.1">10<tspan font-size="3.4" dy="-1.8">4</tspan></text>
</g>
<path d="M449.5 583.8V593.87M449.5 619.33V629.1" stroke="#111" stroke-width="0.9"/>
<path d="M449.5 580.8l1.5 4.2h-3z" fill="#111"/>
<text transform="translate(452.4 606.6) rotate(-90)" font-size="8" text-anchor="middle">Ter119</text>
<path d="M385.4 319.6H436.9M458.9 319.6H508.3" stroke="#111" stroke-width="1"/>
<path d="M513.3 319.6l-7 -1.8v3.6z" fill="#111"/>
<text x="447.9" y="322.4" font-size="7.8" text-anchor="middle">eGFP</text>
<path d="M384.8 651H435.2M457.2 651H501" stroke="#111" stroke-width="1"/>
<path d="M506 651l-7 -1.8v3.6z" fill="#111"/>
<text x="446.2" y="653.8" font-size="7.8" text-anchor="middle">eGFP</text>
</g>
</svg>
</body></html>
